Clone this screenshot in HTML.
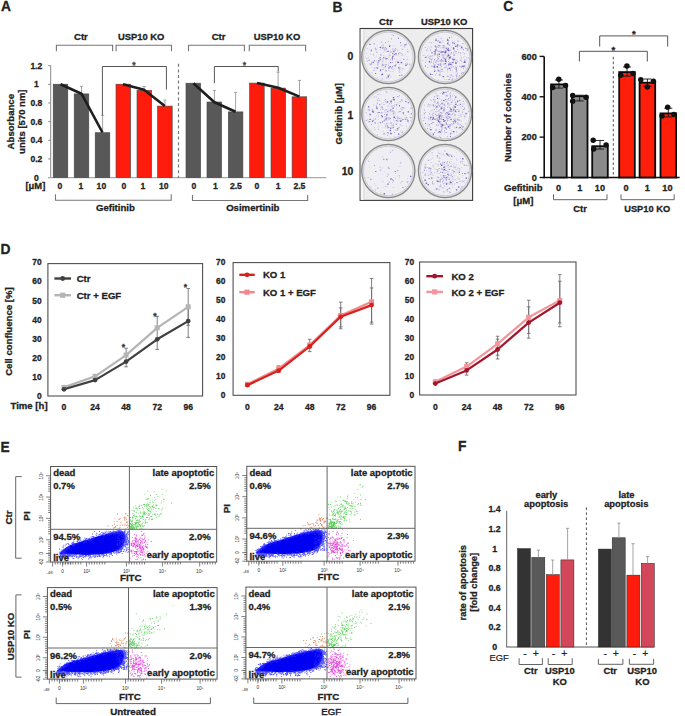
<!DOCTYPE html>
<html><head><meta charset="utf-8"><style>
html,body{margin:0;padding:0;background:#fff;overflow:hidden;width:685px;height:716px;}
svg{display:block;font-family:"Liberation Sans",sans-serif;}
</style></head><body>
<svg width="685" height="716" viewBox="0 0 685 716">
<rect width="685" height="716" fill="#ffffff"/>
<text x="1.0" y="11.4" font-size="13.8" text-anchor="start" font-weight="bold" fill="#222" stroke="#222" stroke-width="0.28">A</text>
<text x="80.9" y="40.0" font-size="9.6" text-anchor="middle" font-weight="bold" fill="#222" stroke="#222" stroke-width="0.28">Ctr</text>
<text x="141.2" y="40.0" font-size="9.4" text-anchor="middle" font-weight="bold" fill="#222" stroke="#222" stroke-width="0.28">USP10 KO</text>
<text x="218.6" y="40.0" font-size="9.6" text-anchor="middle" font-weight="bold" fill="#222" stroke="#222" stroke-width="0.28">Ctr</text>
<text x="277.0" y="40.0" font-size="9.4" text-anchor="middle" font-weight="bold" fill="#222" stroke="#222" stroke-width="0.28">USP10 KO</text>
<polyline points="56.4,51.2 56.4,45.3 112.6,45.3 112.6,51.2" fill="none" stroke="#777" stroke-width="1.1"/>
<polyline points="116.1,51.2 116.1,45.3 171.5,45.3 171.5,51.2" fill="none" stroke="#777" stroke-width="1.1"/>
<polyline points="188.5,51.2 188.5,45.3 244.4,45.3 244.4,51.2" fill="none" stroke="#777" stroke-width="1.1"/>
<polyline points="249.3,51.2 249.3,45.3 305.6,45.3 305.6,51.2" fill="none" stroke="#777" stroke-width="1.1"/>
<line x1="50.7" y1="65.6" x2="50.7" y2="177.6" stroke="#888" stroke-width="1"/>
<line x1="48.2" y1="177.6" x2="50.7" y2="177.6" stroke="#888" stroke-width="1"/>
<text x="36.4" y="180.7" font-size="8.6" text-anchor="middle" font-weight="bold" fill="#222" stroke="#222" stroke-width="0.28">0</text>
<line x1="48.2" y1="158.94" x2="50.7" y2="158.94" stroke="#888" stroke-width="1"/>
<text x="36.4" y="162.04" font-size="8.6" text-anchor="middle" font-weight="bold" fill="#222" stroke="#222" stroke-width="0.28">0.2</text>
<line x1="48.2" y1="140.28" x2="50.7" y2="140.28" stroke="#888" stroke-width="1"/>
<text x="36.4" y="143.38" font-size="8.6" text-anchor="middle" font-weight="bold" fill="#222" stroke="#222" stroke-width="0.28">0.4</text>
<line x1="48.2" y1="121.61999999999999" x2="50.7" y2="121.61999999999999" stroke="#888" stroke-width="1"/>
<text x="36.4" y="124.71999999999998" font-size="8.6" text-anchor="middle" font-weight="bold" fill="#222" stroke="#222" stroke-width="0.28">0.6</text>
<line x1="48.2" y1="102.96" x2="50.7" y2="102.96" stroke="#888" stroke-width="1"/>
<text x="36.4" y="106.05999999999999" font-size="8.6" text-anchor="middle" font-weight="bold" fill="#222" stroke="#222" stroke-width="0.28">0.8</text>
<line x1="48.2" y1="84.3" x2="50.7" y2="84.3" stroke="#888" stroke-width="1"/>
<text x="36.4" y="87.39999999999999" font-size="8.6" text-anchor="middle" font-weight="bold" fill="#222" stroke="#222" stroke-width="0.28">1</text>
<line x1="48.2" y1="65.63999999999999" x2="50.7" y2="65.63999999999999" stroke="#888" stroke-width="1"/>
<text x="36.4" y="68.73999999999998" font-size="8.6" text-anchor="middle" font-weight="bold" fill="#222" stroke="#222" stroke-width="0.28">1.2</text>
<line x1="48.2" y1="177.6" x2="326.3" y2="177.6" stroke="#aaa" stroke-width="1.2"/>
<text x="14.4" y="121.7" font-size="9.6" text-anchor="middle" font-weight="bold" fill="#222" stroke="#222" stroke-width="0.28" transform="rotate(-90 14.4 121.7)">Absorbance</text>
<text x="24.6" y="121.7" font-size="9.5" text-anchor="middle" font-weight="bold" fill="#222" stroke="#222" stroke-width="0.28" transform="rotate(-90 24.6 121.7)">units [570 nm]</text>
<rect x="53.2" y="84.2" width="14.6" height="93.39999999999999" fill="#585858" stroke="#444" stroke-width="0.6"/>
<rect x="74.2" y="93.9" width="14.6" height="83.69999999999999" fill="#585858" stroke="#444" stroke-width="0.6"/>
<rect x="95.2" y="132.7" width="14.6" height="44.900000000000006" fill="#585858" stroke="#444" stroke-width="0.6"/>
<rect x="116.0" y="84.2" width="14.6" height="93.39999999999999" fill="#ff1c0c" stroke="#444" stroke-width="0.6"/>
<rect x="137.0" y="90.3" width="14.6" height="87.3" fill="#ff1c0c" stroke="#444" stroke-width="0.6"/>
<rect x="157.6" y="106.1" width="14.6" height="71.5" fill="#ff1c0c" stroke="#444" stroke-width="0.6"/>
<rect x="186.0" y="83.2" width="14.6" height="94.39999999999999" fill="#585858" stroke="#444" stroke-width="0.6"/>
<rect x="207.0" y="102.0" width="14.6" height="75.6" fill="#585858" stroke="#444" stroke-width="0.6"/>
<rect x="228.3" y="111.9" width="14.6" height="65.69999999999999" fill="#585858" stroke="#444" stroke-width="0.6"/>
<rect x="249.6" y="83.1" width="14.6" height="94.5" fill="#ff1c0c" stroke="#444" stroke-width="0.6"/>
<rect x="271.0" y="88.1" width="14.6" height="89.5" fill="#ff1c0c" stroke="#444" stroke-width="0.6"/>
<rect x="292.1" y="96.8" width="14.6" height="80.8" fill="#ff1c0c" stroke="#444" stroke-width="0.6"/>
<line x1="81.5" y1="86.4" x2="81.5" y2="93.9" stroke="#9a9a9a" stroke-width="0.9"/>
<line x1="79.9" y1="86.4" x2="83.1" y2="86.4" stroke="#9a9a9a" stroke-width="0.9"/>
<line x1="102.6" y1="115.3" x2="102.6" y2="132.7" stroke="#9a9a9a" stroke-width="0.9"/>
<line x1="101.0" y1="115.3" x2="104.19999999999999" y2="115.3" stroke="#9a9a9a" stroke-width="0.9"/>
<line x1="144.1" y1="86.5" x2="144.1" y2="90.3" stroke="#9a9a9a" stroke-width="0.9"/>
<line x1="142.5" y1="86.5" x2="145.7" y2="86.5" stroke="#9a9a9a" stroke-width="0.9"/>
<line x1="164.9" y1="100.1" x2="164.9" y2="106.1" stroke="#9a9a9a" stroke-width="0.9"/>
<line x1="163.3" y1="100.1" x2="166.5" y2="100.1" stroke="#9a9a9a" stroke-width="0.9"/>
<line x1="214.4" y1="90.4" x2="214.4" y2="102.0" stroke="#9a9a9a" stroke-width="0.9"/>
<line x1="212.8" y1="90.4" x2="216.0" y2="90.4" stroke="#9a9a9a" stroke-width="0.9"/>
<line x1="235.6" y1="92.4" x2="235.6" y2="111.9" stroke="#9a9a9a" stroke-width="0.9"/>
<line x1="234.0" y1="92.4" x2="237.2" y2="92.4" stroke="#9a9a9a" stroke-width="0.9"/>
<line x1="278.1" y1="72.2" x2="278.1" y2="88.1" stroke="#9a9a9a" stroke-width="0.9"/>
<line x1="276.5" y1="72.2" x2="279.70000000000005" y2="72.2" stroke="#9a9a9a" stroke-width="0.9"/>
<line x1="299.5" y1="80.4" x2="299.5" y2="96.8" stroke="#9a9a9a" stroke-width="0.9"/>
<line x1="297.9" y1="80.4" x2="301.1" y2="80.4" stroke="#9a9a9a" stroke-width="0.9"/>
<polyline points="60.5,84.2 81.5,93.7 102.5,132.5" fill="none" stroke="#1e1e1e" stroke-width="2.6" stroke-linejoin="round"/>
<polyline points="123.0,84.3 144.0,89.8 164.8,106.0" fill="none" stroke="#1e1e1e" stroke-width="2.6" stroke-linejoin="round"/>
<polyline points="193.4,83.3 214.4,102.2 235.6,111.8" fill="none" stroke="#1e1e1e" stroke-width="2.6" stroke-linejoin="round"/>
<polyline points="257.0,83.0 278.2,87.8 299.5,96.6" fill="none" stroke="#1e1e1e" stroke-width="2.6" stroke-linejoin="round"/>
<polyline points="102.4,115.3 102.4,66.5 166.4,66.5 166.4,89.6" fill="none" stroke="#555" stroke-width="1.0"/>
<text x="133.8" y="68.3" font-size="8.5" text-anchor="middle" font-weight="bold" fill="#444" stroke="#444" stroke-width="0.28">*</text>
<polyline points="214.4,83.1 214.4,66.5 278.2,66.5 278.2,71.5" fill="none" stroke="#555" stroke-width="1.0"/>
<text x="244.4" y="68.3" font-size="8.5" text-anchor="middle" font-weight="bold" fill="#444" stroke="#444" stroke-width="0.28">*</text>
<line x1="178.5" y1="63.8" x2="178.5" y2="178" stroke="#777" stroke-width="1.2" stroke-dasharray="3 2.6"/>
<text x="59.9" y="189.4" font-size="8.6" text-anchor="middle" font-weight="bold" fill="#222" stroke="#222" stroke-width="0.28">0</text>
<text x="81.0" y="189.4" font-size="8.6" text-anchor="middle" font-weight="bold" fill="#222" stroke="#222" stroke-width="0.28">1</text>
<text x="101.4" y="189.4" font-size="8.6" text-anchor="middle" font-weight="bold" fill="#222" stroke="#222" stroke-width="0.28">10</text>
<text x="123.8" y="189.4" font-size="8.6" text-anchor="middle" font-weight="bold" fill="#222" stroke="#222" stroke-width="0.28">0</text>
<text x="142.9" y="189.4" font-size="8.6" text-anchor="middle" font-weight="bold" fill="#222" stroke="#222" stroke-width="0.28">1</text>
<text x="163.7" y="189.4" font-size="8.6" text-anchor="middle" font-weight="bold" fill="#222" stroke="#222" stroke-width="0.28">10</text>
<text x="193.9" y="189.4" font-size="8.6" text-anchor="middle" font-weight="bold" fill="#222" stroke="#222" stroke-width="0.28">0</text>
<text x="215.3" y="189.4" font-size="8.6" text-anchor="middle" font-weight="bold" fill="#222" stroke="#222" stroke-width="0.28">1</text>
<text x="235.9" y="189.4" font-size="8.6" text-anchor="middle" font-weight="bold" fill="#222" stroke="#222" stroke-width="0.28">2.5</text>
<text x="257.0" y="189.4" font-size="8.6" text-anchor="middle" font-weight="bold" fill="#222" stroke="#222" stroke-width="0.28">0</text>
<text x="278.1" y="189.4" font-size="8.6" text-anchor="middle" font-weight="bold" fill="#222" stroke="#222" stroke-width="0.28">1</text>
<text x="299.4" y="189.4" font-size="8.6" text-anchor="middle" font-weight="bold" fill="#222" stroke="#222" stroke-width="0.28">2.5</text>
<text x="45.3" y="189.4" font-size="9.4" text-anchor="end" font-weight="bold" fill="#222" stroke="#222" stroke-width="0.28">[μM]</text>
<polyline points="55.5,194.2 55.5,200.3 171.2,200.3 171.2,194.2" fill="none" stroke="#777" stroke-width="1.1"/>
<polyline points="192.5,195.0 192.5,200.5 307.7,200.5 307.7,195.0" fill="none" stroke="#777" stroke-width="1.1"/>
<text x="115.4" y="211.0" font-size="9.6" text-anchor="middle" font-weight="bold" fill="#222" stroke="#222" stroke-width="0.28">Gefitinib</text>
<text x="252.8" y="210.9" font-size="9.6" text-anchor="middle" font-weight="bold" fill="#222" stroke="#222" stroke-width="0.28">Osimertinib</text>
<text x="332.6" y="11.6" font-size="13.8" text-anchor="start" font-weight="bold" fill="#222" stroke="#222" stroke-width="0.28">B</text>
<text x="386.0" y="25.4" font-size="9.6" text-anchor="middle" font-weight="bold" fill="#222" stroke="#222" stroke-width="0.28">Ctr</text>
<text x="444.2" y="25.2" font-size="9.4" text-anchor="middle" font-weight="bold" fill="#222" stroke="#222" stroke-width="0.28">USP10 KO</text>
<text x="353.4" y="60.2" font-size="10.4" text-anchor="end" font-weight="bold" fill="#222" stroke="#222" stroke-width="0.28">0</text>
<text x="353.4" y="118.5" font-size="10.4" text-anchor="end" font-weight="bold" fill="#222" stroke="#222" stroke-width="0.28">1</text>
<text x="353.4" y="175.3" font-size="10.4" text-anchor="end" font-weight="bold" fill="#222" stroke="#222" stroke-width="0.28">10</text>
<text x="341.6" y="113.8" font-size="9.5" text-anchor="middle" font-weight="bold" fill="#222" stroke="#222" stroke-width="0.28" transform="rotate(-90 341.6 113.8)">Gefitinib [μM]</text>
<rect x="360.1" y="28.5" width="112.5" height="171.9" fill="#ededed" stroke="#3a3a3a" stroke-width="1.1"/>
<rect x="360.7" y="29.1" width="3.2" height="170.7" fill="#f8f8f8" stroke="none" stroke-width="0"/>
<line x1="363.8" y1="29.1" x2="363.8" y2="199.8" stroke="#c8c8c8" stroke-width="0.6"/>
<circle cx="388.3" cy="57.0" r="26.6" fill="#e4e4e8" stroke="#868686" stroke-width="1.3"/>
<circle cx="388.3" cy="57.0" r="24.8" fill="#efeef3" stroke="#c4c4c8" stroke-width="0.8"/>
<path d="M384.8 63.9h1.3v1.3h-1.3zM390.9 51.6h1.0v1.0h-1.0zM384.6 56.8h0.8v0.8h-0.8zM395.2 63.8h1.3v1.3h-1.3zM386.4 64.3h0.5v0.5h-0.5zM369.2 49.4h0.5v0.5h-0.5zM389.0 74.7h1.0v1.0h-1.0zM398.7 66.5h0.7v0.7h-0.7zM384.5 57.3h1.3v1.3h-1.3zM393.5 45.7h0.7v0.7h-0.7zM385.4 70.1h1.3v1.3h-1.3zM400.1 52.4h1.0v1.0h-1.0zM380.1 57.2h0.8v0.8h-0.8zM382.9 44.9h0.6v0.6h-0.6zM392.7 65.8h0.6v0.6h-0.6zM392.5 49.5h0.7v0.7h-0.7zM376.9 63.4h1.0v1.0h-1.0zM407.1 50.9h1.3v1.3h-1.3zM377.6 65.6h0.5v0.5h-0.5zM381.1 62.2h0.6v0.6h-0.6zM402.5 68.7h0.5v0.5h-0.5zM396.7 61.0h0.8v0.8h-0.8zM388.1 69.5h0.7v0.7h-0.7zM400.1 67.4h0.8v0.8h-0.8zM385.4 64.0h1.3v1.3h-1.3zM389.8 59.5h1.0v1.0h-1.0zM397.6 36.7h0.6v0.6h-0.6zM382.0 64.2h0.6v0.6h-0.6zM368.7 59.5h1.3v1.3h-1.3zM395.2 61.1h0.6v0.6h-0.6zM375.5 48.8h1.3v1.3h-1.3zM381.4 46.5h1.0v1.0h-1.0zM392.6 48.7h0.7v0.7h-0.7zM365.2 56.8h0.7v0.7h-0.7zM382.0 60.5h1.3v1.3h-1.3zM371.0 61.7h1.0v1.0h-1.0zM402.2 49.1h1.0v1.0h-1.0zM391.4 38.7h0.6v0.6h-0.6zM366.8 60.6h1.0v1.0h-1.0zM402.0 67.8h0.6v0.6h-0.6zM394.2 58.6h0.8v0.8h-0.8zM391.7 67.4h1.0v1.0h-1.0zM392.6 71.1h0.8v0.8h-0.8zM383.4 58.9h0.6v0.6h-0.6zM400.5 74.8h1.3v1.3h-1.3zM388.2 64.4h0.8v0.8h-0.8zM401.4 53.0h0.8v0.8h-0.8zM383.5 48.6h1.3v1.3h-1.3zM376.0 55.8h0.6v0.6h-0.6zM399.1 64.1h0.7v0.7h-0.7zM385.9 57.9h0.7v0.7h-0.7zM397.6 62.4h0.6v0.6h-0.6zM387.9 64.7h1.0v1.0h-1.0zM376.5 60.5h1.0v1.0h-1.0zM404.6 47.4h0.5v0.5h-0.5zM388.8 63.5h0.6v0.6h-0.6zM376.8 44.9h0.6v0.6h-0.6zM380.0 54.2h0.8v0.8h-0.8zM369.5 63.5h1.3v1.3h-1.3zM375.7 67.0h1.3v1.3h-1.3zM407.2 58.7h0.7v0.7h-0.7zM396.6 59.4h0.7v0.7h-0.7zM405.1 54.1h0.6v0.6h-0.6zM395.3 50.6h0.6v0.6h-0.6zM399.5 71.2h0.8v0.8h-0.8zM401.2 74.6h1.3v1.3h-1.3zM398.9 69.7h1.0v1.0h-1.0zM389.2 54.7h1.3v1.3h-1.3zM391.7 59.0h1.3v1.3h-1.3zM370.5 50.1h1.3v1.3h-1.3zM388.1 41.0h1.0v1.0h-1.0zM366.1 53.3h0.8v0.8h-0.8zM390.7 76.5h0.8v0.8h-0.8zM376.8 67.4h1.3v1.3h-1.3zM406.7 62.6h0.6v0.6h-0.6zM383.0 52.0h0.8v0.8h-0.8zM385.9 77.1h1.3v1.3h-1.3zM367.0 58.4h0.7v0.7h-0.7zM381.6 58.4h1.0v1.0h-1.0zM393.1 54.7h0.5v0.5h-0.5zM385.5 47.6h0.8v0.8h-0.8zM382.5 44.4h1.3v1.3h-1.3zM381.7 66.8h0.7v0.7h-0.7zM385.1 69.7h0.8v0.8h-0.8zM388.3 67.7h1.0v1.0h-1.0zM385.3 58.4h1.3v1.3h-1.3zM380.4 54.4h0.8v0.8h-0.8zM381.7 78.3h1.3v1.3h-1.3zM402.5 70.3h0.5v0.5h-0.5zM401.5 48.1h0.6v0.6h-0.6zM376.9 76.9h0.8v0.8h-0.8zM390.4 62.5h0.7v0.7h-0.7zM382.8 68.8h1.0v1.0h-1.0zM371.7 72.1h0.6v0.6h-0.6zM385.7 61.1h0.7v0.7h-0.7zM398.4 55.2h0.5v0.5h-0.5zM392.8 53.5h0.5v0.5h-0.5zM385.9 63.7h0.7v0.7h-0.7zM367.0 65.8h0.5v0.5h-0.5zM370.6 54.3h0.8v0.8h-0.8zM388.5 56.4h1.0v1.0h-1.0zM378.5 58.5h0.6v0.6h-0.6zM371.6 67.3h0.5v0.5h-0.5zM368.0 57.2h0.8v0.8h-0.8zM390.3 71.1h0.7v0.7h-0.7zM400.3 59.6h0.8v0.8h-0.8zM379.1 56.7h0.6v0.6h-0.6zM392.5 48.1h0.6v0.6h-0.6zM393.3 52.8h1.0v1.0h-1.0zM405.4 63.3h0.8v0.8h-0.8zM406.4 59.7h0.8v0.8h-0.8zM378.8 66.1h0.7v0.7h-0.7zM392.5 60.5h0.5v0.5h-0.5zM395.0 55.1h0.6v0.6h-0.6zM389.7 45.4h0.8v0.8h-0.8zM392.8 69.1h0.8v0.8h-0.8zM388.7 53.1h0.5v0.5h-0.5zM398.2 49.6h0.7v0.7h-0.7zM393.0 55.4h0.6v0.6h-0.6zM388.4 62.0h0.5v0.5h-0.5zM398.9 56.2h0.5v0.5h-0.5zM396.5 55.5h0.6v0.6h-0.6zM373.5 43.1h1.3v1.3h-1.3zM391.7 34.3h0.7v0.7h-0.7zM376.3 51.7h1.3v1.3h-1.3zM380.2 60.2h0.6v0.6h-0.6zM401.6 45.1h0.7v0.7h-0.7zM388.2 67.2h1.0v1.0h-1.0zM395.4 38.6h0.5v0.5h-0.5zM399.3 59.8h0.5v0.5h-0.5zM402.7 68.3h1.0v1.0h-1.0zM400.3 59.9h0.5v0.5h-0.5zM377.3 64.1h1.0v1.0h-1.0zM384.3 50.3h1.0v1.0h-1.0zM381.3 44.7h0.5v0.5h-0.5zM376.6 51.8h0.8v0.8h-0.8zM380.0 46.4h0.8v0.8h-0.8zM380.5 59.0h0.5v0.5h-0.5zM394.2 68.1h0.6v0.6h-0.6zM381.0 74.1h1.3v1.3h-1.3zM392.4 49.4h0.6v0.6h-0.6zM395.6 54.0h0.7v0.7h-0.7zM388.7 78.8h0.6v0.6h-0.6zM382.2 69.1h0.8v0.8h-0.8zM380.2 48.7h0.8v0.8h-0.8zM388.4 70.5h0.7v0.7h-0.7zM380.1 59.2h0.8v0.8h-0.8zM400.0 62.2h0.7v0.7h-0.7zM373.2 62.8h0.5v0.5h-0.5zM379.9 77.0h0.5v0.5h-0.5zM375.1 56.7h0.6v0.6h-0.6zM399.9 62.0h0.7v0.7h-0.7zM397.0 50.4h0.8v0.8h-0.8zM391.0 67.2h1.0v1.0h-1.0zM382.0 63.5h0.8v0.8h-0.8zM407.2 49.0h0.8v0.8h-0.8zM389.8 50.4h1.0v1.0h-1.0zM379.0 47.1h0.7v0.7h-0.7zM406.1 55.9h0.7v0.7h-0.7zM405.8 43.6h1.3v1.3h-1.3zM399.4 72.1h0.8v0.8h-0.8z" fill="#8270d0" fill-opacity="0.5"/>
<path d="M389.3 74.1h0.5v0.5h-0.5zM405.0 63.8h0.5v0.5h-0.5zM379.9 47.0h1.0v1.0h-1.0zM371.0 49.6h0.8v0.8h-0.8zM377.7 62.2h1.0v1.0h-1.0zM381.7 64.8h0.6v0.6h-0.6zM380.1 69.3h1.0v1.0h-1.0zM375.2 49.8h0.5v0.5h-0.5zM368.5 60.2h0.5v0.5h-0.5zM381.8 73.6h1.3v1.3h-1.3zM409.9 65.4h0.6v0.6h-0.6zM395.5 48.7h0.8v0.8h-0.8zM391.9 62.1h0.7v0.7h-0.7zM388.9 45.6h1.3v1.3h-1.3zM384.8 47.0h0.7v0.7h-0.7zM382.4 64.6h1.0v1.0h-1.0zM383.7 65.5h0.6v0.6h-0.6zM366.3 58.0h0.5v0.5h-0.5zM379.5 58.5h1.0v1.0h-1.0zM380.1 70.3h1.0v1.0h-1.0zM392.9 34.9h0.8v0.8h-0.8zM370.6 64.8h0.5v0.5h-0.5zM401.7 54.6h0.8v0.8h-0.8zM387.4 50.7h1.3v1.3h-1.3zM381.4 41.8h0.8v0.8h-0.8zM370.8 63.5h1.0v1.0h-1.0zM398.1 53.3h1.0v1.0h-1.0zM391.0 68.2h0.5v0.5h-0.5zM398.1 67.3h1.3v1.3h-1.3zM386.5 51.4h0.5v0.5h-0.5zM388.0 59.5h0.5v0.5h-0.5zM379.8 57.0h0.7v0.7h-0.7zM392.0 56.9h0.5v0.5h-0.5zM389.5 66.0h1.3v1.3h-1.3zM407.2 63.8h0.8v0.8h-0.8zM383.0 47.3h0.6v0.6h-0.6zM377.0 67.4h1.0v1.0h-1.0zM385.0 66.3h1.0v1.0h-1.0zM393.1 50.7h1.3v1.3h-1.3zM369.3 43.8h1.3v1.3h-1.3zM398.0 37.8h1.0v1.0h-1.0zM404.4 44.2h1.3v1.3h-1.3zM388.7 67.6h0.8v0.8h-0.8zM397.8 61.8h1.3v1.3h-1.3zM394.5 65.3h1.3v1.3h-1.3zM403.3 58.7h1.0v1.0h-1.0zM378.1 60.4h0.6v0.6h-0.6zM392.0 53.1h0.8v0.8h-0.8zM395.0 48.3h0.5v0.5h-0.5zM400.6 44.9h0.6v0.6h-0.6zM409.3 63.7h0.8v0.8h-0.8zM381.9 47.5h1.0v1.0h-1.0zM375.1 72.9h1.0v1.0h-1.0zM394.5 49.8h0.7v0.7h-0.7zM373.7 70.0h0.8v0.8h-0.8zM391.7 57.5h1.3v1.3h-1.3zM383.0 57.3h1.0v1.0h-1.0zM400.7 69.5h0.5v0.5h-0.5zM387.0 58.0h0.7v0.7h-0.7zM392.0 65.9h0.8v0.8h-0.8zM400.9 62.0h1.3v1.3h-1.3zM399.3 51.9h0.6v0.6h-0.6zM373.2 54.6h0.7v0.7h-0.7zM385.8 48.4h1.0v1.0h-1.0zM389.9 52.4h0.6v0.6h-0.6zM392.2 55.8h1.3v1.3h-1.3zM383.9 67.0h0.5v0.5h-0.5zM385.0 42.2h0.8v0.8h-0.8zM399.0 68.8h0.5v0.5h-0.5zM391.0 38.6h0.7v0.7h-0.7zM374.9 47.8h0.8v0.8h-0.8zM380.6 54.8h0.8v0.8h-0.8zM390.1 62.0h1.0v1.0h-1.0zM378.3 60.3h1.3v1.3h-1.3zM387.7 75.3h1.3v1.3h-1.3zM383.6 55.5h0.5v0.5h-0.5zM399.1 74.9h0.8v0.8h-0.8zM374.2 67.7h0.7v0.7h-0.7zM394.1 54.1h0.8v0.8h-0.8zM403.9 46.3h0.6v0.6h-0.6zM400.0 42.2h1.0v1.0h-1.0zM367.2 48.3h0.5v0.5h-0.5zM385.6 58.1h1.0v1.0h-1.0zM373.9 60.2h1.0v1.0h-1.0zM405.4 64.6h1.3v1.3h-1.3zM395.3 52.9h1.3v1.3h-1.3zM372.5 61.8h1.3v1.3h-1.3zM396.9 61.8h1.0v1.0h-1.0zM387.9 76.4h1.0v1.0h-1.0z" fill="#5236b4" fill-opacity="0.78"/>
<circle cx="445.0" cy="57.0" r="26.6" fill="#e4e4e8" stroke="#868686" stroke-width="1.3"/>
<circle cx="445.0" cy="57.0" r="24.8" fill="#efeef3" stroke="#c4c4c8" stroke-width="0.8"/>
<path d="M442.2 60.2h0.8v0.8h-0.8zM443.4 54.6h0.5v0.5h-0.5zM439.5 72.6h1.0v1.0h-1.0zM429.3 47.9h0.6v0.6h-0.6zM445.3 64.7h0.5v0.5h-0.5zM457.3 72.8h0.7v0.7h-0.7zM459.2 45.6h1.0v1.0h-1.0zM465.4 48.5h0.6v0.6h-0.6zM449.8 57.0h0.5v0.5h-0.5zM445.4 61.7h0.5v0.5h-0.5zM436.6 45.8h1.0v1.0h-1.0zM442.5 41.7h1.0v1.0h-1.0zM457.5 38.4h0.8v0.8h-0.8zM440.3 50.0h0.5v0.5h-0.5zM454.9 53.3h0.5v0.5h-0.5zM449.5 53.5h1.0v1.0h-1.0zM444.4 66.9h1.3v1.3h-1.3zM449.8 69.6h1.0v1.0h-1.0zM448.3 43.9h1.0v1.0h-1.0zM451.4 53.0h0.5v0.5h-0.5zM452.2 62.7h0.5v0.5h-0.5zM437.8 58.0h1.3v1.3h-1.3zM439.0 69.9h0.5v0.5h-0.5zM442.5 54.7h0.8v0.8h-0.8zM435.8 54.8h0.5v0.5h-0.5zM441.6 71.1h1.0v1.0h-1.0zM427.3 55.3h0.6v0.6h-0.6zM449.6 77.5h0.8v0.8h-0.8zM454.1 58.5h0.7v0.7h-0.7zM437.0 54.7h1.3v1.3h-1.3zM437.4 47.0h0.7v0.7h-0.7zM452.1 69.8h0.7v0.7h-0.7zM455.6 67.8h1.3v1.3h-1.3zM435.0 49.4h0.6v0.6h-0.6zM444.2 50.8h1.3v1.3h-1.3zM451.1 35.8h0.8v0.8h-0.8zM425.8 56.9h0.8v0.8h-0.8zM457.1 49.1h1.0v1.0h-1.0zM457.3 40.6h1.3v1.3h-1.3zM435.4 61.3h1.3v1.3h-1.3zM442.3 57.3h0.8v0.8h-0.8zM454.5 49.6h0.5v0.5h-0.5zM453.6 54.3h0.7v0.7h-0.7zM429.9 49.4h1.3v1.3h-1.3zM450.1 77.0h0.8v0.8h-0.8zM465.0 48.0h1.0v1.0h-1.0zM455.2 60.8h0.8v0.8h-0.8zM430.9 42.3h1.0v1.0h-1.0zM447.8 42.0h0.6v0.6h-0.6zM448.9 44.8h1.3v1.3h-1.3zM430.8 58.8h1.3v1.3h-1.3zM443.4 55.2h0.5v0.5h-0.5zM455.2 61.9h1.0v1.0h-1.0zM451.2 64.7h0.8v0.8h-0.8zM449.8 49.4h1.3v1.3h-1.3zM441.8 51.0h0.5v0.5h-0.5zM445.7 64.4h0.8v0.8h-0.8zM441.9 47.3h0.6v0.6h-0.6zM446.0 55.8h0.7v0.7h-0.7zM426.5 49.3h0.8v0.8h-0.8zM429.4 56.0h0.6v0.6h-0.6zM441.2 38.4h0.7v0.7h-0.7zM438.3 46.6h1.0v1.0h-1.0zM454.5 51.2h0.7v0.7h-0.7zM439.2 67.4h0.7v0.7h-0.7zM450.7 56.0h0.5v0.5h-0.5zM431.9 52.4h1.0v1.0h-1.0zM460.8 47.0h1.0v1.0h-1.0zM435.4 38.6h1.3v1.3h-1.3zM451.9 62.1h0.5v0.5h-0.5zM452.5 65.9h1.3v1.3h-1.3zM440.4 70.5h0.7v0.7h-0.7zM428.7 49.8h0.5v0.5h-0.5zM442.8 57.8h0.8v0.8h-0.8zM464.9 56.1h0.6v0.6h-0.6zM439.6 60.3h1.3v1.3h-1.3zM460.1 45.4h0.8v0.8h-0.8zM442.2 50.7h0.5v0.5h-0.5zM444.3 51.4h1.3v1.3h-1.3zM448.3 58.1h0.5v0.5h-0.5zM437.0 58.5h0.5v0.5h-0.5zM433.3 41.9h0.8v0.8h-0.8zM439.8 70.4h0.6v0.6h-0.6zM444.8 57.8h0.7v0.7h-0.7zM443.2 64.3h1.0v1.0h-1.0zM428.2 57.0h1.0v1.0h-1.0zM446.9 75.5h1.3v1.3h-1.3zM443.4 56.0h0.8v0.8h-0.8zM446.4 47.2h1.0v1.0h-1.0zM438.0 71.5h0.6v0.6h-0.6zM448.0 65.0h1.3v1.3h-1.3zM434.5 67.9h0.5v0.5h-0.5zM452.6 62.1h1.0v1.0h-1.0zM435.4 52.7h0.7v0.7h-0.7zM442.7 59.2h0.5v0.5h-0.5zM443.4 51.3h0.7v0.7h-0.7zM438.2 64.2h1.3v1.3h-1.3zM455.1 59.5h0.7v0.7h-0.7zM442.0 55.9h0.5v0.5h-0.5zM422.8 55.1h0.8v0.8h-0.8zM439.5 74.3h1.3v1.3h-1.3zM440.3 66.4h0.5v0.5h-0.5zM442.9 58.9h0.5v0.5h-0.5zM426.1 59.7h0.6v0.6h-0.6zM444.3 48.5h0.8v0.8h-0.8zM443.6 70.9h0.6v0.6h-0.6zM434.7 52.1h0.6v0.6h-0.6zM456.6 66.5h0.8v0.8h-0.8zM461.7 72.5h0.7v0.7h-0.7zM444.3 67.0h0.6v0.6h-0.6zM465.4 64.7h0.7v0.7h-0.7zM435.6 45.7h1.0v1.0h-1.0zM445.5 57.6h1.0v1.0h-1.0zM442.5 60.0h0.8v0.8h-0.8zM438.3 53.8h0.6v0.6h-0.6zM446.0 65.4h1.0v1.0h-1.0zM451.8 40.4h0.6v0.6h-0.6zM455.4 45.1h0.5v0.5h-0.5zM445.6 49.8h1.3v1.3h-1.3zM439.6 63.0h0.7v0.7h-0.7zM443.3 63.3h1.3v1.3h-1.3zM428.4 55.6h1.0v1.0h-1.0zM445.2 62.8h1.0v1.0h-1.0zM453.2 63.2h0.5v0.5h-0.5zM464.9 47.1h0.7v0.7h-0.7zM430.6 46.6h1.0v1.0h-1.0zM451.7 58.9h0.8v0.8h-0.8zM445.5 50.5h0.5v0.5h-0.5zM456.8 70.8h0.6v0.6h-0.6zM464.1 59.2h1.3v1.3h-1.3zM457.2 61.1h0.8v0.8h-0.8zM447.6 53.3h1.0v1.0h-1.0zM451.5 57.5h0.6v0.6h-0.6zM430.3 63.6h0.5v0.5h-0.5zM461.5 47.6h1.3v1.3h-1.3zM461.8 48.3h0.7v0.7h-0.7zM454.9 57.9h0.5v0.5h-0.5zM438.3 75.4h0.5v0.5h-0.5zM449.6 53.7h1.0v1.0h-1.0zM460.4 48.0h0.7v0.7h-0.7zM427.2 48.6h0.6v0.6h-0.6zM439.9 71.6h0.7v0.7h-0.7zM440.6 64.6h1.0v1.0h-1.0zM443.2 55.9h0.7v0.7h-0.7zM456.5 53.4h0.7v0.7h-0.7zM438.4 79.4h0.6v0.6h-0.6zM435.1 49.2h1.3v1.3h-1.3zM468.1 57.6h1.0v1.0h-1.0zM441.5 75.6h0.5v0.5h-0.5zM430.7 61.4h1.3v1.3h-1.3zM435.0 70.2h1.0v1.0h-1.0zM454.4 44.1h0.8v0.8h-0.8zM432.9 62.2h0.6v0.6h-0.6zM448.0 56.2h0.7v0.7h-0.7zM447.5 40.3h0.8v0.8h-0.8zM424.5 54.8h0.8v0.8h-0.8zM437.6 42.2h0.5v0.5h-0.5zM425.4 56.9h1.0v1.0h-1.0zM450.4 70.1h0.8v0.8h-0.8zM435.8 70.9h0.5v0.5h-0.5zM442.4 54.0h0.8v0.8h-0.8zM466.4 57.4h1.0v1.0h-1.0zM427.7 46.6h0.6v0.6h-0.6zM437.5 56.3h0.6v0.6h-0.6zM450.7 62.5h1.0v1.0h-1.0zM451.7 61.9h1.0v1.0h-1.0zM453.2 60.4h1.0v1.0h-1.0zM427.5 64.0h0.6v0.6h-0.6zM454.7 72.2h0.6v0.6h-0.6zM447.1 68.5h1.3v1.3h-1.3zM447.7 47.2h0.6v0.6h-0.6zM443.8 58.2h0.7v0.7h-0.7zM437.0 66.3h0.8v0.8h-0.8zM432.3 52.5h0.8v0.8h-0.8zM445.3 60.6h1.3v1.3h-1.3zM448.4 47.5h0.6v0.6h-0.6zM455.2 67.6h0.6v0.6h-0.6zM435.0 51.5h0.8v0.8h-0.8zM463.3 56.8h0.8v0.8h-0.8zM438.1 64.5h1.0v1.0h-1.0zM460.9 73.0h1.3v1.3h-1.3zM434.6 54.2h0.8v0.8h-0.8zM443.5 49.6h0.5v0.5h-0.5zM452.3 61.4h0.6v0.6h-0.6zM452.8 35.5h0.6v0.6h-0.6zM452.4 65.1h0.5v0.5h-0.5zM451.4 37.2h0.8v0.8h-0.8zM440.7 42.5h0.8v0.8h-0.8zM439.1 50.8h0.5v0.5h-0.5zM437.6 51.0h1.3v1.3h-1.3zM457.4 75.5h1.0v1.0h-1.0zM439.5 50.5h0.6v0.6h-0.6zM462.6 71.9h1.3v1.3h-1.3zM437.8 50.6h1.0v1.0h-1.0zM450.5 76.5h0.6v0.6h-0.6zM452.9 41.5h0.6v0.6h-0.6zM464.0 53.3h1.0v1.0h-1.0zM453.0 55.1h0.7v0.7h-0.7zM429.5 58.3h1.3v1.3h-1.3zM430.3 55.6h1.3v1.3h-1.3zM452.4 45.3h0.6v0.6h-0.6zM441.9 69.4h0.6v0.6h-0.6zM438.7 59.1h0.7v0.7h-0.7zM434.8 52.3h1.0v1.0h-1.0zM445.0 51.3h1.3v1.3h-1.3zM444.3 46.4h1.3v1.3h-1.3zM436.9 60.5h1.0v1.0h-1.0zM438.9 64.7h0.6v0.6h-0.6zM441.4 59.5h0.6v0.6h-0.6zM439.7 51.6h0.6v0.6h-0.6zM448.3 59.1h0.8v0.8h-0.8zM435.1 62.0h1.3v1.3h-1.3zM437.0 41.3h0.8v0.8h-0.8zM435.2 74.3h1.0v1.0h-1.0zM459.9 52.5h1.3v1.3h-1.3zM456.1 44.5h1.3v1.3h-1.3zM455.8 71.2h1.0v1.0h-1.0zM430.6 65.4h1.0v1.0h-1.0zM444.3 66.7h0.6v0.6h-0.6zM442.5 47.6h0.8v0.8h-0.8zM445.3 50.3h1.3v1.3h-1.3zM425.0 62.1h1.0v1.0h-1.0zM461.9 52.7h0.5v0.5h-0.5zM445.8 52.4h0.6v0.6h-0.6zM465.4 62.5h0.6v0.6h-0.6zM444.8 54.9h0.7v0.7h-0.7zM462.8 62.0h0.5v0.5h-0.5zM439.7 57.4h0.7v0.7h-0.7zM454.3 41.5h0.7v0.7h-0.7zM435.7 60.1h1.0v1.0h-1.0zM443.3 44.9h0.8v0.8h-0.8zM444.1 58.2h1.0v1.0h-1.0zM446.5 67.2h1.0v1.0h-1.0zM457.3 73.1h0.7v0.7h-0.7zM442.4 45.0h1.3v1.3h-1.3zM452.8 56.8h0.6v0.6h-0.6zM455.3 46.2h0.8v0.8h-0.8zM438.5 53.1h1.3v1.3h-1.3zM442.5 40.0h0.7v0.7h-0.7zM459.2 63.5h0.6v0.6h-0.6zM445.2 59.7h0.5v0.5h-0.5zM453.8 48.3h0.6v0.6h-0.6zM447.2 54.8h0.7v0.7h-0.7zM449.0 50.2h0.5v0.5h-0.5zM459.5 75.1h0.5v0.5h-0.5zM437.0 66.5h1.3v1.3h-1.3zM426.3 50.3h1.0v1.0h-1.0zM447.4 75.7h1.3v1.3h-1.3zM459.8 54.9h0.7v0.7h-0.7zM434.3 55.0h0.7v0.7h-0.7zM425.4 60.0h0.7v0.7h-0.7zM440.1 52.1h1.0v1.0h-1.0zM436.9 54.1h1.0v1.0h-1.0zM437.8 63.0h0.5v0.5h-0.5zM439.2 45.8h0.6v0.6h-0.6zM462.9 50.5h0.6v0.6h-0.6zM466.2 59.8h0.6v0.6h-0.6zM451.6 78.9h1.3v1.3h-1.3zM452.5 65.7h0.5v0.5h-0.5zM444.6 52.8h0.8v0.8h-0.8zM444.1 59.9h0.5v0.5h-0.5zM451.2 53.2h0.7v0.7h-0.7zM444.5 50.9h0.6v0.6h-0.6z" fill="#8270d0" fill-opacity="0.5"/>
<path d="M448.8 50.0h0.5v0.5h-0.5zM444.8 59.1h1.3v1.3h-1.3zM450.7 64.1h1.0v1.0h-1.0zM440.8 67.7h0.5v0.5h-0.5zM440.7 51.5h1.3v1.3h-1.3zM431.3 52.2h1.0v1.0h-1.0zM461.0 46.5h1.3v1.3h-1.3zM454.2 42.9h0.8v0.8h-0.8zM424.9 65.4h1.0v1.0h-1.0zM439.2 51.4h0.6v0.6h-0.6zM452.3 58.4h1.3v1.3h-1.3zM437.8 36.0h0.5v0.5h-0.5zM445.7 48.0h1.0v1.0h-1.0zM445.1 51.2h1.3v1.3h-1.3zM448.9 55.2h0.7v0.7h-0.7zM447.2 38.7h0.8v0.8h-0.8zM438.9 56.3h0.8v0.8h-0.8zM460.8 57.4h0.8v0.8h-0.8zM466.5 48.3h0.8v0.8h-0.8zM436.2 47.8h0.8v0.8h-0.8zM462.5 42.9h0.8v0.8h-0.8zM428.8 61.1h1.3v1.3h-1.3zM455.0 46.0h1.0v1.0h-1.0zM449.1 67.7h1.3v1.3h-1.3zM428.9 42.4h0.6v0.6h-0.6zM442.9 57.5h0.8v0.8h-0.8zM444.0 79.2h0.5v0.5h-0.5zM435.3 39.8h1.3v1.3h-1.3zM440.6 38.4h0.7v0.7h-0.7zM461.5 61.0h0.6v0.6h-0.6zM436.5 66.1h1.3v1.3h-1.3zM448.6 79.0h1.0v1.0h-1.0zM437.1 58.9h0.5v0.5h-0.5zM434.8 45.6h1.0v1.0h-1.0zM448.0 50.0h1.3v1.3h-1.3zM433.9 59.3h1.0v1.0h-1.0zM437.6 64.3h0.8v0.8h-0.8zM451.2 52.3h0.7v0.7h-0.7zM447.1 49.1h1.3v1.3h-1.3zM448.9 37.2h1.0v1.0h-1.0zM462.2 65.8h1.3v1.3h-1.3zM449.1 57.5h1.3v1.3h-1.3zM431.8 66.1h0.7v0.7h-0.7zM439.9 64.6h0.8v0.8h-0.8zM444.5 58.4h0.6v0.6h-0.6zM422.2 60.6h0.5v0.5h-0.5zM463.6 61.7h1.3v1.3h-1.3zM447.1 43.0h1.3v1.3h-1.3zM456.1 67.6h0.7v0.7h-0.7zM446.1 79.0h0.6v0.6h-0.6zM430.0 73.8h1.3v1.3h-1.3zM424.8 57.2h0.7v0.7h-0.7zM455.3 62.6h1.3v1.3h-1.3zM435.8 49.5h1.0v1.0h-1.0zM447.6 42.3h0.7v0.7h-0.7zM434.7 52.4h0.5v0.5h-0.5zM444.6 54.6h0.6v0.6h-0.6zM437.7 40.1h0.6v0.6h-0.6zM447.7 48.3h1.3v1.3h-1.3zM433.7 51.0h1.0v1.0h-1.0zM434.8 49.8h1.0v1.0h-1.0zM466.9 49.4h1.0v1.0h-1.0zM444.9 60.8h0.6v0.6h-0.6zM455.3 46.1h0.5v0.5h-0.5zM438.4 45.1h0.8v0.8h-0.8zM459.0 75.0h0.6v0.6h-0.6zM434.3 67.0h0.6v0.6h-0.6zM456.9 47.4h0.6v0.6h-0.6zM461.6 65.8h0.7v0.7h-0.7zM454.4 68.4h0.5v0.5h-0.5zM449.6 56.4h1.3v1.3h-1.3zM460.9 66.7h0.8v0.8h-0.8zM448.3 63.6h1.3v1.3h-1.3zM439.2 41.6h1.3v1.3h-1.3zM432.5 55.5h0.7v0.7h-0.7zM453.0 47.1h0.8v0.8h-0.8zM456.5 62.5h0.6v0.6h-0.6zM452.9 48.1h1.3v1.3h-1.3zM433.2 61.3h0.5v0.5h-0.5zM424.8 47.1h0.6v0.6h-0.6zM453.9 43.0h0.8v0.8h-0.8zM437.6 69.5h1.0v1.0h-1.0zM439.6 45.5h0.8v0.8h-0.8zM433.0 63.5h0.8v0.8h-0.8zM447.7 54.6h1.3v1.3h-1.3zM449.2 62.6h0.6v0.6h-0.6zM459.5 65.9h0.8v0.8h-0.8zM433.9 66.5h1.3v1.3h-1.3zM427.5 67.1h0.6v0.6h-0.6zM452.1 42.2h1.3v1.3h-1.3zM442.8 76.0h1.3v1.3h-1.3zM455.5 51.2h1.0v1.0h-1.0zM453.9 54.6h0.8v0.8h-0.8zM464.7 62.2h0.8v0.8h-0.8zM452.5 42.6h0.5v0.5h-0.5zM441.5 69.0h1.0v1.0h-1.0zM438.0 60.8h0.7v0.7h-0.7zM440.9 59.5h1.0v1.0h-1.0zM447.1 39.6h1.3v1.3h-1.3zM430.9 59.9h0.5v0.5h-0.5zM437.9 40.6h0.6v0.6h-0.6zM440.0 63.6h0.7v0.7h-0.7zM438.9 74.4h0.8v0.8h-0.8zM463.6 65.4h1.3v1.3h-1.3zM431.9 74.3h0.8v0.8h-0.8zM447.1 71.7h0.6v0.6h-0.6zM441.6 51.4h1.0v1.0h-1.0zM441.3 66.0h0.6v0.6h-0.6zM434.7 64.5h0.8v0.8h-0.8zM452.8 59.0h0.6v0.6h-0.6zM442.8 46.8h0.8v0.8h-0.8zM441.7 54.4h0.6v0.6h-0.6zM456.6 59.7h0.7v0.7h-0.7zM462.9 67.8h0.8v0.8h-0.8zM458.5 52.3h0.7v0.7h-0.7zM434.7 46.3h0.5v0.5h-0.5zM448.5 68.2h0.6v0.6h-0.6zM456.0 70.6h0.7v0.7h-0.7zM455.5 66.6h0.6v0.6h-0.6zM454.2 50.0h0.5v0.5h-0.5zM441.2 61.6h0.7v0.7h-0.7zM463.1 49.2h0.7v0.7h-0.7zM464.9 67.6h0.5v0.5h-0.5zM451.1 47.4h0.6v0.6h-0.6zM442.4 51.3h1.3v1.3h-1.3zM444.4 44.9h0.6v0.6h-0.6zM445.3 60.9h1.0v1.0h-1.0zM437.1 57.0h0.7v0.7h-0.7zM447.6 69.8h0.5v0.5h-0.5zM446.7 57.7h0.6v0.6h-0.6zM450.8 66.8h0.8v0.8h-0.8zM438.3 70.5h1.0v1.0h-1.0zM463.3 52.5h0.5v0.5h-0.5zM452.7 76.0h0.8v0.8h-0.8zM444.9 63.1h1.0v1.0h-1.0zM439.0 54.1h1.0v1.0h-1.0zM455.7 69.0h1.0v1.0h-1.0zM450.3 62.0h0.5v0.5h-0.5zM457.1 44.4h1.3v1.3h-1.3zM456.1 76.5h0.7v0.7h-0.7zM429.5 72.9h0.7v0.7h-0.7zM436.4 73.3h0.5v0.5h-0.5zM440.3 47.7h0.6v0.6h-0.6zM434.4 53.2h1.3v1.3h-1.3zM447.1 56.3h0.7v0.7h-0.7zM429.4 58.3h0.5v0.5h-0.5zM453.4 58.9h1.3v1.3h-1.3zM433.0 66.6h0.6v0.6h-0.6zM434.3 69.8h0.7v0.7h-0.7zM441.6 54.8h0.6v0.6h-0.6zM434.0 70.9h1.0v1.0h-1.0zM448.6 56.8h1.0v1.0h-1.0zM452.5 62.1h0.8v0.8h-0.8zM436.5 47.4h0.7v0.7h-0.7zM448.3 61.1h0.7v0.7h-0.7zM425.8 55.9h0.7v0.7h-0.7zM432.1 58.5h0.6v0.6h-0.6zM435.0 51.1h0.7v0.7h-0.7zM444.9 59.9h0.6v0.6h-0.6zM450.7 74.6h1.0v1.0h-1.0zM452.3 77.9h0.6v0.6h-0.6zM442.5 76.3h0.5v0.5h-0.5zM453.3 52.6h0.7v0.7h-0.7zM460.4 59.7h1.0v1.0h-1.0zM442.6 61.0h0.8v0.8h-0.8zM461.0 66.7h0.8v0.8h-0.8zM449.6 56.6h1.0v1.0h-1.0zM464.2 60.9h1.3v1.3h-1.3zM435.5 47.1h0.5v0.5h-0.5zM450.0 63.8h1.3v1.3h-1.3zM448.0 40.6h0.7v0.7h-0.7zM425.7 57.1h0.7v0.7h-0.7zM444.5 52.0h1.3v1.3h-1.3zM456.6 46.0h1.0v1.0h-1.0zM455.8 74.5h1.0v1.0h-1.0zM446.0 61.3h0.6v0.6h-0.6zM433.8 65.5h1.3v1.3h-1.3z" fill="#5236b4" fill-opacity="0.78"/>
<circle cx="388.3" cy="114.0" r="26.6" fill="#e4e4e8" stroke="#868686" stroke-width="1.3"/>
<circle cx="388.3" cy="114.0" r="24.8" fill="#efeef3" stroke="#c4c4c8" stroke-width="0.8"/>
<path d="M391.8 113.6h0.6v0.6h-0.6zM386.6 112.3h0.6v0.6h-0.6zM397.8 112.3h0.5v0.5h-0.5zM371.8 109.3h1.3v1.3h-1.3zM410.7 113.1h0.7v0.7h-0.7zM382.4 126.9h0.6v0.6h-0.6zM410.8 114.1h0.8v0.8h-0.8zM385.3 117.9h1.0v1.0h-1.0zM377.9 128.8h1.0v1.0h-1.0zM372.0 111.0h1.0v1.0h-1.0zM401.1 117.6h0.8v0.8h-0.8zM394.2 122.5h0.5v0.5h-0.5zM379.7 99.9h0.7v0.7h-0.7zM400.4 130.6h0.7v0.7h-0.7zM378.2 98.0h1.0v1.0h-1.0zM386.4 115.7h0.6v0.6h-0.6zM386.5 125.9h0.6v0.6h-0.6zM385.5 116.9h0.8v0.8h-0.8zM410.2 119.9h0.8v0.8h-0.8zM380.1 107.5h0.6v0.6h-0.6zM385.2 101.3h1.3v1.3h-1.3zM391.8 109.7h0.8v0.8h-0.8zM383.9 100.2h0.8v0.8h-0.8zM400.8 119.4h0.6v0.6h-0.6zM397.4 96.0h1.3v1.3h-1.3zM395.4 120.5h0.5v0.5h-0.5zM404.1 115.5h0.6v0.6h-0.6zM407.6 121.0h1.3v1.3h-1.3zM399.5 101.0h1.3v1.3h-1.3zM394.9 129.5h1.0v1.0h-1.0zM384.3 123.6h0.7v0.7h-0.7zM374.2 113.0h0.5v0.5h-0.5zM387.9 123.1h0.5v0.5h-0.5zM376.4 96.2h0.6v0.6h-0.6zM391.2 105.4h1.3v1.3h-1.3zM399.5 117.7h1.0v1.0h-1.0zM397.6 116.1h0.8v0.8h-0.8zM375.8 105.8h1.3v1.3h-1.3zM386.0 114.0h1.3v1.3h-1.3zM380.5 112.3h1.3v1.3h-1.3zM393.7 120.0h0.8v0.8h-0.8zM386.1 102.5h0.7v0.7h-0.7zM385.6 116.2h0.8v0.8h-0.8zM383.2 133.1h1.3v1.3h-1.3zM366.9 118.9h0.8v0.8h-0.8zM385.2 116.2h0.7v0.7h-0.7zM403.7 107.8h0.7v0.7h-0.7zM391.7 124.5h0.7v0.7h-0.7zM382.6 112.5h0.6v0.6h-0.6zM390.9 91.0h0.6v0.6h-0.6zM385.9 110.4h0.7v0.7h-0.7zM376.2 115.4h0.7v0.7h-0.7zM375.8 105.5h0.5v0.5h-0.5zM376.0 107.3h1.3v1.3h-1.3zM399.2 102.9h0.6v0.6h-0.6zM396.2 120.2h0.6v0.6h-0.6zM381.7 112.5h0.8v0.8h-0.8zM384.7 112.3h0.7v0.7h-0.7zM406.6 102.1h1.0v1.0h-1.0zM390.1 112.5h0.5v0.5h-0.5zM371.4 122.7h0.5v0.5h-0.5zM392.7 110.4h1.0v1.0h-1.0zM406.5 118.8h1.3v1.3h-1.3zM386.4 119.4h0.8v0.8h-0.8zM398.0 127.0h0.6v0.6h-0.6zM392.3 99.0h0.8v0.8h-0.8zM406.3 125.8h0.7v0.7h-0.7zM393.5 99.1h1.3v1.3h-1.3zM394.1 96.8h0.8v0.8h-0.8zM365.8 112.2h1.0v1.0h-1.0zM394.1 105.8h1.0v1.0h-1.0zM394.7 101.7h0.5v0.5h-0.5zM377.9 119.2h0.7v0.7h-0.7zM394.8 114.7h0.8v0.8h-0.8zM376.4 104.8h0.7v0.7h-0.7zM386.8 119.6h0.7v0.7h-0.7zM403.2 128.1h0.5v0.5h-0.5zM386.1 91.4h1.3v1.3h-1.3zM385.6 109.3h1.0v1.0h-1.0zM406.7 121.2h0.8v0.8h-0.8zM392.9 113.3h1.3v1.3h-1.3zM386.7 114.2h0.7v0.7h-0.7zM389.5 137.3h0.5v0.5h-0.5zM384.0 114.1h1.0v1.0h-1.0zM398.7 126.6h0.5v0.5h-0.5zM390.5 101.4h1.3v1.3h-1.3zM392.2 125.3h0.8v0.8h-0.8zM382.9 102.3h0.7v0.7h-0.7zM390.4 102.4h0.6v0.6h-0.6zM368.8 109.6h1.3v1.3h-1.3zM377.3 111.9h1.3v1.3h-1.3zM376.7 108.9h0.7v0.7h-0.7zM388.5 119.2h1.0v1.0h-1.0zM399.1 95.5h0.7v0.7h-0.7zM375.4 123.4h0.7v0.7h-0.7zM386.0 123.1h1.3v1.3h-1.3zM392.8 94.0h0.6v0.6h-0.6zM377.5 94.0h1.0v1.0h-1.0zM387.6 117.5h1.3v1.3h-1.3zM383.7 133.1h1.3v1.3h-1.3zM369.8 112.9h0.6v0.6h-0.6zM377.1 127.6h0.5v0.5h-0.5zM386.7 109.0h0.7v0.7h-0.7zM366.0 120.1h0.8v0.8h-0.8zM402.0 119.3h1.0v1.0h-1.0zM404.8 117.4h0.8v0.8h-0.8zM394.4 98.3h0.5v0.5h-0.5zM386.8 127.1h1.3v1.3h-1.3zM393.9 117.5h0.8v0.8h-0.8zM400.1 111.1h0.7v0.7h-0.7zM402.1 101.1h0.6v0.6h-0.6zM393.9 92.3h0.7v0.7h-0.7zM374.1 96.5h1.0v1.0h-1.0zM383.3 120.4h1.3v1.3h-1.3zM384.4 119.1h1.3v1.3h-1.3zM393.3 99.9h0.5v0.5h-0.5zM396.4 104.0h0.8v0.8h-0.8zM399.0 120.1h0.7v0.7h-0.7zM391.4 107.6h0.5v0.5h-0.5zM388.2 127.5h0.7v0.7h-0.7zM381.5 116.9h0.5v0.5h-0.5zM394.0 113.0h0.5v0.5h-0.5zM369.0 115.9h0.6v0.6h-0.6zM391.9 126.2h0.5v0.5h-0.5zM400.0 124.8h0.8v0.8h-0.8zM373.4 97.4h0.5v0.5h-0.5zM395.9 109.0h0.5v0.5h-0.5zM387.7 121.8h0.5v0.5h-0.5zM410.4 107.8h1.3v1.3h-1.3zM398.7 127.0h1.0v1.0h-1.0zM367.7 109.0h1.3v1.3h-1.3zM384.8 127.2h0.5v0.5h-0.5zM383.9 110.2h1.0v1.0h-1.0zM406.5 126.2h0.5v0.5h-0.5zM386.5 125.5h0.7v0.7h-0.7zM388.5 112.4h0.5v0.5h-0.5zM378.8 92.9h0.6v0.6h-0.6zM375.0 117.8h1.0v1.0h-1.0zM390.2 111.3h0.8v0.8h-0.8zM405.1 115.4h0.7v0.7h-0.7zM392.9 97.9h0.5v0.5h-0.5zM396.8 102.5h0.7v0.7h-0.7zM403.2 107.1h1.3v1.3h-1.3zM382.1 108.6h1.3v1.3h-1.3zM378.7 121.9h0.5v0.5h-0.5zM377.0 99.8h1.3v1.3h-1.3zM400.6 119.6h0.5v0.5h-0.5zM390.4 114.9h0.7v0.7h-0.7zM384.2 104.0h0.8v0.8h-0.8zM376.7 116.9h0.6v0.6h-0.6zM384.3 123.8h0.5v0.5h-0.5zM373.7 127.2h1.0v1.0h-1.0zM374.1 130.4h0.6v0.6h-0.6zM387.2 101.0h0.6v0.6h-0.6zM396.1 120.6h0.6v0.6h-0.6zM405.7 99.0h0.7v0.7h-0.7zM396.6 107.4h0.5v0.5h-0.5zM388.6 117.3h0.8v0.8h-0.8zM401.6 125.0h0.8v0.8h-0.8zM384.0 116.2h0.6v0.6h-0.6zM378.5 125.7h0.7v0.7h-0.7zM397.0 118.2h1.3v1.3h-1.3zM378.4 112.4h0.6v0.6h-0.6zM385.8 119.7h0.8v0.8h-0.8zM401.7 107.1h1.3v1.3h-1.3zM395.0 96.0h0.5v0.5h-0.5zM378.0 115.6h1.0v1.0h-1.0zM387.0 110.8h1.3v1.3h-1.3zM369.8 114.1h1.3v1.3h-1.3zM376.0 96.9h0.5v0.5h-0.5zM394.5 104.2h0.7v0.7h-0.7zM401.1 108.9h1.3v1.3h-1.3zM378.4 126.0h0.5v0.5h-0.5zM381.4 107.5h0.8v0.8h-0.8zM388.4 110.6h0.6v0.6h-0.6z" fill="#8270d0" fill-opacity="0.5"/>
<path d="M390.0 128.3h0.5v0.5h-0.5zM394.3 116.6h0.8v0.8h-0.8zM387.3 113.8h0.6v0.6h-0.6zM401.6 131.8h1.0v1.0h-1.0zM393.5 112.6h0.6v0.6h-0.6zM393.0 123.5h0.5v0.5h-0.5zM389.7 118.0h1.0v1.0h-1.0zM387.0 126.0h0.5v0.5h-0.5zM377.8 123.2h0.6v0.6h-0.6zM381.7 106.5h1.0v1.0h-1.0zM387.8 132.6h0.8v0.8h-0.8zM397.5 96.2h0.5v0.5h-0.5zM408.2 120.4h0.7v0.7h-0.7zM369.4 121.1h0.8v0.8h-0.8zM390.2 133.0h1.3v1.3h-1.3zM389.3 103.5h0.8v0.8h-0.8zM374.8 129.2h0.6v0.6h-0.6zM369.5 118.8h1.3v1.3h-1.3zM399.9 121.2h0.8v0.8h-0.8zM373.6 118.8h0.6v0.6h-0.6zM387.2 132.1h0.7v0.7h-0.7zM373.0 120.3h0.8v0.8h-0.8zM392.6 127.6h0.7v0.7h-0.7zM372.6 111.4h1.3v1.3h-1.3zM406.3 116.9h0.8v0.8h-0.8zM385.0 125.7h0.8v0.8h-0.8zM395.8 123.7h1.0v1.0h-1.0zM388.4 127.3h0.8v0.8h-0.8zM391.7 110.8h0.8v0.8h-0.8zM393.5 119.2h0.5v0.5h-0.5zM393.3 98.9h1.3v1.3h-1.3zM393.2 117.6h0.5v0.5h-0.5zM371.2 124.2h0.7v0.7h-0.7zM375.0 119.1h0.5v0.5h-0.5zM390.2 131.8h0.7v0.7h-0.7zM392.5 107.5h1.3v1.3h-1.3zM382.8 131.0h0.5v0.5h-0.5zM391.0 102.9h0.5v0.5h-0.5zM366.7 120.3h0.5v0.5h-0.5zM377.1 108.0h0.7v0.7h-0.7zM387.0 101.3h1.3v1.3h-1.3zM392.8 127.1h0.6v0.6h-0.6zM392.8 96.9h1.3v1.3h-1.3zM395.4 118.3h0.7v0.7h-0.7zM390.6 109.2h0.7v0.7h-0.7zM393.2 124.8h0.8v0.8h-0.8zM384.1 120.2h0.6v0.6h-0.6zM380.0 94.4h0.5v0.5h-0.5zM385.8 118.5h1.0v1.0h-1.0zM394.3 132.0h0.7v0.7h-0.7zM387.1 134.8h0.7v0.7h-0.7zM394.6 111.8h0.7v0.7h-0.7zM389.6 129.8h1.3v1.3h-1.3zM407.3 120.2h0.8v0.8h-0.8zM400.1 120.8h0.8v0.8h-0.8zM399.0 105.1h1.0v1.0h-1.0zM399.0 105.8h0.7v0.7h-0.7zM382.0 121.4h1.0v1.0h-1.0zM399.6 111.1h0.7v0.7h-0.7zM397.0 128.1h0.5v0.5h-0.5zM396.4 120.2h1.0v1.0h-1.0zM388.2 126.6h0.5v0.5h-0.5zM387.1 125.3h0.7v0.7h-0.7zM379.4 104.3h1.0v1.0h-1.0zM379.9 122.2h1.0v1.0h-1.0zM385.3 91.6h0.5v0.5h-0.5zM373.1 104.7h0.5v0.5h-0.5zM396.7 130.1h0.7v0.7h-0.7zM407.7 111.3h1.3v1.3h-1.3zM387.7 105.7h0.7v0.7h-0.7zM398.7 111.6h0.6v0.6h-0.6zM376.8 102.8h0.8v0.8h-0.8zM400.3 120.3h1.3v1.3h-1.3zM386.3 114.6h1.0v1.0h-1.0zM398.0 133.5h1.3v1.3h-1.3zM390.4 100.6h1.3v1.3h-1.3zM372.2 110.7h1.3v1.3h-1.3zM374.6 122.3h1.0v1.0h-1.0zM376.1 107.5h1.0v1.0h-1.0zM405.3 101.0h1.0v1.0h-1.0zM391.4 132.9h0.7v0.7h-0.7zM378.7 112.1h1.0v1.0h-1.0zM380.1 108.9h0.5v0.5h-0.5zM381.1 115.0h0.8v0.8h-0.8zM393.4 126.8h0.7v0.7h-0.7zM410.3 117.2h1.0v1.0h-1.0zM396.8 117.5h0.5v0.5h-0.5zM402.7 112.2h1.3v1.3h-1.3zM376.9 107.2h0.5v0.5h-0.5zM396.1 104.4h1.0v1.0h-1.0zM371.9 120.5h1.3v1.3h-1.3zM408.0 102.2h1.0v1.0h-1.0zM402.7 119.1h0.8v0.8h-0.8zM385.1 99.0h0.8v0.8h-0.8zM390.1 127.4h1.3v1.3h-1.3zM397.9 117.0h0.6v0.6h-0.6zM404.9 118.7h1.0v1.0h-1.0zM369.4 113.7h1.0v1.0h-1.0zM390.6 122.4h1.0v1.0h-1.0zM381.6 115.8h1.3v1.3h-1.3zM393.9 136.2h0.5v0.5h-0.5zM399.5 95.6h0.5v0.5h-0.5zM389.7 109.7h1.0v1.0h-1.0zM368.5 121.6h0.7v0.7h-0.7zM411.0 113.2h0.7v0.7h-0.7zM377.2 134.5h0.6v0.6h-0.6zM397.1 128.2h1.3v1.3h-1.3zM390.9 124.9h0.5v0.5h-0.5zM382.1 116.8h0.6v0.6h-0.6zM401.3 99.5h1.0v1.0h-1.0zM368.0 106.3h1.3v1.3h-1.3zM397.6 120.8h0.8v0.8h-0.8zM392.9 105.4h0.6v0.6h-0.6zM383.1 104.4h0.5v0.5h-0.5zM393.6 116.6h1.3v1.3h-1.3zM398.8 118.3h0.7v0.7h-0.7zM371.4 129.7h0.6v0.6h-0.6zM399.8 124.5h0.6v0.6h-0.6zM400.2 108.3h0.5v0.5h-0.5zM381.6 103.0h0.5v0.5h-0.5zM379.0 100.6h0.5v0.5h-0.5zM386.6 117.6h0.7v0.7h-0.7zM392.9 110.7h0.6v0.6h-0.6zM403.3 114.0h0.6v0.6h-0.6zM386.9 111.4h0.7v0.7h-0.7z" fill="#5236b4" fill-opacity="0.78"/>
<circle cx="445.0" cy="114.0" r="26.6" fill="#e4e4e8" stroke="#868686" stroke-width="1.3"/>
<circle cx="445.0" cy="114.0" r="24.8" fill="#efeef3" stroke="#c4c4c8" stroke-width="0.8"/>
<path d="M451.5 121.7h0.5v0.5h-0.5zM454.3 117.5h0.6v0.6h-0.6zM455.4 111.1h1.3v1.3h-1.3zM447.0 115.6h0.7v0.7h-0.7zM445.2 105.6h0.6v0.6h-0.6zM451.9 95.5h1.0v1.0h-1.0zM429.9 119.3h1.0v1.0h-1.0zM453.6 111.9h0.5v0.5h-0.5zM436.3 103.0h1.0v1.0h-1.0zM425.1 117.6h0.5v0.5h-0.5zM447.4 136.0h0.7v0.7h-0.7zM449.8 109.4h1.0v1.0h-1.0zM433.2 121.9h0.5v0.5h-0.5zM433.3 117.5h1.0v1.0h-1.0zM437.9 94.9h0.6v0.6h-0.6zM432.9 99.0h1.3v1.3h-1.3zM433.5 106.1h1.0v1.0h-1.0zM446.2 114.6h0.6v0.6h-0.6zM445.1 122.4h0.6v0.6h-0.6zM452.3 123.9h1.0v1.0h-1.0zM439.2 135.7h0.7v0.7h-0.7zM454.5 109.3h0.7v0.7h-0.7zM430.1 99.3h0.7v0.7h-0.7zM453.2 105.1h1.0v1.0h-1.0zM435.0 119.3h0.5v0.5h-0.5zM452.0 100.3h0.8v0.8h-0.8zM423.2 120.0h1.0v1.0h-1.0zM423.7 109.5h0.5v0.5h-0.5zM438.2 96.5h0.6v0.6h-0.6zM437.5 132.5h0.7v0.7h-0.7zM448.2 102.8h0.7v0.7h-0.7zM440.5 124.4h0.7v0.7h-0.7zM455.8 103.5h0.6v0.6h-0.6zM433.4 115.7h0.5v0.5h-0.5zM457.1 119.7h0.8v0.8h-0.8zM450.4 98.6h0.8v0.8h-0.8zM423.8 117.1h1.3v1.3h-1.3zM461.2 108.0h0.5v0.5h-0.5zM438.4 103.5h1.0v1.0h-1.0zM440.3 117.7h1.3v1.3h-1.3zM439.5 136.5h0.6v0.6h-0.6zM428.4 118.5h0.5v0.5h-0.5zM441.3 128.7h1.3v1.3h-1.3zM450.3 92.1h0.8v0.8h-0.8zM449.8 102.6h0.6v0.6h-0.6zM440.2 121.3h0.8v0.8h-0.8zM454.9 114.0h0.7v0.7h-0.7zM449.5 104.3h0.7v0.7h-0.7zM435.0 104.8h0.7v0.7h-0.7zM441.9 91.5h0.7v0.7h-0.7zM437.6 103.0h0.7v0.7h-0.7zM433.1 111.0h0.5v0.5h-0.5zM447.8 126.1h0.6v0.6h-0.6zM447.5 112.2h0.7v0.7h-0.7zM437.9 131.9h1.0v1.0h-1.0zM449.1 110.9h0.8v0.8h-0.8zM459.7 100.3h0.6v0.6h-0.6zM435.1 99.5h0.8v0.8h-0.8zM457.1 118.6h1.3v1.3h-1.3zM429.4 128.6h0.8v0.8h-0.8zM462.4 114.0h0.6v0.6h-0.6zM440.2 93.1h0.6v0.6h-0.6zM460.9 106.9h0.6v0.6h-0.6zM444.4 124.9h0.8v0.8h-0.8zM451.7 109.3h0.6v0.6h-0.6zM431.9 108.9h0.7v0.7h-0.7zM436.0 125.4h0.7v0.7h-0.7zM446.1 119.6h0.6v0.6h-0.6zM453.1 122.0h0.8v0.8h-0.8zM436.1 115.6h1.0v1.0h-1.0zM441.2 112.8h1.3v1.3h-1.3zM423.6 112.8h1.3v1.3h-1.3zM445.0 112.8h1.3v1.3h-1.3zM449.6 96.5h1.3v1.3h-1.3zM447.5 106.5h1.0v1.0h-1.0zM450.1 100.3h0.7v0.7h-0.7zM443.5 112.5h0.7v0.7h-0.7zM441.1 117.8h0.6v0.6h-0.6zM447.6 106.8h0.6v0.6h-0.6zM436.9 117.6h1.3v1.3h-1.3zM445.4 95.7h0.7v0.7h-0.7zM451.6 116.4h0.5v0.5h-0.5zM442.2 106.3h0.8v0.8h-0.8zM447.2 120.5h0.8v0.8h-0.8zM466.2 113.3h0.6v0.6h-0.6zM431.1 99.9h0.8v0.8h-0.8zM443.5 110.8h0.8v0.8h-0.8zM435.1 106.7h0.8v0.8h-0.8zM447.6 117.4h1.0v1.0h-1.0zM431.3 130.2h0.6v0.6h-0.6zM435.8 129.1h1.0v1.0h-1.0zM445.3 106.3h0.5v0.5h-0.5zM463.1 114.5h0.6v0.6h-0.6zM443.9 120.6h0.8v0.8h-0.8zM443.5 103.7h1.3v1.3h-1.3zM442.5 116.7h1.3v1.3h-1.3zM454.6 118.2h0.7v0.7h-0.7zM429.0 113.2h1.0v1.0h-1.0zM445.8 99.0h0.7v0.7h-0.7zM459.6 109.3h0.5v0.5h-0.5zM444.0 130.1h0.8v0.8h-0.8zM449.0 110.1h0.7v0.7h-0.7zM446.0 94.5h1.0v1.0h-1.0zM446.7 124.4h0.5v0.5h-0.5zM456.0 131.4h1.0v1.0h-1.0zM457.3 104.9h0.7v0.7h-0.7zM457.9 123.3h1.0v1.0h-1.0zM452.4 113.1h1.0v1.0h-1.0zM436.4 129.6h0.6v0.6h-0.6zM446.8 114.8h1.0v1.0h-1.0zM432.5 112.8h1.3v1.3h-1.3zM433.1 112.8h0.8v0.8h-0.8zM462.3 128.4h0.7v0.7h-0.7zM430.9 100.2h0.6v0.6h-0.6zM440.2 119.4h0.7v0.7h-0.7zM450.0 120.2h0.6v0.6h-0.6zM447.0 107.3h0.7v0.7h-0.7zM429.5 106.2h0.8v0.8h-0.8zM445.0 92.1h0.6v0.6h-0.6zM430.4 132.3h0.8v0.8h-0.8zM431.1 120.6h0.5v0.5h-0.5zM445.3 101.7h0.5v0.5h-0.5zM439.2 129.2h0.8v0.8h-0.8zM457.8 124.1h0.6v0.6h-0.6zM444.2 117.8h0.5v0.5h-0.5zM444.0 92.5h1.0v1.0h-1.0zM454.6 114.2h0.8v0.8h-0.8zM439.6 123.2h1.3v1.3h-1.3zM458.7 117.3h0.8v0.8h-0.8zM444.9 120.2h0.8v0.8h-0.8zM437.6 115.2h0.8v0.8h-0.8zM443.4 111.4h0.6v0.6h-0.6zM445.6 123.6h1.3v1.3h-1.3zM452.7 126.4h0.6v0.6h-0.6zM443.6 107.4h0.8v0.8h-0.8zM446.4 121.7h0.7v0.7h-0.7zM453.9 99.8h0.7v0.7h-0.7zM432.8 115.3h0.7v0.7h-0.7zM430.4 100.4h0.6v0.6h-0.6zM427.5 123.8h0.6v0.6h-0.6zM456.7 101.7h1.0v1.0h-1.0zM427.6 126.3h0.7v0.7h-0.7zM441.2 103.8h0.5v0.5h-0.5zM432.7 121.8h1.0v1.0h-1.0zM448.3 104.8h0.7v0.7h-0.7zM440.8 92.2h0.6v0.6h-0.6zM437.7 121.9h0.8v0.8h-0.8zM431.8 119.3h0.7v0.7h-0.7zM431.5 97.4h0.7v0.7h-0.7zM456.1 104.9h0.6v0.6h-0.6zM458.5 112.9h0.6v0.6h-0.6zM458.1 114.9h0.7v0.7h-0.7zM436.9 96.8h0.6v0.6h-0.6zM429.5 105.5h0.6v0.6h-0.6zM450.1 109.3h1.0v1.0h-1.0zM433.7 99.5h1.0v1.0h-1.0zM428.0 111.9h0.7v0.7h-0.7zM447.5 98.7h0.5v0.5h-0.5zM437.9 120.7h1.0v1.0h-1.0zM432.6 105.1h0.8v0.8h-0.8zM446.2 91.5h0.5v0.5h-0.5zM459.4 98.9h0.5v0.5h-0.5zM456.0 121.0h0.8v0.8h-0.8zM437.5 124.6h1.3v1.3h-1.3zM429.2 112.9h0.7v0.7h-0.7zM435.7 111.6h0.8v0.8h-0.8zM435.4 130.1h1.0v1.0h-1.0zM446.4 95.2h1.3v1.3h-1.3zM458.2 129.5h0.5v0.5h-0.5zM450.4 129.8h0.7v0.7h-0.7zM429.4 129.6h0.5v0.5h-0.5zM429.7 114.3h0.6v0.6h-0.6zM452.7 117.5h0.6v0.6h-0.6zM440.8 130.2h1.3v1.3h-1.3zM439.6 109.1h0.7v0.7h-0.7zM424.3 104.8h0.7v0.7h-0.7zM459.6 125.6h0.5v0.5h-0.5zM438.9 98.9h0.6v0.6h-0.6zM449.8 107.0h1.0v1.0h-1.0zM438.7 98.5h0.6v0.6h-0.6zM454.9 106.7h0.5v0.5h-0.5zM466.4 117.0h0.5v0.5h-0.5zM453.2 93.6h0.6v0.6h-0.6zM449.9 108.2h1.3v1.3h-1.3zM447.0 124.6h1.0v1.0h-1.0zM440.4 101.2h0.6v0.6h-0.6zM432.8 117.0h0.8v0.8h-0.8zM445.5 91.6h1.3v1.3h-1.3zM452.2 110.8h0.6v0.6h-0.6zM454.0 120.1h1.3v1.3h-1.3zM441.4 131.8h0.6v0.6h-0.6zM449.6 94.1h0.8v0.8h-0.8zM447.3 119.8h0.8v0.8h-0.8zM449.3 107.2h1.0v1.0h-1.0zM430.1 119.9h0.5v0.5h-0.5zM441.2 109.0h0.8v0.8h-0.8zM447.3 102.6h1.3v1.3h-1.3zM452.7 110.9h0.7v0.7h-0.7zM440.1 114.6h1.3v1.3h-1.3zM461.5 120.5h0.5v0.5h-0.5zM447.9 124.0h0.5v0.5h-0.5zM445.1 114.2h0.8v0.8h-0.8zM425.5 125.8h0.5v0.5h-0.5zM454.3 113.8h0.5v0.5h-0.5zM430.0 126.7h1.0v1.0h-1.0zM449.0 105.6h0.5v0.5h-0.5zM438.2 113.6h1.3v1.3h-1.3zM464.0 115.6h1.3v1.3h-1.3zM450.5 132.7h1.3v1.3h-1.3zM441.2 126.8h1.3v1.3h-1.3zM434.9 106.9h0.6v0.6h-0.6zM448.5 115.9h0.7v0.7h-0.7zM463.4 103.4h1.0v1.0h-1.0zM430.9 113.9h0.5v0.5h-0.5zM429.7 117.5h0.8v0.8h-0.8zM436.0 117.9h0.6v0.6h-0.6zM449.3 128.0h1.0v1.0h-1.0zM454.4 127.4h0.8v0.8h-0.8zM446.8 115.7h0.5v0.5h-0.5zM447.7 115.7h1.0v1.0h-1.0zM455.1 118.8h0.8v0.8h-0.8zM434.9 108.0h0.5v0.5h-0.5zM461.8 111.5h1.3v1.3h-1.3zM449.0 116.9h1.3v1.3h-1.3zM440.1 103.9h1.0v1.0h-1.0zM441.4 131.7h0.7v0.7h-0.7zM435.2 114.3h0.5v0.5h-0.5zM450.6 104.2h0.7v0.7h-0.7zM439.8 112.0h1.3v1.3h-1.3zM443.9 132.8h0.6v0.6h-0.6zM457.2 123.4h1.3v1.3h-1.3zM458.1 110.5h1.3v1.3h-1.3zM440.6 133.4h0.8v0.8h-0.8zM460.2 113.3h0.5v0.5h-0.5zM452.8 106.6h0.8v0.8h-0.8zM429.8 111.1h0.5v0.5h-0.5zM443.7 119.5h0.6v0.6h-0.6zM459.5 115.1h0.8v0.8h-0.8zM427.1 121.0h0.5v0.5h-0.5zM458.0 109.4h0.6v0.6h-0.6zM450.3 109.4h1.0v1.0h-1.0zM439.2 97.8h0.8v0.8h-0.8zM434.7 111.4h0.8v0.8h-0.8zM449.5 94.5h0.7v0.7h-0.7zM434.0 109.1h1.0v1.0h-1.0zM447.6 99.5h0.8v0.8h-0.8zM441.8 106.2h0.5v0.5h-0.5zM449.6 125.3h1.3v1.3h-1.3zM458.8 119.2h0.5v0.5h-0.5zM460.4 115.7h0.8v0.8h-0.8zM441.0 116.4h1.0v1.0h-1.0zM436.3 118.0h0.5v0.5h-0.5zM454.4 98.6h1.0v1.0h-1.0zM460.6 120.8h0.8v0.8h-0.8zM422.3 118.4h0.7v0.7h-0.7zM460.4 114.3h0.6v0.6h-0.6zM435.9 105.9h1.0v1.0h-1.0zM438.3 110.3h1.3v1.3h-1.3zM433.9 101.5h1.3v1.3h-1.3zM464.2 117.8h0.7v0.7h-0.7zM468.1 111.0h1.0v1.0h-1.0zM452.5 111.7h0.8v0.8h-0.8zM451.6 116.2h0.5v0.5h-0.5zM456.2 118.8h0.6v0.6h-0.6zM460.4 106.8h0.5v0.5h-0.5zM437.5 113.7h0.5v0.5h-0.5zM445.1 114.6h0.7v0.7h-0.7zM447.4 90.7h1.3v1.3h-1.3zM452.1 113.0h0.6v0.6h-0.6zM436.6 95.2h1.3v1.3h-1.3zM443.3 124.2h1.0v1.0h-1.0zM435.2 105.4h0.6v0.6h-0.6zM438.4 94.8h0.5v0.5h-0.5zM444.5 115.4h0.7v0.7h-0.7zM430.8 110.3h0.5v0.5h-0.5zM454.8 104.1h0.8v0.8h-0.8zM447.7 125.7h0.7v0.7h-0.7zM428.3 119.5h0.8v0.8h-0.8zM431.8 115.6h0.7v0.7h-0.7zM458.8 127.5h1.3v1.3h-1.3zM438.8 118.9h0.8v0.8h-0.8zM441.5 128.3h0.8v0.8h-0.8zM429.2 104.0h1.0v1.0h-1.0zM462.1 104.8h0.5v0.5h-0.5zM447.4 127.0h0.8v0.8h-0.8zM440.7 118.8h0.5v0.5h-0.5zM430.7 104.8h0.8v0.8h-0.8zM444.6 110.3h0.8v0.8h-0.8zM446.2 118.3h0.6v0.6h-0.6zM443.4 119.2h0.6v0.6h-0.6zM447.8 99.6h1.0v1.0h-1.0z" fill="#8270d0" fill-opacity="0.5"/>
<path d="M432.9 104.4h1.0v1.0h-1.0zM452.3 113.9h0.7v0.7h-0.7zM444.6 131.6h0.6v0.6h-0.6zM444.7 127.3h1.3v1.3h-1.3zM454.2 95.0h0.5v0.5h-0.5zM432.7 133.4h1.3v1.3h-1.3zM433.3 116.6h0.6v0.6h-0.6zM431.7 110.4h0.6v0.6h-0.6zM432.1 114.5h0.6v0.6h-0.6zM440.9 100.0h0.6v0.6h-0.6zM459.2 126.8h0.7v0.7h-0.7zM446.5 101.1h0.7v0.7h-0.7zM447.6 118.2h0.8v0.8h-0.8zM457.8 101.2h0.6v0.6h-0.6zM451.6 114.8h0.5v0.5h-0.5zM440.9 112.4h0.6v0.6h-0.6zM460.0 124.1h0.6v0.6h-0.6zM430.4 118.5h0.6v0.6h-0.6zM451.3 130.8h0.5v0.5h-0.5zM461.1 116.4h0.6v0.6h-0.6zM459.0 119.7h0.7v0.7h-0.7zM449.7 92.9h0.7v0.7h-0.7zM462.2 106.4h0.5v0.5h-0.5zM436.6 106.2h0.5v0.5h-0.5zM441.4 102.7h1.0v1.0h-1.0zM436.6 119.6h0.8v0.8h-0.8zM434.0 119.5h0.5v0.5h-0.5zM457.7 105.3h0.6v0.6h-0.6zM436.2 106.2h1.3v1.3h-1.3zM446.6 95.5h0.5v0.5h-0.5zM428.7 124.3h1.0v1.0h-1.0zM450.4 108.9h1.3v1.3h-1.3zM430.2 116.8h1.3v1.3h-1.3zM465.3 123.2h0.6v0.6h-0.6zM437.5 105.0h0.8v0.8h-0.8zM462.8 101.0h0.7v0.7h-0.7zM425.3 122.9h0.8v0.8h-0.8zM449.5 124.3h1.0v1.0h-1.0zM439.0 121.5h1.3v1.3h-1.3zM441.1 125.5h1.3v1.3h-1.3zM422.4 115.2h0.5v0.5h-0.5zM459.5 104.8h0.5v0.5h-0.5zM445.8 116.8h1.0v1.0h-1.0zM441.9 115.3h0.6v0.6h-0.6zM441.9 110.7h0.5v0.5h-0.5zM445.9 122.4h0.6v0.6h-0.6zM443.8 107.6h0.8v0.8h-0.8zM442.3 103.5h0.8v0.8h-0.8zM439.6 116.0h0.5v0.5h-0.5zM433.1 133.8h0.6v0.6h-0.6zM435.1 114.0h0.7v0.7h-0.7zM458.5 111.2h0.7v0.7h-0.7zM434.1 132.2h0.8v0.8h-0.8zM434.6 118.7h1.0v1.0h-1.0zM447.8 120.1h0.5v0.5h-0.5zM455.0 106.3h1.0v1.0h-1.0zM452.7 120.9h1.0v1.0h-1.0zM447.4 103.7h0.7v0.7h-0.7zM438.6 116.7h1.3v1.3h-1.3zM450.9 118.7h1.0v1.0h-1.0zM443.2 99.9h1.3v1.3h-1.3zM452.8 130.9h1.3v1.3h-1.3zM432.6 122.0h0.8v0.8h-0.8zM446.7 112.5h0.8v0.8h-0.8zM424.3 114.4h0.6v0.6h-0.6zM448.7 98.1h0.5v0.5h-0.5zM443.1 100.2h0.8v0.8h-0.8zM461.9 105.9h0.7v0.7h-0.7zM449.9 133.4h1.0v1.0h-1.0zM465.7 112.8h0.7v0.7h-0.7zM460.1 104.1h0.8v0.8h-0.8zM439.8 131.7h1.0v1.0h-1.0zM456.7 109.2h0.8v0.8h-0.8zM447.8 111.8h0.8v0.8h-0.8zM452.9 110.4h0.6v0.6h-0.6zM460.6 103.6h0.5v0.5h-0.5zM439.2 116.1h0.8v0.8h-0.8zM435.7 93.6h0.6v0.6h-0.6zM428.4 116.0h0.6v0.6h-0.6zM441.7 119.1h0.8v0.8h-0.8zM454.0 115.6h0.5v0.5h-0.5zM432.5 117.6h1.3v1.3h-1.3zM440.7 106.8h0.6v0.6h-0.6zM425.1 112.1h0.6v0.6h-0.6zM465.4 113.0h1.3v1.3h-1.3zM454.4 119.8h1.0v1.0h-1.0zM446.0 112.0h0.6v0.6h-0.6zM453.0 108.6h0.6v0.6h-0.6zM443.4 109.2h1.3v1.3h-1.3zM448.2 114.4h0.5v0.5h-0.5zM446.9 136.7h0.6v0.6h-0.6zM429.7 118.7h0.5v0.5h-0.5zM447.2 118.7h0.5v0.5h-0.5zM451.5 123.6h0.7v0.7h-0.7zM442.9 91.8h1.3v1.3h-1.3zM446.2 123.2h0.7v0.7h-0.7zM430.9 123.2h0.7v0.7h-0.7zM449.0 116.4h0.6v0.6h-0.6zM450.5 111.0h1.0v1.0h-1.0zM440.3 115.6h1.0v1.0h-1.0zM449.1 113.4h1.3v1.3h-1.3zM463.3 125.9h0.6v0.6h-0.6zM438.7 131.0h1.3v1.3h-1.3zM457.0 100.4h1.3v1.3h-1.3zM443.2 120.6h1.3v1.3h-1.3zM448.2 97.9h0.6v0.6h-0.6zM443.9 104.7h0.8v0.8h-0.8zM441.2 99.5h0.5v0.5h-0.5zM444.0 104.8h0.6v0.6h-0.6zM424.9 123.1h0.7v0.7h-0.7zM453.4 123.1h0.8v0.8h-0.8zM448.5 98.2h0.5v0.5h-0.5zM432.3 119.1h1.0v1.0h-1.0zM453.3 108.7h1.0v1.0h-1.0zM446.2 128.6h0.8v0.8h-0.8zM454.7 114.9h0.7v0.7h-0.7zM445.7 132.0h0.8v0.8h-0.8zM459.9 127.1h1.0v1.0h-1.0zM436.2 124.6h0.6v0.6h-0.6zM454.1 106.2h0.8v0.8h-0.8zM440.5 108.2h1.0v1.0h-1.0zM455.1 96.5h1.3v1.3h-1.3zM437.3 111.5h0.5v0.5h-0.5zM437.8 107.4h0.5v0.5h-0.5zM442.1 124.6h1.3v1.3h-1.3zM464.0 107.7h0.8v0.8h-0.8zM448.1 126.1h1.3v1.3h-1.3zM439.2 105.6h1.0v1.0h-1.0zM456.1 127.1h1.0v1.0h-1.0zM454.5 106.8h1.3v1.3h-1.3zM439.1 119.0h0.6v0.6h-0.6zM453.2 110.1h0.5v0.5h-0.5zM441.4 123.7h1.3v1.3h-1.3zM445.0 99.1h0.8v0.8h-0.8zM443.0 118.9h1.0v1.0h-1.0zM437.0 97.9h1.0v1.0h-1.0zM436.6 115.3h0.8v0.8h-0.8zM427.8 118.3h0.6v0.6h-0.6zM455.2 103.7h1.3v1.3h-1.3zM461.4 128.6h0.5v0.5h-0.5zM427.2 128.2h0.7v0.7h-0.7zM428.1 103.8h0.7v0.7h-0.7zM439.1 131.0h1.3v1.3h-1.3zM431.7 123.1h0.5v0.5h-0.5zM450.2 116.9h0.6v0.6h-0.6zM434.6 101.6h0.5v0.5h-0.5zM454.8 110.3h1.0v1.0h-1.0zM456.3 126.8h0.6v0.6h-0.6zM454.0 131.5h0.7v0.7h-0.7zM430.2 128.9h1.3v1.3h-1.3zM444.0 92.5h0.6v0.6h-0.6zM440.0 126.0h0.6v0.6h-0.6zM441.0 106.7h0.6v0.6h-0.6zM455.7 127.5h0.7v0.7h-0.7zM462.3 126.5h1.0v1.0h-1.0zM457.5 122.0h0.6v0.6h-0.6zM454.8 121.3h1.3v1.3h-1.3zM454.9 110.3h0.7v0.7h-0.7zM450.1 119.3h0.8v0.8h-0.8zM450.1 95.5h0.6v0.6h-0.6zM453.5 119.1h0.6v0.6h-0.6zM436.4 108.8h0.7v0.7h-0.7zM454.9 101.8h0.8v0.8h-0.8zM463.4 109.1h0.8v0.8h-0.8zM461.2 125.5h0.8v0.8h-0.8zM450.7 96.6h0.5v0.5h-0.5zM459.5 100.1h0.7v0.7h-0.7zM438.8 115.2h1.3v1.3h-1.3zM451.3 101.8h1.0v1.0h-1.0zM437.3 101.8h1.0v1.0h-1.0zM441.1 107.4h1.3v1.3h-1.3zM437.9 120.6h1.3v1.3h-1.3zM454.8 110.9h1.0v1.0h-1.0zM447.4 113.0h0.7v0.7h-0.7zM440.4 136.9h0.8v0.8h-0.8zM450.9 108.5h0.5v0.5h-0.5zM439.3 118.1h0.8v0.8h-0.8zM437.7 119.5h1.0v1.0h-1.0zM424.4 109.8h0.6v0.6h-0.6zM457.9 119.8h0.7v0.7h-0.7zM438.7 131.9h0.5v0.5h-0.5zM444.7 120.3h1.0v1.0h-1.0zM434.7 101.4h0.6v0.6h-0.6zM448.0 113.8h1.0v1.0h-1.0zM450.1 136.1h0.8v0.8h-0.8zM442.2 93.2h1.3v1.3h-1.3zM434.2 96.4h0.8v0.8h-0.8zM461.9 128.9h0.8v0.8h-0.8zM427.6 105.8h0.6v0.6h-0.6z" fill="#5236b4" fill-opacity="0.78"/>
<circle cx="388.3" cy="171.0" r="26.6" fill="#e4e4e8" stroke="#868686" stroke-width="1.3"/>
<circle cx="388.3" cy="171.0" r="24.8" fill="#efeef3" stroke="#c4c4c8" stroke-width="0.8"/>
<path d="M386.7 175.8h1.0v1.0h-1.0zM382.0 174.1h0.5v0.5h-0.5zM369.3 167.1h0.5v0.5h-0.5zM374.2 183.6h0.7v0.7h-0.7zM392.7 149.8h0.7v0.7h-0.7zM374.8 189.6h1.0v1.0h-1.0zM368.1 160.7h1.0v1.0h-1.0zM370.5 186.0h0.7v0.7h-0.7zM384.6 171.2h0.6v0.6h-0.6zM392.1 182.1h0.7v0.7h-0.7zM380.7 192.7h0.8v0.8h-0.8zM377.3 187.5h1.3v1.3h-1.3zM387.5 173.1h0.7v0.7h-0.7zM375.5 185.5h0.7v0.7h-0.7zM388.7 181.5h1.3v1.3h-1.3zM408.9 175.4h0.6v0.6h-0.6zM381.6 156.6h0.8v0.8h-0.8zM407.1 178.1h0.6v0.6h-0.6zM397.0 170.0h1.3v1.3h-1.3zM399.1 177.4h0.8v0.8h-0.8zM380.0 169.5h1.3v1.3h-1.3zM395.0 177.8h0.7v0.7h-0.7zM399.5 165.9h0.8v0.8h-0.8zM386.3 159.3h1.3v1.3h-1.3zM382.9 187.2h0.5v0.5h-0.5zM406.7 181.5h1.3v1.3h-1.3zM399.9 182.8h0.8v0.8h-0.8zM387.8 174.3h1.0v1.0h-1.0zM382.1 167.4h0.8v0.8h-0.8zM399.9 162.3h1.3v1.3h-1.3zM387.8 167.0h1.3v1.3h-1.3z" fill="#8270d0" fill-opacity="0.5"/>
<path d="M407.8 181.2h0.6v0.6h-0.6zM383.3 158.7h1.0v1.0h-1.0zM410.0 175.7h1.3v1.3h-1.3zM386.7 186.2h0.6v0.6h-0.6zM367.7 177.2h0.7v0.7h-0.7zM402.6 187.1h0.8v0.8h-0.8zM398.9 175.6h0.7v0.7h-0.7zM379.7 166.8h0.6v0.6h-0.6zM370.3 178.8h1.0v1.0h-1.0zM391.9 150.4h0.7v0.7h-0.7zM390.0 151.8h0.8v0.8h-0.8zM384.8 186.4h0.6v0.6h-0.6zM391.0 178.2h0.8v0.8h-0.8zM405.1 186.2h0.6v0.6h-0.6zM383.6 193.1h1.3v1.3h-1.3zM382.5 181.5h0.6v0.6h-0.6zM387.3 183.4h1.3v1.3h-1.3zM392.7 180.3h1.0v1.0h-1.0zM375.3 171.1h1.0v1.0h-1.0zM386.3 158.7h1.0v1.0h-1.0zM374.0 165.2h0.7v0.7h-0.7zM388.7 168.3h0.8v0.8h-0.8zM393.5 187.2h0.5v0.5h-0.5zM392.0 193.8h0.7v0.7h-0.7zM401.7 181.3h0.7v0.7h-0.7zM392.3 179.2h0.7v0.7h-0.7zM395.4 172.9h0.6v0.6h-0.6zM390.2 178.4h1.3v1.3h-1.3zM394.7 170.9h1.0v1.0h-1.0z" fill="#5236b4" fill-opacity="0.78"/>
<circle cx="445.0" cy="171.0" r="26.6" fill="#e4e4e8" stroke="#868686" stroke-width="1.3"/>
<circle cx="445.0" cy="171.0" r="24.8" fill="#efeef3" stroke="#c4c4c8" stroke-width="0.8"/>
<path d="M446.1 162.7h1.0v1.0h-1.0zM456.4 159.7h0.8v0.8h-0.8zM450.8 174.4h1.3v1.3h-1.3zM436.6 169.1h1.0v1.0h-1.0zM457.0 172.3h0.7v0.7h-0.7zM437.9 150.2h0.8v0.8h-0.8zM430.1 174.5h0.5v0.5h-0.5zM451.7 170.1h0.6v0.6h-0.6zM448.0 154.9h1.0v1.0h-1.0zM443.3 167.1h0.7v0.7h-0.7zM422.2 171.9h1.0v1.0h-1.0zM435.8 187.8h0.5v0.5h-0.5zM433.1 166.2h0.8v0.8h-0.8zM444.2 182.4h1.0v1.0h-1.0zM466.6 173.3h0.8v0.8h-0.8zM448.1 177.1h0.5v0.5h-0.5zM446.9 191.1h0.8v0.8h-0.8zM431.8 173.5h0.6v0.6h-0.6zM437.6 172.9h0.5v0.5h-0.5zM444.1 164.1h0.6v0.6h-0.6zM444.3 166.1h1.0v1.0h-1.0zM452.2 185.3h0.5v0.5h-0.5zM441.0 179.3h0.7v0.7h-0.7zM439.0 157.5h1.3v1.3h-1.3zM443.9 185.5h1.0v1.0h-1.0zM451.8 156.2h1.0v1.0h-1.0zM443.1 191.2h1.3v1.3h-1.3zM454.6 175.4h0.6v0.6h-0.6zM440.4 186.3h1.0v1.0h-1.0zM441.2 165.5h0.5v0.5h-0.5zM461.9 180.0h0.8v0.8h-0.8zM428.0 172.2h0.7v0.7h-0.7zM451.7 161.6h0.5v0.5h-0.5zM424.8 164.0h1.3v1.3h-1.3zM432.2 154.9h0.7v0.7h-0.7zM437.4 164.7h0.5v0.5h-0.5zM431.9 183.0h1.3v1.3h-1.3zM460.9 167.0h0.7v0.7h-0.7zM449.6 166.3h0.6v0.6h-0.6zM434.0 183.0h0.6v0.6h-0.6zM441.1 171.8h0.5v0.5h-0.5zM441.9 177.9h1.0v1.0h-1.0zM434.0 168.0h0.6v0.6h-0.6zM452.0 182.8h0.6v0.6h-0.6zM452.9 180.0h0.6v0.6h-0.6zM452.0 180.9h0.8v0.8h-0.8zM444.0 177.9h0.7v0.7h-0.7zM438.6 181.1h1.0v1.0h-1.0zM446.1 153.8h0.7v0.7h-0.7zM438.1 152.4h0.8v0.8h-0.8zM438.0 169.3h0.6v0.6h-0.6zM445.3 170.4h0.6v0.6h-0.6zM455.0 171.7h0.6v0.6h-0.6zM439.1 157.4h1.0v1.0h-1.0zM438.5 160.7h1.3v1.3h-1.3zM462.2 158.1h0.8v0.8h-0.8zM451.7 173.0h0.5v0.5h-0.5zM437.0 176.8h1.3v1.3h-1.3zM454.1 156.2h0.8v0.8h-0.8zM466.0 165.1h0.8v0.8h-0.8zM453.9 179.8h0.6v0.6h-0.6zM446.7 180.5h0.5v0.5h-0.5zM444.5 173.3h0.8v0.8h-0.8zM430.1 173.7h0.7v0.7h-0.7zM436.6 171.6h0.7v0.7h-0.7zM430.9 159.1h0.7v0.7h-0.7zM434.6 189.9h0.7v0.7h-0.7zM445.7 168.2h0.5v0.5h-0.5zM455.4 179.0h0.8v0.8h-0.8zM455.0 168.2h0.5v0.5h-0.5zM424.5 166.6h1.3v1.3h-1.3zM459.0 172.6h0.7v0.7h-0.7zM433.0 184.3h0.6v0.6h-0.6zM463.9 180.1h0.7v0.7h-0.7zM466.6 165.2h0.8v0.8h-0.8zM445.7 179.5h1.3v1.3h-1.3zM442.4 187.2h1.3v1.3h-1.3zM447.0 160.9h1.0v1.0h-1.0zM450.3 163.6h0.5v0.5h-0.5zM447.9 167.3h0.8v0.8h-0.8zM442.5 179.5h1.3v1.3h-1.3zM443.3 164.0h0.7v0.7h-0.7zM427.9 159.8h1.3v1.3h-1.3zM443.0 175.3h0.7v0.7h-0.7zM446.4 176.2h1.3v1.3h-1.3zM449.3 156.3h0.6v0.6h-0.6zM459.3 180.9h0.8v0.8h-0.8zM462.6 181.3h0.8v0.8h-0.8zM433.6 166.8h0.6v0.6h-0.6zM458.5 170.9h0.8v0.8h-0.8zM448.6 183.0h0.7v0.7h-0.7zM439.7 185.5h1.3v1.3h-1.3zM431.5 173.7h1.0v1.0h-1.0zM461.0 187.2h0.7v0.7h-0.7zM457.4 167.8h1.0v1.0h-1.0zM466.6 164.9h1.0v1.0h-1.0zM427.8 174.9h1.0v1.0h-1.0zM426.3 167.3h0.6v0.6h-0.6zM448.7 191.3h1.0v1.0h-1.0zM459.0 169.5h1.0v1.0h-1.0zM464.7 182.2h0.6v0.6h-0.6zM458.5 170.8h0.5v0.5h-0.5zM436.9 157.2h0.8v0.8h-0.8zM444.5 172.5h0.6v0.6h-0.6zM432.5 164.8h1.0v1.0h-1.0zM450.4 174.5h1.0v1.0h-1.0zM437.9 164.4h1.0v1.0h-1.0zM450.0 180.4h1.0v1.0h-1.0zM450.9 163.5h0.6v0.6h-0.6zM460.0 161.4h1.3v1.3h-1.3zM449.3 154.3h1.3v1.3h-1.3zM449.3 177.8h1.0v1.0h-1.0zM452.0 179.0h0.7v0.7h-0.7zM458.4 178.4h1.3v1.3h-1.3zM431.9 157.4h0.8v0.8h-0.8zM449.5 168.0h0.5v0.5h-0.5zM439.8 178.5h0.8v0.8h-0.8zM446.4 184.2h0.5v0.5h-0.5zM437.1 169.5h0.7v0.7h-0.7zM449.2 187.3h0.6v0.6h-0.6zM450.4 183.4h0.8v0.8h-0.8zM465.2 173.3h1.0v1.0h-1.0zM440.5 167.7h0.7v0.7h-0.7zM430.9 162.1h0.7v0.7h-0.7zM442.9 153.6h1.0v1.0h-1.0zM430.7 172.0h1.3v1.3h-1.3zM440.3 186.0h0.5v0.5h-0.5zM451.9 184.0h0.7v0.7h-0.7zM442.9 183.2h1.0v1.0h-1.0zM462.3 173.0h0.7v0.7h-0.7zM437.9 180.6h1.3v1.3h-1.3zM453.0 165.6h0.7v0.7h-0.7zM459.3 167.9h1.0v1.0h-1.0zM462.6 175.6h0.6v0.6h-0.6zM440.0 184.2h0.8v0.8h-0.8zM456.3 164.6h0.7v0.7h-0.7zM446.7 186.5h0.6v0.6h-0.6zM451.7 170.2h0.6v0.6h-0.6zM454.1 183.6h0.8v0.8h-0.8zM441.4 168.6h1.3v1.3h-1.3zM452.0 168.9h0.5v0.5h-0.5zM441.6 154.5h0.7v0.7h-0.7zM457.2 176.7h0.8v0.8h-0.8zM438.9 172.9h0.8v0.8h-0.8zM438.8 176.9h0.6v0.6h-0.6zM447.1 170.8h1.0v1.0h-1.0zM450.2 173.3h0.6v0.6h-0.6zM452.0 164.2h0.5v0.5h-0.5zM431.6 151.9h1.0v1.0h-1.0zM444.3 167.5h1.0v1.0h-1.0zM429.6 170.2h1.3v1.3h-1.3zM442.5 164.6h0.5v0.5h-0.5zM446.2 155.7h0.6v0.6h-0.6zM452.0 177.4h0.6v0.6h-0.6zM460.4 188.3h1.3v1.3h-1.3zM444.2 181.6h0.5v0.5h-0.5zM438.4 170.3h0.6v0.6h-0.6zM466.2 177.8h0.7v0.7h-0.7zM449.9 154.7h0.7v0.7h-0.7zM458.5 177.3h0.5v0.5h-0.5zM452.5 187.3h0.7v0.7h-0.7zM452.7 171.6h1.0v1.0h-1.0zM450.6 174.7h0.6v0.6h-0.6zM435.6 169.0h0.8v0.8h-0.8zM454.5 167.1h0.5v0.5h-0.5zM442.8 168.8h1.3v1.3h-1.3zM437.1 163.9h0.7v0.7h-0.7zM437.4 154.7h0.5v0.5h-0.5zM428.9 174.2h0.7v0.7h-0.7zM435.6 178.4h0.6v0.6h-0.6zM445.5 165.2h0.5v0.5h-0.5zM440.4 175.3h1.0v1.0h-1.0zM451.7 172.9h0.5v0.5h-0.5zM455.6 169.2h0.8v0.8h-0.8zM446.6 178.4h0.5v0.5h-0.5zM456.5 158.5h0.7v0.7h-0.7zM456.1 152.0h0.6v0.6h-0.6zM435.8 188.7h1.3v1.3h-1.3zM439.1 186.8h0.6v0.6h-0.6zM440.3 171.6h1.3v1.3h-1.3zM458.4 179.0h0.7v0.7h-0.7zM453.1 179.5h0.5v0.5h-0.5zM423.7 169.5h0.8v0.8h-0.8zM463.8 164.6h1.3v1.3h-1.3zM461.5 160.2h0.6v0.6h-0.6z" fill="#8270d0" fill-opacity="0.5"/>
<path d="M453.2 173.5h0.5v0.5h-0.5zM443.8 161.9h1.0v1.0h-1.0zM461.7 186.1h0.7v0.7h-0.7zM455.3 166.8h0.8v0.8h-0.8zM436.7 180.4h1.3v1.3h-1.3zM449.7 192.3h0.8v0.8h-0.8zM462.1 163.3h0.5v0.5h-0.5zM458.9 171.7h1.0v1.0h-1.0zM460.7 181.0h0.6v0.6h-0.6zM447.6 177.7h0.6v0.6h-0.6zM452.8 170.1h0.7v0.7h-0.7zM424.7 167.7h0.8v0.8h-0.8zM448.3 164.7h0.7v0.7h-0.7zM450.4 182.0h1.3v1.3h-1.3zM442.2 181.6h0.7v0.7h-0.7zM443.5 166.7h1.3v1.3h-1.3zM454.3 166.7h0.6v0.6h-0.6zM449.7 181.6h1.3v1.3h-1.3zM437.0 170.7h0.8v0.8h-0.8zM446.8 165.5h0.7v0.7h-0.7zM423.3 177.0h0.5v0.5h-0.5zM438.9 168.0h0.7v0.7h-0.7zM452.0 175.9h0.8v0.8h-0.8zM453.7 162.9h0.6v0.6h-0.6zM443.2 175.2h1.3v1.3h-1.3zM448.4 175.0h0.7v0.7h-0.7zM451.1 155.5h1.0v1.0h-1.0zM458.0 186.5h1.3v1.3h-1.3zM450.6 165.7h1.0v1.0h-1.0zM446.0 153.2h0.8v0.8h-0.8zM446.3 182.8h1.0v1.0h-1.0zM443.3 170.4h0.8v0.8h-0.8zM450.8 159.3h0.5v0.5h-0.5zM428.4 167.8h0.8v0.8h-0.8zM462.6 161.3h0.6v0.6h-0.6zM437.0 155.5h1.0v1.0h-1.0zM446.2 153.3h1.3v1.3h-1.3zM436.5 188.3h1.0v1.0h-1.0zM437.4 181.0h1.0v1.0h-1.0zM456.7 169.7h0.6v0.6h-0.6zM430.2 168.3h1.0v1.0h-1.0zM467.7 171.7h1.0v1.0h-1.0zM445.8 177.1h1.0v1.0h-1.0zM439.7 181.6h0.8v0.8h-0.8zM447.5 162.7h0.5v0.5h-0.5zM444.5 150.8h0.7v0.7h-0.7zM424.7 174.5h1.0v1.0h-1.0zM443.6 176.9h1.0v1.0h-1.0zM449.0 161.8h0.8v0.8h-0.8zM442.1 172.3h1.0v1.0h-1.0zM453.3 167.2h0.5v0.5h-0.5zM443.9 169.0h1.3v1.3h-1.3zM432.2 181.5h0.8v0.8h-0.8zM464.2 173.0h1.0v1.0h-1.0zM447.3 173.8h1.3v1.3h-1.3zM468.1 173.6h0.5v0.5h-0.5zM445.5 169.9h0.8v0.8h-0.8zM448.8 156.0h0.5v0.5h-0.5zM446.6 172.5h0.5v0.5h-0.5zM425.8 182.6h1.3v1.3h-1.3zM445.4 174.9h0.7v0.7h-0.7zM465.6 177.5h1.3v1.3h-1.3zM448.6 171.7h0.6v0.6h-0.6zM445.9 183.5h1.3v1.3h-1.3zM449.6 175.7h0.6v0.6h-0.6zM438.2 177.2h0.5v0.5h-0.5zM443.8 155.2h0.5v0.5h-0.5zM456.5 182.1h1.0v1.0h-1.0zM453.7 171.3h1.0v1.0h-1.0zM440.1 163.5h1.0v1.0h-1.0zM449.5 184.1h0.5v0.5h-0.5zM441.1 164.6h1.3v1.3h-1.3zM460.0 158.0h0.5v0.5h-0.5zM447.1 154.2h1.3v1.3h-1.3zM448.7 169.2h0.7v0.7h-0.7zM448.7 188.2h0.8v0.8h-0.8zM431.1 177.4h1.3v1.3h-1.3zM424.5 179.6h1.3v1.3h-1.3zM432.9 175.2h0.5v0.5h-0.5zM427.5 167.2h0.5v0.5h-0.5zM424.2 170.3h0.7v0.7h-0.7zM434.6 172.4h0.6v0.6h-0.6zM442.1 162.4h0.8v0.8h-0.8zM427.6 184.0h1.3v1.3h-1.3zM426.4 170.0h0.5v0.5h-0.5zM445.5 178.4h1.0v1.0h-1.0zM449.0 169.1h0.7v0.7h-0.7zM452.7 177.7h0.6v0.6h-0.6zM446.7 189.2h1.0v1.0h-1.0zM439.8 179.6h1.0v1.0h-1.0zM448.7 179.1h0.8v0.8h-0.8zM428.7 178.1h1.0v1.0h-1.0zM429.4 167.6h0.8v0.8h-0.8zM441.5 177.5h0.7v0.7h-0.7zM438.7 189.5h0.8v0.8h-0.8zM462.0 173.1h0.7v0.7h-0.7zM459.5 174.3h0.5v0.5h-0.5zM455.9 189.3h1.3v1.3h-1.3zM444.5 169.4h0.5v0.5h-0.5zM435.6 163.4h0.7v0.7h-0.7zM462.2 158.3h1.3v1.3h-1.3zM463.5 181.4h0.6v0.6h-0.6zM425.2 173.0h0.5v0.5h-0.5zM439.5 152.9h0.8v0.8h-0.8zM449.7 188.4h0.5v0.5h-0.5z" fill="#5236b4" fill-opacity="0.78"/>
<text x="503.3" y="11.3" font-size="13.8" text-anchor="start" font-weight="bold" fill="#222" stroke="#222" stroke-width="0.28">C</text>
<line x1="544.2" y1="56.4" x2="544.2" y2="178.3" stroke="#111" stroke-width="1.6"/>
<line x1="543.4" y1="177.5" x2="679.6" y2="177.5" stroke="#111" stroke-width="1.6"/>
<line x1="539.6" y1="177.5" x2="544.2" y2="177.5" stroke="#111" stroke-width="1.4"/>
<text x="536.8" y="180.8" font-size="9.2" text-anchor="end" font-weight="bold" fill="#222" stroke="#222" stroke-width="0.28">0</text>
<line x1="539.6" y1="137.13333333333333" x2="544.2" y2="137.13333333333333" stroke="#111" stroke-width="1.4"/>
<text x="536.8" y="140.43333333333334" font-size="9.2" text-anchor="end" font-weight="bold" fill="#222" stroke="#222" stroke-width="0.28">200</text>
<line x1="539.6" y1="96.76666666666667" x2="544.2" y2="96.76666666666667" stroke="#111" stroke-width="1.4"/>
<text x="536.8" y="100.06666666666666" font-size="9.2" text-anchor="end" font-weight="bold" fill="#222" stroke="#222" stroke-width="0.28">400</text>
<line x1="539.6" y1="56.400000000000006" x2="544.2" y2="56.400000000000006" stroke="#111" stroke-width="1.4"/>
<text x="536.8" y="59.7" font-size="9.2" text-anchor="end" font-weight="bold" fill="#222" stroke="#222" stroke-width="0.28">600</text>
<text x="511.4" y="117.6" font-size="9.5" text-anchor="middle" font-weight="bold" fill="#222" stroke="#222" stroke-width="0.28" transform="rotate(-90 511.4 117.6)">Number of colonies</text>
<rect x="551.1" y="84.4" width="15.6" height="93.1" fill="#8a8a8a" stroke="#0a0a0a" stroke-width="1.8"/>
<rect x="571.9" y="96.2" width="15.6" height="81.3" fill="#8a8a8a" stroke="#0a0a0a" stroke-width="1.8"/>
<rect x="592.2" y="146.2" width="15.6" height="31.30000000000001" fill="#8a8a8a" stroke="#0a0a0a" stroke-width="1.8"/>
<rect x="619.2" y="72.1" width="15.6" height="105.4" fill="#ff1e0a" stroke="#0a0a0a" stroke-width="1.8"/>
<rect x="639.6" y="82.7" width="15.6" height="94.8" fill="#ff1e0a" stroke="#0a0a0a" stroke-width="1.8"/>
<rect x="660.5" y="113.4" width="15.6" height="64.1" fill="#ff1e0a" stroke="#0a0a0a" stroke-width="1.8"/>
<line x1="558.9" y1="79.98333333333335" x2="558.9" y2="88.08333333333334" stroke="#111" stroke-width="0.9"/>
<line x1="554.9" y1="79.98333333333335" x2="562.9" y2="79.98333333333335" stroke="#111" stroke-width="0.9"/>
<line x1="554.9" y1="88.08333333333334" x2="562.9" y2="88.08333333333334" stroke="#111" stroke-width="0.9"/>
<circle cx="558.8" cy="79.3" r="2.75" fill="#111"/>
<circle cx="565.5" cy="85.4" r="2.75" fill="#111"/>
<circle cx="552.7" cy="87.4" r="2.75" fill="#111"/>
<line x1="579.6999999999999" y1="95.21666666666667" x2="579.6999999999999" y2="100.91666666666666" stroke="#111" stroke-width="0.9"/>
<line x1="575.6999999999999" y1="95.21666666666667" x2="583.6999999999999" y2="95.21666666666667" stroke="#111" stroke-width="0.9"/>
<line x1="575.6999999999999" y1="100.91666666666666" x2="583.6999999999999" y2="100.91666666666666" stroke="#111" stroke-width="0.9"/>
<circle cx="572.7" cy="95.6" r="2.75" fill="#111"/>
<circle cx="586.0" cy="97.3" r="2.75" fill="#111"/>
<circle cx="572.7" cy="101.3" r="2.75" fill="#111"/>
<line x1="600.0" y1="140.4666666666667" x2="600.0" y2="149.06666666666666" stroke="#111" stroke-width="0.9"/>
<line x1="596.0" y1="140.4666666666667" x2="604.0" y2="140.4666666666667" stroke="#111" stroke-width="0.9"/>
<line x1="596.0" y1="149.06666666666666" x2="604.0" y2="149.06666666666666" stroke="#111" stroke-width="0.9"/>
<circle cx="593.2" cy="140.3" r="2.75" fill="#111"/>
<circle cx="606.1" cy="145.1" r="2.75" fill="#111"/>
<circle cx="593.7" cy="148.9" r="2.75" fill="#111"/>
<line x1="627.0" y1="66.96666666666667" x2="627.0" y2="76.16666666666666" stroke="#111" stroke-width="0.9"/>
<line x1="623.0" y1="66.96666666666667" x2="631.0" y2="66.96666666666667" stroke="#111" stroke-width="0.9"/>
<line x1="623.0" y1="76.16666666666666" x2="631.0" y2="76.16666666666666" stroke="#111" stroke-width="0.9"/>
<circle cx="626.9" cy="66.0" r="2.75" fill="#111"/>
<circle cx="633.0" cy="73.5" r="2.75" fill="#111"/>
<circle cx="620.7" cy="75.2" r="2.75" fill="#111"/>
<line x1="647.4" y1="79.01666666666668" x2="647.4" y2="86.31666666666666" stroke="#111" stroke-width="0.9"/>
<line x1="643.4" y1="79.01666666666668" x2="651.4" y2="79.01666666666668" stroke="#111" stroke-width="0.9"/>
<line x1="643.4" y1="86.31666666666666" x2="651.4" y2="86.31666666666666" stroke="#111" stroke-width="0.9"/>
<circle cx="640.8" cy="79.7" r="2.75" fill="#111"/>
<circle cx="653.4" cy="81.3" r="2.75" fill="#111"/>
<circle cx="647.3" cy="87.0" r="2.75" fill="#111"/>
<line x1="668.3" y1="108.21666666666667" x2="668.3" y2="116.91666666666666" stroke="#111" stroke-width="0.9"/>
<line x1="664.3" y1="108.21666666666667" x2="672.3" y2="108.21666666666667" stroke="#111" stroke-width="0.9"/>
<line x1="664.3" y1="116.91666666666666" x2="672.3" y2="116.91666666666666" stroke="#111" stroke-width="0.9"/>
<circle cx="667.7" cy="107.3" r="2.75" fill="#111"/>
<circle cx="673.9" cy="114.4" r="2.75" fill="#111"/>
<circle cx="662.0" cy="116.0" r="2.75" fill="#111"/>
<line x1="613.3" y1="56.8" x2="613.3" y2="177" stroke="#555" stroke-width="1.0" stroke-dasharray="2.6 2.2"/>
<polyline points="579.4,61.5 579.4,51.3 647.3,51.3 647.3,61.5" fill="none" stroke="#444" stroke-width="0.9"/>
<text x="613.3" y="52.6" font-size="9.5" text-anchor="middle" font-weight="bold" fill="#222" stroke="#222" stroke-width="0.28">*</text>
<polyline points="599.7,46.6 599.7,35.9 667.7,35.9 667.7,46.6" fill="none" stroke="#444" stroke-width="0.9"/>
<text x="633.9" y="37.4" font-size="9.5" text-anchor="middle" font-weight="bold" fill="#222" stroke="#222" stroke-width="0.28">*</text>
<text x="523.3" y="191.4" font-size="9.5" text-anchor="middle" font-weight="bold" fill="#222" stroke="#222" stroke-width="0.28">Gefitinib</text>
<text x="523.3" y="203.9" font-size="9.5" text-anchor="middle" font-weight="bold" fill="#222" stroke="#222" stroke-width="0.28">[μM]</text>
<text x="558.5" y="190.8" font-size="9.2" text-anchor="middle" font-weight="bold" fill="#222" stroke="#222" stroke-width="0.28">0</text>
<text x="579.7" y="190.8" font-size="9.2" text-anchor="middle" font-weight="bold" fill="#222" stroke="#222" stroke-width="0.28">1</text>
<text x="599.9" y="190.8" font-size="9.2" text-anchor="middle" font-weight="bold" fill="#222" stroke="#222" stroke-width="0.28">10</text>
<text x="626.0" y="190.8" font-size="9.2" text-anchor="middle" font-weight="bold" fill="#222" stroke="#222" stroke-width="0.28">0</text>
<text x="647.3" y="190.8" font-size="9.2" text-anchor="middle" font-weight="bold" fill="#222" stroke="#222" stroke-width="0.28">1</text>
<text x="667.4" y="190.8" font-size="9.2" text-anchor="middle" font-weight="bold" fill="#222" stroke="#222" stroke-width="0.28">10</text>
<polyline points="553.5,194.3 553.5,199.7 607.0,199.7 607.0,194.3" fill="none" stroke="#666" stroke-width="1.0"/>
<polyline points="621.0,194.3 621.0,199.7 674.2,199.7 674.2,194.3" fill="none" stroke="#666" stroke-width="1.0"/>
<text x="580.1" y="211.6" font-size="9.4" text-anchor="middle" font-weight="bold" fill="#222" stroke="#222" stroke-width="0.28">Ctr</text>
<text x="647.2" y="211.6" font-size="9.3" text-anchor="middle" font-weight="bold" fill="#222" stroke="#222" stroke-width="0.28">USP10 KO</text>
<text x="0.6" y="254.3" font-size="13.8" text-anchor="start" font-weight="bold" fill="#222" stroke="#222" stroke-width="0.28">D</text>
<rect x="47.9" y="263.6" width="154.7" height="132.39999999999998" fill="none" stroke="#505050" stroke-width="1.1"/>
<text x="41.6" y="399.0" font-size="8.4" text-anchor="end" font-weight="bold" fill="#222" stroke="#222" stroke-width="0.28">0</text>
<text x="41.6" y="379.9" font-size="8.4" text-anchor="end" font-weight="bold" fill="#222" stroke="#222" stroke-width="0.28">10</text>
<text x="41.6" y="360.8" font-size="8.4" text-anchor="end" font-weight="bold" fill="#222" stroke="#222" stroke-width="0.28">20</text>
<text x="41.6" y="341.7" font-size="8.4" text-anchor="end" font-weight="bold" fill="#222" stroke="#222" stroke-width="0.28">30</text>
<text x="41.6" y="322.6" font-size="8.4" text-anchor="end" font-weight="bold" fill="#222" stroke="#222" stroke-width="0.28">40</text>
<text x="41.6" y="303.5" font-size="8.4" text-anchor="end" font-weight="bold" fill="#222" stroke="#222" stroke-width="0.28">50</text>
<text x="41.6" y="284.4" font-size="8.4" text-anchor="end" font-weight="bold" fill="#222" stroke="#222" stroke-width="0.28">60</text>
<text x="41.6" y="265.3" font-size="8.4" text-anchor="end" font-weight="bold" fill="#222" stroke="#222" stroke-width="0.28">70</text>
<text x="64.0" y="409.6" font-size="8.6" text-anchor="middle" font-weight="bold" fill="#222" stroke="#222" stroke-width="0.28">0</text>
<text x="95.1" y="409.6" font-size="8.6" text-anchor="middle" font-weight="bold" fill="#222" stroke="#222" stroke-width="0.28">24</text>
<text x="126.1" y="409.6" font-size="8.6" text-anchor="middle" font-weight="bold" fill="#222" stroke="#222" stroke-width="0.28">48</text>
<text x="157.2" y="409.6" font-size="8.6" text-anchor="middle" font-weight="bold" fill="#222" stroke="#222" stroke-width="0.28">72</text>
<text x="188.2" y="409.6" font-size="8.6" text-anchor="middle" font-weight="bold" fill="#222" stroke="#222" stroke-width="0.28">96</text>
<line x1="126.1" y1="348.25" x2="126.1" y2="366.777" stroke="#6a6a6a" stroke-width="0.85"/>
<line x1="124.3" y1="348.25" x2="127.89999999999999" y2="348.25" stroke="#6a6a6a" stroke-width="0.85"/>
<line x1="124.3" y1="366.777" x2="127.89999999999999" y2="366.777" stroke="#6a6a6a" stroke-width="0.85"/>
<line x1="157.2" y1="316.353" x2="157.2" y2="349.396" stroke="#6a6a6a" stroke-width="0.85"/>
<line x1="155.39999999999998" y1="316.353" x2="159.0" y2="316.353" stroke="#6a6a6a" stroke-width="0.85"/>
<line x1="155.39999999999998" y1="349.396" x2="159.0" y2="349.396" stroke="#6a6a6a" stroke-width="0.85"/>
<line x1="188.2" y1="288.467" x2="188.2" y2="325.33" stroke="#6a6a6a" stroke-width="0.85"/>
<line x1="186.39999999999998" y1="288.467" x2="190.0" y2="288.467" stroke="#6a6a6a" stroke-width="0.85"/>
<line x1="186.39999999999998" y1="325.33" x2="190.0" y2="325.33" stroke="#6a6a6a" stroke-width="0.85"/>
<line x1="188.2" y1="307.185" x2="188.2" y2="337.363" stroke="#6a6a6a" stroke-width="0.85"/>
<line x1="186.39999999999998" y1="307.185" x2="190.0" y2="307.185" stroke="#6a6a6a" stroke-width="0.85"/>
<line x1="186.39999999999998" y1="337.363" x2="190.0" y2="337.363" stroke="#6a6a6a" stroke-width="0.85"/>
<polyline points="64.0,387.4 95.1,376.3 126.1,355.1 157.2,327.8 188.2,306.8" fill="none" stroke="#b4b4b4" stroke-width="2.2" stroke-linejoin="round"/>
<rect x="61.5" y="384.9" width="5" height="5" fill="#b4b4b4" stroke="none" stroke-width="0"/>
<rect x="92.6" y="373.8" width="5" height="5" fill="#b4b4b4" stroke="none" stroke-width="0"/>
<rect x="123.6" y="352.6" width="5" height="5" fill="#b4b4b4" stroke="none" stroke-width="0"/>
<rect x="154.7" y="325.3" width="5" height="5" fill="#b4b4b4" stroke="none" stroke-width="0"/>
<rect x="185.7" y="304.3" width="5" height="5" fill="#b4b4b4" stroke="none" stroke-width="0"/>
<polyline points="64.0,389.3 95.1,380.1 126.1,361.6 157.2,339.3 188.2,321.1" fill="none" stroke="#404040" stroke-width="2.2" stroke-linejoin="round"/>
<circle cx="64.0" cy="389.3" r="2.4" fill="#404040"/>
<circle cx="95.1" cy="380.1" r="2.4" fill="#404040"/>
<circle cx="126.1" cy="361.6" r="2.4" fill="#404040"/>
<circle cx="157.2" cy="339.3" r="2.4" fill="#404040"/>
<circle cx="188.2" cy="321.1" r="2.4" fill="#404040"/>
<line x1="54.4" y1="278.5" x2="71.0" y2="278.5" stroke="#404040" stroke-width="2.4"/>
<circle cx="62.7" cy="278.5" r="2.4" fill="#404040"/>
<text x="76.7" y="282.1" font-size="9.6" text-anchor="start" font-weight="bold" fill="#222" stroke="#222" stroke-width="0.28">Ctr</text>
<line x1="54.4" y1="295.2" x2="71.0" y2="295.2" stroke="#b4b4b4" stroke-width="2.4"/>
<rect x="60.1" y="292.59999999999997" width="5.2" height="5.2" fill="#b4b4b4" stroke="none" stroke-width="0"/>
<text x="76.7" y="298.8" font-size="9.6" text-anchor="start" font-weight="bold" fill="#222" stroke="#222" stroke-width="0.28">Ctr + EGF</text>
<text x="123.5" y="349.8" font-size="8.5" text-anchor="middle" font-weight="bold" fill="#333" stroke="#333" stroke-width="0.28">*</text>
<text x="154.9" y="319.1" font-size="8.5" text-anchor="middle" font-weight="bold" fill="#333" stroke="#333" stroke-width="0.28">*</text>
<text x="185.4" y="290.3" font-size="8.5" text-anchor="middle" font-weight="bold" fill="#333" stroke="#333" stroke-width="0.28">*</text>
<text x="12.4" y="331.6" font-size="9.6" text-anchor="middle" font-weight="bold" fill="#222" stroke="#222" stroke-width="0.28" transform="rotate(-90 12.4 331.6)">Cell confluence [%]</text>
<text x="47.6" y="408.6" font-size="9.6" text-anchor="end" font-weight="bold" fill="#222" stroke="#222" stroke-width="0.28">Time [h]</text>
<rect x="233.1" y="262.6" width="156.79999999999998" height="132.7" fill="none" stroke="#505050" stroke-width="1.1"/>
<text x="225.3" y="398.3" font-size="8.4" text-anchor="end" font-weight="bold" fill="#222" stroke="#222" stroke-width="0.28">0</text>
<text x="225.3" y="379.3" font-size="8.4" text-anchor="end" font-weight="bold" fill="#222" stroke="#222" stroke-width="0.28">10</text>
<text x="225.3" y="360.3" font-size="8.4" text-anchor="end" font-weight="bold" fill="#222" stroke="#222" stroke-width="0.28">20</text>
<text x="225.3" y="341.3" font-size="8.4" text-anchor="end" font-weight="bold" fill="#222" stroke="#222" stroke-width="0.28">30</text>
<text x="225.3" y="322.3" font-size="8.4" text-anchor="end" font-weight="bold" fill="#222" stroke="#222" stroke-width="0.28">40</text>
<text x="225.3" y="303.3" font-size="8.4" text-anchor="end" font-weight="bold" fill="#222" stroke="#222" stroke-width="0.28">50</text>
<text x="225.3" y="284.3" font-size="8.4" text-anchor="end" font-weight="bold" fill="#222" stroke="#222" stroke-width="0.28">60</text>
<text x="225.3" y="265.3" font-size="8.4" text-anchor="end" font-weight="bold" fill="#222" stroke="#222" stroke-width="0.28">70</text>
<text x="247.4" y="409.6" font-size="8.6" text-anchor="middle" font-weight="bold" fill="#222" stroke="#222" stroke-width="0.28">0</text>
<text x="278.7" y="409.6" font-size="8.6" text-anchor="middle" font-weight="bold" fill="#222" stroke="#222" stroke-width="0.28">24</text>
<text x="309.7" y="409.6" font-size="8.6" text-anchor="middle" font-weight="bold" fill="#222" stroke="#222" stroke-width="0.28">48</text>
<text x="340.7" y="409.6" font-size="8.6" text-anchor="middle" font-weight="bold" fill="#222" stroke="#222" stroke-width="0.28">72</text>
<text x="371.6" y="409.6" font-size="8.6" text-anchor="middle" font-weight="bold" fill="#222" stroke="#222" stroke-width="0.28">96</text>
<line x1="278.7" y1="365.85" x2="278.7" y2="372.5" stroke="#6a6a6a" stroke-width="0.85"/>
<line x1="276.9" y1="365.85" x2="280.5" y2="365.85" stroke="#6a6a6a" stroke-width="0.85"/>
<line x1="276.9" y1="372.5" x2="280.5" y2="372.5" stroke="#6a6a6a" stroke-width="0.85"/>
<line x1="309.7" y1="339.25" x2="309.7" y2="351.6" stroke="#6a6a6a" stroke-width="0.85"/>
<line x1="307.9" y1="339.25" x2="311.5" y2="339.25" stroke="#6a6a6a" stroke-width="0.85"/>
<line x1="307.9" y1="351.6" x2="311.5" y2="351.6" stroke="#6a6a6a" stroke-width="0.85"/>
<line x1="340.7" y1="302.20000000000005" x2="340.7" y2="328.8" stroke="#6a6a6a" stroke-width="0.85"/>
<line x1="338.9" y1="302.20000000000005" x2="342.5" y2="302.20000000000005" stroke="#6a6a6a" stroke-width="0.85"/>
<line x1="338.9" y1="328.8" x2="342.5" y2="328.8" stroke="#6a6a6a" stroke-width="0.85"/>
<line x1="340.7" y1="307.90000000000003" x2="340.7" y2="326.90000000000003" stroke="#6a6a6a" stroke-width="0.85"/>
<line x1="338.9" y1="307.90000000000003" x2="342.5" y2="307.90000000000003" stroke="#6a6a6a" stroke-width="0.85"/>
<line x1="338.9" y1="326.90000000000003" x2="342.5" y2="326.90000000000003" stroke="#6a6a6a" stroke-width="0.85"/>
<line x1="371.6" y1="278.45000000000005" x2="371.6" y2="324.05" stroke="#6a6a6a" stroke-width="0.85"/>
<line x1="369.8" y1="278.45000000000005" x2="373.40000000000003" y2="278.45000000000005" stroke="#6a6a6a" stroke-width="0.85"/>
<line x1="369.8" y1="324.05" x2="373.40000000000003" y2="324.05" stroke="#6a6a6a" stroke-width="0.85"/>
<line x1="371.6" y1="287.95000000000005" x2="371.6" y2="322.15000000000003" stroke="#6a6a6a" stroke-width="0.85"/>
<line x1="369.8" y1="287.95000000000005" x2="373.40000000000003" y2="287.95000000000005" stroke="#6a6a6a" stroke-width="0.85"/>
<line x1="369.8" y1="322.15000000000003" x2="373.40000000000003" y2="322.15000000000003" stroke="#6a6a6a" stroke-width="0.85"/>
<polyline points="247.4,384.3 278.7,368.7 309.7,345.0 340.7,315.5 371.6,301.8" fill="none" stroke="#f08a8a" stroke-width="2.2" stroke-linejoin="round"/>
<rect x="244.9" y="381.8" width="5" height="5" fill="#f08a8a" stroke="none" stroke-width="0"/>
<rect x="276.2" y="366.2" width="5" height="5" fill="#f08a8a" stroke="none" stroke-width="0"/>
<rect x="307.2" y="342.5" width="5" height="5" fill="#f08a8a" stroke="none" stroke-width="0"/>
<rect x="338.2" y="313.0" width="5" height="5" fill="#f08a8a" stroke="none" stroke-width="0"/>
<rect x="369.1" y="299.3" width="5" height="5" fill="#f08a8a" stroke="none" stroke-width="0"/>
<polyline points="247.4,385.2 278.7,370.6 309.7,346.5 340.7,316.8 371.6,305.1" fill="none" stroke="#d8201c" stroke-width="2.2" stroke-linejoin="round"/>
<circle cx="247.4" cy="385.2" r="2.4" fill="#d8201c"/>
<circle cx="278.7" cy="370.6" r="2.4" fill="#d8201c"/>
<circle cx="309.7" cy="346.5" r="2.4" fill="#d8201c"/>
<circle cx="340.7" cy="316.8" r="2.4" fill="#d8201c"/>
<circle cx="371.6" cy="305.1" r="2.4" fill="#d8201c"/>
<line x1="239.3" y1="274.8" x2="254.7" y2="274.8" stroke="#d8201c" stroke-width="2.4"/>
<circle cx="247.0" cy="274.8" r="2.4" fill="#d8201c"/>
<text x="262.9" y="278.40000000000003" font-size="9.6" text-anchor="start" font-weight="bold" fill="#222" stroke="#222" stroke-width="0.28">KO 1</text>
<line x1="239.3" y1="292.2" x2="254.7" y2="292.2" stroke="#f08a8a" stroke-width="2.4"/>
<rect x="244.4" y="289.59999999999997" width="5.2" height="5.2" fill="#f08a8a" stroke="none" stroke-width="0"/>
<text x="262.9" y="295.8" font-size="9.6" text-anchor="start" font-weight="bold" fill="#222" stroke="#222" stroke-width="0.28">KO 1 + EGF</text>
<rect x="419.6" y="262.0" width="156.39999999999998" height="133.0" fill="none" stroke="#505050" stroke-width="1.1"/>
<text x="414.2" y="398.0" font-size="8.4" text-anchor="end" font-weight="bold" fill="#222" stroke="#222" stroke-width="0.28">0</text>
<text x="414.2" y="379.04285714285714" font-size="8.4" text-anchor="end" font-weight="bold" fill="#222" stroke="#222" stroke-width="0.28">10</text>
<text x="414.2" y="360.0857142857143" font-size="8.4" text-anchor="end" font-weight="bold" fill="#222" stroke="#222" stroke-width="0.28">20</text>
<text x="414.2" y="341.12857142857143" font-size="8.4" text-anchor="end" font-weight="bold" fill="#222" stroke="#222" stroke-width="0.28">30</text>
<text x="414.2" y="322.1714285714286" font-size="8.4" text-anchor="end" font-weight="bold" fill="#222" stroke="#222" stroke-width="0.28">40</text>
<text x="414.2" y="303.2142857142857" font-size="8.4" text-anchor="end" font-weight="bold" fill="#222" stroke="#222" stroke-width="0.28">50</text>
<text x="414.2" y="284.25714285714287" font-size="8.4" text-anchor="end" font-weight="bold" fill="#222" stroke="#222" stroke-width="0.28">60</text>
<text x="414.2" y="265.3" font-size="8.4" text-anchor="end" font-weight="bold" fill="#222" stroke="#222" stroke-width="0.28">70</text>
<text x="435.3" y="409.6" font-size="8.6" text-anchor="middle" font-weight="bold" fill="#222" stroke="#222" stroke-width="0.28">0</text>
<text x="466.6" y="409.6" font-size="8.6" text-anchor="middle" font-weight="bold" fill="#222" stroke="#222" stroke-width="0.28">24</text>
<text x="497.6" y="409.6" font-size="8.6" text-anchor="middle" font-weight="bold" fill="#222" stroke="#222" stroke-width="0.28">48</text>
<text x="528.7" y="409.6" font-size="8.6" text-anchor="middle" font-weight="bold" fill="#222" stroke="#222" stroke-width="0.28">72</text>
<text x="559.8" y="409.6" font-size="8.6" text-anchor="middle" font-weight="bold" fill="#222" stroke="#222" stroke-width="0.28">96</text>
<line x1="466.6" y1="362.77285714285716" x2="466.6" y2="375.095" stroke="#6a6a6a" stroke-width="0.85"/>
<line x1="464.8" y1="362.77285714285716" x2="468.40000000000003" y2="362.77285714285716" stroke="#6a6a6a" stroke-width="0.85"/>
<line x1="464.8" y1="375.095" x2="468.40000000000003" y2="375.095" stroke="#6a6a6a" stroke-width="0.85"/>
<line x1="497.6" y1="336.23285714285714" x2="497.6" y2="358.9814285714286" stroke="#6a6a6a" stroke-width="0.85"/>
<line x1="495.8" y1="336.23285714285714" x2="499.40000000000003" y2="336.23285714285714" stroke="#6a6a6a" stroke-width="0.85"/>
<line x1="495.8" y1="358.9814285714286" x2="499.40000000000003" y2="358.9814285714286" stroke="#6a6a6a" stroke-width="0.85"/>
<line x1="497.6" y1="339.07642857142855" x2="497.6" y2="355.19" stroke="#6a6a6a" stroke-width="0.85"/>
<line x1="495.8" y1="339.07642857142855" x2="499.40000000000003" y2="339.07642857142855" stroke="#6a6a6a" stroke-width="0.85"/>
<line x1="495.8" y1="355.19" x2="499.40000000000003" y2="355.19" stroke="#6a6a6a" stroke-width="0.85"/>
<line x1="528.7" y1="300.2142857142857" x2="528.7" y2="338.12857142857143" stroke="#6a6a6a" stroke-width="0.85"/>
<line x1="526.9000000000001" y1="300.2142857142857" x2="530.5" y2="300.2142857142857" stroke="#6a6a6a" stroke-width="0.85"/>
<line x1="526.9000000000001" y1="338.12857142857143" x2="530.5" y2="338.12857142857143" stroke="#6a6a6a" stroke-width="0.85"/>
<line x1="528.7" y1="306.8492857142857" x2="528.7" y2="333.38928571428573" stroke="#6a6a6a" stroke-width="0.85"/>
<line x1="526.9000000000001" y1="306.8492857142857" x2="530.5" y2="306.8492857142857" stroke="#6a6a6a" stroke-width="0.85"/>
<line x1="526.9000000000001" y1="333.38928571428573" x2="530.5" y2="333.38928571428573" stroke="#6a6a6a" stroke-width="0.85"/>
<line x1="559.8" y1="274.6221428571429" x2="559.8" y2="326.75428571428574" stroke="#6a6a6a" stroke-width="0.85"/>
<line x1="558.0" y1="274.6221428571429" x2="561.5999999999999" y2="274.6221428571429" stroke="#6a6a6a" stroke-width="0.85"/>
<line x1="558.0" y1="326.75428571428574" x2="561.5999999999999" y2="326.75428571428574" stroke="#6a6a6a" stroke-width="0.85"/>
<line x1="559.8" y1="281.25714285714287" x2="559.8" y2="322.96285714285716" stroke="#6a6a6a" stroke-width="0.85"/>
<line x1="558.0" y1="281.25714285714287" x2="561.5999999999999" y2="281.25714285714287" stroke="#6a6a6a" stroke-width="0.85"/>
<line x1="558.0" y1="322.96285714285716" x2="561.5999999999999" y2="322.96285714285716" stroke="#6a6a6a" stroke-width="0.85"/>
<polyline points="435.3,381.7 466.6,366.6 497.6,343.8 528.7,317.3 559.8,300.4" fill="none" stroke="#f2959c" stroke-width="2.2" stroke-linejoin="round"/>
<rect x="432.8" y="379.2" width="5" height="5" fill="#f2959c" stroke="none" stroke-width="0"/>
<rect x="464.1" y="364.1" width="5" height="5" fill="#f2959c" stroke="none" stroke-width="0"/>
<rect x="495.1" y="341.3" width="5" height="5" fill="#f2959c" stroke="none" stroke-width="0"/>
<rect x="526.2" y="314.8" width="5" height="5" fill="#f2959c" stroke="none" stroke-width="0"/>
<rect x="557.3" y="297.9" width="5" height="5" fill="#f2959c" stroke="none" stroke-width="0"/>
<polyline points="435.3,383.6 466.6,370.4 497.6,349.5 528.7,322.6 559.8,302.7" fill="none" stroke="#a3162a" stroke-width="2.2" stroke-linejoin="round"/>
<circle cx="435.3" cy="383.6" r="2.4" fill="#a3162a"/>
<circle cx="466.6" cy="370.4" r="2.4" fill="#a3162a"/>
<circle cx="497.6" cy="349.5" r="2.4" fill="#a3162a"/>
<circle cx="528.7" cy="322.6" r="2.4" fill="#a3162a"/>
<circle cx="559.8" cy="302.7" r="2.4" fill="#a3162a"/>
<line x1="426.3" y1="276.2" x2="443.0" y2="276.2" stroke="#a3162a" stroke-width="2.4"/>
<circle cx="434.65" cy="276.2" r="2.4" fill="#a3162a"/>
<text x="451.4" y="279.8" font-size="9.6" text-anchor="start" font-weight="bold" fill="#222" stroke="#222" stroke-width="0.28">KO 2</text>
<line x1="426.3" y1="291.9" x2="443.0" y2="291.9" stroke="#f2959c" stroke-width="2.4"/>
<rect x="432.04999999999995" y="289.29999999999995" width="5.2" height="5.2" fill="#f2959c" stroke="none" stroke-width="0"/>
<text x="451.4" y="295.5" font-size="9.6" text-anchor="start" font-weight="bold" fill="#222" stroke="#222" stroke-width="0.28">KO 2 + EGF</text>
<text x="0.4" y="451.6" font-size="13.8" text-anchor="start" font-weight="bold" fill="#222" stroke="#222" stroke-width="0.28">E</text>
<path d="M155.9 516.8h0.9v0.9h-0.9zM143.1 508.4h0.9v0.9h-0.9zM130.9 521.3h0.9v0.9h-0.9zM131.7 510.2h0.9v0.9h-0.9zM144.5 514.0h0.9v0.9h-0.9zM148.1 504.3h0.9v0.9h-0.9zM142.5 513.8h0.9v0.9h-0.9zM144.5 512.0h0.9v0.9h-0.9zM155.3 508.1h0.9v0.9h-0.9zM151.9 506.0h0.9v0.9h-0.9zM144.7 520.3h0.9v0.9h-0.9zM149.7 510.9h0.9v0.9h-0.9zM131.0 524.2h0.9v0.9h-0.9zM143.2 519.0h0.9v0.9h-0.9zM144.7 520.8h0.9v0.9h-0.9zM141.9 516.1h0.9v0.9h-0.9zM149.4 502.3h0.9v0.9h-0.9zM138.2 513.2h0.9v0.9h-0.9zM163.2 501.4h0.9v0.9h-0.9zM149.2 514.7h0.9v0.9h-0.9zM139.5 504.8h0.9v0.9h-0.9zM152.5 505.4h0.9v0.9h-0.9zM149.9 500.4h0.9v0.9h-0.9zM137.8 526.1h0.9v0.9h-0.9zM157.4 496.1h0.9v0.9h-0.9zM150.0 511.0h0.9v0.9h-0.9zM145.6 505.3h0.9v0.9h-0.9zM148.6 518.7h0.9v0.9h-0.9zM137.8 506.6h0.9v0.9h-0.9zM134.4 524.5h0.9v0.9h-0.9zM132.0 519.5h0.9v0.9h-0.9zM139.8 515.9h0.9v0.9h-0.9zM158.2 508.1h0.9v0.9h-0.9zM156.4 505.0h0.9v0.9h-0.9zM137.4 520.0h0.9v0.9h-0.9zM144.1 504.4h0.9v0.9h-0.9zM147.3 507.4h0.9v0.9h-0.9zM132.1 516.6h0.9v0.9h-0.9zM140.8 524.3h0.9v0.9h-0.9zM143.5 513.5h0.9v0.9h-0.9zM146.5 498.8h0.9v0.9h-0.9zM155.4 498.9h0.9v0.9h-0.9zM147.0 503.5h0.9v0.9h-0.9zM132.1 517.5h0.9v0.9h-0.9zM162.3 507.6h0.9v0.9h-0.9zM136.1 516.0h0.9v0.9h-0.9zM130.3 521.2h0.9v0.9h-0.9zM136.4 523.1h0.9v0.9h-0.9zM133.6 514.3h0.9v0.9h-0.9zM149.9 510.8h0.9v0.9h-0.9zM148.5 519.3h0.9v0.9h-0.9zM154.5 497.3h0.9v0.9h-0.9zM148.0 498.3h0.9v0.9h-0.9zM141.7 528.5h0.9v0.9h-0.9zM140.4 512.8h0.9v0.9h-0.9zM144.2 513.4h0.9v0.9h-0.9zM142.7 508.7h0.9v0.9h-0.9zM153.8 514.0h0.9v0.9h-0.9zM140.2 517.9h0.9v0.9h-0.9zM149.3 517.7h0.9v0.9h-0.9zM146.5 516.9h0.9v0.9h-0.9zM139.6 508.2h0.9v0.9h-0.9zM137.2 524.7h0.9v0.9h-0.9zM152.7 509.3h0.9v0.9h-0.9zM136.4 520.0h0.9v0.9h-0.9zM159.9 513.8h0.9v0.9h-0.9zM135.2 518.2h0.9v0.9h-0.9zM144.4 513.3h0.9v0.9h-0.9zM152.5 517.5h0.9v0.9h-0.9zM151.2 518.7h0.9v0.9h-0.9zM136.7 509.5h0.9v0.9h-0.9zM146.1 503.8h0.9v0.9h-0.9zM144.9 523.1h0.9v0.9h-0.9zM131.5 526.5h0.9v0.9h-0.9zM136.0 527.3h0.9v0.9h-0.9zM150.6 511.6h0.9v0.9h-0.9zM163.4 499.0h0.9v0.9h-0.9zM142.0 507.1h0.9v0.9h-0.9zM142.4 515.3h0.9v0.9h-0.9zM144.5 511.7h0.9v0.9h-0.9zM153.8 490.9h0.9v0.9h-0.9zM136.6 515.8h0.9v0.9h-0.9zM161.5 488.7h0.9v0.9h-0.9zM138.8 508.1h0.9v0.9h-0.9zM135.4 523.0h0.9v0.9h-0.9zM146.7 522.2h0.9v0.9h-0.9zM136.1 519.9h0.9v0.9h-0.9zM154.7 513.6h0.9v0.9h-0.9zM138.9 524.5h0.9v0.9h-0.9zM144.0 512.5h0.9v0.9h-0.9zM145.2 518.8h0.9v0.9h-0.9zM160.7 502.5h0.9v0.9h-0.9zM138.5 520.8h0.9v0.9h-0.9zM133.2 507.4h0.9v0.9h-0.9zM151.2 506.4h0.9v0.9h-0.9zM154.2 499.9h0.9v0.9h-0.9zM144.0 524.9h0.9v0.9h-0.9zM147.9 513.3h0.9v0.9h-0.9zM148.6 508.0h0.9v0.9h-0.9zM143.2 504.1h0.9v0.9h-0.9zM147.9 505.3h0.9v0.9h-0.9zM137.7 522.1h0.9v0.9h-0.9zM152.0 501.4h0.9v0.9h-0.9zM163.4 497.7h0.9v0.9h-0.9zM151.2 516.0h0.9v0.9h-0.9zM144.8 514.2h0.9v0.9h-0.9zM161.3 509.6h0.9v0.9h-0.9zM147.1 498.4h0.9v0.9h-0.9zM134.6 527.3h0.9v0.9h-0.9zM144.4 506.2h0.9v0.9h-0.9zM135.7 516.1h0.9v0.9h-0.9zM149.6 512.9h0.9v0.9h-0.9zM152.9 502.2h0.9v0.9h-0.9zM152.8 504.6h0.9v0.9h-0.9zM139.3 528.7h0.9v0.9h-0.9zM143.2 512.8h0.9v0.9h-0.9zM140.2 512.8h0.9v0.9h-0.9zM158.8 514.6h0.9v0.9h-0.9zM149.9 511.2h0.9v0.9h-0.9zM153.3 507.3h0.9v0.9h-0.9zM147.2 514.4h0.9v0.9h-0.9zM143.3 525.7h0.9v0.9h-0.9zM160.8 513.0h0.9v0.9h-0.9zM149.8 506.7h0.9v0.9h-0.9zM142.1 522.7h0.9v0.9h-0.9zM154.7 513.2h0.9v0.9h-0.9zM143.9 513.7h0.9v0.9h-0.9zM151.1 508.5h0.9v0.9h-0.9zM133.0 515.3h0.9v0.9h-0.9zM140.9 517.6h0.9v0.9h-0.9zM166.2 490.4h0.9v0.9h-0.9zM147.4 510.7h0.9v0.9h-0.9zM145.6 522.2h0.9v0.9h-0.9zM155.4 505.5h0.9v0.9h-0.9zM136.5 507.9h0.9v0.9h-0.9zM141.7 523.7h0.9v0.9h-0.9zM139.6 521.0h0.9v0.9h-0.9zM149.8 512.8h0.9v0.9h-0.9zM153.8 506.8h0.9v0.9h-0.9zM133.7 511.0h0.9v0.9h-0.9zM152.1 506.0h0.9v0.9h-0.9zM139.1 522.2h0.9v0.9h-0.9zM149.4 506.4h0.9v0.9h-0.9zM135.7 526.0h0.9v0.9h-0.9zM130.0 517.0h0.9v0.9h-0.9zM142.5 515.7h0.9v0.9h-0.9zM142.6 517.0h0.9v0.9h-0.9zM138.6 515.7h0.9v0.9h-0.9zM155.7 511.2h0.9v0.9h-0.9zM149.4 517.2h0.9v0.9h-0.9zM143.6 510.8h0.9v0.9h-0.9zM148.6 509.3h0.9v0.9h-0.9zM147.4 490.7h0.9v0.9h-0.9zM146.4 506.2h0.9v0.9h-0.9zM152.3 513.9h0.9v0.9h-0.9zM150.1 506.9h0.9v0.9h-0.9zM147.0 509.1h0.9v0.9h-0.9zM144.7 512.0h0.9v0.9h-0.9zM150.0 495.0h0.9v0.9h-0.9zM151.8 498.7h0.9v0.9h-0.9zM140.0 511.5h0.9v0.9h-0.9zM136.8 519.3h0.9v0.9h-0.9zM139.0 505.9h0.9v0.9h-0.9zM142.3 517.0h0.9v0.9h-0.9zM161.0 500.4h0.9v0.9h-0.9zM129.9 518.9h0.9v0.9h-0.9zM149.3 503.9h0.9v0.9h-0.9zM134.8 522.8h0.9v0.9h-0.9zM142.3 516.0h0.9v0.9h-0.9zM135.8 512.2h0.9v0.9h-0.9zM139.0 515.2h0.9v0.9h-0.9zM138.9 519.5h0.9v0.9h-0.9zM148.1 514.9h0.9v0.9h-0.9zM147.4 504.9h0.9v0.9h-0.9zM130.6 527.0h0.9v0.9h-0.9zM142.5 515.1h0.9v0.9h-0.9zM130.2 519.9h0.9v0.9h-0.9zM135.7 512.0h0.9v0.9h-0.9zM135.8 507.4h0.9v0.9h-0.9zM143.3 522.2h0.9v0.9h-0.9zM135.0 519.4h0.9v0.9h-0.9zM130.9 525.9h0.9v0.9h-0.9zM162.0 493.9h0.9v0.9h-0.9zM140.0 526.0h0.9v0.9h-0.9zM146.3 512.9h0.9v0.9h-0.9zM152.0 519.0h0.9v0.9h-0.9zM149.1 506.2h0.9v0.9h-0.9zM135.2 505.4h0.9v0.9h-0.9zM131.1 529.0h0.9v0.9h-0.9zM141.2 505.3h0.9v0.9h-0.9zM156.3 494.1h0.9v0.9h-0.9zM155.6 504.2h0.9v0.9h-0.9zM146.0 517.1h0.9v0.9h-0.9zM145.2 521.9h0.9v0.9h-0.9zM142.6 511.8h0.9v0.9h-0.9zM135.5 508.0h0.9v0.9h-0.9zM135.1 525.7h0.9v0.9h-0.9zM151.1 519.2h0.9v0.9h-0.9zM171.0 502.6h0.9v0.9h-0.9zM147.7 501.7h0.9v0.9h-0.9zM148.0 510.0h0.9v0.9h-0.9zM145.6 498.7h0.9v0.9h-0.9zM133.6 510.0h0.9v0.9h-0.9zM152.5 507.1h0.9v0.9h-0.9zM146.0 504.9h0.9v0.9h-0.9zM147.2 517.0h0.9v0.9h-0.9zM158.5 516.1h0.9v0.9h-0.9zM147.5 510.4h0.9v0.9h-0.9zM133.7 515.0h0.9v0.9h-0.9zM148.9 514.6h0.9v0.9h-0.9zM142.6 526.2h0.9v0.9h-0.9zM149.2 510.4h0.9v0.9h-0.9zM140.4 516.0h0.9v0.9h-0.9zM132.4 513.1h0.9v0.9h-0.9zM146.0 507.9h0.9v0.9h-0.9zM139.6 524.8h0.9v0.9h-0.9zM140.4 525.0h0.9v0.9h-0.9zM142.3 525.3h0.9v0.9h-0.9zM147.3 498.7h0.9v0.9h-0.9zM155.4 505.2h0.9v0.9h-0.9zM144.0 504.0h0.9v0.9h-0.9zM136.0 522.0h0.9v0.9h-0.9zM157.2 513.8h0.9v0.9h-0.9zM155.2 514.8h0.9v0.9h-0.9zM144.4 493.7h0.9v0.9h-0.9zM150.5 516.0h0.9v0.9h-0.9zM134.3 516.3h0.9v0.9h-0.9z" fill="#48cc48" fill-opacity="0.85"/>
<path d="M130.1 526.2h0.9v0.9h-0.9zM133.3 526.3h0.9v0.9h-0.9zM129.8 527.5h0.9v0.9h-0.9zM132.2 529.2h0.9v0.9h-0.9zM134.5 521.8h0.9v0.9h-0.9zM131.7 527.7h0.9v0.9h-0.9zM136.2 526.4h0.9v0.9h-0.9zM135.4 523.1h0.9v0.9h-0.9zM137.3 526.0h0.9v0.9h-0.9zM135.2 523.6h0.9v0.9h-0.9zM133.1 517.4h0.9v0.9h-0.9zM132.7 528.0h0.9v0.9h-0.9zM130.3 523.8h0.9v0.9h-0.9zM133.2 526.5h0.9v0.9h-0.9zM130.6 528.3h0.9v0.9h-0.9zM138.1 523.3h0.9v0.9h-0.9zM130.2 523.0h0.9v0.9h-0.9zM130.9 524.1h0.9v0.9h-0.9zM130.0 523.2h0.9v0.9h-0.9zM139.0 524.3h0.9v0.9h-0.9zM136.8 522.1h0.9v0.9h-0.9zM135.3 522.5h0.9v0.9h-0.9zM131.8 528.2h0.9v0.9h-0.9zM131.5 520.4h0.9v0.9h-0.9zM131.5 525.8h0.9v0.9h-0.9zM135.4 523.3h0.9v0.9h-0.9zM132.4 526.5h0.9v0.9h-0.9zM130.5 527.6h0.9v0.9h-0.9zM133.0 525.8h0.9v0.9h-0.9zM132.1 523.5h0.9v0.9h-0.9zM131.6 522.5h0.9v0.9h-0.9zM134.0 528.3h0.9v0.9h-0.9zM135.5 524.7h0.9v0.9h-0.9zM139.3 528.9h0.9v0.9h-0.9zM130.1 525.9h0.9v0.9h-0.9zM131.9 520.9h0.9v0.9h-0.9zM135.5 524.3h0.9v0.9h-0.9zM131.6 520.7h0.9v0.9h-0.9zM140.8 527.5h0.9v0.9h-0.9zM131.2 524.5h0.9v0.9h-0.9zM133.9 524.4h0.9v0.9h-0.9zM131.9 525.0h0.9v0.9h-0.9zM137.1 525.8h0.9v0.9h-0.9zM138.2 523.8h0.9v0.9h-0.9zM131.3 524.9h0.9v0.9h-0.9zM131.5 526.0h0.9v0.9h-0.9zM132.8 523.8h0.9v0.9h-0.9zM136.2 528.2h0.9v0.9h-0.9zM131.8 526.4h0.9v0.9h-0.9zM133.9 527.2h0.9v0.9h-0.9zM133.6 527.1h0.9v0.9h-0.9zM131.6 521.0h0.9v0.9h-0.9z" fill="#40c840" fill-opacity="0.9"/>
<path d="M145.3 545.6h0.9v0.9h-0.9zM132.1 555.5h0.9v0.9h-0.9zM144.1 554.1h0.9v0.9h-0.9zM142.5 550.8h0.9v0.9h-0.9zM132.5 545.5h0.9v0.9h-0.9zM139.9 550.7h0.9v0.9h-0.9zM140.5 540.3h0.9v0.9h-0.9zM134.6 543.6h0.9v0.9h-0.9zM136.8 540.5h0.9v0.9h-0.9zM139.6 546.5h0.9v0.9h-0.9zM141.1 534.7h0.9v0.9h-0.9zM135.6 551.6h0.9v0.9h-0.9zM138.1 542.6h0.9v0.9h-0.9zM138.7 545.9h0.9v0.9h-0.9zM142.9 554.7h0.9v0.9h-0.9zM142.9 549.4h0.9v0.9h-0.9zM142.1 552.3h0.9v0.9h-0.9zM144.3 535.6h0.9v0.9h-0.9zM139.8 547.1h0.9v0.9h-0.9zM138.8 544.9h0.9v0.9h-0.9zM137.5 549.4h0.9v0.9h-0.9zM139.0 547.3h0.9v0.9h-0.9zM132.0 537.2h0.9v0.9h-0.9zM133.8 534.1h0.9v0.9h-0.9zM135.1 540.3h0.9v0.9h-0.9zM135.3 542.1h0.9v0.9h-0.9zM149.9 554.0h0.9v0.9h-0.9zM133.6 542.3h0.9v0.9h-0.9zM132.3 540.3h0.9v0.9h-0.9zM136.0 545.6h0.9v0.9h-0.9zM134.5 551.0h0.9v0.9h-0.9zM141.4 559.5h0.9v0.9h-0.9zM130.7 549.4h0.9v0.9h-0.9zM135.8 535.6h0.9v0.9h-0.9zM136.2 535.4h0.9v0.9h-0.9zM145.1 559.3h0.9v0.9h-0.9zM144.5 537.5h0.9v0.9h-0.9zM140.2 547.6h0.9v0.9h-0.9zM140.3 540.1h0.9v0.9h-0.9zM144.5 549.4h0.9v0.9h-0.9zM135.2 547.0h0.9v0.9h-0.9zM131.1 551.3h0.9v0.9h-0.9zM138.8 545.5h0.9v0.9h-0.9zM135.5 545.5h0.9v0.9h-0.9zM138.6 543.8h0.9v0.9h-0.9zM143.2 548.6h0.9v0.9h-0.9zM137.4 540.7h0.9v0.9h-0.9zM144.6 555.8h0.9v0.9h-0.9zM141.7 535.1h0.9v0.9h-0.9zM136.0 552.3h0.9v0.9h-0.9zM138.1 554.5h0.9v0.9h-0.9zM135.5 551.0h0.9v0.9h-0.9zM140.8 531.1h0.9v0.9h-0.9zM135.7 544.4h0.9v0.9h-0.9zM134.5 539.9h0.9v0.9h-0.9zM146.6 547.1h0.9v0.9h-0.9zM142.2 538.5h0.9v0.9h-0.9zM140.1 542.0h0.9v0.9h-0.9zM140.8 552.0h0.9v0.9h-0.9zM135.4 545.5h0.9v0.9h-0.9zM133.8 552.5h0.9v0.9h-0.9zM147.6 551.2h0.9v0.9h-0.9zM135.1 541.3h0.9v0.9h-0.9zM136.4 551.7h0.9v0.9h-0.9zM133.7 555.1h0.9v0.9h-0.9zM131.2 545.1h0.9v0.9h-0.9zM145.1 559.0h0.9v0.9h-0.9zM135.7 551.0h0.9v0.9h-0.9zM151.8 556.3h0.9v0.9h-0.9zM151.0 541.1h0.9v0.9h-0.9zM142.9 533.8h0.9v0.9h-0.9zM146.6 542.4h0.9v0.9h-0.9zM142.3 552.9h0.9v0.9h-0.9zM139.7 536.8h0.9v0.9h-0.9zM137.8 540.2h0.9v0.9h-0.9zM145.3 544.3h0.9v0.9h-0.9zM132.9 549.5h0.9v0.9h-0.9zM144.6 546.5h0.9v0.9h-0.9zM139.4 549.7h0.9v0.9h-0.9zM135.2 538.2h0.9v0.9h-0.9zM140.8 544.6h0.9v0.9h-0.9zM130.4 550.5h0.9v0.9h-0.9zM140.3 547.6h0.9v0.9h-0.9zM133.8 544.1h0.9v0.9h-0.9zM141.3 550.0h0.9v0.9h-0.9zM133.4 539.7h0.9v0.9h-0.9zM139.8 547.8h0.9v0.9h-0.9zM142.6 539.7h0.9v0.9h-0.9zM143.0 558.5h0.9v0.9h-0.9zM143.1 548.1h0.9v0.9h-0.9zM142.9 538.9h0.9v0.9h-0.9zM135.5 559.1h0.9v0.9h-0.9zM142.4 542.9h0.9v0.9h-0.9zM134.8 538.6h0.9v0.9h-0.9zM147.2 544.0h0.9v0.9h-0.9zM136.4 534.4h0.9v0.9h-0.9zM142.1 547.0h0.9v0.9h-0.9zM140.6 556.9h0.9v0.9h-0.9zM138.7 538.8h0.9v0.9h-0.9zM132.3 545.8h0.9v0.9h-0.9zM145.2 539.9h0.9v0.9h-0.9zM136.5 545.1h0.9v0.9h-0.9zM141.5 541.2h0.9v0.9h-0.9zM139.6 551.6h0.9v0.9h-0.9zM137.7 545.6h0.9v0.9h-0.9zM141.3 550.6h0.9v0.9h-0.9zM144.8 540.6h0.9v0.9h-0.9zM144.7 546.0h0.9v0.9h-0.9zM131.6 541.6h0.9v0.9h-0.9zM131.1 543.8h0.9v0.9h-0.9zM143.6 532.8h0.9v0.9h-0.9zM131.4 550.1h0.9v0.9h-0.9zM136.2 551.1h0.9v0.9h-0.9zM130.6 544.7h0.9v0.9h-0.9zM142.0 554.8h0.9v0.9h-0.9zM146.9 547.5h0.9v0.9h-0.9zM133.1 543.0h0.9v0.9h-0.9zM144.4 541.6h0.9v0.9h-0.9zM148.0 539.4h0.9v0.9h-0.9zM141.0 541.6h0.9v0.9h-0.9zM131.5 552.8h0.9v0.9h-0.9zM133.0 546.1h0.9v0.9h-0.9zM135.3 546.7h0.9v0.9h-0.9zM134.4 551.0h0.9v0.9h-0.9zM141.3 547.3h0.9v0.9h-0.9zM137.2 558.8h0.9v0.9h-0.9zM134.1 542.8h0.9v0.9h-0.9zM142.1 547.0h0.9v0.9h-0.9zM135.8 539.5h0.9v0.9h-0.9zM139.0 539.2h0.9v0.9h-0.9zM136.5 538.8h0.9v0.9h-0.9zM146.5 546.0h0.9v0.9h-0.9zM140.3 548.6h0.9v0.9h-0.9zM141.8 546.0h0.9v0.9h-0.9zM142.0 547.8h0.9v0.9h-0.9zM130.8 551.1h0.9v0.9h-0.9zM139.1 544.1h0.9v0.9h-0.9zM131.4 542.7h0.9v0.9h-0.9zM130.3 557.7h0.9v0.9h-0.9zM140.4 546.2h0.9v0.9h-0.9zM132.5 543.2h0.9v0.9h-0.9zM136.6 543.2h0.9v0.9h-0.9zM137.5 551.4h0.9v0.9h-0.9zM144.0 538.6h0.9v0.9h-0.9zM136.9 543.7h0.9v0.9h-0.9zM131.6 551.3h0.9v0.9h-0.9zM136.1 553.3h0.9v0.9h-0.9zM140.2 544.9h0.9v0.9h-0.9zM139.5 544.2h0.9v0.9h-0.9zM139.9 554.1h0.9v0.9h-0.9zM142.4 546.8h0.9v0.9h-0.9zM134.2 544.4h0.9v0.9h-0.9zM138.2 540.5h0.9v0.9h-0.9zM137.2 546.2h0.9v0.9h-0.9zM145.9 547.1h0.9v0.9h-0.9zM150.8 541.0h0.9v0.9h-0.9zM137.1 554.1h0.9v0.9h-0.9zM140.1 542.8h0.9v0.9h-0.9zM136.6 556.0h0.9v0.9h-0.9zM135.4 547.7h0.9v0.9h-0.9zM140.3 554.5h0.9v0.9h-0.9zM130.5 543.2h0.9v0.9h-0.9zM141.3 552.2h0.9v0.9h-0.9zM136.3 555.8h0.9v0.9h-0.9zM137.5 550.7h0.9v0.9h-0.9zM133.7 550.9h0.9v0.9h-0.9zM133.9 553.0h0.9v0.9h-0.9zM142.6 559.2h0.9v0.9h-0.9zM135.6 538.4h0.9v0.9h-0.9zM142.5 549.1h0.9v0.9h-0.9zM135.0 537.2h0.9v0.9h-0.9zM142.3 534.5h0.9v0.9h-0.9zM135.3 552.7h0.9v0.9h-0.9zM136.5 549.0h0.9v0.9h-0.9zM140.6 550.6h0.9v0.9h-0.9zM143.7 551.5h0.9v0.9h-0.9zM135.8 538.0h0.9v0.9h-0.9zM136.3 541.8h0.9v0.9h-0.9zM140.1 554.6h0.9v0.9h-0.9zM142.2 542.6h0.9v0.9h-0.9zM139.0 546.5h0.9v0.9h-0.9zM135.3 554.2h0.9v0.9h-0.9zM141.3 549.2h0.9v0.9h-0.9zM133.9 552.9h0.9v0.9h-0.9zM136.7 545.9h0.9v0.9h-0.9zM136.5 549.1h0.9v0.9h-0.9zM137.9 557.3h0.9v0.9h-0.9zM137.2 544.5h0.9v0.9h-0.9zM145.7 552.5h0.9v0.9h-0.9zM141.7 550.4h0.9v0.9h-0.9zM137.7 548.3h0.9v0.9h-0.9zM140.9 547.5h0.9v0.9h-0.9zM135.3 542.2h0.9v0.9h-0.9zM136.0 541.3h0.9v0.9h-0.9zM133.1 544.9h0.9v0.9h-0.9zM142.8 545.3h0.9v0.9h-0.9zM140.5 538.1h0.9v0.9h-0.9zM142.1 539.7h0.9v0.9h-0.9zM141.7 542.2h0.9v0.9h-0.9zM134.6 537.6h0.9v0.9h-0.9zM130.9 543.6h0.9v0.9h-0.9zM132.5 543.9h0.9v0.9h-0.9zM144.1 542.0h0.9v0.9h-0.9zM136.2 545.3h0.9v0.9h-0.9zM134.5 545.5h0.9v0.9h-0.9zM139.2 553.2h0.9v0.9h-0.9z" fill="#e03ad8" fill-opacity="0.9"/>
<path d="M116.6 524.8h0.9v0.9h-0.9zM114.4 527.1h0.9v0.9h-0.9zM128.5 525.5h0.9v0.9h-0.9zM116.7 521.0h0.9v0.9h-0.9zM107.6 525.6h0.9v0.9h-0.9zM120.4 517.9h0.9v0.9h-0.9zM129.1 523.4h0.9v0.9h-0.9zM120.5 522.3h0.9v0.9h-0.9zM126.2 522.0h0.9v0.9h-0.9zM126.5 521.1h0.9v0.9h-0.9zM116.1 529.2h0.9v0.9h-0.9zM125.7 517.5h0.9v0.9h-0.9zM129.0 519.2h0.9v0.9h-0.9zM124.4 517.7h0.9v0.9h-0.9zM124.7 523.7h0.9v0.9h-0.9zM125.8 525.1h0.9v0.9h-0.9zM114.9 526.0h0.9v0.9h-0.9zM127.2 515.1h0.9v0.9h-0.9zM119.5 527.1h0.9v0.9h-0.9zM125.4 513.5h0.9v0.9h-0.9zM117.6 528.2h0.9v0.9h-0.9zM125.9 518.9h0.9v0.9h-0.9zM118.8 519.0h0.9v0.9h-0.9zM119.7 524.8h0.9v0.9h-0.9zM114.6 517.7h0.9v0.9h-0.9zM127.8 528.8h0.9v0.9h-0.9zM115.1 526.5h0.9v0.9h-0.9zM117.0 513.6h0.9v0.9h-0.9zM128.3 525.3h0.9v0.9h-0.9zM124.3 518.8h0.9v0.9h-0.9zM113.2 527.6h0.9v0.9h-0.9zM124.3 516.6h0.9v0.9h-0.9zM125.4 528.2h0.9v0.9h-0.9zM112.3 525.3h0.9v0.9h-0.9zM127.0 526.8h0.9v0.9h-0.9zM123.8 524.6h0.9v0.9h-0.9zM126.9 524.5h0.9v0.9h-0.9zM123.6 517.2h0.9v0.9h-0.9zM124.4 520.2h0.9v0.9h-0.9zM113.7 520.9h0.9v0.9h-0.9zM121.8 524.8h0.9v0.9h-0.9zM119.2 527.9h0.9v0.9h-0.9zM125.3 513.0h0.9v0.9h-0.9zM127.2 522.4h0.9v0.9h-0.9zM114.1 523.6h0.9v0.9h-0.9zM118.6 518.6h0.9v0.9h-0.9z" fill="#d26a3a" fill-opacity="0.85"/>
<path d="M60.1 553.1C61.3 551.6 65.8 547.5 70.1 545.3C74.5 543.1 80.8 541.8 86.2 540.1C91.6 538.4 97.7 536.4 102.3 535.1C106.9 533.8 110.3 533.1 113.6 532.5C116.9 531.9 120.2 531.0 122.1 531.7C124.0 532.4 125.0 534.4 125.1 536.8C125.2 539.1 124.0 543.5 122.6 545.8C121.2 548.1 119.9 549.4 116.6 550.8C113.3 552.2 107.6 553.4 102.6 554.1C97.6 554.8 91.9 554.8 86.6 554.9C81.3 555.0 74.5 554.6 70.6 554.5C66.7 554.4 64.9 554.3 63.1 554.1C61.4 553.9 58.9 554.6 60.1 553.1Z" fill="#0000f2"/>
<path d="M70.9 554.6h0.9v0.9h-0.9zM63.3 550.0h0.9v0.9h-0.9zM123.8 549.1h0.9v0.9h-0.9zM120.0 547.4h0.9v0.9h-0.9zM107.4 552.6h0.9v0.9h-0.9zM123.3 540.9h0.9v0.9h-0.9zM62.0 554.3h0.9v0.9h-0.9zM97.7 534.4h0.9v0.9h-0.9zM124.7 536.2h0.9v0.9h-0.9zM61.4 551.6h0.9v0.9h-0.9zM102.4 532.5h0.9v0.9h-0.9zM108.3 533.4h0.9v0.9h-0.9zM103.0 534.6h0.9v0.9h-0.9zM123.4 539.4h0.9v0.9h-0.9zM95.6 533.7h0.9v0.9h-0.9zM110.3 533.3h0.9v0.9h-0.9zM89.4 539.1h0.9v0.9h-0.9zM114.9 533.1h0.9v0.9h-0.9zM61.4 553.3h0.9v0.9h-0.9zM67.9 547.6h0.9v0.9h-0.9zM73.8 554.5h0.9v0.9h-0.9zM110.6 554.2h0.9v0.9h-0.9zM68.6 555.2h0.9v0.9h-0.9zM98.8 553.9h0.9v0.9h-0.9zM112.7 530.4h0.9v0.9h-0.9zM66.1 547.3h0.9v0.9h-0.9zM113.7 551.7h0.9v0.9h-0.9zM122.7 546.6h0.9v0.9h-0.9zM115.5 549.4h0.9v0.9h-0.9zM126.5 536.3h0.9v0.9h-0.9zM68.3 547.0h0.9v0.9h-0.9zM111.2 553.6h0.9v0.9h-0.9zM72.4 558.2h0.9v0.9h-0.9zM121.9 545.8h0.9v0.9h-0.9zM117.5 532.8h0.9v0.9h-0.9zM86.1 538.1h0.9v0.9h-0.9zM82.3 554.4h0.9v0.9h-0.9zM121.7 546.3h0.9v0.9h-0.9zM61.3 556.0h0.9v0.9h-0.9zM59.4 556.6h0.9v0.9h-0.9zM105.4 553.3h0.9v0.9h-0.9zM122.0 534.3h0.9v0.9h-0.9zM81.2 558.2h0.9v0.9h-0.9zM124.0 534.0h0.9v0.9h-0.9zM101.1 535.0h0.9v0.9h-0.9zM123.6 539.7h0.9v0.9h-0.9zM124.2 537.0h0.9v0.9h-0.9zM63.0 553.9h0.9v0.9h-0.9zM90.6 557.7h0.9v0.9h-0.9zM126.5 539.0h0.9v0.9h-0.9zM116.0 531.3h0.9v0.9h-0.9zM61.6 552.9h0.9v0.9h-0.9zM79.4 542.2h0.9v0.9h-0.9zM125.6 536.6h0.9v0.9h-0.9zM122.7 542.7h0.9v0.9h-0.9zM111.2 552.8h0.9v0.9h-0.9zM79.0 540.8h0.9v0.9h-0.9zM63.1 555.1h0.9v0.9h-0.9zM92.4 556.4h0.9v0.9h-0.9zM62.2 552.1h0.9v0.9h-0.9zM111.0 531.7h0.9v0.9h-0.9zM107.4 534.9h0.9v0.9h-0.9zM122.9 534.1h0.9v0.9h-0.9zM122.3 531.1h0.9v0.9h-0.9zM123.7 544.3h0.9v0.9h-0.9zM78.8 556.0h0.9v0.9h-0.9zM93.1 554.5h0.9v0.9h-0.9zM91.3 556.5h0.9v0.9h-0.9zM118.6 532.0h0.9v0.9h-0.9zM61.6 555.3h0.9v0.9h-0.9zM62.2 552.9h0.9v0.9h-0.9zM122.0 547.9h0.9v0.9h-0.9zM125.2 537.9h0.9v0.9h-0.9zM62.7 550.9h0.9v0.9h-0.9zM118.9 530.5h0.9v0.9h-0.9zM111.1 532.8h0.9v0.9h-0.9zM61.9 553.0h0.9v0.9h-0.9zM101.7 534.1h0.9v0.9h-0.9zM65.8 557.0h0.9v0.9h-0.9zM125.1 546.7h0.9v0.9h-0.9zM124.7 545.4h0.9v0.9h-0.9zM82.4 553.7h0.9v0.9h-0.9zM119.8 530.6h0.9v0.9h-0.9zM65.6 555.6h0.9v0.9h-0.9zM128.0 542.3h0.9v0.9h-0.9zM126.6 536.2h0.9v0.9h-0.9zM126.7 537.6h0.9v0.9h-0.9zM122.5 545.1h0.9v0.9h-0.9zM94.3 556.2h0.9v0.9h-0.9zM72.8 542.0h0.9v0.9h-0.9zM64.3 553.1h0.9v0.9h-0.9zM65.8 548.4h0.9v0.9h-0.9zM115.9 531.7h0.9v0.9h-0.9zM61.6 550.6h0.9v0.9h-0.9zM124.5 532.6h0.9v0.9h-0.9zM90.5 540.9h0.9v0.9h-0.9zM71.8 545.2h0.9v0.9h-0.9zM102.7 535.5h0.9v0.9h-0.9zM101.6 553.9h0.9v0.9h-0.9zM68.8 548.4h0.9v0.9h-0.9zM59.9 554.0h0.9v0.9h-0.9zM70.4 554.7h0.9v0.9h-0.9zM121.5 534.1h0.9v0.9h-0.9zM80.0 555.5h0.9v0.9h-0.9zM117.8 551.4h0.9v0.9h-0.9zM61.8 553.9h0.9v0.9h-0.9zM125.4 534.9h0.9v0.9h-0.9zM119.7 549.3h0.9v0.9h-0.9zM117.6 531.2h0.9v0.9h-0.9zM84.7 556.7h0.9v0.9h-0.9zM115.3 532.7h0.9v0.9h-0.9zM124.8 538.8h0.9v0.9h-0.9zM83.7 541.7h0.9v0.9h-0.9zM66.7 546.9h0.9v0.9h-0.9zM124.3 533.6h0.9v0.9h-0.9zM80.3 556.2h0.9v0.9h-0.9zM125.4 537.4h0.9v0.9h-0.9zM111.6 534.2h0.9v0.9h-0.9zM106.0 530.7h0.9v0.9h-0.9zM86.1 541.5h0.9v0.9h-0.9zM115.4 531.7h0.9v0.9h-0.9zM108.8 551.5h0.9v0.9h-0.9zM120.2 549.4h0.9v0.9h-0.9zM74.4 543.4h0.9v0.9h-0.9zM62.9 554.6h0.9v0.9h-0.9zM98.7 553.6h0.9v0.9h-0.9zM119.1 547.8h0.9v0.9h-0.9zM75.6 555.3h0.9v0.9h-0.9zM120.0 549.7h0.9v0.9h-0.9zM121.3 546.4h0.9v0.9h-0.9zM92.4 554.5h0.9v0.9h-0.9zM123.5 533.9h0.9v0.9h-0.9zM77.9 556.7h0.9v0.9h-0.9zM120.7 532.4h0.9v0.9h-0.9zM120.3 548.1h0.9v0.9h-0.9zM123.0 545.7h0.9v0.9h-0.9zM75.1 555.3h0.9v0.9h-0.9zM91.2 538.4h0.9v0.9h-0.9zM93.1 556.2h0.9v0.9h-0.9zM68.7 554.9h0.9v0.9h-0.9zM69.9 555.3h0.9v0.9h-0.9zM104.7 552.5h0.9v0.9h-0.9zM63.0 549.5h0.9v0.9h-0.9zM122.1 530.9h0.9v0.9h-0.9zM121.0 547.9h0.9v0.9h-0.9zM124.3 533.3h0.9v0.9h-0.9zM66.7 543.0h0.9v0.9h-0.9zM65.8 547.1h0.9v0.9h-0.9zM121.7 553.1h0.9v0.9h-0.9zM115.0 533.4h0.9v0.9h-0.9zM59.9 553.0h0.9v0.9h-0.9zM119.2 548.9h0.9v0.9h-0.9zM103.1 555.8h0.9v0.9h-0.9zM67.7 547.1h0.9v0.9h-0.9zM64.9 552.7h0.9v0.9h-0.9zM120.8 548.2h0.9v0.9h-0.9zM71.9 544.3h0.9v0.9h-0.9zM102.6 556.8h0.9v0.9h-0.9zM120.0 548.0h0.9v0.9h-0.9zM60.5 554.4h0.9v0.9h-0.9zM124.7 536.5h0.9v0.9h-0.9zM121.6 548.2h0.9v0.9h-0.9zM122.3 544.1h0.9v0.9h-0.9zM116.3 553.2h0.9v0.9h-0.9zM60.8 552.6h0.9v0.9h-0.9zM88.1 540.2h0.9v0.9h-0.9zM125.0 536.5h0.9v0.9h-0.9zM66.8 553.2h0.9v0.9h-0.9zM62.5 554.0h0.9v0.9h-0.9zM93.0 535.9h0.9v0.9h-0.9zM77.0 556.4h0.9v0.9h-0.9zM123.0 534.3h0.9v0.9h-0.9zM102.5 532.0h0.9v0.9h-0.9zM103.6 535.2h0.9v0.9h-0.9zM63.1 551.1h0.9v0.9h-0.9zM73.9 556.1h0.9v0.9h-0.9zM122.5 533.2h0.9v0.9h-0.9zM84.4 537.4h0.9v0.9h-0.9zM89.3 556.9h0.9v0.9h-0.9zM98.7 554.7h0.9v0.9h-0.9zM121.5 532.7h0.9v0.9h-0.9zM105.1 552.8h0.9v0.9h-0.9zM123.8 533.4h0.9v0.9h-0.9zM122.0 532.6h0.9v0.9h-0.9zM88.0 539.9h0.9v0.9h-0.9zM98.8 534.0h0.9v0.9h-0.9zM63.0 549.5h0.9v0.9h-0.9zM120.4 550.7h0.9v0.9h-0.9zM89.2 537.8h0.9v0.9h-0.9zM68.2 554.3h0.9v0.9h-0.9zM68.4 553.3h0.9v0.9h-0.9zM65.5 557.2h0.9v0.9h-0.9zM60.5 555.9h0.9v0.9h-0.9zM76.5 541.4h0.9v0.9h-0.9zM114.3 531.5h0.9v0.9h-0.9zM61.4 557.6h0.9v0.9h-0.9zM91.0 539.2h0.9v0.9h-0.9zM118.0 550.2h0.9v0.9h-0.9zM116.1 553.5h0.9v0.9h-0.9zM125.3 537.4h0.9v0.9h-0.9zM125.0 534.6h0.9v0.9h-0.9zM63.9 554.7h0.9v0.9h-0.9zM76.0 556.5h0.9v0.9h-0.9zM64.2 550.2h0.9v0.9h-0.9zM61.1 554.0h0.9v0.9h-0.9zM119.5 549.2h0.9v0.9h-0.9zM124.5 542.9h0.9v0.9h-0.9zM110.8 552.4h0.9v0.9h-0.9zM88.6 555.1h0.9v0.9h-0.9zM85.1 540.5h0.9v0.9h-0.9zM122.2 545.3h0.9v0.9h-0.9zM101.9 554.2h0.9v0.9h-0.9zM61.6 549.5h0.9v0.9h-0.9zM120.4 531.0h0.9v0.9h-0.9zM63.3 552.0h0.9v0.9h-0.9zM120.9 548.3h0.9v0.9h-0.9zM76.3 554.1h0.9v0.9h-0.9zM123.8 541.5h0.9v0.9h-0.9zM83.5 542.5h0.9v0.9h-0.9zM59.9 552.7h0.9v0.9h-0.9zM116.1 549.8h0.9v0.9h-0.9zM127.4 532.0h0.9v0.9h-0.9zM89.7 554.2h0.9v0.9h-0.9zM82.1 556.6h0.9v0.9h-0.9zM80.8 553.7h0.9v0.9h-0.9zM88.1 555.7h0.9v0.9h-0.9zM86.3 555.3h0.9v0.9h-0.9zM62.6 554.8h0.9v0.9h-0.9zM89.9 539.4h0.9v0.9h-0.9zM64.5 555.5h0.9v0.9h-0.9zM83.0 539.8h0.9v0.9h-0.9zM62.5 546.5h0.9v0.9h-0.9zM72.8 543.3h0.9v0.9h-0.9zM69.4 552.7h0.9v0.9h-0.9zM105.3 555.2h0.9v0.9h-0.9zM111.6 532.1h0.9v0.9h-0.9zM104.5 532.5h0.9v0.9h-0.9zM111.9 555.0h0.9v0.9h-0.9zM121.1 546.7h0.9v0.9h-0.9zM110.8 534.1h0.9v0.9h-0.9zM119.8 548.5h0.9v0.9h-0.9zM119.0 549.5h0.9v0.9h-0.9zM73.8 543.9h0.9v0.9h-0.9zM120.3 548.7h0.9v0.9h-0.9zM103.2 554.3h0.9v0.9h-0.9zM122.8 545.0h0.9v0.9h-0.9zM84.5 556.2h0.9v0.9h-0.9zM123.8 539.2h0.9v0.9h-0.9zM66.5 555.5h0.9v0.9h-0.9zM85.1 556.4h0.9v0.9h-0.9zM62.6 555.4h0.9v0.9h-0.9zM63.4 556.5h0.9v0.9h-0.9zM125.6 541.3h0.9v0.9h-0.9zM63.2 548.9h0.9v0.9h-0.9zM121.5 545.7h0.9v0.9h-0.9zM59.8 552.1h0.9v0.9h-0.9zM119.5 547.8h0.9v0.9h-0.9zM100.9 534.9h0.9v0.9h-0.9zM109.2 532.5h0.9v0.9h-0.9zM121.1 532.6h0.9v0.9h-0.9zM74.3 554.2h0.9v0.9h-0.9zM87.7 540.3h0.9v0.9h-0.9zM59.0 556.4h0.9v0.9h-0.9zM69.1 555.1h0.9v0.9h-0.9zM61.5 553.2h0.9v0.9h-0.9zM118.3 549.4h0.9v0.9h-0.9zM93.4 537.4h0.9v0.9h-0.9zM97.4 556.1h0.9v0.9h-0.9zM116.1 533.1h0.9v0.9h-0.9zM59.1 548.9h0.9v0.9h-0.9zM73.8 544.4h0.9v0.9h-0.9zM94.4 556.6h0.9v0.9h-0.9zM117.2 550.0h0.9v0.9h-0.9zM63.6 552.0h0.9v0.9h-0.9zM126.3 535.8h0.9v0.9h-0.9zM117.2 532.7h0.9v0.9h-0.9zM124.4 542.1h0.9v0.9h-0.9zM125.3 537.8h0.9v0.9h-0.9zM116.2 549.7h0.9v0.9h-0.9zM63.6 555.8h0.9v0.9h-0.9zM62.7 553.1h0.9v0.9h-0.9zM118.7 532.3h0.9v0.9h-0.9zM122.2 544.9h0.9v0.9h-0.9zM106.5 552.7h0.9v0.9h-0.9zM107.5 531.4h0.9v0.9h-0.9zM63.9 553.1h0.9v0.9h-0.9zM125.7 540.3h0.9v0.9h-0.9zM84.9 538.6h0.9v0.9h-0.9zM71.7 543.0h0.9v0.9h-0.9zM99.1 555.1h0.9v0.9h-0.9zM125.8 539.8h0.9v0.9h-0.9zM73.3 542.7h0.9v0.9h-0.9zM123.9 532.3h0.9v0.9h-0.9zM80.2 540.2h0.9v0.9h-0.9zM121.2 549.2h0.9v0.9h-0.9zM106.0 553.1h0.9v0.9h-0.9zM93.7 538.0h0.9v0.9h-0.9zM68.2 544.2h0.9v0.9h-0.9zM66.3 548.7h0.9v0.9h-0.9zM72.1 544.4h0.9v0.9h-0.9zM59.2 553.6h0.9v0.9h-0.9zM77.1 539.6h0.9v0.9h-0.9zM61.5 553.4h0.9v0.9h-0.9zM66.6 555.5h0.9v0.9h-0.9zM112.9 533.4h0.9v0.9h-0.9zM117.7 549.2h0.9v0.9h-0.9zM103.2 533.0h0.9v0.9h-0.9zM114.6 551.2h0.9v0.9h-0.9zM119.1 531.2h0.9v0.9h-0.9zM67.2 556.1h0.9v0.9h-0.9zM120.4 547.9h0.9v0.9h-0.9zM100.5 534.4h0.9v0.9h-0.9zM61.5 554.9h0.9v0.9h-0.9zM122.4 532.1h0.9v0.9h-0.9zM123.9 540.5h0.9v0.9h-0.9zM66.5 555.8h0.9v0.9h-0.9zM74.1 545.0h0.9v0.9h-0.9zM118.2 533.4h0.9v0.9h-0.9zM104.2 535.3h0.9v0.9h-0.9zM79.6 555.3h0.9v0.9h-0.9zM109.4 551.4h0.9v0.9h-0.9zM125.0 536.1h0.9v0.9h-0.9zM73.2 545.2h0.9v0.9h-0.9zM64.7 553.3h0.9v0.9h-0.9zM63.7 549.6h0.9v0.9h-0.9zM125.6 533.7h0.9v0.9h-0.9zM63.2 554.1h0.9v0.9h-0.9zM124.4 534.5h0.9v0.9h-0.9zM63.2 554.2h0.9v0.9h-0.9zM125.1 534.9h0.9v0.9h-0.9zM123.1 532.7h0.9v0.9h-0.9zM90.0 553.5h0.9v0.9h-0.9zM79.7 542.6h0.9v0.9h-0.9zM87.5 538.1h0.9v0.9h-0.9zM110.6 531.9h0.9v0.9h-0.9zM82.1 559.2h0.9v0.9h-0.9zM126.3 542.0h0.9v0.9h-0.9zM74.9 555.4h0.9v0.9h-0.9zM61.2 552.6h0.9v0.9h-0.9zM67.0 548.0h0.9v0.9h-0.9zM60.9 554.9h0.9v0.9h-0.9zM76.0 555.6h0.9v0.9h-0.9zM84.0 542.2h0.9v0.9h-0.9zM96.5 555.2h0.9v0.9h-0.9zM69.7 556.0h0.9v0.9h-0.9zM83.1 553.9h0.9v0.9h-0.9zM89.2 557.7h0.9v0.9h-0.9zM103.2 554.1h0.9v0.9h-0.9zM92.0 533.5h0.9v0.9h-0.9zM93.5 536.1h0.9v0.9h-0.9zM97.0 556.3h0.9v0.9h-0.9zM99.7 533.6h0.9v0.9h-0.9zM74.2 543.3h0.9v0.9h-0.9zM77.2 541.1h0.9v0.9h-0.9zM102.8 532.9h0.9v0.9h-0.9zM84.8 554.7h0.9v0.9h-0.9zM122.6 532.3h0.9v0.9h-0.9zM103.1 534.5h0.9v0.9h-0.9zM90.6 536.6h0.9v0.9h-0.9zM91.8 535.9h0.9v0.9h-0.9zM59.8 555.5h0.9v0.9h-0.9zM68.5 545.5h0.9v0.9h-0.9zM117.8 530.5h0.9v0.9h-0.9zM60.0 555.0h0.9v0.9h-0.9zM62.0 557.4h0.9v0.9h-0.9zM121.1 546.5h0.9v0.9h-0.9zM115.8 532.8h0.9v0.9h-0.9zM113.5 552.7h0.9v0.9h-0.9zM121.8 547.7h0.9v0.9h-0.9zM73.1 543.5h0.9v0.9h-0.9zM123.9 532.7h0.9v0.9h-0.9zM69.5 544.2h0.9v0.9h-0.9zM60.7 556.5h0.9v0.9h-0.9zM123.9 537.0h0.9v0.9h-0.9zM71.8 553.4h0.9v0.9h-0.9zM125.2 534.7h0.9v0.9h-0.9zM104.8 531.5h0.9v0.9h-0.9zM63.0 554.4h0.9v0.9h-0.9zM102.2 533.9h0.9v0.9h-0.9zM103.7 533.2h0.9v0.9h-0.9zM96.8 553.3h0.9v0.9h-0.9zM123.8 544.3h0.9v0.9h-0.9zM84.5 538.6h0.9v0.9h-0.9zM62.5 555.6h0.9v0.9h-0.9zM61.2 551.2h0.9v0.9h-0.9zM124.7 540.4h0.9v0.9h-0.9zM65.6 555.3h0.9v0.9h-0.9zM122.7 544.8h0.9v0.9h-0.9zM66.2 553.6h0.9v0.9h-0.9zM116.9 533.7h0.9v0.9h-0.9zM112.8 551.9h0.9v0.9h-0.9zM118.1 531.1h0.9v0.9h-0.9zM116.9 532.1h0.9v0.9h-0.9zM122.2 545.1h0.9v0.9h-0.9zM118.3 550.3h0.9v0.9h-0.9zM122.2 531.8h0.9v0.9h-0.9zM61.7 555.4h0.9v0.9h-0.9zM108.1 533.9h0.9v0.9h-0.9zM108.3 533.8h0.9v0.9h-0.9zM60.4 553.7h0.9v0.9h-0.9zM111.9 532.0h0.9v0.9h-0.9zM106.7 552.4h0.9v0.9h-0.9zM123.2 545.1h0.9v0.9h-0.9zM99.1 554.7h0.9v0.9h-0.9zM60.9 554.1h0.9v0.9h-0.9zM117.6 549.5h0.9v0.9h-0.9zM123.6 538.6h0.9v0.9h-0.9zM97.9 554.5h0.9v0.9h-0.9zM74.9 543.4h0.9v0.9h-0.9zM65.8 547.2h0.9v0.9h-0.9zM113.8 533.2h0.9v0.9h-0.9zM72.2 542.0h0.9v0.9h-0.9zM122.8 541.3h0.9v0.9h-0.9zM65.8 548.4h0.9v0.9h-0.9zM60.0 555.8h0.9v0.9h-0.9zM89.1 538.1h0.9v0.9h-0.9zM124.2 535.2h0.9v0.9h-0.9zM108.7 531.3h0.9v0.9h-0.9zM69.1 554.7h0.9v0.9h-0.9zM111.0 532.5h0.9v0.9h-0.9zM74.1 544.6h0.9v0.9h-0.9zM99.1 556.2h0.9v0.9h-0.9zM115.6 532.3h0.9v0.9h-0.9zM124.0 535.5h0.9v0.9h-0.9zM98.2 535.8h0.9v0.9h-0.9zM74.1 544.6h0.9v0.9h-0.9zM124.7 535.4h0.9v0.9h-0.9zM117.2 549.9h0.9v0.9h-0.9zM91.1 553.7h0.9v0.9h-0.9zM128.2 540.5h0.9v0.9h-0.9zM124.3 534.0h0.9v0.9h-0.9zM124.7 537.4h0.9v0.9h-0.9zM127.2 539.5h0.9v0.9h-0.9zM67.8 557.4h0.9v0.9h-0.9zM119.9 549.7h0.9v0.9h-0.9zM82.9 555.1h0.9v0.9h-0.9zM122.5 533.3h0.9v0.9h-0.9zM119.4 532.7h0.9v0.9h-0.9zM60.8 554.3h0.9v0.9h-0.9zM62.5 555.2h0.9v0.9h-0.9zM101.2 553.9h0.9v0.9h-0.9zM83.7 556.0h0.9v0.9h-0.9zM122.8 531.5h0.9v0.9h-0.9zM87.9 555.7h0.9v0.9h-0.9zM120.5 549.2h0.9v0.9h-0.9zM114.3 552.7h0.9v0.9h-0.9zM124.6 540.7h0.9v0.9h-0.9zM124.4 539.9h0.9v0.9h-0.9zM123.7 536.4h0.9v0.9h-0.9zM120.0 548.3h0.9v0.9h-0.9zM98.9 553.8h0.9v0.9h-0.9zM85.8 554.6h0.9v0.9h-0.9zM119.4 552.1h0.9v0.9h-0.9zM63.8 552.0h0.9v0.9h-0.9zM122.7 533.8h0.9v0.9h-0.9zM65.0 545.4h0.9v0.9h-0.9zM120.1 547.1h0.9v0.9h-0.9zM77.6 558.3h0.9v0.9h-0.9zM86.6 553.1h0.9v0.9h-0.9zM73.4 558.1h0.9v0.9h-0.9zM94.1 537.5h0.9v0.9h-0.9zM123.3 544.1h0.9v0.9h-0.9zM122.6 532.5h0.9v0.9h-0.9zM117.1 551.0h0.9v0.9h-0.9zM67.3 554.0h0.9v0.9h-0.9zM60.9 553.5h0.9v0.9h-0.9zM85.6 540.3h0.9v0.9h-0.9zM66.0 547.6h0.9v0.9h-0.9zM124.7 543.5h0.9v0.9h-0.9zM64.6 554.5h0.9v0.9h-0.9zM68.2 556.4h0.9v0.9h-0.9zM84.2 540.1h0.9v0.9h-0.9zM85.4 555.4h0.9v0.9h-0.9zM125.8 540.1h0.9v0.9h-0.9zM124.6 536.7h0.9v0.9h-0.9zM66.5 547.0h0.9v0.9h-0.9zM95.4 554.2h0.9v0.9h-0.9zM64.9 556.9h0.9v0.9h-0.9zM124.7 531.8h0.9v0.9h-0.9zM124.2 538.0h0.9v0.9h-0.9zM98.8 556.0h0.9v0.9h-0.9zM60.4 554.9h0.9v0.9h-0.9zM120.5 531.7h0.9v0.9h-0.9zM108.4 533.9h0.9v0.9h-0.9zM65.0 554.5h0.9v0.9h-0.9zM88.2 555.2h0.9v0.9h-0.9zM117.4 532.1h0.9v0.9h-0.9zM59.7 550.8h0.9v0.9h-0.9zM92.3 536.3h0.9v0.9h-0.9zM126.9 531.5h0.9v0.9h-0.9zM65.6 549.5h0.9v0.9h-0.9zM121.8 545.2h0.9v0.9h-0.9zM65.2 557.3h0.9v0.9h-0.9zM97.8 554.7h0.9v0.9h-0.9zM125.2 530.6h0.9v0.9h-0.9zM103.9 535.0h0.9v0.9h-0.9zM126.0 542.4h0.9v0.9h-0.9zM100.3 555.9h0.9v0.9h-0.9zM121.1 548.6h0.9v0.9h-0.9zM115.7 530.9h0.9v0.9h-0.9zM85.9 554.8h0.9v0.9h-0.9zM66.3 555.7h0.9v0.9h-0.9zM122.7 542.3h0.9v0.9h-0.9zM67.0 556.3h0.9v0.9h-0.9zM71.6 538.4h0.9v0.9h-0.9zM66.0 558.0h0.9v0.9h-0.9zM94.8 537.4h0.9v0.9h-0.9zM68.1 554.9h0.9v0.9h-0.9zM107.6 532.5h0.9v0.9h-0.9zM124.9 534.4h0.9v0.9h-0.9zM109.5 532.3h0.9v0.9h-0.9zM124.5 536.6h0.9v0.9h-0.9zM83.1 554.0h0.9v0.9h-0.9zM95.7 537.9h0.9v0.9h-0.9zM124.8 539.5h0.9v0.9h-0.9zM78.8 554.9h0.9v0.9h-0.9zM63.9 555.1h0.9v0.9h-0.9zM118.7 530.6h0.9v0.9h-0.9zM73.4 544.6h0.9v0.9h-0.9zM85.1 539.6h0.9v0.9h-0.9zM119.6 551.1h0.9v0.9h-0.9zM67.2 554.9h0.9v0.9h-0.9zM95.2 553.2h0.9v0.9h-0.9zM123.4 545.3h0.9v0.9h-0.9zM67.1 556.5h0.9v0.9h-0.9zM65.4 553.7h0.9v0.9h-0.9zM123.0 551.0h0.9v0.9h-0.9zM64.6 558.3h0.9v0.9h-0.9zM62.8 554.0h0.9v0.9h-0.9zM108.8 551.6h0.9v0.9h-0.9zM116.8 530.3h0.9v0.9h-0.9zM96.8 553.6h0.9v0.9h-0.9zM60.8 553.8h0.9v0.9h-0.9zM76.3 557.2h0.9v0.9h-0.9zM72.7 543.5h0.9v0.9h-0.9zM108.3 532.9h0.9v0.9h-0.9zM89.9 539.0h0.9v0.9h-0.9zM126.4 539.4h0.9v0.9h-0.9zM89.7 554.9h0.9v0.9h-0.9zM62.9 550.9h0.9v0.9h-0.9zM120.5 533.0h0.9v0.9h-0.9zM87.8 538.5h0.9v0.9h-0.9zM126.8 537.7h0.9v0.9h-0.9zM83.1 557.0h0.9v0.9h-0.9zM126.2 534.1h0.9v0.9h-0.9zM102.0 534.9h0.9v0.9h-0.9zM67.4 547.7h0.9v0.9h-0.9zM94.2 556.9h0.9v0.9h-0.9zM94.6 553.9h0.9v0.9h-0.9zM93.2 554.3h0.9v0.9h-0.9zM67.3 546.4h0.9v0.9h-0.9zM113.7 531.2h0.9v0.9h-0.9zM123.1 540.8h0.9v0.9h-0.9zM67.9 543.2h0.9v0.9h-0.9zM102.3 533.7h0.9v0.9h-0.9zM127.8 534.0h0.9v0.9h-0.9zM92.4 539.1h0.9v0.9h-0.9zM118.0 530.1h0.9v0.9h-0.9zM124.0 539.3h0.9v0.9h-0.9zM117.5 551.2h0.9v0.9h-0.9zM97.4 537.7h0.9v0.9h-0.9zM96.2 535.2h0.9v0.9h-0.9zM110.5 551.8h0.9v0.9h-0.9zM103.7 555.3h0.9v0.9h-0.9zM74.9 555.3h0.9v0.9h-0.9zM119.1 532.5h0.9v0.9h-0.9zM85.4 554.4h0.9v0.9h-0.9zM117.4 530.5h0.9v0.9h-0.9zM62.5 552.1h0.9v0.9h-0.9zM73.9 556.0h0.9v0.9h-0.9zM67.7 547.4h0.9v0.9h-0.9zM94.2 531.1h0.9v0.9h-0.9zM72.4 555.8h0.9v0.9h-0.9zM93.2 538.0h0.9v0.9h-0.9zM86.0 538.9h0.9v0.9h-0.9zM123.2 544.6h0.9v0.9h-0.9zM93.5 537.4h0.9v0.9h-0.9zM63.9 555.6h0.9v0.9h-0.9zM62.2 549.8h0.9v0.9h-0.9zM122.2 531.9h0.9v0.9h-0.9zM94.9 556.7h0.9v0.9h-0.9zM120.9 531.8h0.9v0.9h-0.9zM92.8 554.9h0.9v0.9h-0.9zM108.4 533.8h0.9v0.9h-0.9zM106.8 533.5h0.9v0.9h-0.9zM113.1 531.1h0.9v0.9h-0.9zM82.9 542.5h0.9v0.9h-0.9zM62.3 555.1h0.9v0.9h-0.9zM119.2 532.8h0.9v0.9h-0.9zM118.5 552.3h0.9v0.9h-0.9zM81.8 554.9h0.9v0.9h-0.9zM110.5 534.2h0.9v0.9h-0.9zM80.3 538.8h0.9v0.9h-0.9zM123.7 540.4h0.9v0.9h-0.9zM81.1 555.8h0.9v0.9h-0.9zM81.8 555.0h0.9v0.9h-0.9zM124.9 546.0h0.9v0.9h-0.9zM67.4 555.4h0.9v0.9h-0.9zM121.5 531.7h0.9v0.9h-0.9zM112.3 531.4h0.9v0.9h-0.9zM61.1 553.6h0.9v0.9h-0.9zM62.6 554.8h0.9v0.9h-0.9zM73.1 555.3h0.9v0.9h-0.9zM61.4 552.3h0.9v0.9h-0.9zM127.3 536.9h0.9v0.9h-0.9zM109.7 552.8h0.9v0.9h-0.9zM62.9 554.1h0.9v0.9h-0.9zM69.5 545.4h0.9v0.9h-0.9zM60.8 556.2h0.9v0.9h-0.9zM67.6 557.5h0.9v0.9h-0.9zM116.1 551.8h0.9v0.9h-0.9zM70.3 554.6h0.9v0.9h-0.9zM73.4 541.3h0.9v0.9h-0.9zM93.6 537.4h0.9v0.9h-0.9zM65.8 549.7h0.9v0.9h-0.9zM103.3 554.2h0.9v0.9h-0.9zM121.3 546.6h0.9v0.9h-0.9zM124.5 536.7h0.9v0.9h-0.9zM59.1 548.4h0.9v0.9h-0.9zM72.2 545.4h0.9v0.9h-0.9zM109.7 551.8h0.9v0.9h-0.9zM124.6 535.6h0.9v0.9h-0.9zM117.1 531.7h0.9v0.9h-0.9zM63.4 544.8h0.9v0.9h-0.9zM125.6 534.3h0.9v0.9h-0.9zM69.4 553.1h0.9v0.9h-0.9zM119.2 530.0h0.9v0.9h-0.9zM117.1 532.0h0.9v0.9h-0.9zM124.7 538.5h0.9v0.9h-0.9zM73.8 553.6h0.9v0.9h-0.9zM105.0 553.0h0.9v0.9h-0.9zM98.9 535.9h0.9v0.9h-0.9zM127.3 533.1h0.9v0.9h-0.9zM123.7 532.0h0.9v0.9h-0.9zM79.3 556.7h0.9v0.9h-0.9zM67.1 554.0h0.9v0.9h-0.9zM89.5 539.9h0.9v0.9h-0.9zM123.1 532.1h0.9v0.9h-0.9zM118.4 550.4h0.9v0.9h-0.9zM122.9 539.9h0.9v0.9h-0.9zM69.5 547.2h0.9v0.9h-0.9zM105.6 532.6h0.9v0.9h-0.9zM68.4 555.7h0.9v0.9h-0.9zM115.1 533.2h0.9v0.9h-0.9zM121.4 531.7h0.9v0.9h-0.9zM120.8 547.4h0.9v0.9h-0.9zM118.3 549.2h0.9v0.9h-0.9zM119.0 548.5h0.9v0.9h-0.9zM116.0 532.2h0.9v0.9h-0.9zM109.2 532.2h0.9v0.9h-0.9zM120.9 549.8h0.9v0.9h-0.9zM106.3 533.5h0.9v0.9h-0.9zM117.7 552.0h0.9v0.9h-0.9zM61.6 554.3h0.9v0.9h-0.9zM97.3 553.4h0.9v0.9h-0.9zM65.1 555.4h0.9v0.9h-0.9zM125.3 537.2h0.9v0.9h-0.9zM86.1 540.6h0.9v0.9h-0.9zM121.6 532.0h0.9v0.9h-0.9zM126.4 544.1h0.9v0.9h-0.9zM119.2 530.7h0.9v0.9h-0.9zM94.5 555.2h0.9v0.9h-0.9zM120.0 533.5h0.9v0.9h-0.9zM59.4 551.9h0.9v0.9h-0.9zM121.5 532.3h0.9v0.9h-0.9zM64.2 549.6h0.9v0.9h-0.9zM90.6 538.6h0.9v0.9h-0.9zM124.3 544.5h0.9v0.9h-0.9zM115.1 552.4h0.9v0.9h-0.9zM112.4 532.2h0.9v0.9h-0.9zM123.5 534.1h0.9v0.9h-0.9zM121.8 544.7h0.9v0.9h-0.9zM65.7 544.0h0.9v0.9h-0.9zM103.8 554.5h0.9v0.9h-0.9zM110.7 552.4h0.9v0.9h-0.9zM120.4 530.3h0.9v0.9h-0.9zM79.6 537.2h0.9v0.9h-0.9zM78.5 556.9h0.9v0.9h-0.9zM126.7 534.8h0.9v0.9h-0.9zM69.3 554.0h0.9v0.9h-0.9zM72.7 545.1h0.9v0.9h-0.9zM63.3 553.1h0.9v0.9h-0.9zM119.8 549.6h0.9v0.9h-0.9zM122.0 546.3h0.9v0.9h-0.9zM74.0 553.9h0.9v0.9h-0.9zM121.0 530.8h0.9v0.9h-0.9zM62.1 553.5h0.9v0.9h-0.9zM108.8 554.7h0.9v0.9h-0.9zM91.4 537.8h0.9v0.9h-0.9zM91.0 540.1h0.9v0.9h-0.9zM67.9 546.3h0.9v0.9h-0.9zM85.0 555.1h0.9v0.9h-0.9zM64.9 550.7h0.9v0.9h-0.9zM63.2 546.5h0.9v0.9h-0.9zM94.4 556.8h0.9v0.9h-0.9zM121.2 546.2h0.9v0.9h-0.9zM69.3 546.2h0.9v0.9h-0.9zM115.6 532.0h0.9v0.9h-0.9zM65.7 554.8h0.9v0.9h-0.9zM65.1 553.7h0.9v0.9h-0.9zM112.9 532.1h0.9v0.9h-0.9zM103.9 535.5h0.9v0.9h-0.9zM123.1 532.1h0.9v0.9h-0.9zM59.6 552.7h0.9v0.9h-0.9zM84.4 542.1h0.9v0.9h-0.9zM76.4 543.3h0.9v0.9h-0.9zM115.5 531.0h0.9v0.9h-0.9zM71.0 542.7h0.9v0.9h-0.9zM71.7 556.5h0.9v0.9h-0.9zM124.9 537.5h0.9v0.9h-0.9zM80.4 555.3h0.9v0.9h-0.9zM120.2 550.7h0.9v0.9h-0.9zM123.3 548.7h0.9v0.9h-0.9zM118.2 530.8h0.9v0.9h-0.9zM106.6 534.1h0.9v0.9h-0.9zM93.2 537.1h0.9v0.9h-0.9zM63.7 548.3h0.9v0.9h-0.9zM65.8 552.8h0.9v0.9h-0.9zM111.5 533.3h0.9v0.9h-0.9zM104.2 554.9h0.9v0.9h-0.9zM65.0 552.9h0.9v0.9h-0.9zM88.7 539.1h0.9v0.9h-0.9zM66.6 556.2h0.9v0.9h-0.9zM113.4 533.0h0.9v0.9h-0.9zM73.8 554.1h0.9v0.9h-0.9zM71.2 555.9h0.9v0.9h-0.9zM99.0 555.3h0.9v0.9h-0.9zM62.3 555.8h0.9v0.9h-0.9zM124.2 531.4h0.9v0.9h-0.9zM125.3 536.5h0.9v0.9h-0.9zM71.9 554.9h0.9v0.9h-0.9zM124.2 539.8h0.9v0.9h-0.9zM63.9 553.9h0.9v0.9h-0.9zM123.1 545.6h0.9v0.9h-0.9zM63.1 554.2h0.9v0.9h-0.9zM61.8 553.1h0.9v0.9h-0.9zM120.7 547.6h0.9v0.9h-0.9zM83.5 556.0h0.9v0.9h-0.9zM95.5 555.8h0.9v0.9h-0.9zM62.0 553.0h0.9v0.9h-0.9zM90.1 556.3h0.9v0.9h-0.9zM124.8 541.2h0.9v0.9h-0.9zM76.7 543.0h0.9v0.9h-0.9zM102.5 554.8h0.9v0.9h-0.9zM75.5 543.6h0.9v0.9h-0.9zM64.2 548.9h0.9v0.9h-0.9zM121.0 546.3h0.9v0.9h-0.9zM66.0 549.2h0.9v0.9h-0.9zM109.4 553.6h0.9v0.9h-0.9zM112.7 533.9h0.9v0.9h-0.9zM124.3 537.6h0.9v0.9h-0.9zM60.0 553.2h0.9v0.9h-0.9zM126.0 549.4h0.9v0.9h-0.9zM120.5 530.1h0.9v0.9h-0.9zM64.0 553.6h0.9v0.9h-0.9zM126.5 539.2h0.9v0.9h-0.9zM110.9 552.3h0.9v0.9h-0.9zM61.0 550.8h0.9v0.9h-0.9zM104.6 553.0h0.9v0.9h-0.9zM122.3 547.5h0.9v0.9h-0.9zM88.2 558.5h0.9v0.9h-0.9zM124.5 546.2h0.9v0.9h-0.9zM104.4 533.2h0.9v0.9h-0.9zM105.9 553.0h0.9v0.9h-0.9zM110.2 531.7h0.9v0.9h-0.9zM78.1 540.2h0.9v0.9h-0.9zM125.0 536.2h0.9v0.9h-0.9zM101.0 532.2h0.9v0.9h-0.9zM64.1 551.0h0.9v0.9h-0.9zM122.7 543.3h0.9v0.9h-0.9zM125.2 542.4h0.9v0.9h-0.9zM68.9 547.6h0.9v0.9h-0.9zM122.5 531.8h0.9v0.9h-0.9zM99.1 531.1h0.9v0.9h-0.9zM121.5 546.1h0.9v0.9h-0.9zM123.1 535.0h0.9v0.9h-0.9zM61.0 553.7h0.9v0.9h-0.9zM123.6 544.5h0.9v0.9h-0.9zM61.0 553.0h0.9v0.9h-0.9zM120.0 549.1h0.9v0.9h-0.9zM126.8 538.6h0.9v0.9h-0.9zM123.5 541.6h0.9v0.9h-0.9zM106.0 554.6h0.9v0.9h-0.9zM106.1 553.9h0.9v0.9h-0.9zM76.5 541.1h0.9v0.9h-0.9zM106.7 555.5h0.9v0.9h-0.9zM61.5 554.0h0.9v0.9h-0.9zM102.3 533.9h0.9v0.9h-0.9zM69.2 547.5h0.9v0.9h-0.9zM124.5 538.8h0.9v0.9h-0.9zM71.7 554.9h0.9v0.9h-0.9zM86.8 555.5h0.9v0.9h-0.9zM114.6 530.8h0.9v0.9h-0.9zM66.9 549.3h0.9v0.9h-0.9zM106.6 534.1h0.9v0.9h-0.9zM117.7 548.8h0.9v0.9h-0.9zM72.9 544.5h0.9v0.9h-0.9zM108.3 552.8h0.9v0.9h-0.9zM122.5 545.6h0.9v0.9h-0.9zM89.9 555.3h0.9v0.9h-0.9zM120.1 549.4h0.9v0.9h-0.9zM125.8 536.0h0.9v0.9h-0.9zM69.5 555.6h0.9v0.9h-0.9zM119.6 530.9h0.9v0.9h-0.9zM61.7 551.3h0.9v0.9h-0.9zM69.6 554.4h0.9v0.9h-0.9zM89.0 540.6h0.9v0.9h-0.9zM61.6 553.2h0.9v0.9h-0.9zM69.7 554.9h0.9v0.9h-0.9zM122.8 535.9h0.9v0.9h-0.9zM125.5 536.9h0.9v0.9h-0.9zM121.6 548.1h0.9v0.9h-0.9zM61.0 556.1h0.9v0.9h-0.9zM86.1 542.1h0.9v0.9h-0.9zM71.6 556.0h0.9v0.9h-0.9zM117.7 551.2h0.9v0.9h-0.9zM69.4 555.8h0.9v0.9h-0.9zM69.8 545.1h0.9v0.9h-0.9zM65.3 551.6h0.9v0.9h-0.9zM61.1 552.3h0.9v0.9h-0.9zM117.9 549.1h0.9v0.9h-0.9zM59.9 552.0h0.9v0.9h-0.9zM117.4 549.1h0.9v0.9h-0.9zM124.8 535.1h0.9v0.9h-0.9zM122.8 531.7h0.9v0.9h-0.9zM109.9 531.0h0.9v0.9h-0.9zM77.5 543.6h0.9v0.9h-0.9zM125.3 535.2h0.9v0.9h-0.9zM62.7 554.0h0.9v0.9h-0.9zM95.4 556.1h0.9v0.9h-0.9zM62.2 557.5h0.9v0.9h-0.9zM120.7 551.2h0.9v0.9h-0.9zM66.2 555.7h0.9v0.9h-0.9zM61.7 555.4h0.9v0.9h-0.9zM88.8 555.7h0.9v0.9h-0.9zM101.4 554.4h0.9v0.9h-0.9zM82.2 554.1h0.9v0.9h-0.9zM120.6 531.9h0.9v0.9h-0.9zM116.0 551.1h0.9v0.9h-0.9zM103.0 555.5h0.9v0.9h-0.9zM95.0 554.4h0.9v0.9h-0.9zM95.8 535.2h0.9v0.9h-0.9zM123.1 535.2h0.9v0.9h-0.9zM99.9 533.6h0.9v0.9h-0.9zM76.7 543.1h0.9v0.9h-0.9zM125.4 537.3h0.9v0.9h-0.9zM123.1 533.7h0.9v0.9h-0.9zM81.7 540.4h0.9v0.9h-0.9zM113.1 531.0h0.9v0.9h-0.9zM124.0 534.9h0.9v0.9h-0.9zM123.9 539.0h0.9v0.9h-0.9zM69.7 556.2h0.9v0.9h-0.9zM122.8 539.2h0.9v0.9h-0.9zM81.9 541.4h0.9v0.9h-0.9zM68.5 545.6h0.9v0.9h-0.9zM90.5 539.0h0.9v0.9h-0.9zM93.5 537.9h0.9v0.9h-0.9zM65.5 547.5h0.9v0.9h-0.9zM67.5 546.8h0.9v0.9h-0.9zM79.1 542.2h0.9v0.9h-0.9zM68.1 553.0h0.9v0.9h-0.9zM87.9 554.9h0.9v0.9h-0.9zM115.6 533.1h0.9v0.9h-0.9zM123.4 542.9h0.9v0.9h-0.9zM98.4 554.4h0.9v0.9h-0.9zM96.3 532.8h0.9v0.9h-0.9zM124.1 541.5h0.9v0.9h-0.9zM62.0 555.4h0.9v0.9h-0.9zM109.2 556.3h0.9v0.9h-0.9zM65.6 555.2h0.9v0.9h-0.9zM94.5 537.5h0.9v0.9h-0.9zM69.5 555.3h0.9v0.9h-0.9zM117.2 552.3h0.9v0.9h-0.9zM106.8 552.3h0.9v0.9h-0.9zM87.5 554.2h0.9v0.9h-0.9zM88.4 539.1h0.9v0.9h-0.9zM109.2 534.7h0.9v0.9h-0.9zM71.7 555.4h0.9v0.9h-0.9zM95.2 556.0h0.9v0.9h-0.9zM100.5 554.9h0.9v0.9h-0.9zM66.5 555.5h0.9v0.9h-0.9zM110.7 553.4h0.9v0.9h-0.9zM83.5 541.9h0.9v0.9h-0.9zM119.4 548.9h0.9v0.9h-0.9zM68.5 553.5h0.9v0.9h-0.9zM125.0 542.2h0.9v0.9h-0.9zM114.5 533.6h0.9v0.9h-0.9zM72.8 544.6h0.9v0.9h-0.9zM124.4 544.5h0.9v0.9h-0.9zM93.5 553.2h0.9v0.9h-0.9zM126.1 533.2h0.9v0.9h-0.9zM127.2 552.2h0.9v0.9h-0.9zM116.8 544.4h0.9v0.9h-0.9zM117.3 540.0h0.9v0.9h-0.9zM120.9 548.3h0.9v0.9h-0.9zM120.7 548.0h0.9v0.9h-0.9zM125.3 551.4h0.9v0.9h-0.9zM125.7 544.0h0.9v0.9h-0.9zM119.3 534.7h0.9v0.9h-0.9zM121.5 547.3h0.9v0.9h-0.9zM125.5 536.4h0.9v0.9h-0.9zM118.6 545.0h0.9v0.9h-0.9zM126.2 543.7h0.9v0.9h-0.9zM117.5 543.9h0.9v0.9h-0.9zM123.7 542.3h0.9v0.9h-0.9zM119.6 541.3h0.9v0.9h-0.9zM122.2 542.3h0.9v0.9h-0.9zM118.0 551.7h0.9v0.9h-0.9zM120.7 546.0h0.9v0.9h-0.9zM121.3 535.2h0.9v0.9h-0.9zM117.8 540.2h0.9v0.9h-0.9zM118.0 547.1h0.9v0.9h-0.9zM129.0 535.8h0.9v0.9h-0.9zM123.0 537.0h0.9v0.9h-0.9zM116.8 543.6h0.9v0.9h-0.9zM125.1 538.8h0.9v0.9h-0.9zM122.0 541.3h0.9v0.9h-0.9zM122.2 540.8h0.9v0.9h-0.9zM119.8 546.5h0.9v0.9h-0.9zM126.4 543.0h0.9v0.9h-0.9zM117.4 533.0h0.9v0.9h-0.9zM121.4 532.9h0.9v0.9h-0.9zM119.9 549.0h0.9v0.9h-0.9zM117.8 537.9h0.9v0.9h-0.9zM121.5 545.1h0.9v0.9h-0.9zM128.3 546.7h0.9v0.9h-0.9zM124.7 544.4h0.9v0.9h-0.9zM121.6 536.1h0.9v0.9h-0.9zM125.0 538.8h0.9v0.9h-0.9zM116.8 545.2h0.9v0.9h-0.9zM123.3 531.9h0.9v0.9h-0.9zM121.7 532.7h0.9v0.9h-0.9zM126.2 550.3h0.9v0.9h-0.9zM128.5 540.5h0.9v0.9h-0.9zM121.7 539.2h0.9v0.9h-0.9zM116.9 536.5h0.9v0.9h-0.9zM126.3 541.0h0.9v0.9h-0.9zM121.8 547.4h0.9v0.9h-0.9zM118.8 534.5h0.9v0.9h-0.9zM121.3 536.5h0.9v0.9h-0.9zM128.2 551.3h0.9v0.9h-0.9zM123.4 539.4h0.9v0.9h-0.9zM118.4 551.9h0.9v0.9h-0.9zM120.3 544.6h0.9v0.9h-0.9zM123.9 531.0h0.9v0.9h-0.9zM123.1 536.8h0.9v0.9h-0.9zM122.7 550.9h0.9v0.9h-0.9zM125.9 547.4h0.9v0.9h-0.9zM126.0 538.7h0.9v0.9h-0.9zM125.4 541.1h0.9v0.9h-0.9zM126.8 547.5h0.9v0.9h-0.9zM121.8 536.8h0.9v0.9h-0.9zM127.6 537.9h0.9v0.9h-0.9zM120.9 535.7h0.9v0.9h-0.9zM128.4 548.7h0.9v0.9h-0.9zM117.8 533.7h0.9v0.9h-0.9zM120.5 543.3h0.9v0.9h-0.9zM129.1 540.7h0.9v0.9h-0.9zM121.4 542.3h0.9v0.9h-0.9zM119.5 541.9h0.9v0.9h-0.9zM123.5 550.5h0.9v0.9h-0.9zM121.8 538.8h0.9v0.9h-0.9zM128.6 530.5h0.9v0.9h-0.9zM127.3 542.9h0.9v0.9h-0.9zM123.6 537.3h0.9v0.9h-0.9zM126.5 549.7h0.9v0.9h-0.9zM127.5 544.1h0.9v0.9h-0.9zM119.3 539.9h0.9v0.9h-0.9zM118.8 542.8h0.9v0.9h-0.9zM125.6 536.9h0.9v0.9h-0.9zM127.8 540.7h0.9v0.9h-0.9zM126.2 541.9h0.9v0.9h-0.9zM127.6 549.2h0.9v0.9h-0.9zM124.6 535.6h0.9v0.9h-0.9zM117.5 549.1h0.9v0.9h-0.9zM120.7 544.7h0.9v0.9h-0.9zM124.2 535.1h0.9v0.9h-0.9zM126.3 533.9h0.9v0.9h-0.9zM126.9 531.5h0.9v0.9h-0.9zM121.1 549.4h0.9v0.9h-0.9zM124.3 537.0h0.9v0.9h-0.9zM117.1 540.1h0.9v0.9h-0.9zM128.9 546.7h0.9v0.9h-0.9zM118.8 542.6h0.9v0.9h-0.9zM126.7 545.3h0.9v0.9h-0.9zM122.8 546.2h0.9v0.9h-0.9zM120.4 533.8h0.9v0.9h-0.9zM124.9 542.0h0.9v0.9h-0.9zM125.7 548.4h0.9v0.9h-0.9zM126.1 539.7h0.9v0.9h-0.9zM119.6 551.8h0.9v0.9h-0.9zM121.1 550.9h0.9v0.9h-0.9zM121.0 546.0h0.9v0.9h-0.9zM121.2 545.2h0.9v0.9h-0.9zM124.9 545.4h0.9v0.9h-0.9zM117.1 542.8h0.9v0.9h-0.9zM128.1 541.7h0.9v0.9h-0.9zM121.4 532.4h0.9v0.9h-0.9zM116.6 530.4h0.9v0.9h-0.9zM118.8 532.7h0.9v0.9h-0.9zM121.3 541.6h0.9v0.9h-0.9zM121.6 539.9h0.9v0.9h-0.9zM124.2 541.6h0.9v0.9h-0.9zM120.0 540.8h0.9v0.9h-0.9zM118.9 544.8h0.9v0.9h-0.9zM129.0 544.6h0.9v0.9h-0.9zM117.6 550.9h0.9v0.9h-0.9zM118.6 535.2h0.9v0.9h-0.9zM120.2 549.1h0.9v0.9h-0.9zM127.9 531.4h0.9v0.9h-0.9zM124.1 530.4h0.9v0.9h-0.9zM125.3 530.6h0.9v0.9h-0.9zM128.0 540.0h0.9v0.9h-0.9zM119.0 538.6h0.9v0.9h-0.9zM118.5 537.8h0.9v0.9h-0.9zM124.3 532.7h0.9v0.9h-0.9zM126.7 543.9h0.9v0.9h-0.9zM120.8 539.6h0.9v0.9h-0.9zM125.6 533.9h0.9v0.9h-0.9zM122.9 540.6h0.9v0.9h-0.9zM127.6 532.1h0.9v0.9h-0.9zM119.3 543.5h0.9v0.9h-0.9zM118.4 535.8h0.9v0.9h-0.9zM119.6 549.2h0.9v0.9h-0.9zM121.1 541.8h0.9v0.9h-0.9zM123.7 534.7h0.9v0.9h-0.9zM117.0 532.5h0.9v0.9h-0.9zM121.7 549.2h0.9v0.9h-0.9zM126.8 541.4h0.9v0.9h-0.9zM119.5 531.5h0.9v0.9h-0.9z" fill="#2a2aff" fill-opacity="0.8"/>
<rect x="50.6" y="466.5" width="166.1" height="95.5" fill="none" stroke="#555" stroke-width="1.0"/>
<line x1="129.4" y1="466.5" x2="129.4" y2="562.0" stroke="#666" stroke-width="1.0"/>
<line x1="50.6" y1="529.3" x2="216.7" y2="529.3" stroke="#666" stroke-width="1.0"/>
<path d="M46.1 475.7635h4.5M48.1 478.0h2.5M48.1 480.2h2.5M48.1 482.4h2.5M48.1 484.6h2.5M48.1 486.8h2.5M48.1 489.0h2.5M48.1 491.2h2.5M46.1 497.06h4.5M48.1 499.3h2.5M48.1 501.5h2.5M48.1 503.7h2.5M48.1 505.9h2.5M48.1 508.1h2.5M48.1 510.3h2.5M48.1 512.5h2.5M46.1 518.3565h4.5M48.1 520.6h2.5M48.1 522.8h2.5M48.1 525.0h2.5M48.1 527.2h2.5M48.1 529.4h2.5M48.1 531.6h2.5M48.1 533.8h2.5M46.1 539.7485h4.5M48.1 541.9h2.5M48.1 544.1h2.5M48.1 546.3h2.5M48.1 548.5h2.5M48.1 550.7h2.5M48.1 552.9h2.5M48.1 555.1h2.5M46.1 553.5h4.5M48.1 555.7h2.5M48.1 557.9h2.5M48.1 560.1h2.5M46.1 562.0h4.5" stroke="#555" stroke-width="0.75" fill="none"/>
<path d="M52.6 562.0v4.5M55.2 562.0v2.5M57.8 562.0v2.5M60.4 562.0v2.5M63.0 562.0v2.5M65.6 562.0v2.5M68.2 562.0v2.5M70.8 562.0v2.5M62.6 562.0v4.5M65.2 562.0v2.5M67.8 562.0v2.5M70.4 562.0v2.5M73.0 562.0v2.5M75.6 562.0v2.5M78.2 562.0v2.5M80.8 562.0v2.5M86.6 562.0v4.5M89.2 562.0v2.5M91.8 562.0v2.5M94.4 562.0v2.5M97.0 562.0v2.5M99.6 562.0v2.5M102.2 562.0v2.5M104.8 562.0v2.5M126.4 562.0v4.5M129.0 562.0v2.5M131.6 562.0v2.5M134.2 562.0v2.5M136.8 562.0v2.5M139.4 562.0v2.5M142.0 562.0v2.5M144.6 562.0v2.5M162.4 562.0v4.5M165.0 562.0v2.5M167.6 562.0v2.5M170.2 562.0v2.5M172.8 562.0v2.5M175.4 562.0v2.5M178.0 562.0v2.5M180.6 562.0v2.5M199.7 562.0v4.5M202.3 562.0v2.5M204.9 562.0v2.5M207.5 562.0v2.5M210.1 562.0v2.5M212.7 562.0v2.5M215.3 562.0v2.5" stroke="#555" stroke-width="0.75" fill="none"/>
<text x="62.6" y="572.5" font-size="4.8" text-anchor="middle" font-weight="normal" fill="#333" stroke="#333" stroke-width="0">0</text>
<text x="86.6" y="572.5" font-size="4.8" text-anchor="middle" font-weight="normal" fill="#333" stroke="#333" stroke-width="0">10²</text>
<text x="126.4" y="572.5" font-size="4.8" text-anchor="middle" font-weight="normal" fill="#333" stroke="#333" stroke-width="0">10³</text>
<text x="162.4" y="572.5" font-size="4.8" text-anchor="middle" font-weight="normal" fill="#333" stroke="#333" stroke-width="0">10⁴</text>
<text x="199.7" y="572.5" font-size="4.8" text-anchor="middle" font-weight="normal" fill="#333" stroke="#333" stroke-width="0">10⁵</text>
<text x="49.6" y="574.0" font-size="4.4" text-anchor="middle" font-weight="normal" fill="#333" stroke="#333" stroke-width="0">-48</text>
<text x="43.1" y="475.7635" font-size="4.8" text-anchor="middle" font-weight="normal" fill="#333" stroke="#333" stroke-width="0" transform="rotate(-90 43.1 475.7635)">10⁵</text>
<text x="43.1" y="497.06" font-size="4.8" text-anchor="middle" font-weight="normal" fill="#333" stroke="#333" stroke-width="0" transform="rotate(-90 43.1 497.06)">10⁴</text>
<text x="43.1" y="518.3565" font-size="4.8" text-anchor="middle" font-weight="normal" fill="#333" stroke="#333" stroke-width="0" transform="rotate(-90 43.1 518.3565)">10³</text>
<text x="43.1" y="539.7485" font-size="4.8" text-anchor="middle" font-weight="normal" fill="#333" stroke="#333" stroke-width="0" transform="rotate(-90 43.1 539.7485)">10²</text>
<text x="43.1" y="553.5" font-size="4.8" text-anchor="middle" font-weight="normal" fill="#333" stroke="#333" stroke-width="0" transform="rotate(-90 43.1 553.5)">0</text>
<text x="43.1" y="562.0" font-size="4.8" text-anchor="middle" font-weight="normal" fill="#333" stroke="#333" stroke-width="0" transform="rotate(-90 43.1 562.0)">-62</text>
<text x="53.2" y="476.1" font-size="9.5" text-anchor="start" font-weight="bold" fill="#222" stroke="#222" stroke-width="0.28">dead</text>
<text x="53.2" y="488.9" font-size="9.5" text-anchor="start" font-weight="bold" fill="#222" stroke="#222" stroke-width="0.28">0.7%</text>
<text x="214.29999999999998" y="476.1" font-size="9.5" text-anchor="end" font-weight="bold" fill="#222" stroke="#222" stroke-width="0.28">late apoptotic</text>
<text x="210.7" y="488.9" font-size="9.5" text-anchor="end" font-weight="bold" fill="#222" stroke="#222" stroke-width="0.28">2.5%</text>
<text x="53.2" y="540.0999999999999" font-size="9.5" text-anchor="start" font-weight="bold" fill="#222" stroke="#222" stroke-width="0.28">94.5%</text>
<text x="210.7" y="540.0999999999999" font-size="9.5" text-anchor="end" font-weight="bold" fill="#222" stroke="#222" stroke-width="0.28">2.0%</text>
<text x="53.2" y="560.8" font-size="9.5" text-anchor="start" font-weight="bold" fill="#222" stroke="#222" stroke-width="0.28">live</text>
<text x="214.29999999999998" y="558.4" font-size="9.5" text-anchor="end" font-weight="bold" fill="#222" stroke="#222" stroke-width="0.28">early apoptotic</text>
<text x="130.8" y="581.2" font-size="9.8" text-anchor="middle" font-weight="bold" fill="#222" stroke="#222" stroke-width="0.28">FITC</text>
<path d="M166.1 613.8h0.9v0.9h-0.9zM145.6 631.6h0.9v0.9h-0.9zM150.3 617.7h0.9v0.9h-0.9zM137.1 630.1h0.9v0.9h-0.9zM130.2 633.5h0.9v0.9h-0.9zM136.1 634.1h0.9v0.9h-0.9zM132.0 641.6h0.9v0.9h-0.9zM135.8 613.3h0.9v0.9h-0.9zM154.0 622.8h0.9v0.9h-0.9zM133.7 639.5h0.9v0.9h-0.9zM143.9 632.0h0.9v0.9h-0.9zM132.5 639.7h0.9v0.9h-0.9zM141.7 634.5h0.9v0.9h-0.9zM138.9 638.0h0.9v0.9h-0.9zM138.5 630.7h0.9v0.9h-0.9zM156.2 616.4h0.9v0.9h-0.9zM139.3 618.7h0.9v0.9h-0.9zM143.0 619.4h0.9v0.9h-0.9zM147.5 628.4h0.9v0.9h-0.9zM141.9 621.3h0.9v0.9h-0.9zM129.0 642.5h0.9v0.9h-0.9zM150.9 622.7h0.9v0.9h-0.9zM139.5 625.9h0.9v0.9h-0.9zM143.1 638.3h0.9v0.9h-0.9zM139.5 630.0h0.9v0.9h-0.9zM148.4 625.8h0.9v0.9h-0.9zM149.2 625.2h0.9v0.9h-0.9zM157.3 620.7h0.9v0.9h-0.9zM128.8 640.2h0.9v0.9h-0.9zM133.4 629.9h0.9v0.9h-0.9zM138.8 639.2h0.9v0.9h-0.9zM138.5 632.7h0.9v0.9h-0.9zM148.7 618.2h0.9v0.9h-0.9zM147.2 627.1h0.9v0.9h-0.9zM141.4 630.6h0.9v0.9h-0.9zM136.7 631.1h0.9v0.9h-0.9zM144.6 645.7h0.9v0.9h-0.9zM151.5 632.5h0.9v0.9h-0.9zM146.3 625.9h0.9v0.9h-0.9zM146.8 644.3h0.9v0.9h-0.9zM151.3 628.6h0.9v0.9h-0.9zM148.9 638.2h0.9v0.9h-0.9zM164.1 628.6h0.9v0.9h-0.9zM158.3 625.0h0.9v0.9h-0.9zM149.5 629.0h0.9v0.9h-0.9zM143.9 627.7h0.9v0.9h-0.9zM148.0 639.3h0.9v0.9h-0.9zM139.2 635.8h0.9v0.9h-0.9zM147.5 629.2h0.9v0.9h-0.9zM150.9 629.0h0.9v0.9h-0.9zM128.5 632.7h0.9v0.9h-0.9zM148.7 633.0h0.9v0.9h-0.9zM152.7 627.9h0.9v0.9h-0.9zM143.2 620.2h0.9v0.9h-0.9zM155.9 617.5h0.9v0.9h-0.9zM152.2 618.1h0.9v0.9h-0.9zM134.1 638.2h0.9v0.9h-0.9zM136.6 630.5h0.9v0.9h-0.9zM150.7 632.3h0.9v0.9h-0.9zM145.4 628.1h0.9v0.9h-0.9zM132.5 634.6h0.9v0.9h-0.9zM135.7 636.1h0.9v0.9h-0.9zM149.4 627.0h0.9v0.9h-0.9zM132.9 633.4h0.9v0.9h-0.9zM154.8 626.2h0.9v0.9h-0.9zM143.8 633.6h0.9v0.9h-0.9zM147.6 630.3h0.9v0.9h-0.9zM153.8 631.6h0.9v0.9h-0.9zM172.5 605.4h0.9v0.9h-0.9zM142.8 640.0h0.9v0.9h-0.9zM141.4 642.7h0.9v0.9h-0.9zM139.5 628.8h0.9v0.9h-0.9zM130.1 643.8h0.9v0.9h-0.9zM144.3 631.4h0.9v0.9h-0.9zM137.2 637.4h0.9v0.9h-0.9zM140.2 628.5h0.9v0.9h-0.9zM146.9 632.5h0.9v0.9h-0.9zM142.4 637.5h0.9v0.9h-0.9zM129.9 638.8h0.9v0.9h-0.9zM136.0 645.9h0.9v0.9h-0.9zM146.8 645.1h0.9v0.9h-0.9zM158.0 620.6h0.9v0.9h-0.9zM130.0 643.3h0.9v0.9h-0.9zM138.5 633.6h0.9v0.9h-0.9zM130.3 643.9h0.9v0.9h-0.9zM143.5 634.8h0.9v0.9h-0.9zM144.8 624.6h0.9v0.9h-0.9zM134.8 633.1h0.9v0.9h-0.9zM151.6 626.4h0.9v0.9h-0.9zM157.4 625.0h0.9v0.9h-0.9zM148.7 632.4h0.9v0.9h-0.9zM150.0 618.9h0.9v0.9h-0.9zM153.0 627.0h0.9v0.9h-0.9zM131.2 643.5h0.9v0.9h-0.9zM145.1 640.2h0.9v0.9h-0.9zM149.2 631.1h0.9v0.9h-0.9zM157.1 629.4h0.9v0.9h-0.9zM146.3 638.9h0.9v0.9h-0.9zM132.4 643.4h0.9v0.9h-0.9zM141.7 625.6h0.9v0.9h-0.9zM145.4 633.3h0.9v0.9h-0.9zM159.4 629.3h0.9v0.9h-0.9zM140.7 632.0h0.9v0.9h-0.9zM131.7 628.3h0.9v0.9h-0.9zM139.5 625.8h0.9v0.9h-0.9zM134.2 643.5h0.9v0.9h-0.9zM144.0 626.1h0.9v0.9h-0.9zM129.7 638.6h0.9v0.9h-0.9zM159.7 618.6h0.9v0.9h-0.9zM159.7 616.6h0.9v0.9h-0.9zM139.3 639.3h0.9v0.9h-0.9zM133.4 638.2h0.9v0.9h-0.9zM153.7 621.2h0.9v0.9h-0.9zM143.5 628.9h0.9v0.9h-0.9z" fill="#48cc48" fill-opacity="0.85"/>
<path d="M134.7 647.5h0.9v0.9h-0.9zM133.9 645.5h0.9v0.9h-0.9zM140.8 639.5h0.9v0.9h-0.9zM131.4 643.7h0.9v0.9h-0.9zM131.8 647.1h0.9v0.9h-0.9zM130.0 641.0h0.9v0.9h-0.9zM128.5 646.4h0.9v0.9h-0.9zM135.8 647.4h0.9v0.9h-0.9zM138.1 643.4h0.9v0.9h-0.9zM136.0 647.1h0.9v0.9h-0.9zM131.9 642.7h0.9v0.9h-0.9zM135.6 643.0h0.9v0.9h-0.9zM131.5 642.1h0.9v0.9h-0.9zM138.6 644.8h0.9v0.9h-0.9zM130.7 644.3h0.9v0.9h-0.9zM131.7 645.3h0.9v0.9h-0.9zM129.0 645.3h0.9v0.9h-0.9zM130.5 638.2h0.9v0.9h-0.9zM131.4 641.7h0.9v0.9h-0.9zM135.5 644.4h0.9v0.9h-0.9zM132.4 640.6h0.9v0.9h-0.9zM133.0 639.2h0.9v0.9h-0.9zM137.4 644.4h0.9v0.9h-0.9zM136.4 645.2h0.9v0.9h-0.9zM130.8 639.0h0.9v0.9h-0.9zM128.7 640.5h0.9v0.9h-0.9zM140.8 645.8h0.9v0.9h-0.9zM131.9 640.9h0.9v0.9h-0.9zM138.5 641.5h0.9v0.9h-0.9zM132.7 643.0h0.9v0.9h-0.9zM132.3 641.0h0.9v0.9h-0.9zM130.0 645.9h0.9v0.9h-0.9zM128.9 643.6h0.9v0.9h-0.9zM132.7 645.1h0.9v0.9h-0.9zM129.3 640.8h0.9v0.9h-0.9zM131.1 647.0h0.9v0.9h-0.9zM131.7 645.0h0.9v0.9h-0.9zM137.6 647.4h0.9v0.9h-0.9zM133.3 642.0h0.9v0.9h-0.9zM129.7 640.3h0.9v0.9h-0.9zM133.7 643.8h0.9v0.9h-0.9zM134.3 647.5h0.9v0.9h-0.9zM129.6 645.6h0.9v0.9h-0.9zM137.0 645.3h0.9v0.9h-0.9zM135.8 644.4h0.9v0.9h-0.9zM129.2 644.3h0.9v0.9h-0.9zM133.7 644.4h0.9v0.9h-0.9zM133.8 642.7h0.9v0.9h-0.9zM128.7 640.7h0.9v0.9h-0.9zM130.5 642.5h0.9v0.9h-0.9zM133.3 643.9h0.9v0.9h-0.9zM130.2 642.8h0.9v0.9h-0.9zM134.0 641.0h0.9v0.9h-0.9zM131.6 647.0h0.9v0.9h-0.9z" fill="#40c840" fill-opacity="0.9"/>
<path d="M133.1 665.5h0.9v0.9h-0.9zM144.7 674.1h0.9v0.9h-0.9zM133.2 668.5h0.9v0.9h-0.9zM136.1 667.2h0.9v0.9h-0.9zM133.8 665.5h0.9v0.9h-0.9zM132.7 666.1h0.9v0.9h-0.9zM146.8 657.8h0.9v0.9h-0.9zM129.7 667.0h0.9v0.9h-0.9zM141.4 663.3h0.9v0.9h-0.9zM140.3 668.4h0.9v0.9h-0.9zM140.1 674.5h0.9v0.9h-0.9zM133.4 668.7h0.9v0.9h-0.9zM138.1 660.7h0.9v0.9h-0.9zM139.8 657.0h0.9v0.9h-0.9zM128.7 670.5h0.9v0.9h-0.9zM130.8 674.9h0.9v0.9h-0.9zM142.8 662.6h0.9v0.9h-0.9zM132.1 649.6h0.9v0.9h-0.9zM136.6 654.2h0.9v0.9h-0.9zM145.8 655.5h0.9v0.9h-0.9zM135.0 673.3h0.9v0.9h-0.9zM134.5 659.2h0.9v0.9h-0.9zM134.3 667.0h0.9v0.9h-0.9zM142.0 664.3h0.9v0.9h-0.9zM137.9 666.3h0.9v0.9h-0.9zM133.9 669.3h0.9v0.9h-0.9zM146.9 660.2h0.9v0.9h-0.9zM137.4 658.2h0.9v0.9h-0.9zM133.1 663.1h0.9v0.9h-0.9zM139.7 660.0h0.9v0.9h-0.9zM135.3 673.6h0.9v0.9h-0.9zM139.8 670.0h0.9v0.9h-0.9zM139.2 664.1h0.9v0.9h-0.9zM139.3 668.8h0.9v0.9h-0.9zM137.0 671.7h0.9v0.9h-0.9zM137.0 670.9h0.9v0.9h-0.9zM137.1 669.8h0.9v0.9h-0.9zM133.2 660.6h0.9v0.9h-0.9zM130.4 671.7h0.9v0.9h-0.9zM139.8 666.9h0.9v0.9h-0.9zM140.5 660.1h0.9v0.9h-0.9zM137.5 661.7h0.9v0.9h-0.9zM132.1 673.5h0.9v0.9h-0.9zM132.8 660.1h0.9v0.9h-0.9zM142.5 665.9h0.9v0.9h-0.9zM129.5 665.1h0.9v0.9h-0.9zM132.7 675.4h0.9v0.9h-0.9zM131.0 659.0h0.9v0.9h-0.9zM147.5 666.0h0.9v0.9h-0.9zM131.6 665.9h0.9v0.9h-0.9zM135.3 664.4h0.9v0.9h-0.9zM146.0 677.5h0.9v0.9h-0.9zM131.8 651.2h0.9v0.9h-0.9zM141.2 668.3h0.9v0.9h-0.9zM137.2 664.2h0.9v0.9h-0.9zM141.0 669.4h0.9v0.9h-0.9zM138.4 668.5h0.9v0.9h-0.9zM135.8 662.3h0.9v0.9h-0.9zM144.8 664.7h0.9v0.9h-0.9zM148.2 671.2h0.9v0.9h-0.9zM137.3 672.4h0.9v0.9h-0.9zM134.2 663.2h0.9v0.9h-0.9zM135.1 664.6h0.9v0.9h-0.9zM139.9 658.5h0.9v0.9h-0.9zM132.3 652.2h0.9v0.9h-0.9zM141.1 671.5h0.9v0.9h-0.9zM138.9 667.7h0.9v0.9h-0.9zM140.0 668.3h0.9v0.9h-0.9zM140.6 667.1h0.9v0.9h-0.9zM131.4 670.2h0.9v0.9h-0.9zM144.5 655.5h0.9v0.9h-0.9zM135.7 657.3h0.9v0.9h-0.9zM139.8 663.6h0.9v0.9h-0.9zM145.0 673.7h0.9v0.9h-0.9zM134.4 661.4h0.9v0.9h-0.9zM133.7 668.2h0.9v0.9h-0.9zM131.7 666.9h0.9v0.9h-0.9zM129.1 670.5h0.9v0.9h-0.9zM139.7 657.8h0.9v0.9h-0.9zM132.6 665.1h0.9v0.9h-0.9zM138.1 675.1h0.9v0.9h-0.9zM134.5 655.6h0.9v0.9h-0.9zM143.8 667.8h0.9v0.9h-0.9zM138.1 669.2h0.9v0.9h-0.9zM130.1 659.3h0.9v0.9h-0.9zM130.6 656.4h0.9v0.9h-0.9zM135.2 657.7h0.9v0.9h-0.9zM146.0 669.9h0.9v0.9h-0.9zM141.6 654.9h0.9v0.9h-0.9zM135.7 663.7h0.9v0.9h-0.9zM137.9 668.1h0.9v0.9h-0.9zM132.5 658.1h0.9v0.9h-0.9zM148.7 665.2h0.9v0.9h-0.9zM132.5 665.4h0.9v0.9h-0.9zM139.6 677.0h0.9v0.9h-0.9zM135.7 659.8h0.9v0.9h-0.9zM142.8 661.2h0.9v0.9h-0.9zM132.1 667.6h0.9v0.9h-0.9zM135.9 657.8h0.9v0.9h-0.9zM135.5 662.0h0.9v0.9h-0.9zM135.7 659.9h0.9v0.9h-0.9zM140.2 663.2h0.9v0.9h-0.9zM133.6 671.3h0.9v0.9h-0.9zM131.8 669.0h0.9v0.9h-0.9zM140.3 663.6h0.9v0.9h-0.9zM138.2 655.4h0.9v0.9h-0.9zM138.4 658.4h0.9v0.9h-0.9zM132.1 665.8h0.9v0.9h-0.9zM132.8 665.1h0.9v0.9h-0.9zM139.3 672.2h0.9v0.9h-0.9zM139.2 672.2h0.9v0.9h-0.9zM132.8 661.8h0.9v0.9h-0.9zM140.6 673.3h0.9v0.9h-0.9zM139.5 661.9h0.9v0.9h-0.9zM131.0 657.7h0.9v0.9h-0.9zM143.2 659.7h0.9v0.9h-0.9zM135.7 668.9h0.9v0.9h-0.9zM139.4 660.8h0.9v0.9h-0.9zM148.1 668.0h0.9v0.9h-0.9zM138.5 670.5h0.9v0.9h-0.9zM135.2 669.2h0.9v0.9h-0.9zM136.2 659.0h0.9v0.9h-0.9zM131.7 666.5h0.9v0.9h-0.9zM137.5 664.0h0.9v0.9h-0.9zM134.4 662.9h0.9v0.9h-0.9zM141.4 672.9h0.9v0.9h-0.9zM135.6 666.4h0.9v0.9h-0.9zM133.1 658.4h0.9v0.9h-0.9zM140.8 652.1h0.9v0.9h-0.9zM139.7 669.9h0.9v0.9h-0.9zM149.2 664.0h0.9v0.9h-0.9zM139.5 675.0h0.9v0.9h-0.9zM142.2 659.8h0.9v0.9h-0.9zM135.0 657.2h0.9v0.9h-0.9zM137.4 669.5h0.9v0.9h-0.9zM144.5 669.9h0.9v0.9h-0.9zM141.9 672.7h0.9v0.9h-0.9zM132.4 668.5h0.9v0.9h-0.9zM142.4 664.8h0.9v0.9h-0.9zM131.7 665.1h0.9v0.9h-0.9zM137.9 669.6h0.9v0.9h-0.9zM148.2 675.3h0.9v0.9h-0.9zM136.2 663.0h0.9v0.9h-0.9zM135.5 658.5h0.9v0.9h-0.9zM134.5 664.3h0.9v0.9h-0.9zM130.4 663.3h0.9v0.9h-0.9zM138.5 657.0h0.9v0.9h-0.9zM134.5 654.5h0.9v0.9h-0.9zM137.2 666.5h0.9v0.9h-0.9zM134.1 664.9h0.9v0.9h-0.9zM140.0 669.9h0.9v0.9h-0.9zM129.6 661.6h0.9v0.9h-0.9zM129.0 651.4h0.9v0.9h-0.9zM142.6 670.9h0.9v0.9h-0.9zM144.0 671.2h0.9v0.9h-0.9zM134.2 665.9h0.9v0.9h-0.9zM134.0 673.2h0.9v0.9h-0.9zM133.9 669.1h0.9v0.9h-0.9zM143.6 662.1h0.9v0.9h-0.9zM144.5 673.3h0.9v0.9h-0.9zM130.5 655.1h0.9v0.9h-0.9zM142.2 661.3h0.9v0.9h-0.9zM138.2 664.9h0.9v0.9h-0.9zM131.4 674.3h0.9v0.9h-0.9zM145.2 667.0h0.9v0.9h-0.9zM145.7 666.5h0.9v0.9h-0.9zM138.4 663.3h0.9v0.9h-0.9zM129.7 661.5h0.9v0.9h-0.9zM131.7 666.7h0.9v0.9h-0.9zM137.8 661.4h0.9v0.9h-0.9zM144.1 668.7h0.9v0.9h-0.9zM147.1 664.3h0.9v0.9h-0.9zM134.9 659.9h0.9v0.9h-0.9zM138.3 664.2h0.9v0.9h-0.9zM137.2 676.4h0.9v0.9h-0.9zM141.4 661.8h0.9v0.9h-0.9zM139.2 663.7h0.9v0.9h-0.9zM135.3 663.3h0.9v0.9h-0.9zM137.4 669.2h0.9v0.9h-0.9zM142.6 666.3h0.9v0.9h-0.9zM132.5 664.2h0.9v0.9h-0.9zM136.0 663.1h0.9v0.9h-0.9zM130.3 663.0h0.9v0.9h-0.9zM141.1 670.6h0.9v0.9h-0.9zM131.9 665.6h0.9v0.9h-0.9zM144.1 664.9h0.9v0.9h-0.9zM131.1 663.2h0.9v0.9h-0.9zM139.4 656.6h0.9v0.9h-0.9zM140.9 673.0h0.9v0.9h-0.9zM140.6 669.9h0.9v0.9h-0.9zM145.5 668.0h0.9v0.9h-0.9zM144.8 665.1h0.9v0.9h-0.9zM133.2 662.3h0.9v0.9h-0.9zM131.3 666.5h0.9v0.9h-0.9zM133.1 666.7h0.9v0.9h-0.9zM138.8 675.8h0.9v0.9h-0.9zM146.8 663.2h0.9v0.9h-0.9zM136.1 663.8h0.9v0.9h-0.9zM133.6 676.0h0.9v0.9h-0.9zM143.8 664.8h0.9v0.9h-0.9zM129.4 659.5h0.9v0.9h-0.9zM137.2 675.2h0.9v0.9h-0.9zM129.9 673.1h0.9v0.9h-0.9zM129.1 665.9h0.9v0.9h-0.9zM130.6 661.1h0.9v0.9h-0.9zM137.2 658.3h0.9v0.9h-0.9zM136.9 655.6h0.9v0.9h-0.9zM139.7 664.7h0.9v0.9h-0.9zM130.7 658.7h0.9v0.9h-0.9zM142.4 664.7h0.9v0.9h-0.9zM130.0 656.5h0.9v0.9h-0.9z" fill="#e03ad8" fill-opacity="0.9"/>
<path d="M119.0 639.5h0.9v0.9h-0.9zM123.7 638.4h0.9v0.9h-0.9zM116.6 640.4h0.9v0.9h-0.9zM124.4 637.9h0.9v0.9h-0.9zM125.1 632.6h0.9v0.9h-0.9zM115.8 638.5h0.9v0.9h-0.9zM119.6 644.2h0.9v0.9h-0.9zM117.7 644.6h0.9v0.9h-0.9zM111.2 641.0h0.9v0.9h-0.9zM120.0 645.0h0.9v0.9h-0.9zM114.9 641.9h0.9v0.9h-0.9zM122.8 643.2h0.9v0.9h-0.9zM120.9 641.7h0.9v0.9h-0.9zM116.4 642.8h0.9v0.9h-0.9zM117.8 642.1h0.9v0.9h-0.9zM109.8 642.9h0.9v0.9h-0.9zM115.2 645.4h0.9v0.9h-0.9zM111.1 645.5h0.9v0.9h-0.9zM126.5 641.4h0.9v0.9h-0.9zM120.5 640.0h0.9v0.9h-0.9zM116.4 642.5h0.9v0.9h-0.9zM128.4 636.6h0.9v0.9h-0.9zM116.8 644.0h0.9v0.9h-0.9zM114.0 647.8h0.9v0.9h-0.9zM118.2 646.0h0.9v0.9h-0.9zM110.9 640.3h0.9v0.9h-0.9zM125.2 644.4h0.9v0.9h-0.9zM121.4 642.8h0.9v0.9h-0.9zM123.2 645.4h0.9v0.9h-0.9zM117.5 644.4h0.9v0.9h-0.9zM126.3 641.1h0.9v0.9h-0.9zM127.1 632.7h0.9v0.9h-0.9zM125.7 643.0h0.9v0.9h-0.9zM118.4 644.0h0.9v0.9h-0.9zM125.0 636.9h0.9v0.9h-0.9zM123.5 638.9h0.9v0.9h-0.9zM123.6 647.1h0.9v0.9h-0.9zM116.3 645.0h0.9v0.9h-0.9zM122.5 640.2h0.9v0.9h-0.9zM111.9 639.2h0.9v0.9h-0.9zM112.0 638.3h0.9v0.9h-0.9zM125.5 642.4h0.9v0.9h-0.9zM103.5 647.2h0.9v0.9h-0.9zM115.9 641.6h0.9v0.9h-0.9zM124.9 647.6h0.9v0.9h-0.9zM123.0 642.7h0.9v0.9h-0.9zM113.3 639.5h0.9v0.9h-0.9zM114.9 645.1h0.9v0.9h-0.9z" fill="#d26a3a" fill-opacity="0.85"/>
<path d="M57.2 670.6C58.4 669.2 63.0 665.3 67.5 663.2C71.9 661.2 78.5 659.9 84.0 658.3C89.6 656.7 95.9 654.7 100.6 653.5C105.3 652.3 108.8 651.6 112.2 651.0C115.6 650.5 119.0 649.6 121.0 650.3C123.0 651.0 124.0 652.9 124.1 655.1C124.2 657.4 123.0 661.5 121.5 663.7C120.0 665.9 118.8 667.1 115.3 668.4C111.9 669.8 106.1 670.9 100.9 671.6C95.8 672.2 89.9 672.3 84.5 672.3C79.0 672.4 72.0 672.1 68.0 672.0C64.0 671.8 62.1 671.8 60.3 671.6C58.5 671.4 56.0 672.0 57.2 670.6Z" fill="#0000f2"/>
<path d="M82.7 658.1h0.9v0.9h-0.9zM90.3 657.0h0.9v0.9h-0.9zM117.7 650.7h0.9v0.9h-0.9zM124.4 654.7h0.9v0.9h-0.9zM64.0 664.1h0.9v0.9h-0.9zM74.9 674.3h0.9v0.9h-0.9zM94.4 653.8h0.9v0.9h-0.9zM57.1 671.7h0.9v0.9h-0.9zM103.3 670.8h0.9v0.9h-0.9zM68.1 671.8h0.9v0.9h-0.9zM102.9 653.6h0.9v0.9h-0.9zM72.7 661.9h0.9v0.9h-0.9zM59.2 670.5h0.9v0.9h-0.9zM101.5 653.5h0.9v0.9h-0.9zM127.6 657.8h0.9v0.9h-0.9zM122.2 659.0h0.9v0.9h-0.9zM123.7 654.4h0.9v0.9h-0.9zM125.4 654.2h0.9v0.9h-0.9zM101.7 673.6h0.9v0.9h-0.9zM118.3 667.1h0.9v0.9h-0.9zM59.3 669.9h0.9v0.9h-0.9zM122.3 661.3h0.9v0.9h-0.9zM94.3 672.0h0.9v0.9h-0.9zM107.6 671.4h0.9v0.9h-0.9zM80.4 659.9h0.9v0.9h-0.9zM103.1 674.5h0.9v0.9h-0.9zM119.5 664.1h0.9v0.9h-0.9zM80.9 673.3h0.9v0.9h-0.9zM121.4 661.6h0.9v0.9h-0.9zM66.1 672.2h0.9v0.9h-0.9zM65.8 665.8h0.9v0.9h-0.9zM118.6 650.5h0.9v0.9h-0.9zM105.3 651.5h0.9v0.9h-0.9zM77.2 672.2h0.9v0.9h-0.9zM90.4 656.7h0.9v0.9h-0.9zM60.8 675.4h0.9v0.9h-0.9zM83.4 658.5h0.9v0.9h-0.9zM121.2 650.6h0.9v0.9h-0.9zM68.9 671.2h0.9v0.9h-0.9zM81.6 658.0h0.9v0.9h-0.9zM115.4 668.7h0.9v0.9h-0.9zM63.3 665.0h0.9v0.9h-0.9zM74.0 673.2h0.9v0.9h-0.9zM110.0 649.5h0.9v0.9h-0.9zM113.0 651.5h0.9v0.9h-0.9zM79.8 672.8h0.9v0.9h-0.9zM76.8 659.7h0.9v0.9h-0.9zM66.6 671.4h0.9v0.9h-0.9zM72.9 659.9h0.9v0.9h-0.9zM126.0 657.4h0.9v0.9h-0.9zM117.4 650.2h0.9v0.9h-0.9zM84.0 671.0h0.9v0.9h-0.9zM91.3 672.9h0.9v0.9h-0.9zM123.5 664.7h0.9v0.9h-0.9zM75.2 672.3h0.9v0.9h-0.9zM74.4 660.3h0.9v0.9h-0.9zM123.7 653.8h0.9v0.9h-0.9zM73.5 661.4h0.9v0.9h-0.9zM124.0 653.5h0.9v0.9h-0.9zM59.3 670.6h0.9v0.9h-0.9zM103.5 652.5h0.9v0.9h-0.9zM125.0 655.5h0.9v0.9h-0.9zM57.1 673.2h0.9v0.9h-0.9zM110.3 648.9h0.9v0.9h-0.9zM113.7 651.4h0.9v0.9h-0.9zM95.7 671.0h0.9v0.9h-0.9zM65.2 665.4h0.9v0.9h-0.9zM118.4 667.4h0.9v0.9h-0.9zM66.4 675.8h0.9v0.9h-0.9zM119.0 650.6h0.9v0.9h-0.9zM120.2 651.0h0.9v0.9h-0.9zM98.9 671.9h0.9v0.9h-0.9zM117.4 665.3h0.9v0.9h-0.9zM123.0 652.5h0.9v0.9h-0.9zM62.7 672.8h0.9v0.9h-0.9zM105.8 669.7h0.9v0.9h-0.9zM124.0 657.9h0.9v0.9h-0.9zM119.6 663.5h0.9v0.9h-0.9zM66.2 672.2h0.9v0.9h-0.9zM105.8 671.3h0.9v0.9h-0.9zM96.5 653.3h0.9v0.9h-0.9zM65.2 664.2h0.9v0.9h-0.9zM115.2 667.9h0.9v0.9h-0.9zM107.1 670.6h0.9v0.9h-0.9zM59.5 671.8h0.9v0.9h-0.9zM107.6 649.4h0.9v0.9h-0.9zM56.9 670.6h0.9v0.9h-0.9zM69.5 670.9h0.9v0.9h-0.9zM82.0 672.9h0.9v0.9h-0.9zM95.2 655.3h0.9v0.9h-0.9zM63.0 665.8h0.9v0.9h-0.9zM124.0 658.8h0.9v0.9h-0.9zM94.4 654.3h0.9v0.9h-0.9zM64.5 663.4h0.9v0.9h-0.9zM64.5 665.2h0.9v0.9h-0.9zM67.4 671.9h0.9v0.9h-0.9zM71.7 660.3h0.9v0.9h-0.9zM61.9 671.5h0.9v0.9h-0.9zM87.0 672.8h0.9v0.9h-0.9zM74.2 660.1h0.9v0.9h-0.9zM57.5 671.0h0.9v0.9h-0.9zM94.5 655.9h0.9v0.9h-0.9zM111.3 672.0h0.9v0.9h-0.9zM73.0 661.9h0.9v0.9h-0.9zM115.5 650.3h0.9v0.9h-0.9zM115.7 650.7h0.9v0.9h-0.9zM57.4 672.7h0.9v0.9h-0.9zM113.8 669.6h0.9v0.9h-0.9zM63.6 673.2h0.9v0.9h-0.9zM123.5 652.9h0.9v0.9h-0.9zM67.2 664.3h0.9v0.9h-0.9zM64.2 665.3h0.9v0.9h-0.9zM110.2 649.8h0.9v0.9h-0.9zM59.7 668.3h0.9v0.9h-0.9zM59.7 669.6h0.9v0.9h-0.9zM125.2 653.5h0.9v0.9h-0.9zM71.0 662.0h0.9v0.9h-0.9zM121.5 662.9h0.9v0.9h-0.9zM124.9 657.8h0.9v0.9h-0.9zM119.8 665.9h0.9v0.9h-0.9zM106.9 652.4h0.9v0.9h-0.9zM77.6 670.8h0.9v0.9h-0.9zM60.9 669.6h0.9v0.9h-0.9zM78.5 676.1h0.9v0.9h-0.9zM89.4 657.4h0.9v0.9h-0.9zM68.2 660.0h0.9v0.9h-0.9zM104.1 670.6h0.9v0.9h-0.9zM119.2 666.2h0.9v0.9h-0.9zM120.5 650.0h0.9v0.9h-0.9zM99.2 654.1h0.9v0.9h-0.9zM123.9 657.1h0.9v0.9h-0.9zM73.8 674.0h0.9v0.9h-0.9zM70.3 673.4h0.9v0.9h-0.9zM124.3 651.2h0.9v0.9h-0.9zM56.2 674.4h0.9v0.9h-0.9zM75.5 670.6h0.9v0.9h-0.9zM124.0 668.5h0.9v0.9h-0.9zM89.7 655.5h0.9v0.9h-0.9zM124.3 658.0h0.9v0.9h-0.9zM117.2 668.9h0.9v0.9h-0.9zM67.5 671.7h0.9v0.9h-0.9zM73.1 662.4h0.9v0.9h-0.9zM66.9 671.1h0.9v0.9h-0.9zM117.5 666.8h0.9v0.9h-0.9zM113.9 668.4h0.9v0.9h-0.9zM59.6 673.1h0.9v0.9h-0.9zM111.2 668.9h0.9v0.9h-0.9zM111.9 668.2h0.9v0.9h-0.9zM123.0 660.8h0.9v0.9h-0.9zM75.6 673.0h0.9v0.9h-0.9zM124.4 652.1h0.9v0.9h-0.9zM123.4 660.4h0.9v0.9h-0.9zM118.1 672.1h0.9v0.9h-0.9zM117.7 666.5h0.9v0.9h-0.9zM109.5 649.1h0.9v0.9h-0.9zM89.9 672.2h0.9v0.9h-0.9zM88.5 674.8h0.9v0.9h-0.9zM87.0 656.1h0.9v0.9h-0.9zM68.3 662.3h0.9v0.9h-0.9zM124.6 656.3h0.9v0.9h-0.9zM97.9 671.3h0.9v0.9h-0.9zM103.3 653.6h0.9v0.9h-0.9zM59.1 673.5h0.9v0.9h-0.9zM124.8 654.1h0.9v0.9h-0.9zM92.9 654.8h0.9v0.9h-0.9zM108.0 671.8h0.9v0.9h-0.9zM59.0 670.4h0.9v0.9h-0.9zM65.5 665.5h0.9v0.9h-0.9zM89.9 673.7h0.9v0.9h-0.9zM108.1 671.0h0.9v0.9h-0.9zM56.7 671.5h0.9v0.9h-0.9zM97.1 671.5h0.9v0.9h-0.9zM120.4 648.8h0.9v0.9h-0.9zM122.4 649.4h0.9v0.9h-0.9zM89.4 656.0h0.9v0.9h-0.9zM117.8 650.2h0.9v0.9h-0.9zM56.3 673.5h0.9v0.9h-0.9zM61.2 667.1h0.9v0.9h-0.9zM78.0 672.5h0.9v0.9h-0.9zM105.1 652.8h0.9v0.9h-0.9zM122.4 651.7h0.9v0.9h-0.9zM120.3 648.9h0.9v0.9h-0.9zM123.9 651.4h0.9v0.9h-0.9zM59.5 671.8h0.9v0.9h-0.9zM123.3 653.7h0.9v0.9h-0.9zM59.7 671.6h0.9v0.9h-0.9zM66.8 673.3h0.9v0.9h-0.9zM115.4 649.2h0.9v0.9h-0.9zM67.9 663.5h0.9v0.9h-0.9zM97.8 653.8h0.9v0.9h-0.9zM120.0 650.7h0.9v0.9h-0.9zM60.4 671.1h0.9v0.9h-0.9zM116.7 667.0h0.9v0.9h-0.9zM60.5 672.9h0.9v0.9h-0.9zM69.0 671.4h0.9v0.9h-0.9zM87.4 655.2h0.9v0.9h-0.9zM116.2 651.8h0.9v0.9h-0.9zM101.1 671.4h0.9v0.9h-0.9zM115.4 648.9h0.9v0.9h-0.9zM68.7 672.6h0.9v0.9h-0.9zM122.6 650.8h0.9v0.9h-0.9zM122.4 663.2h0.9v0.9h-0.9zM121.2 666.7h0.9v0.9h-0.9zM123.6 649.2h0.9v0.9h-0.9zM125.5 656.8h0.9v0.9h-0.9zM121.3 661.8h0.9v0.9h-0.9zM80.8 658.6h0.9v0.9h-0.9zM80.3 658.9h0.9v0.9h-0.9zM119.2 665.9h0.9v0.9h-0.9zM62.8 672.9h0.9v0.9h-0.9zM64.4 663.4h0.9v0.9h-0.9zM103.5 649.8h0.9v0.9h-0.9zM126.3 653.5h0.9v0.9h-0.9zM106.7 672.1h0.9v0.9h-0.9zM110.1 671.3h0.9v0.9h-0.9zM63.5 671.8h0.9v0.9h-0.9zM124.2 655.6h0.9v0.9h-0.9zM125.0 653.6h0.9v0.9h-0.9zM103.2 671.6h0.9v0.9h-0.9zM68.1 672.8h0.9v0.9h-0.9zM59.4 671.7h0.9v0.9h-0.9zM95.7 652.5h0.9v0.9h-0.9zM58.4 671.2h0.9v0.9h-0.9zM107.2 670.6h0.9v0.9h-0.9zM122.0 652.3h0.9v0.9h-0.9zM126.1 657.2h0.9v0.9h-0.9zM74.7 662.5h0.9v0.9h-0.9zM82.8 673.6h0.9v0.9h-0.9zM95.5 672.2h0.9v0.9h-0.9zM62.1 666.8h0.9v0.9h-0.9zM78.1 673.4h0.9v0.9h-0.9zM59.4 670.9h0.9v0.9h-0.9zM110.8 670.4h0.9v0.9h-0.9zM103.0 670.9h0.9v0.9h-0.9zM67.4 663.1h0.9v0.9h-0.9zM75.0 673.6h0.9v0.9h-0.9zM119.9 650.0h0.9v0.9h-0.9zM112.7 672.9h0.9v0.9h-0.9zM65.1 673.4h0.9v0.9h-0.9zM60.3 672.7h0.9v0.9h-0.9zM121.4 652.7h0.9v0.9h-0.9zM116.1 668.7h0.9v0.9h-0.9zM74.4 672.7h0.9v0.9h-0.9zM77.8 673.1h0.9v0.9h-0.9zM69.6 672.6h0.9v0.9h-0.9zM65.9 673.3h0.9v0.9h-0.9zM67.2 662.2h0.9v0.9h-0.9zM61.2 667.9h0.9v0.9h-0.9zM123.8 663.4h0.9v0.9h-0.9zM123.1 653.7h0.9v0.9h-0.9zM59.6 671.4h0.9v0.9h-0.9zM59.3 671.2h0.9v0.9h-0.9zM110.6 651.6h0.9v0.9h-0.9zM123.9 666.9h0.9v0.9h-0.9zM99.0 654.1h0.9v0.9h-0.9zM63.4 667.6h0.9v0.9h-0.9zM57.1 665.9h0.9v0.9h-0.9zM93.5 672.2h0.9v0.9h-0.9zM122.7 658.3h0.9v0.9h-0.9zM97.5 652.2h0.9v0.9h-0.9zM93.3 654.4h0.9v0.9h-0.9zM124.0 662.2h0.9v0.9h-0.9zM100.2 673.0h0.9v0.9h-0.9zM116.9 667.5h0.9v0.9h-0.9zM56.1 674.5h0.9v0.9h-0.9zM79.6 673.8h0.9v0.9h-0.9zM61.3 667.7h0.9v0.9h-0.9zM63.8 666.4h0.9v0.9h-0.9zM90.6 672.7h0.9v0.9h-0.9zM108.5 650.5h0.9v0.9h-0.9zM123.4 652.8h0.9v0.9h-0.9zM84.2 657.5h0.9v0.9h-0.9zM58.2 671.5h0.9v0.9h-0.9zM94.7 674.3h0.9v0.9h-0.9zM76.5 660.5h0.9v0.9h-0.9zM109.3 652.1h0.9v0.9h-0.9zM118.4 667.3h0.9v0.9h-0.9zM125.0 653.3h0.9v0.9h-0.9zM117.0 651.8h0.9v0.9h-0.9zM96.2 670.9h0.9v0.9h-0.9zM68.4 672.6h0.9v0.9h-0.9zM75.8 660.1h0.9v0.9h-0.9zM121.3 651.3h0.9v0.9h-0.9zM124.7 654.7h0.9v0.9h-0.9zM93.5 657.0h0.9v0.9h-0.9zM107.9 651.0h0.9v0.9h-0.9zM96.6 672.6h0.9v0.9h-0.9zM58.1 670.8h0.9v0.9h-0.9zM77.4 672.8h0.9v0.9h-0.9zM57.9 670.6h0.9v0.9h-0.9zM88.2 671.4h0.9v0.9h-0.9zM111.3 651.6h0.9v0.9h-0.9zM61.2 671.1h0.9v0.9h-0.9zM75.6 672.5h0.9v0.9h-0.9zM69.1 674.2h0.9v0.9h-0.9zM74.6 674.9h0.9v0.9h-0.9zM58.8 671.2h0.9v0.9h-0.9zM94.8 655.2h0.9v0.9h-0.9zM105.0 651.0h0.9v0.9h-0.9zM69.0 660.7h0.9v0.9h-0.9zM97.2 653.3h0.9v0.9h-0.9zM123.5 656.0h0.9v0.9h-0.9zM68.0 673.0h0.9v0.9h-0.9zM94.3 670.6h0.9v0.9h-0.9zM122.4 653.8h0.9v0.9h-0.9zM95.9 650.3h0.9v0.9h-0.9zM75.5 661.5h0.9v0.9h-0.9zM114.5 651.5h0.9v0.9h-0.9zM109.1 651.1h0.9v0.9h-0.9zM122.0 659.2h0.9v0.9h-0.9zM108.5 651.9h0.9v0.9h-0.9zM119.7 664.1h0.9v0.9h-0.9zM87.6 672.4h0.9v0.9h-0.9zM90.1 655.7h0.9v0.9h-0.9zM119.6 666.1h0.9v0.9h-0.9zM84.0 658.6h0.9v0.9h-0.9zM121.9 651.2h0.9v0.9h-0.9zM123.3 654.2h0.9v0.9h-0.9zM122.2 661.2h0.9v0.9h-0.9zM107.1 648.9h0.9v0.9h-0.9zM66.9 674.1h0.9v0.9h-0.9zM67.5 671.9h0.9v0.9h-0.9zM96.0 653.1h0.9v0.9h-0.9zM118.7 663.9h0.9v0.9h-0.9zM106.0 671.7h0.9v0.9h-0.9zM95.1 653.0h0.9v0.9h-0.9zM124.3 656.2h0.9v0.9h-0.9zM123.2 668.9h0.9v0.9h-0.9zM111.1 669.8h0.9v0.9h-0.9zM112.0 670.6h0.9v0.9h-0.9zM122.9 653.8h0.9v0.9h-0.9zM115.6 651.8h0.9v0.9h-0.9zM59.2 668.2h0.9v0.9h-0.9zM123.0 665.0h0.9v0.9h-0.9zM79.0 671.6h0.9v0.9h-0.9zM95.3 673.8h0.9v0.9h-0.9zM66.8 672.1h0.9v0.9h-0.9zM83.4 672.4h0.9v0.9h-0.9zM112.9 652.7h0.9v0.9h-0.9zM123.1 650.2h0.9v0.9h-0.9zM115.3 667.6h0.9v0.9h-0.9zM123.8 660.4h0.9v0.9h-0.9zM120.9 650.4h0.9v0.9h-0.9zM119.8 663.9h0.9v0.9h-0.9zM59.9 668.2h0.9v0.9h-0.9zM115.3 667.6h0.9v0.9h-0.9zM105.4 652.1h0.9v0.9h-0.9zM63.8 673.6h0.9v0.9h-0.9zM68.4 662.2h0.9v0.9h-0.9zM119.9 650.6h0.9v0.9h-0.9zM60.8 672.3h0.9v0.9h-0.9zM100.3 671.5h0.9v0.9h-0.9zM116.0 667.6h0.9v0.9h-0.9zM65.0 673.6h0.9v0.9h-0.9zM118.9 667.8h0.9v0.9h-0.9zM87.3 673.6h0.9v0.9h-0.9zM113.0 669.0h0.9v0.9h-0.9zM122.7 661.4h0.9v0.9h-0.9zM84.0 657.2h0.9v0.9h-0.9zM123.8 654.0h0.9v0.9h-0.9zM125.4 651.8h0.9v0.9h-0.9zM58.5 672.9h0.9v0.9h-0.9zM121.8 664.3h0.9v0.9h-0.9zM115.9 667.1h0.9v0.9h-0.9zM122.2 653.1h0.9v0.9h-0.9zM85.3 656.7h0.9v0.9h-0.9zM64.2 666.5h0.9v0.9h-0.9zM104.1 672.9h0.9v0.9h-0.9zM118.9 650.7h0.9v0.9h-0.9zM116.7 668.5h0.9v0.9h-0.9zM113.7 670.7h0.9v0.9h-0.9zM80.5 658.7h0.9v0.9h-0.9zM116.4 667.7h0.9v0.9h-0.9zM107.9 670.3h0.9v0.9h-0.9zM73.4 658.2h0.9v0.9h-0.9zM73.1 658.2h0.9v0.9h-0.9zM68.7 664.3h0.9v0.9h-0.9zM80.5 671.7h0.9v0.9h-0.9zM70.5 662.1h0.9v0.9h-0.9zM69.2 673.5h0.9v0.9h-0.9zM113.1 669.4h0.9v0.9h-0.9zM120.2 651.4h0.9v0.9h-0.9zM88.5 657.8h0.9v0.9h-0.9zM124.7 656.1h0.9v0.9h-0.9zM101.3 652.3h0.9v0.9h-0.9zM75.5 672.9h0.9v0.9h-0.9zM65.5 672.1h0.9v0.9h-0.9zM127.1 659.3h0.9v0.9h-0.9zM123.1 661.6h0.9v0.9h-0.9zM105.6 669.6h0.9v0.9h-0.9zM123.6 651.7h0.9v0.9h-0.9zM79.1 672.8h0.9v0.9h-0.9zM120.8 650.4h0.9v0.9h-0.9zM113.8 649.0h0.9v0.9h-0.9zM80.2 675.9h0.9v0.9h-0.9zM103.0 651.8h0.9v0.9h-0.9zM86.2 656.0h0.9v0.9h-0.9zM61.3 671.9h0.9v0.9h-0.9zM79.7 672.8h0.9v0.9h-0.9zM122.4 667.0h0.9v0.9h-0.9zM89.6 654.5h0.9v0.9h-0.9zM113.6 650.9h0.9v0.9h-0.9zM124.1 653.1h0.9v0.9h-0.9zM80.3 658.0h0.9v0.9h-0.9zM123.8 656.1h0.9v0.9h-0.9zM63.6 665.4h0.9v0.9h-0.9zM113.4 651.6h0.9v0.9h-0.9zM62.2 665.8h0.9v0.9h-0.9zM75.0 674.0h0.9v0.9h-0.9zM119.9 651.6h0.9v0.9h-0.9zM123.3 662.9h0.9v0.9h-0.9zM59.1 669.9h0.9v0.9h-0.9zM112.2 670.6h0.9v0.9h-0.9zM59.3 673.5h0.9v0.9h-0.9zM121.8 662.8h0.9v0.9h-0.9zM122.2 658.6h0.9v0.9h-0.9zM106.1 652.6h0.9v0.9h-0.9zM122.6 661.9h0.9v0.9h-0.9zM107.6 669.6h0.9v0.9h-0.9zM84.6 673.3h0.9v0.9h-0.9zM75.0 673.0h0.9v0.9h-0.9zM119.6 666.2h0.9v0.9h-0.9zM68.5 663.2h0.9v0.9h-0.9zM121.3 651.3h0.9v0.9h-0.9zM70.8 660.2h0.9v0.9h-0.9zM110.7 668.3h0.9v0.9h-0.9zM115.5 651.6h0.9v0.9h-0.9zM61.7 676.4h0.9v0.9h-0.9zM73.9 673.6h0.9v0.9h-0.9zM126.3 657.0h0.9v0.9h-0.9zM92.0 654.6h0.9v0.9h-0.9zM59.0 670.2h0.9v0.9h-0.9zM124.3 653.3h0.9v0.9h-0.9zM96.8 672.7h0.9v0.9h-0.9zM57.6 668.3h0.9v0.9h-0.9zM93.6 671.7h0.9v0.9h-0.9zM93.9 656.1h0.9v0.9h-0.9zM67.2 673.0h0.9v0.9h-0.9zM106.6 653.3h0.9v0.9h-0.9zM115.7 668.8h0.9v0.9h-0.9zM121.3 663.8h0.9v0.9h-0.9zM107.0 669.8h0.9v0.9h-0.9zM88.2 672.9h0.9v0.9h-0.9zM71.1 671.5h0.9v0.9h-0.9zM116.6 651.3h0.9v0.9h-0.9zM117.1 667.9h0.9v0.9h-0.9zM118.0 668.9h0.9v0.9h-0.9zM96.3 672.6h0.9v0.9h-0.9zM85.9 672.9h0.9v0.9h-0.9zM107.2 650.3h0.9v0.9h-0.9zM60.3 672.2h0.9v0.9h-0.9zM85.5 672.1h0.9v0.9h-0.9zM63.5 665.7h0.9v0.9h-0.9zM97.8 655.4h0.9v0.9h-0.9zM104.8 671.5h0.9v0.9h-0.9zM109.4 650.5h0.9v0.9h-0.9zM84.3 675.1h0.9v0.9h-0.9zM119.6 650.7h0.9v0.9h-0.9zM93.9 672.1h0.9v0.9h-0.9zM105.5 673.2h0.9v0.9h-0.9zM116.8 668.6h0.9v0.9h-0.9zM58.9 674.6h0.9v0.9h-0.9zM61.0 666.3h0.9v0.9h-0.9zM62.3 672.6h0.9v0.9h-0.9zM112.5 651.4h0.9v0.9h-0.9zM59.4 669.2h0.9v0.9h-0.9zM58.9 671.6h0.9v0.9h-0.9zM94.9 671.8h0.9v0.9h-0.9zM79.2 674.7h0.9v0.9h-0.9zM96.4 653.6h0.9v0.9h-0.9zM80.9 657.0h0.9v0.9h-0.9zM123.8 657.2h0.9v0.9h-0.9zM114.2 670.1h0.9v0.9h-0.9zM106.9 648.8h0.9v0.9h-0.9zM63.3 672.8h0.9v0.9h-0.9zM118.6 670.2h0.9v0.9h-0.9zM94.1 654.5h0.9v0.9h-0.9zM104.7 653.4h0.9v0.9h-0.9zM121.7 651.6h0.9v0.9h-0.9zM122.8 651.1h0.9v0.9h-0.9zM107.3 649.6h0.9v0.9h-0.9zM122.7 662.1h0.9v0.9h-0.9zM66.1 672.0h0.9v0.9h-0.9zM78.5 673.0h0.9v0.9h-0.9zM74.2 672.8h0.9v0.9h-0.9zM72.1 671.9h0.9v0.9h-0.9zM59.8 663.4h0.9v0.9h-0.9zM104.3 671.0h0.9v0.9h-0.9zM72.8 657.0h0.9v0.9h-0.9zM58.5 670.6h0.9v0.9h-0.9zM73.4 662.9h0.9v0.9h-0.9zM118.6 671.3h0.9v0.9h-0.9zM108.0 652.2h0.9v0.9h-0.9zM73.5 660.0h0.9v0.9h-0.9zM98.5 653.4h0.9v0.9h-0.9zM64.6 673.6h0.9v0.9h-0.9zM66.4 674.1h0.9v0.9h-0.9zM92.8 655.6h0.9v0.9h-0.9zM57.9 675.7h0.9v0.9h-0.9zM106.6 669.9h0.9v0.9h-0.9zM119.7 665.2h0.9v0.9h-0.9zM76.9 674.2h0.9v0.9h-0.9zM115.6 651.8h0.9v0.9h-0.9zM125.3 653.0h0.9v0.9h-0.9zM86.9 655.0h0.9v0.9h-0.9zM83.9 658.4h0.9v0.9h-0.9zM67.3 664.5h0.9v0.9h-0.9zM121.8 651.3h0.9v0.9h-0.9zM118.6 666.2h0.9v0.9h-0.9zM120.1 666.1h0.9v0.9h-0.9zM123.3 657.2h0.9v0.9h-0.9zM66.3 662.3h0.9v0.9h-0.9zM57.3 671.6h0.9v0.9h-0.9zM121.7 651.8h0.9v0.9h-0.9zM80.7 659.8h0.9v0.9h-0.9zM87.9 671.9h0.9v0.9h-0.9zM83.5 671.4h0.9v0.9h-0.9zM60.0 667.8h0.9v0.9h-0.9zM122.4 661.4h0.9v0.9h-0.9zM81.3 659.1h0.9v0.9h-0.9zM59.1 672.4h0.9v0.9h-0.9zM55.8 672.1h0.9v0.9h-0.9zM116.3 666.4h0.9v0.9h-0.9zM118.2 650.3h0.9v0.9h-0.9zM101.7 653.5h0.9v0.9h-0.9zM115.2 650.5h0.9v0.9h-0.9zM61.2 672.9h0.9v0.9h-0.9zM101.9 649.3h0.9v0.9h-0.9zM79.1 655.9h0.9v0.9h-0.9zM63.7 671.7h0.9v0.9h-0.9zM64.1 672.4h0.9v0.9h-0.9zM105.1 669.7h0.9v0.9h-0.9zM124.2 650.5h0.9v0.9h-0.9zM63.2 664.7h0.9v0.9h-0.9zM69.9 670.9h0.9v0.9h-0.9zM59.4 671.5h0.9v0.9h-0.9zM90.6 676.2h0.9v0.9h-0.9zM66.4 672.7h0.9v0.9h-0.9zM126.9 652.0h0.9v0.9h-0.9zM58.8 670.8h0.9v0.9h-0.9zM66.4 664.5h0.9v0.9h-0.9zM59.6 666.5h0.9v0.9h-0.9zM117.6 649.1h0.9v0.9h-0.9zM112.1 651.9h0.9v0.9h-0.9zM88.0 656.7h0.9v0.9h-0.9zM102.3 652.1h0.9v0.9h-0.9zM118.5 666.0h0.9v0.9h-0.9zM120.6 650.0h0.9v0.9h-0.9zM121.1 668.2h0.9v0.9h-0.9zM76.8 674.5h0.9v0.9h-0.9zM66.8 670.3h0.9v0.9h-0.9zM66.6 671.5h0.9v0.9h-0.9zM105.0 672.1h0.9v0.9h-0.9zM59.1 669.1h0.9v0.9h-0.9zM59.3 670.7h0.9v0.9h-0.9zM57.8 674.4h0.9v0.9h-0.9zM94.1 670.8h0.9v0.9h-0.9zM122.0 652.4h0.9v0.9h-0.9zM58.6 666.5h0.9v0.9h-0.9zM112.7 649.6h0.9v0.9h-0.9zM62.3 672.8h0.9v0.9h-0.9zM62.6 674.8h0.9v0.9h-0.9zM83.2 657.4h0.9v0.9h-0.9zM117.6 651.8h0.9v0.9h-0.9zM88.7 675.1h0.9v0.9h-0.9zM123.5 651.0h0.9v0.9h-0.9zM58.7 670.4h0.9v0.9h-0.9zM106.8 649.2h0.9v0.9h-0.9zM60.0 670.5h0.9v0.9h-0.9zM74.6 662.6h0.9v0.9h-0.9zM115.3 652.1h0.9v0.9h-0.9zM82.6 659.3h0.9v0.9h-0.9zM72.2 660.0h0.9v0.9h-0.9zM70.7 674.1h0.9v0.9h-0.9zM72.6 671.7h0.9v0.9h-0.9zM65.6 671.2h0.9v0.9h-0.9zM113.2 649.7h0.9v0.9h-0.9zM113.0 668.7h0.9v0.9h-0.9zM91.6 671.4h0.9v0.9h-0.9zM64.8 663.4h0.9v0.9h-0.9zM107.8 651.7h0.9v0.9h-0.9zM103.8 652.2h0.9v0.9h-0.9zM87.0 673.3h0.9v0.9h-0.9zM60.4 671.0h0.9v0.9h-0.9zM78.2 671.8h0.9v0.9h-0.9zM79.3 673.9h0.9v0.9h-0.9zM121.6 650.4h0.9v0.9h-0.9zM113.6 652.1h0.9v0.9h-0.9zM98.4 652.4h0.9v0.9h-0.9zM114.8 669.1h0.9v0.9h-0.9zM71.4 672.6h0.9v0.9h-0.9zM59.5 671.3h0.9v0.9h-0.9zM67.5 663.0h0.9v0.9h-0.9zM84.8 655.2h0.9v0.9h-0.9zM56.0 671.6h0.9v0.9h-0.9zM86.2 673.0h0.9v0.9h-0.9zM123.4 661.2h0.9v0.9h-0.9zM101.3 652.8h0.9v0.9h-0.9zM122.6 661.8h0.9v0.9h-0.9zM64.9 671.9h0.9v0.9h-0.9zM116.7 651.1h0.9v0.9h-0.9zM86.2 659.2h0.9v0.9h-0.9zM81.2 658.1h0.9v0.9h-0.9zM57.9 667.7h0.9v0.9h-0.9zM106.4 670.8h0.9v0.9h-0.9zM108.4 650.8h0.9v0.9h-0.9zM124.3 654.8h0.9v0.9h-0.9zM64.9 670.5h0.9v0.9h-0.9zM120.9 667.0h0.9v0.9h-0.9zM93.6 655.0h0.9v0.9h-0.9zM82.7 656.6h0.9v0.9h-0.9zM123.8 652.4h0.9v0.9h-0.9zM123.2 659.8h0.9v0.9h-0.9zM118.6 650.8h0.9v0.9h-0.9zM124.0 655.5h0.9v0.9h-0.9zM77.9 656.3h0.9v0.9h-0.9zM113.6 650.9h0.9v0.9h-0.9zM66.5 673.1h0.9v0.9h-0.9zM92.2 671.9h0.9v0.9h-0.9zM79.1 659.7h0.9v0.9h-0.9zM122.0 664.9h0.9v0.9h-0.9zM117.7 668.5h0.9v0.9h-0.9zM72.3 673.0h0.9v0.9h-0.9zM57.3 670.9h0.9v0.9h-0.9zM61.4 673.6h0.9v0.9h-0.9zM64.5 674.6h0.9v0.9h-0.9zM120.8 663.3h0.9v0.9h-0.9zM117.2 651.8h0.9v0.9h-0.9zM57.2 672.1h0.9v0.9h-0.9zM96.5 671.1h0.9v0.9h-0.9zM103.8 672.4h0.9v0.9h-0.9zM106.8 669.3h0.9v0.9h-0.9zM102.7 671.6h0.9v0.9h-0.9zM85.5 657.6h0.9v0.9h-0.9zM110.4 652.4h0.9v0.9h-0.9zM121.0 666.8h0.9v0.9h-0.9zM110.5 650.1h0.9v0.9h-0.9zM124.6 654.6h0.9v0.9h-0.9zM103.3 651.3h0.9v0.9h-0.9zM78.6 660.8h0.9v0.9h-0.9zM62.4 672.2h0.9v0.9h-0.9zM60.0 672.7h0.9v0.9h-0.9zM59.9 667.5h0.9v0.9h-0.9zM95.0 671.1h0.9v0.9h-0.9zM123.5 657.9h0.9v0.9h-0.9zM69.5 671.0h0.9v0.9h-0.9zM76.5 660.5h0.9v0.9h-0.9zM67.4 672.8h0.9v0.9h-0.9zM61.5 675.2h0.9v0.9h-0.9zM124.3 663.1h0.9v0.9h-0.9zM73.6 671.2h0.9v0.9h-0.9zM80.0 661.1h0.9v0.9h-0.9zM57.2 669.8h0.9v0.9h-0.9zM59.2 665.5h0.9v0.9h-0.9zM91.1 653.8h0.9v0.9h-0.9zM112.5 670.3h0.9v0.9h-0.9zM58.0 674.3h0.9v0.9h-0.9zM65.5 673.5h0.9v0.9h-0.9zM84.2 672.0h0.9v0.9h-0.9zM120.0 667.2h0.9v0.9h-0.9zM115.6 650.7h0.9v0.9h-0.9zM94.4 674.2h0.9v0.9h-0.9zM61.1 671.4h0.9v0.9h-0.9zM77.9 672.5h0.9v0.9h-0.9zM122.8 664.1h0.9v0.9h-0.9zM93.3 671.4h0.9v0.9h-0.9zM98.0 655.1h0.9v0.9h-0.9zM116.8 668.0h0.9v0.9h-0.9zM96.9 674.1h0.9v0.9h-0.9zM123.8 662.2h0.9v0.9h-0.9zM97.0 672.7h0.9v0.9h-0.9zM62.2 667.2h0.9v0.9h-0.9zM125.9 655.5h0.9v0.9h-0.9zM124.5 656.5h0.9v0.9h-0.9zM61.7 673.5h0.9v0.9h-0.9zM115.6 668.3h0.9v0.9h-0.9zM57.7 672.0h0.9v0.9h-0.9zM119.4 664.3h0.9v0.9h-0.9zM123.8 652.0h0.9v0.9h-0.9zM84.1 659.0h0.9v0.9h-0.9zM58.0 673.0h0.9v0.9h-0.9zM84.2 672.0h0.9v0.9h-0.9zM64.9 664.3h0.9v0.9h-0.9zM118.6 670.4h0.9v0.9h-0.9zM82.6 655.5h0.9v0.9h-0.9zM88.2 656.5h0.9v0.9h-0.9zM67.8 663.1h0.9v0.9h-0.9zM116.4 667.5h0.9v0.9h-0.9zM59.3 671.6h0.9v0.9h-0.9zM111.2 670.2h0.9v0.9h-0.9zM60.2 669.2h0.9v0.9h-0.9zM64.6 663.5h0.9v0.9h-0.9zM112.0 650.5h0.9v0.9h-0.9zM87.3 656.3h0.9v0.9h-0.9zM116.1 648.8h0.9v0.9h-0.9zM63.1 665.6h0.9v0.9h-0.9zM90.8 672.3h0.9v0.9h-0.9zM65.1 663.5h0.9v0.9h-0.9zM91.2 655.3h0.9v0.9h-0.9zM66.6 671.4h0.9v0.9h-0.9zM78.7 661.2h0.9v0.9h-0.9zM59.5 671.5h0.9v0.9h-0.9zM121.5 649.7h0.9v0.9h-0.9zM59.4 672.1h0.9v0.9h-0.9zM61.3 666.1h0.9v0.9h-0.9zM65.3 666.6h0.9v0.9h-0.9zM85.5 658.4h0.9v0.9h-0.9zM58.7 670.6h0.9v0.9h-0.9zM76.2 670.7h0.9v0.9h-0.9zM67.9 674.4h0.9v0.9h-0.9zM120.8 650.6h0.9v0.9h-0.9zM120.1 664.1h0.9v0.9h-0.9zM66.6 672.6h0.9v0.9h-0.9zM58.7 671.4h0.9v0.9h-0.9zM104.4 672.3h0.9v0.9h-0.9zM60.7 671.0h0.9v0.9h-0.9zM85.8 658.4h0.9v0.9h-0.9zM115.7 668.0h0.9v0.9h-0.9zM93.0 672.5h0.9v0.9h-0.9zM118.9 650.8h0.9v0.9h-0.9zM101.7 653.2h0.9v0.9h-0.9zM59.4 670.5h0.9v0.9h-0.9zM73.5 661.9h0.9v0.9h-0.9zM95.0 670.4h0.9v0.9h-0.9zM98.7 671.8h0.9v0.9h-0.9zM122.1 662.3h0.9v0.9h-0.9zM81.6 658.9h0.9v0.9h-0.9zM108.8 670.7h0.9v0.9h-0.9zM110.1 650.4h0.9v0.9h-0.9zM128.2 657.1h0.9v0.9h-0.9zM66.1 663.0h0.9v0.9h-0.9zM68.9 671.7h0.9v0.9h-0.9zM63.7 673.1h0.9v0.9h-0.9zM123.5 654.6h0.9v0.9h-0.9zM120.7 664.0h0.9v0.9h-0.9zM83.1 658.6h0.9v0.9h-0.9zM78.9 672.1h0.9v0.9h-0.9zM112.4 652.1h0.9v0.9h-0.9zM122.1 652.8h0.9v0.9h-0.9zM109.4 651.4h0.9v0.9h-0.9zM78.7 661.3h0.9v0.9h-0.9zM111.8 650.6h0.9v0.9h-0.9zM122.3 651.2h0.9v0.9h-0.9zM88.4 655.1h0.9v0.9h-0.9zM127.1 657.0h0.9v0.9h-0.9zM99.5 653.3h0.9v0.9h-0.9zM72.1 671.2h0.9v0.9h-0.9zM58.3 670.8h0.9v0.9h-0.9zM103.6 652.2h0.9v0.9h-0.9zM110.9 652.8h0.9v0.9h-0.9zM122.1 660.3h0.9v0.9h-0.9zM118.7 651.0h0.9v0.9h-0.9zM63.2 670.2h0.9v0.9h-0.9zM61.3 668.2h0.9v0.9h-0.9zM90.3 672.5h0.9v0.9h-0.9zM63.2 666.8h0.9v0.9h-0.9zM93.4 654.3h0.9v0.9h-0.9zM107.1 650.3h0.9v0.9h-0.9zM117.6 650.5h0.9v0.9h-0.9zM124.9 653.3h0.9v0.9h-0.9zM58.2 670.4h0.9v0.9h-0.9zM64.8 674.9h0.9v0.9h-0.9zM122.2 653.0h0.9v0.9h-0.9zM109.1 669.4h0.9v0.9h-0.9zM62.7 666.0h0.9v0.9h-0.9zM113.9 650.8h0.9v0.9h-0.9zM74.8 673.3h0.9v0.9h-0.9zM124.7 656.7h0.9v0.9h-0.9zM122.6 669.0h0.9v0.9h-0.9zM62.5 666.6h0.9v0.9h-0.9zM122.2 659.0h0.9v0.9h-0.9zM61.2 667.2h0.9v0.9h-0.9zM58.1 672.9h0.9v0.9h-0.9zM103.3 652.8h0.9v0.9h-0.9zM61.4 672.5h0.9v0.9h-0.9zM60.3 668.7h0.9v0.9h-0.9zM118.0 666.1h0.9v0.9h-0.9zM110.9 649.5h0.9v0.9h-0.9zM123.1 668.4h0.9v0.9h-0.9zM88.5 654.4h0.9v0.9h-0.9zM96.4 655.0h0.9v0.9h-0.9zM62.8 671.8h0.9v0.9h-0.9zM94.9 672.3h0.9v0.9h-0.9zM115.6 669.1h0.9v0.9h-0.9zM86.8 672.9h0.9v0.9h-0.9zM112.2 649.6h0.9v0.9h-0.9zM117.0 650.1h0.9v0.9h-0.9zM102.9 673.1h0.9v0.9h-0.9zM120.5 664.0h0.9v0.9h-0.9zM71.0 671.9h0.9v0.9h-0.9zM121.9 659.3h0.9v0.9h-0.9zM68.0 674.6h0.9v0.9h-0.9zM102.6 670.2h0.9v0.9h-0.9zM77.4 675.6h0.9v0.9h-0.9zM63.5 674.0h0.9v0.9h-0.9zM81.9 670.7h0.9v0.9h-0.9zM109.3 651.1h0.9v0.9h-0.9zM114.9 667.5h0.9v0.9h-0.9zM87.3 658.3h0.9v0.9h-0.9zM121.7 663.7h0.9v0.9h-0.9zM89.5 657.7h0.9v0.9h-0.9zM83.6 674.1h0.9v0.9h-0.9zM56.8 673.9h0.9v0.9h-0.9zM115.6 666.6h0.9v0.9h-0.9zM108.0 670.4h0.9v0.9h-0.9zM89.7 672.4h0.9v0.9h-0.9zM58.4 672.3h0.9v0.9h-0.9zM77.4 658.8h0.9v0.9h-0.9zM119.0 664.4h0.9v0.9h-0.9zM122.9 662.9h0.9v0.9h-0.9zM90.0 654.2h0.9v0.9h-0.9zM124.5 651.8h0.9v0.9h-0.9zM103.1 654.5h0.9v0.9h-0.9zM119.7 665.2h0.9v0.9h-0.9zM114.0 668.5h0.9v0.9h-0.9zM123.3 660.8h0.9v0.9h-0.9zM58.3 672.4h0.9v0.9h-0.9zM97.5 671.2h0.9v0.9h-0.9zM92.6 652.5h0.9v0.9h-0.9zM93.9 673.2h0.9v0.9h-0.9zM75.7 673.1h0.9v0.9h-0.9zM59.0 673.2h0.9v0.9h-0.9zM100.0 672.0h0.9v0.9h-0.9zM117.9 668.5h0.9v0.9h-0.9zM90.8 657.1h0.9v0.9h-0.9zM91.5 673.4h0.9v0.9h-0.9zM122.7 660.8h0.9v0.9h-0.9zM90.2 653.7h0.9v0.9h-0.9zM77.9 658.2h0.9v0.9h-0.9zM87.4 654.0h0.9v0.9h-0.9zM110.8 671.1h0.9v0.9h-0.9zM68.5 672.0h0.9v0.9h-0.9zM57.2 668.2h0.9v0.9h-0.9zM101.5 672.0h0.9v0.9h-0.9zM57.2 671.0h0.9v0.9h-0.9zM76.3 659.6h0.9v0.9h-0.9zM61.1 671.9h0.9v0.9h-0.9zM60.7 668.3h0.9v0.9h-0.9zM118.5 651.6h0.9v0.9h-0.9zM103.8 670.2h0.9v0.9h-0.9zM62.0 675.2h0.9v0.9h-0.9zM91.9 656.9h0.9v0.9h-0.9zM64.1 665.7h0.9v0.9h-0.9zM94.1 655.6h0.9v0.9h-0.9zM114.3 668.8h0.9v0.9h-0.9zM99.1 654.1h0.9v0.9h-0.9zM57.6 673.4h0.9v0.9h-0.9zM70.8 675.3h0.9v0.9h-0.9zM85.3 658.8h0.9v0.9h-0.9zM121.7 651.0h0.9v0.9h-0.9zM125.4 656.5h0.9v0.9h-0.9zM118.7 669.7h0.9v0.9h-0.9zM101.1 652.6h0.9v0.9h-0.9zM64.1 671.4h0.9v0.9h-0.9zM109.9 650.3h0.9v0.9h-0.9zM79.8 657.6h0.9v0.9h-0.9zM58.5 671.5h0.9v0.9h-0.9zM59.1 672.4h0.9v0.9h-0.9zM59.4 671.9h0.9v0.9h-0.9zM69.1 672.8h0.9v0.9h-0.9zM104.6 651.8h0.9v0.9h-0.9zM101.7 672.7h0.9v0.9h-0.9zM119.8 650.4h0.9v0.9h-0.9zM125.7 658.1h0.9v0.9h-0.9zM104.7 650.8h0.9v0.9h-0.9zM59.8 667.7h0.9v0.9h-0.9zM104.7 650.0h0.9v0.9h-0.9zM99.7 671.9h0.9v0.9h-0.9zM65.7 671.4h0.9v0.9h-0.9zM121.4 651.5h0.9v0.9h-0.9zM103.8 654.3h0.9v0.9h-0.9zM91.5 674.2h0.9v0.9h-0.9zM121.2 650.2h0.9v0.9h-0.9zM127.4 657.6h0.9v0.9h-0.9zM74.7 672.1h0.9v0.9h-0.9zM89.5 672.0h0.9v0.9h-0.9zM122.2 651.8h0.9v0.9h-0.9zM64.1 671.9h0.9v0.9h-0.9zM95.8 652.1h0.9v0.9h-0.9zM101.2 672.3h0.9v0.9h-0.9zM59.5 674.8h0.9v0.9h-0.9zM58.5 666.4h0.9v0.9h-0.9zM59.7 672.7h0.9v0.9h-0.9zM122.8 653.4h0.9v0.9h-0.9zM58.2 670.0h0.9v0.9h-0.9zM98.3 671.1h0.9v0.9h-0.9zM125.8 660.5h0.9v0.9h-0.9zM125.1 661.7h0.9v0.9h-0.9zM117.7 667.8h0.9v0.9h-0.9zM124.2 661.4h0.9v0.9h-0.9zM116.0 656.2h0.9v0.9h-0.9zM123.8 665.6h0.9v0.9h-0.9zM123.7 667.3h0.9v0.9h-0.9zM127.3 665.1h0.9v0.9h-0.9zM122.4 657.9h0.9v0.9h-0.9zM117.8 668.2h0.9v0.9h-0.9zM119.9 655.2h0.9v0.9h-0.9zM117.0 654.4h0.9v0.9h-0.9zM122.6 658.7h0.9v0.9h-0.9zM124.3 663.2h0.9v0.9h-0.9zM115.7 659.0h0.9v0.9h-0.9zM126.1 667.4h0.9v0.9h-0.9zM127.6 654.7h0.9v0.9h-0.9zM121.5 663.8h0.9v0.9h-0.9zM121.7 653.1h0.9v0.9h-0.9zM116.3 667.1h0.9v0.9h-0.9zM118.7 666.0h0.9v0.9h-0.9zM119.6 662.3h0.9v0.9h-0.9zM119.1 656.5h0.9v0.9h-0.9zM122.9 656.3h0.9v0.9h-0.9zM119.9 661.6h0.9v0.9h-0.9zM120.8 650.0h0.9v0.9h-0.9zM126.5 668.8h0.9v0.9h-0.9zM123.2 663.0h0.9v0.9h-0.9zM126.6 650.3h0.9v0.9h-0.9zM115.5 649.3h0.9v0.9h-0.9zM118.6 659.5h0.9v0.9h-0.9zM117.6 652.4h0.9v0.9h-0.9zM119.0 661.4h0.9v0.9h-0.9zM127.9 656.7h0.9v0.9h-0.9zM128.0 655.4h0.9v0.9h-0.9zM127.2 666.4h0.9v0.9h-0.9zM118.6 656.5h0.9v0.9h-0.9zM119.3 660.0h0.9v0.9h-0.9zM118.6 664.9h0.9v0.9h-0.9zM122.4 650.8h0.9v0.9h-0.9zM124.5 661.3h0.9v0.9h-0.9zM123.5 664.3h0.9v0.9h-0.9zM121.2 662.8h0.9v0.9h-0.9zM124.3 665.8h0.9v0.9h-0.9zM116.9 666.0h0.9v0.9h-0.9zM117.5 653.2h0.9v0.9h-0.9zM119.7 660.8h0.9v0.9h-0.9zM126.3 668.6h0.9v0.9h-0.9zM128.0 660.1h0.9v0.9h-0.9zM117.0 665.7h0.9v0.9h-0.9zM117.5 652.9h0.9v0.9h-0.9zM117.6 668.3h0.9v0.9h-0.9zM120.5 663.5h0.9v0.9h-0.9zM124.9 649.9h0.9v0.9h-0.9zM125.9 650.9h0.9v0.9h-0.9zM118.4 658.4h0.9v0.9h-0.9zM124.0 668.8h0.9v0.9h-0.9zM119.4 663.8h0.9v0.9h-0.9zM126.3 665.8h0.9v0.9h-0.9zM124.0 661.7h0.9v0.9h-0.9zM126.4 665.9h0.9v0.9h-0.9zM115.9 653.9h0.9v0.9h-0.9zM126.5 664.1h0.9v0.9h-0.9zM122.1 649.9h0.9v0.9h-0.9zM123.6 666.8h0.9v0.9h-0.9zM125.0 658.1h0.9v0.9h-0.9zM123.7 653.1h0.9v0.9h-0.9zM118.0 658.4h0.9v0.9h-0.9zM124.2 667.6h0.9v0.9h-0.9zM123.0 656.9h0.9v0.9h-0.9zM123.2 662.0h0.9v0.9h-0.9zM121.0 668.1h0.9v0.9h-0.9zM125.4 666.7h0.9v0.9h-0.9zM116.2 649.0h0.9v0.9h-0.9zM117.8 668.5h0.9v0.9h-0.9zM120.5 666.0h0.9v0.9h-0.9zM121.1 652.7h0.9v0.9h-0.9zM116.1 669.1h0.9v0.9h-0.9zM120.2 658.7h0.9v0.9h-0.9zM117.4 654.6h0.9v0.9h-0.9zM121.1 652.8h0.9v0.9h-0.9zM122.9 654.3h0.9v0.9h-0.9zM125.4 657.4h0.9v0.9h-0.9zM126.6 657.7h0.9v0.9h-0.9zM126.6 666.7h0.9v0.9h-0.9zM122.8 667.0h0.9v0.9h-0.9zM120.2 654.1h0.9v0.9h-0.9zM116.0 654.2h0.9v0.9h-0.9zM122.2 663.5h0.9v0.9h-0.9zM126.1 666.5h0.9v0.9h-0.9zM117.3 660.7h0.9v0.9h-0.9zM121.2 650.3h0.9v0.9h-0.9zM118.9 664.0h0.9v0.9h-0.9zM119.3 665.5h0.9v0.9h-0.9zM120.2 656.8h0.9v0.9h-0.9zM117.3 657.8h0.9v0.9h-0.9zM122.5 650.4h0.9v0.9h-0.9zM120.8 656.3h0.9v0.9h-0.9zM121.7 658.7h0.9v0.9h-0.9zM115.8 649.9h0.9v0.9h-0.9zM121.8 662.2h0.9v0.9h-0.9zM123.2 659.5h0.9v0.9h-0.9zM122.9 654.2h0.9v0.9h-0.9zM118.7 668.2h0.9v0.9h-0.9zM124.7 669.2h0.9v0.9h-0.9zM118.8 661.4h0.9v0.9h-0.9zM119.0 658.6h0.9v0.9h-0.9zM118.8 652.5h0.9v0.9h-0.9zM123.5 662.4h0.9v0.9h-0.9zM127.3 654.4h0.9v0.9h-0.9zM124.7 652.2h0.9v0.9h-0.9zM118.3 669.0h0.9v0.9h-0.9zM117.3 658.4h0.9v0.9h-0.9zM124.5 656.3h0.9v0.9h-0.9zM123.7 665.3h0.9v0.9h-0.9zM125.5 652.4h0.9v0.9h-0.9zM123.5 653.7h0.9v0.9h-0.9zM126.3 660.9h0.9v0.9h-0.9zM120.8 663.8h0.9v0.9h-0.9zM123.5 650.1h0.9v0.9h-0.9zM117.7 661.9h0.9v0.9h-0.9zM128.1 664.6h0.9v0.9h-0.9zM123.4 660.0h0.9v0.9h-0.9zM121.6 660.1h0.9v0.9h-0.9zM127.9 665.7h0.9v0.9h-0.9zM123.3 655.0h0.9v0.9h-0.9zM115.8 652.4h0.9v0.9h-0.9zM126.6 653.6h0.9v0.9h-0.9zM127.4 662.6h0.9v0.9h-0.9zM125.1 659.4h0.9v0.9h-0.9zM120.5 650.3h0.9v0.9h-0.9zM115.6 649.7h0.9v0.9h-0.9zM117.3 665.3h0.9v0.9h-0.9zM121.6 657.3h0.9v0.9h-0.9zM121.8 663.3h0.9v0.9h-0.9zM119.8 659.7h0.9v0.9h-0.9zM127.3 662.9h0.9v0.9h-0.9zM120.7 656.1h0.9v0.9h-0.9zM119.5 651.1h0.9v0.9h-0.9zM117.1 654.9h0.9v0.9h-0.9z" fill="#2a2aff" fill-opacity="0.8"/>
<rect x="47.4" y="587.6" width="169.7" height="91.5" fill="none" stroke="#555" stroke-width="1.0"/>
<line x1="128.5" y1="587.6" x2="128.5" y2="679.1" stroke="#666" stroke-width="1.0"/>
<line x1="47.4" y1="648.0" x2="217.1" y2="648.0" stroke="#666" stroke-width="1.0"/>
<path d="M42.9 596.4755h4.5M44.9 598.7h2.5M44.9 600.9h2.5M44.9 603.1h2.5M44.9 605.3h2.5M44.9 607.5h2.5M44.9 609.7h2.5M44.9 611.9h2.5M42.9 616.88h4.5M44.9 619.1h2.5M44.9 621.3h2.5M44.9 623.5h2.5M44.9 625.7h2.5M44.9 627.9h2.5M44.9 630.1h2.5M44.9 632.3h2.5M42.9 637.2845h4.5M44.9 639.5h2.5M44.9 641.7h2.5M44.9 643.9h2.5M44.9 646.1h2.5M44.9 648.3h2.5M44.9 650.5h2.5M44.9 652.7h2.5M42.9 657.7805000000001h4.5M44.9 660.0h2.5M44.9 662.2h2.5M44.9 664.4h2.5M44.9 666.6h2.5M44.9 668.8h2.5M44.9 671.0h2.5M44.9 673.2h2.5M42.9 670.6h4.5M44.9 672.8h2.5M44.9 675.0h2.5M44.9 677.2h2.5M42.9 679.1h4.5" stroke="#555" stroke-width="0.75" fill="none"/>
<path d="M49.4 679.1v4.5M52.0 679.1v2.5M54.6 679.1v2.5M57.2 679.1v2.5M59.8 679.1v2.5M62.4 679.1v2.5M65.0 679.1v2.5M67.6 679.1v2.5M59.4 679.1v4.5M62.0 679.1v2.5M64.6 679.1v2.5M67.2 679.1v2.5M69.8 679.1v2.5M72.4 679.1v2.5M75.0 679.1v2.5M77.6 679.1v2.5M83.4 679.1v4.5M86.0 679.1v2.5M88.6 679.1v2.5M91.2 679.1v2.5M93.8 679.1v2.5M96.4 679.1v2.5M99.0 679.1v2.5M101.6 679.1v2.5M125.5 679.1v4.5M128.1 679.1v2.5M130.7 679.1v2.5M133.3 679.1v2.5M135.9 679.1v2.5M138.5 679.1v2.5M141.1 679.1v2.5M143.7 679.1v2.5M161.5 679.1v4.5M164.1 679.1v2.5M166.7 679.1v2.5M169.3 679.1v2.5M171.9 679.1v2.5M174.5 679.1v2.5M177.1 679.1v2.5M179.7 679.1v2.5M200.1 679.1v4.5M202.7 679.1v2.5M205.3 679.1v2.5M207.9 679.1v2.5M210.5 679.1v2.5M213.1 679.1v2.5M215.7 679.1v2.5" stroke="#555" stroke-width="0.75" fill="none"/>
<text x="59.4" y="689.6" font-size="4.8" text-anchor="middle" font-weight="normal" fill="#333" stroke="#333" stroke-width="0">0</text>
<text x="83.4" y="689.6" font-size="4.8" text-anchor="middle" font-weight="normal" fill="#333" stroke="#333" stroke-width="0">10²</text>
<text x="125.5" y="689.6" font-size="4.8" text-anchor="middle" font-weight="normal" fill="#333" stroke="#333" stroke-width="0">10³</text>
<text x="161.5" y="689.6" font-size="4.8" text-anchor="middle" font-weight="normal" fill="#333" stroke="#333" stroke-width="0">10⁴</text>
<text x="200.1" y="689.6" font-size="4.8" text-anchor="middle" font-weight="normal" fill="#333" stroke="#333" stroke-width="0">10⁵</text>
<text x="46.4" y="691.1" font-size="4.4" text-anchor="middle" font-weight="normal" fill="#333" stroke="#333" stroke-width="0">-48</text>
<text x="39.9" y="596.4755" font-size="4.8" text-anchor="middle" font-weight="normal" fill="#333" stroke="#333" stroke-width="0" transform="rotate(-90 39.9 596.4755)">10⁵</text>
<text x="39.9" y="616.88" font-size="4.8" text-anchor="middle" font-weight="normal" fill="#333" stroke="#333" stroke-width="0" transform="rotate(-90 39.9 616.88)">10⁴</text>
<text x="39.9" y="637.2845" font-size="4.8" text-anchor="middle" font-weight="normal" fill="#333" stroke="#333" stroke-width="0" transform="rotate(-90 39.9 637.2845)">10³</text>
<text x="39.9" y="657.7805000000001" font-size="4.8" text-anchor="middle" font-weight="normal" fill="#333" stroke="#333" stroke-width="0" transform="rotate(-90 39.9 657.7805000000001)">10²</text>
<text x="39.9" y="670.6" font-size="4.8" text-anchor="middle" font-weight="normal" fill="#333" stroke="#333" stroke-width="0" transform="rotate(-90 39.9 670.6)">0</text>
<text x="39.9" y="679.1" font-size="4.8" text-anchor="middle" font-weight="normal" fill="#333" stroke="#333" stroke-width="0" transform="rotate(-90 39.9 679.1)">-62</text>
<text x="50.0" y="597.2" font-size="9.5" text-anchor="start" font-weight="bold" fill="#222" stroke="#222" stroke-width="0.28">dead</text>
<text x="50.0" y="610.0" font-size="9.5" text-anchor="start" font-weight="bold" fill="#222" stroke="#222" stroke-width="0.28">0.5%</text>
<text x="214.7" y="597.2" font-size="9.5" text-anchor="end" font-weight="bold" fill="#222" stroke="#222" stroke-width="0.28">late apoptotic</text>
<text x="211.1" y="610.0" font-size="9.5" text-anchor="end" font-weight="bold" fill="#222" stroke="#222" stroke-width="0.28">1.3%</text>
<text x="50.0" y="658.8" font-size="9.5" text-anchor="start" font-weight="bold" fill="#222" stroke="#222" stroke-width="0.28">96.2%</text>
<text x="211.1" y="658.8" font-size="9.5" text-anchor="end" font-weight="bold" fill="#222" stroke="#222" stroke-width="0.28">2.0%</text>
<text x="50.0" y="677.9" font-size="9.5" text-anchor="start" font-weight="bold" fill="#222" stroke="#222" stroke-width="0.28">live</text>
<text x="214.7" y="675.5" font-size="9.5" text-anchor="end" font-weight="bold" fill="#222" stroke="#222" stroke-width="0.28">early apoptotic</text>
<text x="129.9" y="699.7" font-size="9.8" text-anchor="middle" font-weight="bold" fill="#222" stroke="#222" stroke-width="0.28">FITC</text>
<path d="M341.1 521.7h0.9v0.9h-0.9zM330.3 526.2h0.9v0.9h-0.9zM337.4 513.0h0.9v0.9h-0.9zM360.0 502.7h0.9v0.9h-0.9zM339.6 518.8h0.9v0.9h-0.9zM351.9 506.1h0.9v0.9h-0.9zM346.3 502.6h0.9v0.9h-0.9zM336.2 512.4h0.9v0.9h-0.9zM338.3 512.1h0.9v0.9h-0.9zM340.8 503.2h0.9v0.9h-0.9zM339.3 515.5h0.9v0.9h-0.9zM348.0 502.6h0.9v0.9h-0.9zM335.9 501.2h0.9v0.9h-0.9zM334.8 500.6h0.9v0.9h-0.9zM343.5 509.0h0.9v0.9h-0.9zM344.9 514.3h0.9v0.9h-0.9zM351.1 505.2h0.9v0.9h-0.9zM333.9 512.6h0.9v0.9h-0.9zM329.7 519.1h0.9v0.9h-0.9zM331.8 525.9h0.9v0.9h-0.9zM330.1 504.1h0.9v0.9h-0.9zM360.1 484.2h0.9v0.9h-0.9zM337.1 511.3h0.9v0.9h-0.9zM357.5 488.7h0.9v0.9h-0.9zM351.4 501.4h0.9v0.9h-0.9zM338.5 509.4h0.9v0.9h-0.9zM346.8 501.1h0.9v0.9h-0.9zM339.3 516.3h0.9v0.9h-0.9zM359.4 484.6h0.9v0.9h-0.9zM356.1 510.7h0.9v0.9h-0.9zM335.0 518.5h0.9v0.9h-0.9zM335.2 528.1h0.9v0.9h-0.9zM342.3 510.4h0.9v0.9h-0.9zM337.7 513.3h0.9v0.9h-0.9zM338.2 508.0h0.9v0.9h-0.9zM361.7 486.8h0.9v0.9h-0.9zM338.6 516.9h0.9v0.9h-0.9zM338.0 513.5h0.9v0.9h-0.9zM343.6 518.2h0.9v0.9h-0.9zM335.4 513.4h0.9v0.9h-0.9zM360.5 505.1h0.9v0.9h-0.9zM348.2 504.3h0.9v0.9h-0.9zM327.8 522.7h0.9v0.9h-0.9zM331.4 510.8h0.9v0.9h-0.9zM351.7 503.3h0.9v0.9h-0.9zM340.8 519.0h0.9v0.9h-0.9zM352.7 504.7h0.9v0.9h-0.9zM338.6 513.9h0.9v0.9h-0.9zM328.2 525.1h0.9v0.9h-0.9zM354.5 506.1h0.9v0.9h-0.9zM337.6 512.9h0.9v0.9h-0.9zM331.9 512.3h0.9v0.9h-0.9zM335.9 509.7h0.9v0.9h-0.9zM335.5 504.6h0.9v0.9h-0.9zM343.8 511.5h0.9v0.9h-0.9zM328.0 503.8h0.9v0.9h-0.9zM340.0 521.3h0.9v0.9h-0.9zM332.4 514.3h0.9v0.9h-0.9zM334.1 521.5h0.9v0.9h-0.9zM330.5 526.1h0.9v0.9h-0.9zM336.9 521.8h0.9v0.9h-0.9zM340.4 511.4h0.9v0.9h-0.9zM337.4 519.7h0.9v0.9h-0.9zM342.7 506.8h0.9v0.9h-0.9zM344.4 517.9h0.9v0.9h-0.9zM338.5 511.0h0.9v0.9h-0.9zM336.0 521.6h0.9v0.9h-0.9zM345.8 503.3h0.9v0.9h-0.9zM344.0 507.5h0.9v0.9h-0.9zM332.2 526.9h0.9v0.9h-0.9zM348.7 503.0h0.9v0.9h-0.9zM340.9 516.4h0.9v0.9h-0.9zM333.4 516.4h0.9v0.9h-0.9zM347.1 496.3h0.9v0.9h-0.9zM343.5 516.6h0.9v0.9h-0.9zM345.4 500.5h0.9v0.9h-0.9zM343.4 505.1h0.9v0.9h-0.9zM346.1 514.1h0.9v0.9h-0.9zM342.4 506.4h0.9v0.9h-0.9zM333.9 523.1h0.9v0.9h-0.9zM330.7 522.4h0.9v0.9h-0.9zM345.5 508.1h0.9v0.9h-0.9zM365.2 499.0h0.9v0.9h-0.9zM362.6 485.5h0.9v0.9h-0.9zM346.8 507.1h0.9v0.9h-0.9zM339.5 499.9h0.9v0.9h-0.9zM333.5 509.7h0.9v0.9h-0.9zM337.8 521.1h0.9v0.9h-0.9zM340.7 515.7h0.9v0.9h-0.9zM332.8 514.5h0.9v0.9h-0.9zM341.3 510.6h0.9v0.9h-0.9zM353.4 499.2h0.9v0.9h-0.9zM360.0 494.5h0.9v0.9h-0.9zM351.2 501.2h0.9v0.9h-0.9zM357.4 504.1h0.9v0.9h-0.9zM344.3 516.2h0.9v0.9h-0.9zM333.4 509.7h0.9v0.9h-0.9zM332.8 513.3h0.9v0.9h-0.9zM339.8 527.8h0.9v0.9h-0.9zM335.9 519.6h0.9v0.9h-0.9zM348.9 519.4h0.9v0.9h-0.9zM356.9 497.3h0.9v0.9h-0.9zM340.7 512.2h0.9v0.9h-0.9zM348.0 510.4h0.9v0.9h-0.9zM338.6 523.0h0.9v0.9h-0.9zM329.6 523.3h0.9v0.9h-0.9zM340.2 512.8h0.9v0.9h-0.9zM345.2 511.5h0.9v0.9h-0.9zM342.9 513.6h0.9v0.9h-0.9zM360.5 499.1h0.9v0.9h-0.9zM350.7 511.4h0.9v0.9h-0.9zM336.4 521.2h0.9v0.9h-0.9zM331.1 527.0h0.9v0.9h-0.9zM331.6 514.8h0.9v0.9h-0.9zM343.5 517.3h0.9v0.9h-0.9zM349.6 514.1h0.9v0.9h-0.9zM337.9 507.7h0.9v0.9h-0.9zM345.9 512.1h0.9v0.9h-0.9zM330.1 526.2h0.9v0.9h-0.9zM342.2 505.2h0.9v0.9h-0.9zM344.7 501.0h0.9v0.9h-0.9zM330.9 521.6h0.9v0.9h-0.9zM332.5 519.1h0.9v0.9h-0.9zM350.0 510.8h0.9v0.9h-0.9zM349.5 505.1h0.9v0.9h-0.9zM355.0 496.9h0.9v0.9h-0.9zM339.2 521.9h0.9v0.9h-0.9zM353.9 514.5h0.9v0.9h-0.9zM328.6 507.2h0.9v0.9h-0.9zM344.2 500.5h0.9v0.9h-0.9zM338.7 504.9h0.9v0.9h-0.9zM351.2 512.5h0.9v0.9h-0.9zM345.9 510.0h0.9v0.9h-0.9zM340.6 510.9h0.9v0.9h-0.9zM344.1 512.7h0.9v0.9h-0.9zM344.9 507.4h0.9v0.9h-0.9zM360.0 503.6h0.9v0.9h-0.9zM354.7 514.3h0.9v0.9h-0.9zM330.9 506.6h0.9v0.9h-0.9zM353.3 502.7h0.9v0.9h-0.9zM341.0 510.9h0.9v0.9h-0.9zM341.5 503.9h0.9v0.9h-0.9zM339.0 510.6h0.9v0.9h-0.9zM339.9 496.5h0.9v0.9h-0.9zM348.7 510.6h0.9v0.9h-0.9zM340.4 517.6h0.9v0.9h-0.9zM340.1 523.3h0.9v0.9h-0.9zM340.3 505.9h0.9v0.9h-0.9zM333.0 522.8h0.9v0.9h-0.9zM333.7 523.2h0.9v0.9h-0.9zM350.8 511.2h0.9v0.9h-0.9zM350.8 505.8h0.9v0.9h-0.9zM340.0 509.1h0.9v0.9h-0.9zM333.7 505.8h0.9v0.9h-0.9zM334.3 509.0h0.9v0.9h-0.9zM344.9 508.0h0.9v0.9h-0.9zM354.5 511.6h0.9v0.9h-0.9zM351.1 502.5h0.9v0.9h-0.9zM343.3 516.6h0.9v0.9h-0.9zM344.5 519.8h0.9v0.9h-0.9zM337.1 519.9h0.9v0.9h-0.9zM330.7 502.2h0.9v0.9h-0.9zM335.4 526.9h0.9v0.9h-0.9zM333.0 514.6h0.9v0.9h-0.9zM340.6 514.6h0.9v0.9h-0.9zM329.9 520.2h0.9v0.9h-0.9zM344.8 516.6h0.9v0.9h-0.9zM360.1 519.0h0.9v0.9h-0.9zM345.9 501.6h0.9v0.9h-0.9zM346.7 503.7h0.9v0.9h-0.9zM337.4 496.7h0.9v0.9h-0.9zM332.7 518.7h0.9v0.9h-0.9zM341.7 523.8h0.9v0.9h-0.9zM328.1 504.1h0.9v0.9h-0.9zM344.8 506.2h0.9v0.9h-0.9zM343.1 516.7h0.9v0.9h-0.9zM346.4 520.0h0.9v0.9h-0.9zM354.3 492.9h0.9v0.9h-0.9zM339.4 528.1h0.9v0.9h-0.9zM335.8 522.8h0.9v0.9h-0.9zM339.5 510.6h0.9v0.9h-0.9zM356.7 511.0h0.9v0.9h-0.9zM337.5 521.4h0.9v0.9h-0.9zM349.6 508.0h0.9v0.9h-0.9zM328.9 523.1h0.9v0.9h-0.9zM343.6 520.5h0.9v0.9h-0.9zM350.1 505.4h0.9v0.9h-0.9zM335.0 515.3h0.9v0.9h-0.9zM337.7 525.3h0.9v0.9h-0.9zM356.8 513.3h0.9v0.9h-0.9zM344.1 509.2h0.9v0.9h-0.9zM349.6 505.2h0.9v0.9h-0.9zM342.6 499.8h0.9v0.9h-0.9zM335.7 526.3h0.9v0.9h-0.9zM329.3 508.9h0.9v0.9h-0.9zM338.4 526.3h0.9v0.9h-0.9zM355.3 501.7h0.9v0.9h-0.9zM335.1 515.5h0.9v0.9h-0.9zM330.3 519.3h0.9v0.9h-0.9zM336.9 504.5h0.9v0.9h-0.9zM334.0 515.0h0.9v0.9h-0.9zM331.1 510.5h0.9v0.9h-0.9zM349.6 521.4h0.9v0.9h-0.9zM337.1 512.0h0.9v0.9h-0.9zM345.4 508.5h0.9v0.9h-0.9zM331.9 528.2h0.9v0.9h-0.9zM329.2 514.5h0.9v0.9h-0.9zM333.1 511.0h0.9v0.9h-0.9zM337.6 518.9h0.9v0.9h-0.9zM355.2 509.2h0.9v0.9h-0.9zM340.5 504.0h0.9v0.9h-0.9zM339.5 506.9h0.9v0.9h-0.9zM339.1 521.0h0.9v0.9h-0.9zM342.2 510.5h0.9v0.9h-0.9zM332.2 517.8h0.9v0.9h-0.9zM341.3 505.9h0.9v0.9h-0.9zM334.8 522.8h0.9v0.9h-0.9zM346.5 513.3h0.9v0.9h-0.9zM344.3 512.9h0.9v0.9h-0.9zM343.2 500.1h0.9v0.9h-0.9zM342.8 516.0h0.9v0.9h-0.9zM347.1 498.2h0.9v0.9h-0.9zM335.1 514.0h0.9v0.9h-0.9zM334.6 519.4h0.9v0.9h-0.9zM342.5 517.1h0.9v0.9h-0.9zM340.6 511.2h0.9v0.9h-0.9zM347.4 494.7h0.9v0.9h-0.9zM349.9 505.3h0.9v0.9h-0.9zM336.7 509.7h0.9v0.9h-0.9zM347.8 502.4h0.9v0.9h-0.9zM358.1 502.9h0.9v0.9h-0.9zM333.7 509.9h0.9v0.9h-0.9zM328.6 518.9h0.9v0.9h-0.9zM344.6 519.0h0.9v0.9h-0.9zM352.1 508.2h0.9v0.9h-0.9z" fill="#48cc48" fill-opacity="0.85"/>
<path d="M328.8 522.7h0.9v0.9h-0.9zM332.6 524.3h0.9v0.9h-0.9zM332.4 521.3h0.9v0.9h-0.9zM334.2 526.2h0.9v0.9h-0.9zM331.2 526.5h0.9v0.9h-0.9zM330.5 523.8h0.9v0.9h-0.9zM334.1 522.1h0.9v0.9h-0.9zM336.1 523.2h0.9v0.9h-0.9zM330.9 522.6h0.9v0.9h-0.9zM333.9 518.8h0.9v0.9h-0.9zM333.5 522.8h0.9v0.9h-0.9zM331.3 521.8h0.9v0.9h-0.9zM331.9 525.9h0.9v0.9h-0.9zM333.2 526.2h0.9v0.9h-0.9zM333.3 528.3h0.9v0.9h-0.9zM329.7 521.8h0.9v0.9h-0.9zM331.3 522.3h0.9v0.9h-0.9zM330.5 522.5h0.9v0.9h-0.9zM328.1 528.0h0.9v0.9h-0.9zM329.1 524.1h0.9v0.9h-0.9zM333.5 525.3h0.9v0.9h-0.9zM331.5 523.7h0.9v0.9h-0.9zM328.9 525.8h0.9v0.9h-0.9zM331.6 527.1h0.9v0.9h-0.9zM329.4 526.3h0.9v0.9h-0.9zM332.8 525.5h0.9v0.9h-0.9zM331.8 525.5h0.9v0.9h-0.9zM327.7 526.3h0.9v0.9h-0.9zM330.8 524.4h0.9v0.9h-0.9zM328.2 527.0h0.9v0.9h-0.9zM340.1 526.6h0.9v0.9h-0.9zM331.4 526.6h0.9v0.9h-0.9zM329.0 525.6h0.9v0.9h-0.9zM328.8 523.4h0.9v0.9h-0.9zM331.9 526.0h0.9v0.9h-0.9zM330.7 522.9h0.9v0.9h-0.9zM332.0 522.0h0.9v0.9h-0.9zM333.8 524.3h0.9v0.9h-0.9zM331.1 527.7h0.9v0.9h-0.9zM333.0 521.4h0.9v0.9h-0.9zM330.2 526.4h0.9v0.9h-0.9zM327.3 518.1h0.9v0.9h-0.9zM330.8 525.2h0.9v0.9h-0.9zM332.6 525.5h0.9v0.9h-0.9zM331.6 526.0h0.9v0.9h-0.9zM335.9 526.8h0.9v0.9h-0.9zM333.0 524.1h0.9v0.9h-0.9zM335.0 524.7h0.9v0.9h-0.9zM333.7 519.0h0.9v0.9h-0.9zM332.0 525.0h0.9v0.9h-0.9zM332.5 524.9h0.9v0.9h-0.9zM333.7 527.3h0.9v0.9h-0.9zM333.1 524.5h0.9v0.9h-0.9zM330.7 520.4h0.9v0.9h-0.9zM333.4 522.0h0.9v0.9h-0.9zM334.0 524.0h0.9v0.9h-0.9zM328.9 526.4h0.9v0.9h-0.9zM331.8 521.9h0.9v0.9h-0.9zM330.8 527.1h0.9v0.9h-0.9zM330.2 521.3h0.9v0.9h-0.9z" fill="#40c840" fill-opacity="0.9"/>
<path d="M334.3 538.9h0.9v0.9h-0.9zM332.4 545.0h0.9v0.9h-0.9zM335.3 543.9h0.9v0.9h-0.9zM334.5 542.5h0.9v0.9h-0.9zM336.5 557.8h0.9v0.9h-0.9zM328.5 533.8h0.9v0.9h-0.9zM339.8 541.0h0.9v0.9h-0.9zM342.7 540.3h0.9v0.9h-0.9zM332.9 550.2h0.9v0.9h-0.9zM340.6 549.0h0.9v0.9h-0.9zM338.1 544.9h0.9v0.9h-0.9zM333.2 543.6h0.9v0.9h-0.9zM342.6 551.1h0.9v0.9h-0.9zM335.7 547.3h0.9v0.9h-0.9zM340.1 553.7h0.9v0.9h-0.9zM334.9 544.7h0.9v0.9h-0.9zM336.9 553.7h0.9v0.9h-0.9zM327.2 549.2h0.9v0.9h-0.9zM327.9 537.0h0.9v0.9h-0.9zM332.1 543.8h0.9v0.9h-0.9zM336.6 547.8h0.9v0.9h-0.9zM336.8 542.7h0.9v0.9h-0.9zM349.8 550.3h0.9v0.9h-0.9zM339.2 558.9h0.9v0.9h-0.9zM340.9 549.9h0.9v0.9h-0.9zM337.4 557.5h0.9v0.9h-0.9zM329.7 538.1h0.9v0.9h-0.9zM336.4 532.5h0.9v0.9h-0.9zM331.4 551.7h0.9v0.9h-0.9zM333.1 545.9h0.9v0.9h-0.9zM339.4 538.5h0.9v0.9h-0.9zM337.1 541.6h0.9v0.9h-0.9zM329.6 542.5h0.9v0.9h-0.9zM335.3 542.7h0.9v0.9h-0.9zM332.0 550.8h0.9v0.9h-0.9zM341.9 550.0h0.9v0.9h-0.9zM335.1 538.5h0.9v0.9h-0.9zM331.1 537.5h0.9v0.9h-0.9zM336.7 551.3h0.9v0.9h-0.9zM340.6 546.0h0.9v0.9h-0.9zM333.5 546.1h0.9v0.9h-0.9zM336.3 549.2h0.9v0.9h-0.9zM343.6 542.4h0.9v0.9h-0.9zM347.0 534.0h0.9v0.9h-0.9zM330.0 542.8h0.9v0.9h-0.9zM346.9 542.8h0.9v0.9h-0.9zM341.6 544.1h0.9v0.9h-0.9zM336.4 538.9h0.9v0.9h-0.9zM348.0 547.2h0.9v0.9h-0.9zM332.2 559.2h0.9v0.9h-0.9zM336.6 548.1h0.9v0.9h-0.9zM334.8 539.9h0.9v0.9h-0.9zM327.8 542.8h0.9v0.9h-0.9zM344.4 549.5h0.9v0.9h-0.9zM334.6 551.9h0.9v0.9h-0.9zM330.5 553.2h0.9v0.9h-0.9zM335.5 540.0h0.9v0.9h-0.9zM339.3 549.2h0.9v0.9h-0.9zM333.7 546.3h0.9v0.9h-0.9zM340.9 555.2h0.9v0.9h-0.9zM346.7 545.6h0.9v0.9h-0.9zM333.3 547.6h0.9v0.9h-0.9zM333.3 551.5h0.9v0.9h-0.9zM328.8 542.8h0.9v0.9h-0.9zM328.8 553.8h0.9v0.9h-0.9zM334.3 552.1h0.9v0.9h-0.9zM343.2 539.0h0.9v0.9h-0.9zM334.4 549.7h0.9v0.9h-0.9zM335.9 544.5h0.9v0.9h-0.9zM340.2 551.9h0.9v0.9h-0.9zM332.4 543.9h0.9v0.9h-0.9zM339.1 547.3h0.9v0.9h-0.9zM336.4 538.3h0.9v0.9h-0.9zM345.2 545.5h0.9v0.9h-0.9zM337.1 545.3h0.9v0.9h-0.9zM336.0 546.3h0.9v0.9h-0.9zM331.0 546.9h0.9v0.9h-0.9zM342.2 549.0h0.9v0.9h-0.9zM339.6 549.1h0.9v0.9h-0.9zM335.8 556.9h0.9v0.9h-0.9zM331.9 547.1h0.9v0.9h-0.9zM341.2 548.2h0.9v0.9h-0.9zM329.9 537.4h0.9v0.9h-0.9zM344.1 540.7h0.9v0.9h-0.9zM335.6 548.8h0.9v0.9h-0.9zM336.1 534.1h0.9v0.9h-0.9zM331.4 542.9h0.9v0.9h-0.9zM336.1 546.4h0.9v0.9h-0.9zM328.3 533.3h0.9v0.9h-0.9zM340.7 542.2h0.9v0.9h-0.9zM329.2 531.4h0.9v0.9h-0.9zM338.5 537.8h0.9v0.9h-0.9zM329.9 548.3h0.9v0.9h-0.9zM337.3 549.2h0.9v0.9h-0.9zM330.2 542.4h0.9v0.9h-0.9zM332.0 550.3h0.9v0.9h-0.9zM337.6 539.0h0.9v0.9h-0.9zM338.7 544.9h0.9v0.9h-0.9zM332.9 552.0h0.9v0.9h-0.9zM341.6 533.2h0.9v0.9h-0.9zM334.6 544.1h0.9v0.9h-0.9zM329.4 540.5h0.9v0.9h-0.9zM331.2 544.9h0.9v0.9h-0.9zM332.5 531.1h0.9v0.9h-0.9zM342.1 552.2h0.9v0.9h-0.9zM331.0 550.1h0.9v0.9h-0.9zM346.7 537.3h0.9v0.9h-0.9zM333.4 541.6h0.9v0.9h-0.9zM338.7 543.9h0.9v0.9h-0.9zM327.9 552.0h0.9v0.9h-0.9zM333.8 549.7h0.9v0.9h-0.9zM348.1 542.8h0.9v0.9h-0.9zM333.3 550.7h0.9v0.9h-0.9zM335.0 548.5h0.9v0.9h-0.9zM339.1 548.1h0.9v0.9h-0.9zM336.3 547.9h0.9v0.9h-0.9zM339.7 538.3h0.9v0.9h-0.9zM335.8 544.7h0.9v0.9h-0.9zM339.5 548.1h0.9v0.9h-0.9zM331.3 545.1h0.9v0.9h-0.9zM334.0 544.4h0.9v0.9h-0.9zM343.0 557.6h0.9v0.9h-0.9zM332.0 536.4h0.9v0.9h-0.9zM336.8 547.2h0.9v0.9h-0.9zM335.8 541.3h0.9v0.9h-0.9zM339.4 557.1h0.9v0.9h-0.9zM336.8 544.1h0.9v0.9h-0.9zM342.2 544.5h0.9v0.9h-0.9zM333.7 547.0h0.9v0.9h-0.9zM335.0 548.5h0.9v0.9h-0.9zM337.4 548.3h0.9v0.9h-0.9zM328.3 555.4h0.9v0.9h-0.9zM338.8 547.8h0.9v0.9h-0.9zM353.0 540.2h0.9v0.9h-0.9zM339.7 545.4h0.9v0.9h-0.9zM327.4 556.3h0.9v0.9h-0.9zM335.2 546.5h0.9v0.9h-0.9zM330.4 553.2h0.9v0.9h-0.9zM337.0 537.4h0.9v0.9h-0.9zM328.9 545.9h0.9v0.9h-0.9zM329.2 547.0h0.9v0.9h-0.9zM337.4 541.9h0.9v0.9h-0.9zM337.6 542.4h0.9v0.9h-0.9zM345.9 544.3h0.9v0.9h-0.9zM337.7 550.1h0.9v0.9h-0.9zM336.1 547.4h0.9v0.9h-0.9zM341.2 545.4h0.9v0.9h-0.9zM337.5 543.4h0.9v0.9h-0.9zM346.7 548.4h0.9v0.9h-0.9zM333.0 537.6h0.9v0.9h-0.9zM335.8 542.5h0.9v0.9h-0.9zM329.9 542.5h0.9v0.9h-0.9zM340.1 553.0h0.9v0.9h-0.9zM332.7 551.6h0.9v0.9h-0.9zM332.2 548.7h0.9v0.9h-0.9zM330.9 551.2h0.9v0.9h-0.9zM348.4 545.7h0.9v0.9h-0.9zM342.4 537.2h0.9v0.9h-0.9zM335.3 548.5h0.9v0.9h-0.9zM331.3 552.3h0.9v0.9h-0.9zM329.6 546.4h0.9v0.9h-0.9zM342.3 545.8h0.9v0.9h-0.9zM328.5 547.2h0.9v0.9h-0.9zM340.9 549.1h0.9v0.9h-0.9zM341.1 537.2h0.9v0.9h-0.9zM345.7 551.7h0.9v0.9h-0.9zM333.0 548.2h0.9v0.9h-0.9zM334.3 539.2h0.9v0.9h-0.9zM333.6 552.2h0.9v0.9h-0.9zM331.3 548.2h0.9v0.9h-0.9zM329.1 533.5h0.9v0.9h-0.9zM332.9 543.0h0.9v0.9h-0.9zM336.6 551.6h0.9v0.9h-0.9zM333.3 542.6h0.9v0.9h-0.9zM339.8 548.8h0.9v0.9h-0.9zM335.3 546.8h0.9v0.9h-0.9zM340.6 535.4h0.9v0.9h-0.9zM340.7 542.6h0.9v0.9h-0.9zM334.5 542.1h0.9v0.9h-0.9zM339.5 541.7h0.9v0.9h-0.9zM334.8 549.2h0.9v0.9h-0.9zM338.9 538.1h0.9v0.9h-0.9zM336.7 546.3h0.9v0.9h-0.9zM335.2 545.9h0.9v0.9h-0.9zM337.3 542.1h0.9v0.9h-0.9zM334.8 551.5h0.9v0.9h-0.9zM329.8 543.8h0.9v0.9h-0.9zM330.0 537.5h0.9v0.9h-0.9zM333.3 546.0h0.9v0.9h-0.9zM344.0 545.5h0.9v0.9h-0.9zM340.7 549.7h0.9v0.9h-0.9zM336.3 545.8h0.9v0.9h-0.9zM329.9 545.1h0.9v0.9h-0.9zM343.7 539.3h0.9v0.9h-0.9zM332.8 550.6h0.9v0.9h-0.9zM337.2 551.7h0.9v0.9h-0.9zM342.3 551.3h0.9v0.9h-0.9zM348.3 550.0h0.9v0.9h-0.9zM328.5 542.8h0.9v0.9h-0.9zM339.0 548.3h0.9v0.9h-0.9zM331.2 543.2h0.9v0.9h-0.9zM343.6 545.7h0.9v0.9h-0.9zM332.0 543.9h0.9v0.9h-0.9zM332.1 557.8h0.9v0.9h-0.9zM340.1 552.0h0.9v0.9h-0.9zM331.8 540.5h0.9v0.9h-0.9zM337.0 531.5h0.9v0.9h-0.9zM341.2 538.1h0.9v0.9h-0.9zM336.2 547.6h0.9v0.9h-0.9zM331.3 546.8h0.9v0.9h-0.9zM339.4 558.2h0.9v0.9h-0.9zM337.8 557.4h0.9v0.9h-0.9zM338.2 544.5h0.9v0.9h-0.9zM340.3 542.8h0.9v0.9h-0.9zM336.4 549.5h0.9v0.9h-0.9zM341.9 548.2h0.9v0.9h-0.9zM327.6 552.2h0.9v0.9h-0.9zM336.5 543.6h0.9v0.9h-0.9zM331.2 548.2h0.9v0.9h-0.9zM337.4 550.0h0.9v0.9h-0.9zM334.9 555.0h0.9v0.9h-0.9zM334.2 547.7h0.9v0.9h-0.9zM336.7 552.3h0.9v0.9h-0.9zM331.8 542.7h0.9v0.9h-0.9zM334.4 540.8h0.9v0.9h-0.9zM332.0 536.9h0.9v0.9h-0.9zM339.7 555.6h0.9v0.9h-0.9zM330.2 549.3h0.9v0.9h-0.9zM329.3 539.0h0.9v0.9h-0.9zM333.9 545.8h0.9v0.9h-0.9zM338.1 533.3h0.9v0.9h-0.9zM328.4 544.5h0.9v0.9h-0.9zM334.2 558.7h0.9v0.9h-0.9zM334.1 540.8h0.9v0.9h-0.9zM342.2 529.3h0.9v0.9h-0.9z" fill="#e03ad8" fill-opacity="0.9"/>
<path d="M315.1 524.9h0.9v0.9h-0.9zM318.6 519.6h0.9v0.9h-0.9zM318.9 517.6h0.9v0.9h-0.9zM325.5 517.7h0.9v0.9h-0.9zM304.6 524.9h0.9v0.9h-0.9zM311.3 527.3h0.9v0.9h-0.9zM307.2 522.3h0.9v0.9h-0.9zM321.1 525.0h0.9v0.9h-0.9zM320.8 517.3h0.9v0.9h-0.9zM320.0 519.5h0.9v0.9h-0.9zM319.4 519.2h0.9v0.9h-0.9zM309.8 526.7h0.9v0.9h-0.9zM312.8 523.4h0.9v0.9h-0.9zM323.8 526.4h0.9v0.9h-0.9zM322.8 527.0h0.9v0.9h-0.9zM316.7 523.1h0.9v0.9h-0.9zM322.9 527.8h0.9v0.9h-0.9zM321.9 524.7h0.9v0.9h-0.9zM302.5 525.3h0.9v0.9h-0.9zM326.6 517.6h0.9v0.9h-0.9zM317.7 524.9h0.9v0.9h-0.9zM319.0 527.5h0.9v0.9h-0.9zM323.8 521.5h0.9v0.9h-0.9zM314.4 526.2h0.9v0.9h-0.9zM325.1 521.4h0.9v0.9h-0.9zM311.5 523.1h0.9v0.9h-0.9zM321.9 525.9h0.9v0.9h-0.9zM318.3 513.9h0.9v0.9h-0.9zM320.1 520.0h0.9v0.9h-0.9zM326.1 527.7h0.9v0.9h-0.9zM319.8 518.0h0.9v0.9h-0.9zM316.9 519.6h0.9v0.9h-0.9zM322.2 519.5h0.9v0.9h-0.9zM309.9 524.2h0.9v0.9h-0.9zM318.2 524.7h0.9v0.9h-0.9zM325.6 527.7h0.9v0.9h-0.9zM300.3 527.9h0.9v0.9h-0.9zM318.4 524.7h0.9v0.9h-0.9zM307.7 523.8h0.9v0.9h-0.9zM324.8 520.6h0.9v0.9h-0.9zM319.5 518.2h0.9v0.9h-0.9zM319.8 520.8h0.9v0.9h-0.9zM308.7 524.3h0.9v0.9h-0.9zM316.3 522.6h0.9v0.9h-0.9zM323.4 520.8h0.9v0.9h-0.9zM323.4 522.6h0.9v0.9h-0.9zM321.8 518.4h0.9v0.9h-0.9zM315.3 522.2h0.9v0.9h-0.9zM319.9 523.1h0.9v0.9h-0.9zM321.1 524.1h0.9v0.9h-0.9zM313.0 524.6h0.9v0.9h-0.9zM323.7 522.0h0.9v0.9h-0.9zM322.7 518.4h0.9v0.9h-0.9zM323.1 517.9h0.9v0.9h-0.9zM316.6 520.6h0.9v0.9h-0.9zM321.5 527.9h0.9v0.9h-0.9zM322.4 518.7h0.9v0.9h-0.9z" fill="#d26a3a" fill-opacity="0.85"/>
<path d="M256.5 552.2C257.7 550.8 262.2 546.6 266.7 544.4C271.1 542.2 277.6 540.9 283.1 539.2C288.5 537.5 294.8 535.4 299.5 534.1C304.1 532.9 307.6 532.1 311.0 531.5C314.4 530.9 317.7 530.0 319.7 530.7C321.6 531.4 322.6 533.5 322.7 535.8C322.8 538.2 321.6 542.6 320.2 544.9C318.7 547.2 317.5 548.5 314.1 549.9C310.7 551.3 304.9 552.6 299.8 553.3C294.7 553.9 288.9 554.0 283.5 554.1C278.1 554.1 271.2 553.8 267.2 553.7C263.2 553.5 261.3 553.5 259.5 553.3C257.8 553.0 255.3 553.7 256.5 552.2Z" fill="#0000f2"/>
<path d="M301.5 533.3h0.9v0.9h-0.9zM273.7 553.3h0.9v0.9h-0.9zM263.4 547.1h0.9v0.9h-0.9zM293.9 552.7h0.9v0.9h-0.9zM293.0 553.2h0.9v0.9h-0.9zM272.2 541.1h0.9v0.9h-0.9zM290.7 533.0h0.9v0.9h-0.9zM311.3 530.6h0.9v0.9h-0.9zM308.1 533.8h0.9v0.9h-0.9zM264.8 546.1h0.9v0.9h-0.9zM260.9 548.3h0.9v0.9h-0.9zM259.1 552.3h0.9v0.9h-0.9zM282.7 555.3h0.9v0.9h-0.9zM303.5 552.8h0.9v0.9h-0.9zM283.7 538.6h0.9v0.9h-0.9zM272.6 543.2h0.9v0.9h-0.9zM271.6 553.9h0.9v0.9h-0.9zM259.1 550.0h0.9v0.9h-0.9zM258.9 551.5h0.9v0.9h-0.9zM323.3 541.2h0.9v0.9h-0.9zM263.4 546.7h0.9v0.9h-0.9zM320.5 531.7h0.9v0.9h-0.9zM315.0 529.0h0.9v0.9h-0.9zM323.3 533.1h0.9v0.9h-0.9zM264.1 554.5h0.9v0.9h-0.9zM262.1 545.8h0.9v0.9h-0.9zM258.0 553.4h0.9v0.9h-0.9zM317.3 546.2h0.9v0.9h-0.9zM256.7 548.9h0.9v0.9h-0.9zM288.0 533.0h0.9v0.9h-0.9zM276.1 541.4h0.9v0.9h-0.9zM323.1 546.3h0.9v0.9h-0.9zM277.2 554.3h0.9v0.9h-0.9zM262.2 548.4h0.9v0.9h-0.9zM311.1 532.5h0.9v0.9h-0.9zM309.0 532.6h0.9v0.9h-0.9zM272.6 542.3h0.9v0.9h-0.9zM321.9 534.9h0.9v0.9h-0.9zM309.3 532.8h0.9v0.9h-0.9zM302.6 533.9h0.9v0.9h-0.9zM309.9 531.5h0.9v0.9h-0.9zM321.2 539.5h0.9v0.9h-0.9zM305.3 533.8h0.9v0.9h-0.9zM257.7 553.8h0.9v0.9h-0.9zM295.1 553.0h0.9v0.9h-0.9zM321.0 532.9h0.9v0.9h-0.9zM279.4 541.1h0.9v0.9h-0.9zM261.1 547.2h0.9v0.9h-0.9zM258.2 554.7h0.9v0.9h-0.9zM313.0 529.2h0.9v0.9h-0.9zM320.8 540.7h0.9v0.9h-0.9zM291.1 553.7h0.9v0.9h-0.9zM265.6 552.8h0.9v0.9h-0.9zM261.1 553.8h0.9v0.9h-0.9zM314.4 550.3h0.9v0.9h-0.9zM321.3 536.6h0.9v0.9h-0.9zM320.8 533.4h0.9v0.9h-0.9zM304.9 555.6h0.9v0.9h-0.9zM281.7 553.9h0.9v0.9h-0.9zM299.9 534.5h0.9v0.9h-0.9zM264.6 552.9h0.9v0.9h-0.9zM260.4 554.0h0.9v0.9h-0.9zM268.5 554.2h0.9v0.9h-0.9zM317.6 549.3h0.9v0.9h-0.9zM286.8 554.1h0.9v0.9h-0.9zM291.3 536.8h0.9v0.9h-0.9zM305.0 532.5h0.9v0.9h-0.9zM258.1 555.2h0.9v0.9h-0.9zM321.3 543.3h0.9v0.9h-0.9zM310.1 531.9h0.9v0.9h-0.9zM264.0 554.5h0.9v0.9h-0.9zM296.3 552.9h0.9v0.9h-0.9zM263.1 553.4h0.9v0.9h-0.9zM265.9 554.4h0.9v0.9h-0.9zM265.1 555.9h0.9v0.9h-0.9zM311.2 531.6h0.9v0.9h-0.9zM304.4 531.7h0.9v0.9h-0.9zM281.6 556.6h0.9v0.9h-0.9zM298.5 552.7h0.9v0.9h-0.9zM290.0 557.1h0.9v0.9h-0.9zM319.3 547.2h0.9v0.9h-0.9zM323.3 535.0h0.9v0.9h-0.9zM319.9 530.9h0.9v0.9h-0.9zM275.4 556.1h0.9v0.9h-0.9zM267.6 553.8h0.9v0.9h-0.9zM324.4 532.7h0.9v0.9h-0.9zM264.2 555.4h0.9v0.9h-0.9zM258.2 552.2h0.9v0.9h-0.9zM260.6 547.6h0.9v0.9h-0.9zM282.7 557.8h0.9v0.9h-0.9zM277.7 553.6h0.9v0.9h-0.9zM307.9 531.7h0.9v0.9h-0.9zM324.0 533.2h0.9v0.9h-0.9zM324.0 533.9h0.9v0.9h-0.9zM286.5 553.1h0.9v0.9h-0.9zM305.2 554.3h0.9v0.9h-0.9zM304.1 530.7h0.9v0.9h-0.9zM257.8 554.8h0.9v0.9h-0.9zM272.1 555.3h0.9v0.9h-0.9zM272.4 542.1h0.9v0.9h-0.9zM256.9 551.7h0.9v0.9h-0.9zM306.9 531.9h0.9v0.9h-0.9zM296.8 553.5h0.9v0.9h-0.9zM307.0 552.8h0.9v0.9h-0.9zM291.9 555.9h0.9v0.9h-0.9zM313.0 530.7h0.9v0.9h-0.9zM286.2 534.7h0.9v0.9h-0.9zM321.9 539.0h0.9v0.9h-0.9zM287.0 553.2h0.9v0.9h-0.9zM289.3 552.7h0.9v0.9h-0.9zM320.5 544.2h0.9v0.9h-0.9zM294.7 555.2h0.9v0.9h-0.9zM277.6 538.9h0.9v0.9h-0.9zM305.7 533.5h0.9v0.9h-0.9zM305.7 530.7h0.9v0.9h-0.9zM300.0 556.1h0.9v0.9h-0.9zM259.6 554.3h0.9v0.9h-0.9zM308.5 551.0h0.9v0.9h-0.9zM302.9 531.5h0.9v0.9h-0.9zM275.6 542.8h0.9v0.9h-0.9zM302.3 533.9h0.9v0.9h-0.9zM281.1 555.0h0.9v0.9h-0.9zM313.3 530.2h0.9v0.9h-0.9zM278.0 554.9h0.9v0.9h-0.9zM273.6 556.1h0.9v0.9h-0.9zM295.6 534.4h0.9v0.9h-0.9zM264.2 553.3h0.9v0.9h-0.9zM308.9 553.7h0.9v0.9h-0.9zM289.4 553.2h0.9v0.9h-0.9zM311.6 554.0h0.9v0.9h-0.9zM256.3 553.6h0.9v0.9h-0.9zM266.5 555.2h0.9v0.9h-0.9zM257.8 552.4h0.9v0.9h-0.9zM316.6 552.3h0.9v0.9h-0.9zM280.2 540.0h0.9v0.9h-0.9zM257.5 552.3h0.9v0.9h-0.9zM316.4 531.6h0.9v0.9h-0.9zM320.0 542.5h0.9v0.9h-0.9zM297.4 535.1h0.9v0.9h-0.9zM315.4 530.3h0.9v0.9h-0.9zM311.3 530.1h0.9v0.9h-0.9zM318.3 530.5h0.9v0.9h-0.9zM306.6 551.7h0.9v0.9h-0.9zM322.9 539.5h0.9v0.9h-0.9zM257.2 552.4h0.9v0.9h-0.9zM300.6 556.5h0.9v0.9h-0.9zM324.3 533.4h0.9v0.9h-0.9zM318.4 529.0h0.9v0.9h-0.9zM310.9 531.0h0.9v0.9h-0.9zM321.1 542.0h0.9v0.9h-0.9zM282.8 537.2h0.9v0.9h-0.9zM276.0 540.4h0.9v0.9h-0.9zM317.2 545.7h0.9v0.9h-0.9zM268.9 540.7h0.9v0.9h-0.9zM260.2 546.1h0.9v0.9h-0.9zM258.8 554.8h0.9v0.9h-0.9zM322.1 539.4h0.9v0.9h-0.9zM276.7 539.9h0.9v0.9h-0.9zM257.6 551.9h0.9v0.9h-0.9zM295.2 553.2h0.9v0.9h-0.9zM320.6 542.2h0.9v0.9h-0.9zM269.0 539.2h0.9v0.9h-0.9zM318.2 549.9h0.9v0.9h-0.9zM312.6 553.8h0.9v0.9h-0.9zM257.7 555.3h0.9v0.9h-0.9zM264.0 553.3h0.9v0.9h-0.9zM322.3 537.4h0.9v0.9h-0.9zM324.1 537.4h0.9v0.9h-0.9zM320.7 533.3h0.9v0.9h-0.9zM322.6 534.9h0.9v0.9h-0.9zM291.4 536.8h0.9v0.9h-0.9zM270.4 542.2h0.9v0.9h-0.9zM296.7 554.5h0.9v0.9h-0.9zM260.4 557.0h0.9v0.9h-0.9zM285.8 538.3h0.9v0.9h-0.9zM269.5 553.6h0.9v0.9h-0.9zM259.3 553.4h0.9v0.9h-0.9zM309.7 549.6h0.9v0.9h-0.9zM280.5 540.0h0.9v0.9h-0.9zM318.9 547.5h0.9v0.9h-0.9zM260.4 553.8h0.9v0.9h-0.9zM280.4 553.4h0.9v0.9h-0.9zM266.4 545.4h0.9v0.9h-0.9zM291.3 531.6h0.9v0.9h-0.9zM322.5 533.1h0.9v0.9h-0.9zM321.4 531.5h0.9v0.9h-0.9zM309.0 531.7h0.9v0.9h-0.9zM291.3 537.4h0.9v0.9h-0.9zM321.5 532.3h0.9v0.9h-0.9zM276.9 551.8h0.9v0.9h-0.9zM262.0 553.7h0.9v0.9h-0.9zM259.6 555.1h0.9v0.9h-0.9zM307.6 552.6h0.9v0.9h-0.9zM257.7 548.9h0.9v0.9h-0.9zM306.6 532.3h0.9v0.9h-0.9zM303.3 553.8h0.9v0.9h-0.9zM304.9 551.0h0.9v0.9h-0.9zM289.4 553.7h0.9v0.9h-0.9zM272.4 556.1h0.9v0.9h-0.9zM321.6 534.9h0.9v0.9h-0.9zM322.3 541.5h0.9v0.9h-0.9zM295.2 535.6h0.9v0.9h-0.9zM315.1 531.2h0.9v0.9h-0.9zM310.1 531.5h0.9v0.9h-0.9zM304.9 533.8h0.9v0.9h-0.9zM292.2 552.1h0.9v0.9h-0.9zM321.8 542.1h0.9v0.9h-0.9zM309.0 553.4h0.9v0.9h-0.9zM296.9 534.9h0.9v0.9h-0.9zM324.3 538.3h0.9v0.9h-0.9zM261.6 548.0h0.9v0.9h-0.9zM321.0 545.0h0.9v0.9h-0.9zM322.2 534.4h0.9v0.9h-0.9zM283.1 554.9h0.9v0.9h-0.9zM269.6 555.8h0.9v0.9h-0.9zM321.4 534.3h0.9v0.9h-0.9zM323.3 533.6h0.9v0.9h-0.9zM288.2 534.7h0.9v0.9h-0.9zM265.3 554.4h0.9v0.9h-0.9zM259.9 549.2h0.9v0.9h-0.9zM292.4 554.9h0.9v0.9h-0.9zM296.3 533.6h0.9v0.9h-0.9zM313.9 529.4h0.9v0.9h-0.9zM257.0 552.9h0.9v0.9h-0.9zM290.5 553.4h0.9v0.9h-0.9zM321.1 533.1h0.9v0.9h-0.9zM271.0 554.8h0.9v0.9h-0.9zM300.5 529.2h0.9v0.9h-0.9zM317.4 529.8h0.9v0.9h-0.9zM272.5 540.9h0.9v0.9h-0.9zM300.2 534.6h0.9v0.9h-0.9zM265.0 547.4h0.9v0.9h-0.9zM269.5 556.2h0.9v0.9h-0.9zM276.9 556.3h0.9v0.9h-0.9zM262.0 548.0h0.9v0.9h-0.9zM308.2 551.4h0.9v0.9h-0.9zM274.0 540.4h0.9v0.9h-0.9zM281.4 540.5h0.9v0.9h-0.9zM323.2 535.4h0.9v0.9h-0.9zM295.6 553.4h0.9v0.9h-0.9zM291.1 536.9h0.9v0.9h-0.9zM289.5 553.2h0.9v0.9h-0.9zM256.8 552.8h0.9v0.9h-0.9zM260.9 554.2h0.9v0.9h-0.9zM282.1 536.9h0.9v0.9h-0.9zM320.8 542.1h0.9v0.9h-0.9zM260.1 555.8h0.9v0.9h-0.9zM323.1 539.0h0.9v0.9h-0.9zM308.5 532.2h0.9v0.9h-0.9zM322.6 532.2h0.9v0.9h-0.9zM303.1 532.0h0.9v0.9h-0.9zM274.8 554.9h0.9v0.9h-0.9zM290.4 537.2h0.9v0.9h-0.9zM310.4 530.8h0.9v0.9h-0.9zM267.9 543.9h0.9v0.9h-0.9zM317.8 531.5h0.9v0.9h-0.9zM315.7 550.1h0.9v0.9h-0.9zM295.9 554.8h0.9v0.9h-0.9zM299.1 554.0h0.9v0.9h-0.9zM272.9 553.3h0.9v0.9h-0.9zM310.2 551.0h0.9v0.9h-0.9zM319.7 544.6h0.9v0.9h-0.9zM289.2 537.8h0.9v0.9h-0.9zM255.9 550.1h0.9v0.9h-0.9zM261.8 552.6h0.9v0.9h-0.9zM266.7 542.1h0.9v0.9h-0.9zM304.0 531.9h0.9v0.9h-0.9zM303.7 553.5h0.9v0.9h-0.9zM305.6 532.6h0.9v0.9h-0.9zM321.4 540.2h0.9v0.9h-0.9zM269.0 554.7h0.9v0.9h-0.9zM264.2 553.3h0.9v0.9h-0.9zM322.3 543.7h0.9v0.9h-0.9zM323.9 535.6h0.9v0.9h-0.9zM301.2 533.0h0.9v0.9h-0.9zM309.7 529.3h0.9v0.9h-0.9zM273.6 539.1h0.9v0.9h-0.9zM313.5 551.5h0.9v0.9h-0.9zM311.4 552.1h0.9v0.9h-0.9zM314.7 551.4h0.9v0.9h-0.9zM314.5 549.7h0.9v0.9h-0.9zM275.6 543.5h0.9v0.9h-0.9zM293.6 556.9h0.9v0.9h-0.9zM297.4 552.9h0.9v0.9h-0.9zM288.6 533.1h0.9v0.9h-0.9zM293.4 555.8h0.9v0.9h-0.9zM257.9 552.2h0.9v0.9h-0.9zM282.4 554.3h0.9v0.9h-0.9zM286.2 539.3h0.9v0.9h-0.9zM289.6 535.3h0.9v0.9h-0.9zM256.9 553.5h0.9v0.9h-0.9zM261.8 552.4h0.9v0.9h-0.9zM264.5 553.3h0.9v0.9h-0.9zM287.5 537.3h0.9v0.9h-0.9zM293.8 554.7h0.9v0.9h-0.9zM318.2 530.3h0.9v0.9h-0.9zM286.3 537.0h0.9v0.9h-0.9zM300.6 534.2h0.9v0.9h-0.9zM301.6 554.0h0.9v0.9h-0.9zM279.0 553.1h0.9v0.9h-0.9zM261.6 554.7h0.9v0.9h-0.9zM270.2 542.3h0.9v0.9h-0.9zM258.6 552.4h0.9v0.9h-0.9zM307.4 532.1h0.9v0.9h-0.9zM266.8 545.2h0.9v0.9h-0.9zM279.3 555.5h0.9v0.9h-0.9zM272.2 553.4h0.9v0.9h-0.9zM299.1 533.4h0.9v0.9h-0.9zM270.2 554.9h0.9v0.9h-0.9zM277.4 552.4h0.9v0.9h-0.9zM314.2 531.0h0.9v0.9h-0.9zM314.9 548.8h0.9v0.9h-0.9zM257.3 551.5h0.9v0.9h-0.9zM318.0 530.9h0.9v0.9h-0.9zM277.7 553.5h0.9v0.9h-0.9zM319.6 531.0h0.9v0.9h-0.9zM306.9 553.3h0.9v0.9h-0.9zM264.4 555.4h0.9v0.9h-0.9zM269.9 555.8h0.9v0.9h-0.9zM265.2 553.3h0.9v0.9h-0.9zM324.4 540.5h0.9v0.9h-0.9zM263.8 543.1h0.9v0.9h-0.9zM312.7 553.1h0.9v0.9h-0.9zM284.8 537.4h0.9v0.9h-0.9zM285.7 553.5h0.9v0.9h-0.9zM321.9 534.6h0.9v0.9h-0.9zM308.2 555.0h0.9v0.9h-0.9zM263.2 553.0h0.9v0.9h-0.9zM258.9 553.2h0.9v0.9h-0.9zM306.0 530.7h0.9v0.9h-0.9zM259.9 550.8h0.9v0.9h-0.9zM322.4 538.6h0.9v0.9h-0.9zM310.9 550.3h0.9v0.9h-0.9zM265.9 554.3h0.9v0.9h-0.9zM265.6 553.9h0.9v0.9h-0.9zM314.8 530.6h0.9v0.9h-0.9zM257.9 551.8h0.9v0.9h-0.9zM289.0 556.9h0.9v0.9h-0.9zM258.0 553.0h0.9v0.9h-0.9zM323.0 541.5h0.9v0.9h-0.9zM268.6 556.8h0.9v0.9h-0.9zM307.8 531.8h0.9v0.9h-0.9zM294.0 554.2h0.9v0.9h-0.9zM259.6 548.3h0.9v0.9h-0.9zM284.2 556.3h0.9v0.9h-0.9zM298.2 555.6h0.9v0.9h-0.9zM261.0 554.0h0.9v0.9h-0.9zM256.0 551.9h0.9v0.9h-0.9zM322.5 537.1h0.9v0.9h-0.9zM256.5 552.6h0.9v0.9h-0.9zM263.5 544.8h0.9v0.9h-0.9zM264.6 545.2h0.9v0.9h-0.9zM285.0 536.6h0.9v0.9h-0.9zM265.7 544.2h0.9v0.9h-0.9zM312.2 533.3h0.9v0.9h-0.9zM264.0 556.6h0.9v0.9h-0.9zM274.9 556.8h0.9v0.9h-0.9zM290.6 535.9h0.9v0.9h-0.9zM275.4 540.0h0.9v0.9h-0.9zM266.2 552.9h0.9v0.9h-0.9zM319.4 542.5h0.9v0.9h-0.9zM321.9 533.9h0.9v0.9h-0.9zM322.8 531.7h0.9v0.9h-0.9zM320.8 537.4h0.9v0.9h-0.9zM294.1 533.1h0.9v0.9h-0.9zM322.3 536.0h0.9v0.9h-0.9zM309.1 550.5h0.9v0.9h-0.9zM314.7 550.5h0.9v0.9h-0.9zM320.8 532.2h0.9v0.9h-0.9zM258.0 549.1h0.9v0.9h-0.9zM270.9 553.0h0.9v0.9h-0.9zM312.2 550.1h0.9v0.9h-0.9zM318.4 530.9h0.9v0.9h-0.9zM262.6 553.4h0.9v0.9h-0.9zM281.7 555.9h0.9v0.9h-0.9zM316.8 531.0h0.9v0.9h-0.9zM280.4 539.2h0.9v0.9h-0.9zM316.6 548.5h0.9v0.9h-0.9zM323.0 540.3h0.9v0.9h-0.9zM314.9 549.9h0.9v0.9h-0.9zM257.9 552.8h0.9v0.9h-0.9zM316.2 531.7h0.9v0.9h-0.9zM306.9 530.4h0.9v0.9h-0.9zM319.5 530.4h0.9v0.9h-0.9zM271.9 537.4h0.9v0.9h-0.9zM314.7 529.7h0.9v0.9h-0.9zM291.2 536.5h0.9v0.9h-0.9zM303.7 530.1h0.9v0.9h-0.9zM268.4 556.7h0.9v0.9h-0.9zM262.9 554.0h0.9v0.9h-0.9zM306.7 551.1h0.9v0.9h-0.9zM258.8 553.0h0.9v0.9h-0.9zM309.6 530.8h0.9v0.9h-0.9zM319.6 532.6h0.9v0.9h-0.9zM320.9 543.7h0.9v0.9h-0.9zM284.7 554.5h0.9v0.9h-0.9zM309.7 551.4h0.9v0.9h-0.9zM279.6 540.2h0.9v0.9h-0.9zM303.5 553.0h0.9v0.9h-0.9zM300.5 533.1h0.9v0.9h-0.9zM297.1 535.0h0.9v0.9h-0.9zM306.5 550.3h0.9v0.9h-0.9zM271.1 540.0h0.9v0.9h-0.9zM320.5 531.1h0.9v0.9h-0.9zM307.9 531.2h0.9v0.9h-0.9zM265.8 553.3h0.9v0.9h-0.9zM266.2 554.3h0.9v0.9h-0.9zM260.8 553.1h0.9v0.9h-0.9zM261.1 553.1h0.9v0.9h-0.9zM320.6 542.3h0.9v0.9h-0.9zM324.4 532.9h0.9v0.9h-0.9zM258.2 551.1h0.9v0.9h-0.9zM290.0 533.8h0.9v0.9h-0.9zM270.5 552.7h0.9v0.9h-0.9zM255.8 555.8h0.9v0.9h-0.9zM264.1 544.3h0.9v0.9h-0.9zM317.6 532.0h0.9v0.9h-0.9zM318.1 549.1h0.9v0.9h-0.9zM313.3 550.5h0.9v0.9h-0.9zM288.6 537.5h0.9v0.9h-0.9zM322.2 533.1h0.9v0.9h-0.9zM317.2 547.4h0.9v0.9h-0.9zM323.3 532.5h0.9v0.9h-0.9zM322.0 537.8h0.9v0.9h-0.9zM262.6 554.3h0.9v0.9h-0.9zM267.1 555.7h0.9v0.9h-0.9zM321.3 530.7h0.9v0.9h-0.9zM321.8 540.8h0.9v0.9h-0.9zM262.5 557.1h0.9v0.9h-0.9zM297.8 553.0h0.9v0.9h-0.9zM287.1 538.8h0.9v0.9h-0.9zM322.2 534.9h0.9v0.9h-0.9zM320.2 541.8h0.9v0.9h-0.9zM313.6 551.1h0.9v0.9h-0.9zM290.8 534.8h0.9v0.9h-0.9zM310.9 530.4h0.9v0.9h-0.9zM322.1 538.2h0.9v0.9h-0.9zM308.1 532.4h0.9v0.9h-0.9zM268.6 555.1h0.9v0.9h-0.9zM293.9 534.7h0.9v0.9h-0.9zM262.5 552.9h0.9v0.9h-0.9zM323.0 538.0h0.9v0.9h-0.9zM322.3 533.3h0.9v0.9h-0.9zM321.0 537.4h0.9v0.9h-0.9zM301.3 533.7h0.9v0.9h-0.9zM258.2 552.9h0.9v0.9h-0.9zM299.9 534.5h0.9v0.9h-0.9zM322.0 531.3h0.9v0.9h-0.9zM280.2 540.5h0.9v0.9h-0.9zM321.8 534.8h0.9v0.9h-0.9zM295.2 530.1h0.9v0.9h-0.9zM282.5 538.6h0.9v0.9h-0.9zM295.1 535.5h0.9v0.9h-0.9zM257.4 553.5h0.9v0.9h-0.9zM286.0 536.6h0.9v0.9h-0.9zM319.0 531.0h0.9v0.9h-0.9zM258.2 552.0h0.9v0.9h-0.9zM323.4 531.4h0.9v0.9h-0.9zM314.3 550.2h0.9v0.9h-0.9zM316.8 547.2h0.9v0.9h-0.9zM322.3 544.4h0.9v0.9h-0.9zM322.5 538.0h0.9v0.9h-0.9zM315.6 530.3h0.9v0.9h-0.9zM319.7 530.1h0.9v0.9h-0.9zM306.9 532.0h0.9v0.9h-0.9zM314.8 550.1h0.9v0.9h-0.9zM319.7 546.8h0.9v0.9h-0.9zM315.4 549.4h0.9v0.9h-0.9zM291.6 553.6h0.9v0.9h-0.9zM302.1 553.8h0.9v0.9h-0.9zM310.4 551.2h0.9v0.9h-0.9zM259.7 554.5h0.9v0.9h-0.9zM256.8 552.3h0.9v0.9h-0.9zM271.2 553.3h0.9v0.9h-0.9zM258.3 554.1h0.9v0.9h-0.9zM268.5 543.1h0.9v0.9h-0.9zM284.3 537.9h0.9v0.9h-0.9zM321.6 534.8h0.9v0.9h-0.9zM263.7 547.1h0.9v0.9h-0.9zM322.6 533.4h0.9v0.9h-0.9zM314.2 533.0h0.9v0.9h-0.9zM274.3 539.6h0.9v0.9h-0.9zM320.6 543.0h0.9v0.9h-0.9zM310.7 532.1h0.9v0.9h-0.9zM280.7 553.4h0.9v0.9h-0.9zM320.1 530.5h0.9v0.9h-0.9zM301.5 555.5h0.9v0.9h-0.9zM317.4 531.3h0.9v0.9h-0.9zM272.9 553.1h0.9v0.9h-0.9zM278.8 554.4h0.9v0.9h-0.9zM310.2 531.8h0.9v0.9h-0.9zM319.7 531.4h0.9v0.9h-0.9zM263.2 552.5h0.9v0.9h-0.9zM316.0 531.6h0.9v0.9h-0.9zM288.0 538.5h0.9v0.9h-0.9zM308.8 531.7h0.9v0.9h-0.9zM283.2 555.1h0.9v0.9h-0.9zM259.4 554.5h0.9v0.9h-0.9zM305.0 554.8h0.9v0.9h-0.9zM320.0 549.6h0.9v0.9h-0.9zM301.3 534.8h0.9v0.9h-0.9zM293.7 555.4h0.9v0.9h-0.9zM296.8 554.9h0.9v0.9h-0.9zM272.4 555.8h0.9v0.9h-0.9zM281.0 553.4h0.9v0.9h-0.9zM303.6 533.0h0.9v0.9h-0.9zM297.2 532.4h0.9v0.9h-0.9zM285.0 538.7h0.9v0.9h-0.9zM261.9 554.1h0.9v0.9h-0.9zM320.3 532.7h0.9v0.9h-0.9zM319.5 547.3h0.9v0.9h-0.9zM302.5 533.3h0.9v0.9h-0.9zM256.9 552.1h0.9v0.9h-0.9zM308.3 551.0h0.9v0.9h-0.9zM268.9 542.7h0.9v0.9h-0.9zM270.8 553.7h0.9v0.9h-0.9zM323.6 538.6h0.9v0.9h-0.9zM265.4 554.8h0.9v0.9h-0.9zM270.4 553.5h0.9v0.9h-0.9zM287.8 553.6h0.9v0.9h-0.9zM319.7 544.9h0.9v0.9h-0.9zM261.0 549.8h0.9v0.9h-0.9zM314.9 548.1h0.9v0.9h-0.9zM321.1 534.8h0.9v0.9h-0.9zM299.3 556.3h0.9v0.9h-0.9zM298.0 535.1h0.9v0.9h-0.9zM321.1 543.2h0.9v0.9h-0.9zM321.6 532.0h0.9v0.9h-0.9zM264.5 546.3h0.9v0.9h-0.9zM322.6 538.6h0.9v0.9h-0.9zM320.3 540.6h0.9v0.9h-0.9zM308.4 551.2h0.9v0.9h-0.9zM321.7 538.5h0.9v0.9h-0.9zM273.9 542.5h0.9v0.9h-0.9zM316.4 547.1h0.9v0.9h-0.9zM257.3 551.0h0.9v0.9h-0.9zM292.7 535.5h0.9v0.9h-0.9zM290.9 554.4h0.9v0.9h-0.9zM261.9 555.3h0.9v0.9h-0.9zM295.4 534.5h0.9v0.9h-0.9zM306.3 532.7h0.9v0.9h-0.9zM273.8 541.1h0.9v0.9h-0.9zM321.7 542.8h0.9v0.9h-0.9zM299.5 553.7h0.9v0.9h-0.9zM322.6 542.4h0.9v0.9h-0.9zM296.3 553.3h0.9v0.9h-0.9zM284.0 537.3h0.9v0.9h-0.9zM262.3 557.3h0.9v0.9h-0.9zM321.0 542.8h0.9v0.9h-0.9zM294.6 554.9h0.9v0.9h-0.9zM305.4 528.9h0.9v0.9h-0.9zM275.1 540.6h0.9v0.9h-0.9zM323.8 538.9h0.9v0.9h-0.9zM292.7 536.2h0.9v0.9h-0.9zM293.3 536.8h0.9v0.9h-0.9zM308.1 533.3h0.9v0.9h-0.9zM304.7 550.4h0.9v0.9h-0.9zM322.7 542.1h0.9v0.9h-0.9zM256.2 555.0h0.9v0.9h-0.9zM323.7 535.2h0.9v0.9h-0.9zM317.7 547.5h0.9v0.9h-0.9zM321.5 535.4h0.9v0.9h-0.9zM305.2 550.8h0.9v0.9h-0.9zM310.3 530.6h0.9v0.9h-0.9zM278.2 554.6h0.9v0.9h-0.9zM257.5 552.4h0.9v0.9h-0.9zM303.2 553.7h0.9v0.9h-0.9zM260.8 554.1h0.9v0.9h-0.9zM302.4 533.8h0.9v0.9h-0.9zM306.5 553.8h0.9v0.9h-0.9zM315.2 546.1h0.9v0.9h-0.9zM283.8 539.7h0.9v0.9h-0.9zM256.9 553.4h0.9v0.9h-0.9zM279.3 541.8h0.9v0.9h-0.9zM319.7 532.1h0.9v0.9h-0.9zM263.4 554.9h0.9v0.9h-0.9zM325.5 531.7h0.9v0.9h-0.9zM255.1 556.2h0.9v0.9h-0.9zM321.7 541.5h0.9v0.9h-0.9zM300.7 534.5h0.9v0.9h-0.9zM316.1 530.9h0.9v0.9h-0.9zM303.1 533.1h0.9v0.9h-0.9zM255.1 550.2h0.9v0.9h-0.9zM323.1 538.0h0.9v0.9h-0.9zM286.0 556.5h0.9v0.9h-0.9zM323.1 544.3h0.9v0.9h-0.9zM321.2 531.5h0.9v0.9h-0.9zM300.6 532.5h0.9v0.9h-0.9zM318.1 546.0h0.9v0.9h-0.9zM303.9 553.0h0.9v0.9h-0.9zM287.4 554.5h0.9v0.9h-0.9zM319.7 545.3h0.9v0.9h-0.9zM308.2 552.9h0.9v0.9h-0.9zM269.4 542.9h0.9v0.9h-0.9zM304.2 553.4h0.9v0.9h-0.9zM310.1 550.1h0.9v0.9h-0.9zM309.9 531.2h0.9v0.9h-0.9zM255.7 552.0h0.9v0.9h-0.9zM298.5 552.1h0.9v0.9h-0.9zM265.4 544.8h0.9v0.9h-0.9zM258.9 553.5h0.9v0.9h-0.9zM257.0 549.8h0.9v0.9h-0.9zM258.4 548.3h0.9v0.9h-0.9zM307.8 552.1h0.9v0.9h-0.9zM319.2 546.4h0.9v0.9h-0.9zM285.5 554.4h0.9v0.9h-0.9zM269.6 556.2h0.9v0.9h-0.9zM291.3 536.6h0.9v0.9h-0.9zM266.3 545.6h0.9v0.9h-0.9zM268.9 554.6h0.9v0.9h-0.9zM308.2 529.1h0.9v0.9h-0.9zM324.0 537.5h0.9v0.9h-0.9zM300.2 555.0h0.9v0.9h-0.9zM319.0 545.5h0.9v0.9h-0.9zM321.6 538.9h0.9v0.9h-0.9zM290.1 552.9h0.9v0.9h-0.9zM278.3 540.6h0.9v0.9h-0.9zM313.6 552.3h0.9v0.9h-0.9zM306.3 551.7h0.9v0.9h-0.9zM266.2 555.8h0.9v0.9h-0.9zM277.3 553.7h0.9v0.9h-0.9zM293.1 555.2h0.9v0.9h-0.9zM311.7 531.5h0.9v0.9h-0.9zM318.8 547.1h0.9v0.9h-0.9zM265.0 546.4h0.9v0.9h-0.9zM271.6 554.5h0.9v0.9h-0.9zM315.2 549.5h0.9v0.9h-0.9zM316.3 532.3h0.9v0.9h-0.9zM270.9 540.8h0.9v0.9h-0.9zM320.2 531.2h0.9v0.9h-0.9zM270.7 541.3h0.9v0.9h-0.9zM256.6 553.8h0.9v0.9h-0.9zM259.8 555.2h0.9v0.9h-0.9zM322.6 544.1h0.9v0.9h-0.9zM319.0 529.9h0.9v0.9h-0.9zM259.2 555.5h0.9v0.9h-0.9zM300.9 533.4h0.9v0.9h-0.9zM308.5 552.3h0.9v0.9h-0.9zM313.7 532.1h0.9v0.9h-0.9zM323.0 538.4h0.9v0.9h-0.9zM318.7 547.6h0.9v0.9h-0.9zM299.1 552.1h0.9v0.9h-0.9zM315.9 549.2h0.9v0.9h-0.9zM295.6 535.1h0.9v0.9h-0.9zM305.7 529.6h0.9v0.9h-0.9zM280.9 553.4h0.9v0.9h-0.9zM300.0 553.7h0.9v0.9h-0.9zM321.6 536.4h0.9v0.9h-0.9zM282.3 553.6h0.9v0.9h-0.9zM269.3 554.0h0.9v0.9h-0.9zM314.1 549.5h0.9v0.9h-0.9zM320.7 543.3h0.9v0.9h-0.9zM275.4 541.6h0.9v0.9h-0.9zM265.6 544.8h0.9v0.9h-0.9zM269.1 553.6h0.9v0.9h-0.9zM316.6 552.0h0.9v0.9h-0.9zM294.0 555.3h0.9v0.9h-0.9zM263.1 545.9h0.9v0.9h-0.9zM267.8 543.2h0.9v0.9h-0.9zM314.7 529.7h0.9v0.9h-0.9zM257.6 552.8h0.9v0.9h-0.9zM316.3 529.8h0.9v0.9h-0.9zM290.6 534.8h0.9v0.9h-0.9zM275.5 553.3h0.9v0.9h-0.9zM262.8 547.0h0.9v0.9h-0.9zM260.3 555.7h0.9v0.9h-0.9zM275.4 540.1h0.9v0.9h-0.9zM298.0 556.4h0.9v0.9h-0.9zM318.7 542.3h0.9v0.9h-0.9zM284.5 539.0h0.9v0.9h-0.9zM322.6 529.5h0.9v0.9h-0.9zM257.6 556.7h0.9v0.9h-0.9zM276.9 553.5h0.9v0.9h-0.9zM319.1 545.1h0.9v0.9h-0.9zM256.8 553.4h0.9v0.9h-0.9zM325.3 536.4h0.9v0.9h-0.9zM324.2 534.5h0.9v0.9h-0.9zM321.6 540.1h0.9v0.9h-0.9zM308.4 550.5h0.9v0.9h-0.9zM260.5 553.2h0.9v0.9h-0.9zM302.8 553.1h0.9v0.9h-0.9zM322.0 534.2h0.9v0.9h-0.9zM323.5 536.9h0.9v0.9h-0.9zM305.3 532.0h0.9v0.9h-0.9zM263.9 547.2h0.9v0.9h-0.9zM258.1 555.8h0.9v0.9h-0.9zM290.4 554.7h0.9v0.9h-0.9zM307.3 531.1h0.9v0.9h-0.9zM259.8 553.6h0.9v0.9h-0.9zM262.5 545.6h0.9v0.9h-0.9zM264.6 553.0h0.9v0.9h-0.9zM322.1 531.6h0.9v0.9h-0.9zM271.5 543.6h0.9v0.9h-0.9zM264.8 552.9h0.9v0.9h-0.9zM268.5 555.7h0.9v0.9h-0.9zM295.6 551.4h0.9v0.9h-0.9zM323.2 538.4h0.9v0.9h-0.9zM308.2 552.4h0.9v0.9h-0.9zM292.8 554.3h0.9v0.9h-0.9zM260.7 552.6h0.9v0.9h-0.9zM306.8 533.0h0.9v0.9h-0.9zM310.1 528.9h0.9v0.9h-0.9zM299.4 553.8h0.9v0.9h-0.9zM293.8 536.5h0.9v0.9h-0.9zM256.3 552.5h0.9v0.9h-0.9zM265.0 554.7h0.9v0.9h-0.9zM304.2 553.3h0.9v0.9h-0.9zM259.4 548.7h0.9v0.9h-0.9zM321.5 538.7h0.9v0.9h-0.9zM314.0 549.3h0.9v0.9h-0.9zM302.6 552.1h0.9v0.9h-0.9zM312.4 529.2h0.9v0.9h-0.9zM269.2 543.2h0.9v0.9h-0.9zM295.8 536.1h0.9v0.9h-0.9zM262.0 545.8h0.9v0.9h-0.9zM258.2 556.8h0.9v0.9h-0.9zM315.8 531.6h0.9v0.9h-0.9zM263.3 547.6h0.9v0.9h-0.9zM316.2 529.3h0.9v0.9h-0.9zM304.0 553.8h0.9v0.9h-0.9zM264.5 543.7h0.9v0.9h-0.9zM315.0 529.9h0.9v0.9h-0.9zM258.8 553.2h0.9v0.9h-0.9zM283.9 537.1h0.9v0.9h-0.9zM283.7 554.2h0.9v0.9h-0.9zM265.3 544.2h0.9v0.9h-0.9zM280.2 555.2h0.9v0.9h-0.9zM262.6 548.6h0.9v0.9h-0.9zM321.7 533.6h0.9v0.9h-0.9zM268.3 541.6h0.9v0.9h-0.9zM320.7 530.3h0.9v0.9h-0.9zM261.7 545.7h0.9v0.9h-0.9zM317.4 529.0h0.9v0.9h-0.9zM264.0 554.3h0.9v0.9h-0.9zM305.2 532.1h0.9v0.9h-0.9zM263.8 546.9h0.9v0.9h-0.9zM268.4 553.3h0.9v0.9h-0.9zM262.2 547.9h0.9v0.9h-0.9zM293.9 553.9h0.9v0.9h-0.9zM272.5 540.7h0.9v0.9h-0.9zM321.2 538.7h0.9v0.9h-0.9zM263.8 554.0h0.9v0.9h-0.9zM257.1 553.5h0.9v0.9h-0.9zM300.3 532.2h0.9v0.9h-0.9zM320.7 531.6h0.9v0.9h-0.9zM314.6 547.1h0.9v0.9h-0.9zM276.2 553.1h0.9v0.9h-0.9zM270.5 555.8h0.9v0.9h-0.9zM262.7 555.5h0.9v0.9h-0.9zM323.4 536.6h0.9v0.9h-0.9zM294.5 535.7h0.9v0.9h-0.9zM263.6 554.0h0.9v0.9h-0.9zM269.3 545.3h0.9v0.9h-0.9zM282.5 538.5h0.9v0.9h-0.9zM287.4 555.2h0.9v0.9h-0.9zM316.2 548.9h0.9v0.9h-0.9zM314.8 530.3h0.9v0.9h-0.9zM322.7 540.4h0.9v0.9h-0.9zM262.4 553.6h0.9v0.9h-0.9zM258.6 552.8h0.9v0.9h-0.9zM274.7 541.6h0.9v0.9h-0.9zM316.6 550.0h0.9v0.9h-0.9zM303.7 533.4h0.9v0.9h-0.9zM312.5 531.9h0.9v0.9h-0.9zM314.5 549.1h0.9v0.9h-0.9zM261.3 549.9h0.9v0.9h-0.9zM315.8 548.4h0.9v0.9h-0.9zM307.2 531.1h0.9v0.9h-0.9zM324.6 536.8h0.9v0.9h-0.9zM281.4 554.5h0.9v0.9h-0.9zM289.7 553.1h0.9v0.9h-0.9zM303.3 555.0h0.9v0.9h-0.9zM268.9 557.3h0.9v0.9h-0.9zM293.1 537.3h0.9v0.9h-0.9zM321.1 542.7h0.9v0.9h-0.9zM321.5 539.1h0.9v0.9h-0.9zM309.1 551.2h0.9v0.9h-0.9zM284.9 537.8h0.9v0.9h-0.9zM316.4 550.5h0.9v0.9h-0.9zM304.7 554.4h0.9v0.9h-0.9zM318.9 531.7h0.9v0.9h-0.9zM318.1 530.6h0.9v0.9h-0.9zM257.5 552.7h0.9v0.9h-0.9zM318.6 548.3h0.9v0.9h-0.9zM309.4 552.3h0.9v0.9h-0.9zM294.1 533.4h0.9v0.9h-0.9zM281.4 556.7h0.9v0.9h-0.9zM260.3 553.9h0.9v0.9h-0.9zM303.6 551.5h0.9v0.9h-0.9zM258.9 550.3h0.9v0.9h-0.9zM265.7 544.8h0.9v0.9h-0.9zM278.6 553.5h0.9v0.9h-0.9zM307.6 532.7h0.9v0.9h-0.9zM270.2 544.2h0.9v0.9h-0.9zM323.3 531.3h0.9v0.9h-0.9zM269.6 541.8h0.9v0.9h-0.9zM321.6 541.1h0.9v0.9h-0.9zM314.5 548.7h0.9v0.9h-0.9zM262.7 551.6h0.9v0.9h-0.9zM258.6 554.0h0.9v0.9h-0.9zM318.2 529.7h0.9v0.9h-0.9zM264.4 555.4h0.9v0.9h-0.9zM297.3 534.4h0.9v0.9h-0.9zM264.0 545.1h0.9v0.9h-0.9zM316.5 551.0h0.9v0.9h-0.9zM321.3 543.1h0.9v0.9h-0.9zM312.0 552.0h0.9v0.9h-0.9zM257.6 553.7h0.9v0.9h-0.9zM298.7 553.0h0.9v0.9h-0.9zM316.5 530.5h0.9v0.9h-0.9zM291.0 555.4h0.9v0.9h-0.9zM273.1 554.5h0.9v0.9h-0.9zM308.1 530.5h0.9v0.9h-0.9zM322.3 542.2h0.9v0.9h-0.9zM259.5 553.0h0.9v0.9h-0.9zM256.2 552.9h0.9v0.9h-0.9zM314.7 530.7h0.9v0.9h-0.9zM307.0 550.5h0.9v0.9h-0.9zM263.1 544.5h0.9v0.9h-0.9zM296.4 551.2h0.9v0.9h-0.9zM306.3 550.7h0.9v0.9h-0.9zM305.4 532.2h0.9v0.9h-0.9zM322.6 535.2h0.9v0.9h-0.9zM263.0 553.7h0.9v0.9h-0.9zM313.9 529.9h0.9v0.9h-0.9zM272.5 554.6h0.9v0.9h-0.9zM268.3 542.0h0.9v0.9h-0.9zM321.8 531.2h0.9v0.9h-0.9zM299.5 533.7h0.9v0.9h-0.9zM261.4 546.0h0.9v0.9h-0.9zM260.8 548.8h0.9v0.9h-0.9zM264.5 547.3h0.9v0.9h-0.9zM257.9 554.9h0.9v0.9h-0.9zM260.4 557.1h0.9v0.9h-0.9zM282.8 536.8h0.9v0.9h-0.9zM256.1 550.9h0.9v0.9h-0.9zM263.4 543.8h0.9v0.9h-0.9zM312.5 530.7h0.9v0.9h-0.9zM265.5 555.6h0.9v0.9h-0.9zM314.3 549.8h0.9v0.9h-0.9zM313.0 548.0h0.9v0.9h-0.9zM319.4 531.9h0.9v0.9h-0.9zM300.4 533.2h0.9v0.9h-0.9zM257.9 552.9h0.9v0.9h-0.9zM279.6 539.6h0.9v0.9h-0.9zM289.6 538.2h0.9v0.9h-0.9zM273.1 542.1h0.9v0.9h-0.9zM320.2 538.5h0.9v0.9h-0.9zM321.7 541.8h0.9v0.9h-0.9zM319.2 547.3h0.9v0.9h-0.9zM257.9 554.9h0.9v0.9h-0.9zM321.1 530.5h0.9v0.9h-0.9zM304.7 554.4h0.9v0.9h-0.9zM284.1 554.8h0.9v0.9h-0.9zM321.7 530.9h0.9v0.9h-0.9zM260.3 549.9h0.9v0.9h-0.9zM297.9 534.0h0.9v0.9h-0.9zM280.4 537.9h0.9v0.9h-0.9zM302.8 552.1h0.9v0.9h-0.9zM320.1 540.9h0.9v0.9h-0.9zM259.8 548.7h0.9v0.9h-0.9zM301.8 532.0h0.9v0.9h-0.9zM317.7 548.0h0.9v0.9h-0.9zM308.4 550.4h0.9v0.9h-0.9zM314.9 530.9h0.9v0.9h-0.9zM320.8 533.7h0.9v0.9h-0.9zM322.4 535.8h0.9v0.9h-0.9zM320.1 531.8h0.9v0.9h-0.9zM276.8 553.1h0.9v0.9h-0.9zM268.9 554.7h0.9v0.9h-0.9zM257.5 555.6h0.9v0.9h-0.9zM319.7 544.9h0.9v0.9h-0.9zM259.4 554.1h0.9v0.9h-0.9zM318.7 546.7h0.9v0.9h-0.9zM289.0 554.6h0.9v0.9h-0.9zM309.7 553.1h0.9v0.9h-0.9zM265.4 554.0h0.9v0.9h-0.9zM319.5 532.1h0.9v0.9h-0.9zM320.3 541.7h0.9v0.9h-0.9zM259.6 552.3h0.9v0.9h-0.9zM309.6 549.4h0.9v0.9h-0.9zM322.3 544.6h0.9v0.9h-0.9zM289.9 554.3h0.9v0.9h-0.9zM270.8 554.2h0.9v0.9h-0.9zM324.4 529.2h0.9v0.9h-0.9zM261.1 553.1h0.9v0.9h-0.9zM263.7 552.5h0.9v0.9h-0.9zM288.6 554.7h0.9v0.9h-0.9zM320.4 532.3h0.9v0.9h-0.9zM318.0 529.5h0.9v0.9h-0.9zM315.1 538.2h0.9v0.9h-0.9zM325.6 548.8h0.9v0.9h-0.9zM316.9 548.9h0.9v0.9h-0.9zM315.4 529.4h0.9v0.9h-0.9zM314.2 537.9h0.9v0.9h-0.9zM324.1 547.3h0.9v0.9h-0.9zM316.3 532.0h0.9v0.9h-0.9zM316.0 536.1h0.9v0.9h-0.9zM318.3 540.6h0.9v0.9h-0.9zM319.0 546.7h0.9v0.9h-0.9zM319.2 540.3h0.9v0.9h-0.9zM326.8 542.3h0.9v0.9h-0.9zM314.2 543.3h0.9v0.9h-0.9zM316.2 532.3h0.9v0.9h-0.9zM318.7 547.3h0.9v0.9h-0.9zM318.6 541.7h0.9v0.9h-0.9zM317.5 544.9h0.9v0.9h-0.9zM318.3 546.3h0.9v0.9h-0.9zM321.2 541.5h0.9v0.9h-0.9zM321.4 529.6h0.9v0.9h-0.9zM321.0 549.4h0.9v0.9h-0.9zM317.5 548.9h0.9v0.9h-0.9zM318.3 539.6h0.9v0.9h-0.9zM323.8 546.0h0.9v0.9h-0.9zM317.2 539.2h0.9v0.9h-0.9zM326.6 545.5h0.9v0.9h-0.9zM324.0 548.8h0.9v0.9h-0.9zM319.2 533.3h0.9v0.9h-0.9zM326.1 534.1h0.9v0.9h-0.9zM323.9 544.5h0.9v0.9h-0.9zM321.8 545.4h0.9v0.9h-0.9zM317.9 546.0h0.9v0.9h-0.9zM315.8 543.6h0.9v0.9h-0.9zM316.7 547.3h0.9v0.9h-0.9zM324.4 543.2h0.9v0.9h-0.9zM325.4 539.9h0.9v0.9h-0.9zM317.4 545.9h0.9v0.9h-0.9zM314.5 547.2h0.9v0.9h-0.9zM326.2 532.2h0.9v0.9h-0.9zM317.4 550.8h0.9v0.9h-0.9zM319.1 543.9h0.9v0.9h-0.9zM315.4 545.9h0.9v0.9h-0.9zM314.7 549.9h0.9v0.9h-0.9zM314.5 538.5h0.9v0.9h-0.9zM317.9 531.7h0.9v0.9h-0.9zM323.1 548.5h0.9v0.9h-0.9zM318.1 532.3h0.9v0.9h-0.9zM314.2 532.1h0.9v0.9h-0.9zM315.3 546.2h0.9v0.9h-0.9zM316.7 537.8h0.9v0.9h-0.9zM315.4 542.8h0.9v0.9h-0.9zM323.0 542.8h0.9v0.9h-0.9zM318.7 543.6h0.9v0.9h-0.9zM317.1 547.9h0.9v0.9h-0.9zM325.2 536.0h0.9v0.9h-0.9zM316.6 531.9h0.9v0.9h-0.9zM319.3 546.6h0.9v0.9h-0.9zM319.5 531.4h0.9v0.9h-0.9zM321.9 545.0h0.9v0.9h-0.9zM324.1 534.5h0.9v0.9h-0.9zM319.8 546.2h0.9v0.9h-0.9zM319.9 533.8h0.9v0.9h-0.9zM314.7 529.6h0.9v0.9h-0.9zM317.5 539.7h0.9v0.9h-0.9zM324.2 532.4h0.9v0.9h-0.9zM326.4 536.5h0.9v0.9h-0.9zM326.5 540.0h0.9v0.9h-0.9zM314.3 540.6h0.9v0.9h-0.9zM322.2 538.8h0.9v0.9h-0.9zM326.5 540.0h0.9v0.9h-0.9zM317.3 530.1h0.9v0.9h-0.9zM322.4 541.3h0.9v0.9h-0.9zM319.1 539.6h0.9v0.9h-0.9zM325.2 530.9h0.9v0.9h-0.9zM320.2 534.6h0.9v0.9h-0.9zM324.7 539.9h0.9v0.9h-0.9zM317.5 549.2h0.9v0.9h-0.9zM314.5 529.7h0.9v0.9h-0.9zM319.8 530.1h0.9v0.9h-0.9zM325.8 542.4h0.9v0.9h-0.9zM317.2 550.2h0.9v0.9h-0.9zM324.8 535.4h0.9v0.9h-0.9zM314.2 534.1h0.9v0.9h-0.9zM322.4 536.3h0.9v0.9h-0.9zM319.4 529.9h0.9v0.9h-0.9zM325.9 550.0h0.9v0.9h-0.9zM323.4 549.9h0.9v0.9h-0.9zM315.8 547.4h0.9v0.9h-0.9zM324.0 534.1h0.9v0.9h-0.9zM316.7 545.4h0.9v0.9h-0.9zM321.2 532.9h0.9v0.9h-0.9zM320.4 548.7h0.9v0.9h-0.9zM319.4 534.0h0.9v0.9h-0.9zM326.1 547.8h0.9v0.9h-0.9zM320.9 543.4h0.9v0.9h-0.9zM316.2 546.0h0.9v0.9h-0.9zM325.2 532.2h0.9v0.9h-0.9zM322.2 549.8h0.9v0.9h-0.9zM325.3 536.6h0.9v0.9h-0.9zM326.3 544.5h0.9v0.9h-0.9zM326.2 542.3h0.9v0.9h-0.9zM320.9 536.5h0.9v0.9h-0.9zM314.6 533.7h0.9v0.9h-0.9zM325.9 539.5h0.9v0.9h-0.9zM317.2 542.0h0.9v0.9h-0.9zM316.2 531.3h0.9v0.9h-0.9zM322.0 548.1h0.9v0.9h-0.9zM320.8 530.9h0.9v0.9h-0.9zM321.9 538.7h0.9v0.9h-0.9zM324.6 530.2h0.9v0.9h-0.9zM317.1 550.2h0.9v0.9h-0.9zM314.4 551.4h0.9v0.9h-0.9zM324.1 549.8h0.9v0.9h-0.9zM315.2 540.7h0.9v0.9h-0.9zM318.2 534.6h0.9v0.9h-0.9zM321.6 539.1h0.9v0.9h-0.9zM314.1 547.9h0.9v0.9h-0.9zM326.0 538.0h0.9v0.9h-0.9zM320.3 534.6h0.9v0.9h-0.9zM318.0 537.2h0.9v0.9h-0.9zM320.1 538.8h0.9v0.9h-0.9zM316.9 531.8h0.9v0.9h-0.9zM316.2 543.4h0.9v0.9h-0.9zM315.8 541.1h0.9v0.9h-0.9zM324.2 530.6h0.9v0.9h-0.9zM325.7 541.2h0.9v0.9h-0.9zM319.3 533.5h0.9v0.9h-0.9zM314.4 543.5h0.9v0.9h-0.9zM319.7 545.8h0.9v0.9h-0.9zM318.0 534.1h0.9v0.9h-0.9zM319.2 536.2h0.9v0.9h-0.9zM317.6 532.1h0.9v0.9h-0.9zM314.6 542.3h0.9v0.9h-0.9zM314.2 529.6h0.9v0.9h-0.9zM318.7 539.9h0.9v0.9h-0.9zM324.2 532.1h0.9v0.9h-0.9zM319.1 537.9h0.9v0.9h-0.9zM323.2 532.7h0.9v0.9h-0.9zM318.2 547.0h0.9v0.9h-0.9z" fill="#2a2aff" fill-opacity="0.8"/>
<rect x="246.8" y="466.3" width="168.2" height="94.90000000000003" fill="none" stroke="#555" stroke-width="1.0"/>
<line x1="327.1" y1="466.3" x2="327.1" y2="561.2" stroke="#666" stroke-width="1.0"/>
<line x1="246.8" y1="528.3" x2="415.0" y2="528.3" stroke="#666" stroke-width="1.0"/>
<path d="M242.3 475.50530000000003h4.5M244.3 477.7h2.5M244.3 479.9h2.5M244.3 482.1h2.5M244.3 484.3h2.5M244.3 486.5h2.5M244.3 488.7h2.5M244.3 490.9h2.5M242.3 496.668h4.5M244.3 498.9h2.5M244.3 501.1h2.5M244.3 503.3h2.5M244.3 505.5h2.5M244.3 507.7h2.5M244.3 509.9h2.5M244.3 512.1h2.5M242.3 517.8307h4.5M244.3 520.0h2.5M244.3 522.2h2.5M244.3 524.4h2.5M244.3 526.6h2.5M244.3 528.8h2.5M244.3 531.0h2.5M244.3 533.2h2.5M242.3 539.0883h4.5M244.3 541.3h2.5M244.3 543.5h2.5M244.3 545.7h2.5M244.3 547.9h2.5M244.3 550.1h2.5M244.3 552.3h2.5M244.3 554.5h2.5M242.3 552.7h4.5M244.3 554.9h2.5M244.3 557.1h2.5M244.3 559.3h2.5M242.3 561.2h4.5" stroke="#555" stroke-width="0.75" fill="none"/>
<path d="M248.8 561.2v4.5M251.4 561.2v2.5M254.0 561.2v2.5M256.6 561.2v2.5M259.2 561.2v2.5M261.8 561.2v2.5M264.4 561.2v2.5M267.0 561.2v2.5M258.8 561.2v4.5M261.4 561.2v2.5M264.0 561.2v2.5M266.6 561.2v2.5M269.2 561.2v2.5M271.8 561.2v2.5M274.4 561.2v2.5M277.0 561.2v2.5M282.8 561.2v4.5M285.4 561.2v2.5M288.0 561.2v2.5M290.6 561.2v2.5M293.2 561.2v2.5M295.8 561.2v2.5M298.4 561.2v2.5M301.0 561.2v2.5M324.1 561.2v4.5M326.7 561.2v2.5M329.3 561.2v2.5M331.9 561.2v2.5M334.5 561.2v2.5M337.1 561.2v2.5M339.7 561.2v2.5M342.3 561.2v2.5M360.1 561.2v4.5M362.7 561.2v2.5M365.3 561.2v2.5M367.9 561.2v2.5M370.5 561.2v2.5M373.1 561.2v2.5M375.7 561.2v2.5M378.3 561.2v2.5M398.0 561.2v4.5M400.6 561.2v2.5M403.2 561.2v2.5M405.8 561.2v2.5M408.4 561.2v2.5M411.0 561.2v2.5M413.6 561.2v2.5" stroke="#555" stroke-width="0.75" fill="none"/>
<text x="258.8" y="571.7" font-size="4.8" text-anchor="middle" font-weight="normal" fill="#333" stroke="#333" stroke-width="0">0</text>
<text x="282.8" y="571.7" font-size="4.8" text-anchor="middle" font-weight="normal" fill="#333" stroke="#333" stroke-width="0">10²</text>
<text x="324.1" y="571.7" font-size="4.8" text-anchor="middle" font-weight="normal" fill="#333" stroke="#333" stroke-width="0">10³</text>
<text x="360.1" y="571.7" font-size="4.8" text-anchor="middle" font-weight="normal" fill="#333" stroke="#333" stroke-width="0">10⁴</text>
<text x="398.0" y="571.7" font-size="4.8" text-anchor="middle" font-weight="normal" fill="#333" stroke="#333" stroke-width="0">10⁵</text>
<text x="245.8" y="573.2" font-size="4.4" text-anchor="middle" font-weight="normal" fill="#333" stroke="#333" stroke-width="0">-48</text>
<text x="239.3" y="475.50530000000003" font-size="4.8" text-anchor="middle" font-weight="normal" fill="#333" stroke="#333" stroke-width="0" transform="rotate(-90 239.3 475.50530000000003)">10⁵</text>
<text x="239.3" y="496.668" font-size="4.8" text-anchor="middle" font-weight="normal" fill="#333" stroke="#333" stroke-width="0" transform="rotate(-90 239.3 496.668)">10⁴</text>
<text x="239.3" y="517.8307" font-size="4.8" text-anchor="middle" font-weight="normal" fill="#333" stroke="#333" stroke-width="0" transform="rotate(-90 239.3 517.8307)">10³</text>
<text x="239.3" y="539.0883" font-size="4.8" text-anchor="middle" font-weight="normal" fill="#333" stroke="#333" stroke-width="0" transform="rotate(-90 239.3 539.0883)">10²</text>
<text x="239.3" y="552.7" font-size="4.8" text-anchor="middle" font-weight="normal" fill="#333" stroke="#333" stroke-width="0" transform="rotate(-90 239.3 552.7)">0</text>
<text x="239.3" y="561.2" font-size="4.8" text-anchor="middle" font-weight="normal" fill="#333" stroke="#333" stroke-width="0" transform="rotate(-90 239.3 561.2)">-62</text>
<text x="249.4" y="475.90000000000003" font-size="9.5" text-anchor="start" font-weight="bold" fill="#222" stroke="#222" stroke-width="0.28">dead</text>
<text x="249.4" y="488.7" font-size="9.5" text-anchor="start" font-weight="bold" fill="#222" stroke="#222" stroke-width="0.28">0.6%</text>
<text x="412.6" y="475.90000000000003" font-size="9.5" text-anchor="end" font-weight="bold" fill="#222" stroke="#222" stroke-width="0.28">late apoptotic</text>
<text x="409.0" y="488.7" font-size="9.5" text-anchor="end" font-weight="bold" fill="#222" stroke="#222" stroke-width="0.28">2.7%</text>
<text x="249.4" y="539.0999999999999" font-size="9.5" text-anchor="start" font-weight="bold" fill="#222" stroke="#222" stroke-width="0.28">94.6%</text>
<text x="409.0" y="539.0999999999999" font-size="9.5" text-anchor="end" font-weight="bold" fill="#222" stroke="#222" stroke-width="0.28">2.3%</text>
<text x="249.4" y="560.0" font-size="9.5" text-anchor="start" font-weight="bold" fill="#222" stroke="#222" stroke-width="0.28">live</text>
<text x="412.6" y="557.6" font-size="9.5" text-anchor="end" font-weight="bold" fill="#222" stroke="#222" stroke-width="0.28">early apoptotic</text>
<text x="328.5" y="580.4000000000001" font-size="9.8" text-anchor="middle" font-weight="bold" fill="#222" stroke="#222" stroke-width="0.28">FITC</text>
<path d="M340.4 635.6h0.9v0.9h-0.9zM335.2 637.9h0.9v0.9h-0.9zM349.7 629.8h0.9v0.9h-0.9zM356.4 616.5h0.9v0.9h-0.9zM340.7 627.0h0.9v0.9h-0.9zM331.8 636.0h0.9v0.9h-0.9zM342.3 634.2h0.9v0.9h-0.9zM345.3 645.5h0.9v0.9h-0.9zM349.1 615.7h0.9v0.9h-0.9zM342.1 626.7h0.9v0.9h-0.9zM334.6 645.1h0.9v0.9h-0.9zM337.7 619.8h0.9v0.9h-0.9zM343.3 628.5h0.9v0.9h-0.9zM327.7 633.1h0.9v0.9h-0.9zM333.4 636.2h0.9v0.9h-0.9zM335.5 635.7h0.9v0.9h-0.9zM359.3 615.4h0.9v0.9h-0.9zM331.5 635.7h0.9v0.9h-0.9zM351.5 620.6h0.9v0.9h-0.9zM355.1 614.2h0.9v0.9h-0.9zM329.2 638.5h0.9v0.9h-0.9zM330.9 633.4h0.9v0.9h-0.9zM344.7 634.9h0.9v0.9h-0.9zM341.2 629.8h0.9v0.9h-0.9zM354.1 627.1h0.9v0.9h-0.9zM337.5 642.7h0.9v0.9h-0.9zM330.5 639.3h0.9v0.9h-0.9zM346.9 628.3h0.9v0.9h-0.9zM334.0 638.6h0.9v0.9h-0.9zM334.3 631.5h0.9v0.9h-0.9zM334.2 644.2h0.9v0.9h-0.9zM344.0 628.3h0.9v0.9h-0.9zM347.0 630.3h0.9v0.9h-0.9zM341.4 621.8h0.9v0.9h-0.9zM340.7 638.5h0.9v0.9h-0.9zM345.1 636.7h0.9v0.9h-0.9zM355.6 626.3h0.9v0.9h-0.9zM360.7 609.4h0.9v0.9h-0.9zM337.5 615.8h0.9v0.9h-0.9zM348.6 628.1h0.9v0.9h-0.9zM357.7 619.4h0.9v0.9h-0.9zM338.2 638.1h0.9v0.9h-0.9zM334.7 637.0h0.9v0.9h-0.9zM339.3 633.8h0.9v0.9h-0.9zM346.1 630.1h0.9v0.9h-0.9zM342.1 624.6h0.9v0.9h-0.9zM338.8 636.4h0.9v0.9h-0.9zM351.0 625.2h0.9v0.9h-0.9zM341.0 634.4h0.9v0.9h-0.9zM346.0 630.5h0.9v0.9h-0.9zM337.3 630.4h0.9v0.9h-0.9zM351.8 627.7h0.9v0.9h-0.9zM349.3 633.2h0.9v0.9h-0.9zM341.6 624.2h0.9v0.9h-0.9zM351.9 624.8h0.9v0.9h-0.9zM340.6 639.6h0.9v0.9h-0.9zM350.7 627.9h0.9v0.9h-0.9zM346.0 621.6h0.9v0.9h-0.9zM347.9 629.0h0.9v0.9h-0.9zM340.3 637.2h0.9v0.9h-0.9zM342.5 645.5h0.9v0.9h-0.9zM342.1 633.1h0.9v0.9h-0.9zM352.2 621.3h0.9v0.9h-0.9zM350.6 625.8h0.9v0.9h-0.9zM352.4 619.1h0.9v0.9h-0.9zM344.4 618.4h0.9v0.9h-0.9zM335.4 635.3h0.9v0.9h-0.9zM345.2 643.7h0.9v0.9h-0.9zM359.3 611.5h0.9v0.9h-0.9zM332.1 646.2h0.9v0.9h-0.9zM344.6 619.9h0.9v0.9h-0.9zM345.1 621.4h0.9v0.9h-0.9zM331.0 628.7h0.9v0.9h-0.9zM344.0 629.4h0.9v0.9h-0.9zM366.4 613.6h0.9v0.9h-0.9zM338.4 631.5h0.9v0.9h-0.9zM344.4 627.7h0.9v0.9h-0.9zM355.3 621.4h0.9v0.9h-0.9zM345.9 630.7h0.9v0.9h-0.9zM331.0 630.8h0.9v0.9h-0.9zM339.5 616.3h0.9v0.9h-0.9zM340.2 633.0h0.9v0.9h-0.9zM341.5 631.1h0.9v0.9h-0.9zM343.7 627.8h0.9v0.9h-0.9zM346.7 616.8h0.9v0.9h-0.9zM349.6 620.5h0.9v0.9h-0.9zM345.1 626.2h0.9v0.9h-0.9zM335.5 629.4h0.9v0.9h-0.9zM354.1 616.4h0.9v0.9h-0.9zM327.4 641.5h0.9v0.9h-0.9zM342.7 631.2h0.9v0.9h-0.9zM329.9 633.8h0.9v0.9h-0.9zM349.5 619.5h0.9v0.9h-0.9zM346.4 634.0h0.9v0.9h-0.9zM341.4 622.9h0.9v0.9h-0.9zM360.0 621.7h0.9v0.9h-0.9zM342.1 628.6h0.9v0.9h-0.9zM330.1 636.4h0.9v0.9h-0.9zM342.1 625.2h0.9v0.9h-0.9zM341.2 640.1h0.9v0.9h-0.9zM344.6 629.1h0.9v0.9h-0.9zM351.0 632.7h0.9v0.9h-0.9zM349.5 621.2h0.9v0.9h-0.9zM340.6 629.5h0.9v0.9h-0.9zM345.1 626.3h0.9v0.9h-0.9zM350.6 639.0h0.9v0.9h-0.9zM342.7 634.6h0.9v0.9h-0.9zM330.5 638.3h0.9v0.9h-0.9zM339.7 631.9h0.9v0.9h-0.9zM335.0 643.8h0.9v0.9h-0.9zM335.9 635.2h0.9v0.9h-0.9zM340.6 646.2h0.9v0.9h-0.9zM354.7 623.0h0.9v0.9h-0.9zM333.6 627.4h0.9v0.9h-0.9zM343.3 620.9h0.9v0.9h-0.9zM334.6 637.1h0.9v0.9h-0.9zM341.3 624.9h0.9v0.9h-0.9zM337.1 630.9h0.9v0.9h-0.9zM345.1 631.5h0.9v0.9h-0.9zM342.4 626.9h0.9v0.9h-0.9zM348.3 623.6h0.9v0.9h-0.9zM331.3 634.5h0.9v0.9h-0.9zM336.6 632.3h0.9v0.9h-0.9zM346.5 638.2h0.9v0.9h-0.9zM335.9 640.3h0.9v0.9h-0.9zM342.1 631.5h0.9v0.9h-0.9zM358.8 617.2h0.9v0.9h-0.9zM346.0 616.5h0.9v0.9h-0.9zM345.9 627.8h0.9v0.9h-0.9zM329.4 634.5h0.9v0.9h-0.9zM341.8 612.5h0.9v0.9h-0.9zM351.3 632.9h0.9v0.9h-0.9zM332.2 626.5h0.9v0.9h-0.9zM328.2 644.9h0.9v0.9h-0.9zM353.1 618.0h0.9v0.9h-0.9zM337.2 639.0h0.9v0.9h-0.9zM333.2 645.5h0.9v0.9h-0.9zM362.5 618.9h0.9v0.9h-0.9zM331.4 641.8h0.9v0.9h-0.9zM343.5 625.0h0.9v0.9h-0.9zM338.5 634.0h0.9v0.9h-0.9zM345.3 637.6h0.9v0.9h-0.9zM334.9 626.1h0.9v0.9h-0.9zM335.6 632.1h0.9v0.9h-0.9zM365.8 625.4h0.9v0.9h-0.9zM363.5 617.4h0.9v0.9h-0.9zM332.8 633.0h0.9v0.9h-0.9zM346.8 631.5h0.9v0.9h-0.9zM344.2 646.4h0.9v0.9h-0.9zM354.2 616.3h0.9v0.9h-0.9zM344.6 634.1h0.9v0.9h-0.9zM349.6 637.8h0.9v0.9h-0.9zM334.4 627.5h0.9v0.9h-0.9zM347.9 626.4h0.9v0.9h-0.9zM333.9 635.4h0.9v0.9h-0.9zM342.2 632.3h0.9v0.9h-0.9zM337.8 637.1h0.9v0.9h-0.9zM370.5 623.1h0.9v0.9h-0.9zM334.9 624.3h0.9v0.9h-0.9zM352.1 617.4h0.9v0.9h-0.9zM337.8 624.8h0.9v0.9h-0.9zM333.9 636.0h0.9v0.9h-0.9zM346.7 621.6h0.9v0.9h-0.9zM345.8 630.9h0.9v0.9h-0.9zM345.7 625.2h0.9v0.9h-0.9zM327.7 646.6h0.9v0.9h-0.9zM346.0 624.0h0.9v0.9h-0.9zM331.7 642.3h0.9v0.9h-0.9zM361.1 622.7h0.9v0.9h-0.9zM366.5 619.1h0.9v0.9h-0.9zM343.5 633.9h0.9v0.9h-0.9zM351.4 614.9h0.9v0.9h-0.9zM341.5 640.7h0.9v0.9h-0.9zM347.8 640.3h0.9v0.9h-0.9zM356.4 622.6h0.9v0.9h-0.9zM361.7 611.7h0.9v0.9h-0.9zM347.0 620.1h0.9v0.9h-0.9zM351.4 632.0h0.9v0.9h-0.9zM347.6 624.8h0.9v0.9h-0.9zM337.7 632.7h0.9v0.9h-0.9zM334.5 631.6h0.9v0.9h-0.9zM349.7 618.5h0.9v0.9h-0.9z" fill="#48cc48" fill-opacity="0.85"/>
<path d="M328.7 642.6h0.9v0.9h-0.9zM334.7 639.0h0.9v0.9h-0.9zM336.7 640.6h0.9v0.9h-0.9zM328.0 640.6h0.9v0.9h-0.9zM327.6 642.3h0.9v0.9h-0.9zM334.3 644.3h0.9v0.9h-0.9zM335.8 646.8h0.9v0.9h-0.9zM328.8 643.2h0.9v0.9h-0.9zM331.4 645.6h0.9v0.9h-0.9zM332.5 638.1h0.9v0.9h-0.9zM330.4 643.1h0.9v0.9h-0.9zM337.5 643.7h0.9v0.9h-0.9zM330.9 644.5h0.9v0.9h-0.9zM333.7 641.0h0.9v0.9h-0.9zM330.5 644.1h0.9v0.9h-0.9zM330.9 643.7h0.9v0.9h-0.9zM329.1 644.7h0.9v0.9h-0.9zM330.9 639.0h0.9v0.9h-0.9zM330.0 647.3h0.9v0.9h-0.9zM330.3 644.0h0.9v0.9h-0.9zM331.2 638.5h0.9v0.9h-0.9zM332.3 640.0h0.9v0.9h-0.9zM329.0 645.2h0.9v0.9h-0.9zM338.3 645.2h0.9v0.9h-0.9zM333.6 643.5h0.9v0.9h-0.9zM331.1 641.4h0.9v0.9h-0.9zM333.7 644.9h0.9v0.9h-0.9zM331.8 645.6h0.9v0.9h-0.9zM327.4 639.0h0.9v0.9h-0.9zM329.3 644.5h0.9v0.9h-0.9zM328.9 647.3h0.9v0.9h-0.9zM333.1 644.4h0.9v0.9h-0.9zM337.0 647.2h0.9v0.9h-0.9zM336.9 645.4h0.9v0.9h-0.9zM332.0 646.4h0.9v0.9h-0.9zM334.0 645.1h0.9v0.9h-0.9zM328.4 642.7h0.9v0.9h-0.9zM333.1 644.4h0.9v0.9h-0.9zM336.1 643.1h0.9v0.9h-0.9zM332.2 644.4h0.9v0.9h-0.9zM335.5 641.8h0.9v0.9h-0.9zM327.7 639.5h0.9v0.9h-0.9zM332.9 645.7h0.9v0.9h-0.9zM333.6 647.1h0.9v0.9h-0.9zM334.1 640.2h0.9v0.9h-0.9zM333.0 644.9h0.9v0.9h-0.9zM331.5 646.7h0.9v0.9h-0.9zM328.9 643.6h0.9v0.9h-0.9zM328.7 642.6h0.9v0.9h-0.9z" fill="#40c840" fill-opacity="0.9"/>
<path d="M329.8 671.1h0.9v0.9h-0.9zM338.9 663.7h0.9v0.9h-0.9zM335.8 666.0h0.9v0.9h-0.9zM339.2 676.4h0.9v0.9h-0.9zM334.0 649.2h0.9v0.9h-0.9zM333.9 664.2h0.9v0.9h-0.9zM332.5 673.6h0.9v0.9h-0.9zM333.1 666.3h0.9v0.9h-0.9zM331.1 668.8h0.9v0.9h-0.9zM331.8 669.3h0.9v0.9h-0.9zM336.4 665.9h0.9v0.9h-0.9zM337.4 654.6h0.9v0.9h-0.9zM333.1 665.6h0.9v0.9h-0.9zM333.5 672.0h0.9v0.9h-0.9zM340.5 660.9h0.9v0.9h-0.9zM342.1 664.4h0.9v0.9h-0.9zM338.7 673.1h0.9v0.9h-0.9zM329.5 658.3h0.9v0.9h-0.9zM335.3 663.1h0.9v0.9h-0.9zM336.5 666.1h0.9v0.9h-0.9zM337.3 669.6h0.9v0.9h-0.9zM331.1 665.9h0.9v0.9h-0.9zM333.3 661.2h0.9v0.9h-0.9zM330.8 671.6h0.9v0.9h-0.9zM339.4 663.3h0.9v0.9h-0.9zM332.0 670.8h0.9v0.9h-0.9zM330.5 661.9h0.9v0.9h-0.9zM337.9 661.7h0.9v0.9h-0.9zM332.8 664.6h0.9v0.9h-0.9zM341.0 659.7h0.9v0.9h-0.9zM338.5 664.8h0.9v0.9h-0.9zM333.7 655.8h0.9v0.9h-0.9zM345.2 670.0h0.9v0.9h-0.9zM337.1 662.9h0.9v0.9h-0.9zM344.5 662.1h0.9v0.9h-0.9zM330.0 658.6h0.9v0.9h-0.9zM335.3 666.7h0.9v0.9h-0.9zM337.1 671.8h0.9v0.9h-0.9zM333.8 673.8h0.9v0.9h-0.9zM346.6 663.1h0.9v0.9h-0.9zM334.2 670.7h0.9v0.9h-0.9zM342.3 665.8h0.9v0.9h-0.9zM341.9 655.8h0.9v0.9h-0.9zM340.8 668.4h0.9v0.9h-0.9zM340.6 668.7h0.9v0.9h-0.9zM339.3 662.4h0.9v0.9h-0.9zM343.3 652.7h0.9v0.9h-0.9zM337.0 660.8h0.9v0.9h-0.9zM346.3 659.3h0.9v0.9h-0.9zM336.3 664.6h0.9v0.9h-0.9zM340.1 665.4h0.9v0.9h-0.9zM329.8 662.7h0.9v0.9h-0.9zM342.1 670.7h0.9v0.9h-0.9zM331.7 655.9h0.9v0.9h-0.9zM328.6 662.7h0.9v0.9h-0.9zM334.8 662.2h0.9v0.9h-0.9zM332.8 665.4h0.9v0.9h-0.9zM342.9 672.4h0.9v0.9h-0.9zM333.2 669.3h0.9v0.9h-0.9zM334.3 672.7h0.9v0.9h-0.9zM341.3 671.8h0.9v0.9h-0.9zM347.9 673.6h0.9v0.9h-0.9zM340.7 674.6h0.9v0.9h-0.9zM329.9 661.6h0.9v0.9h-0.9zM333.8 669.9h0.9v0.9h-0.9zM335.9 656.7h0.9v0.9h-0.9zM331.5 662.7h0.9v0.9h-0.9zM333.1 661.3h0.9v0.9h-0.9zM327.6 664.1h0.9v0.9h-0.9zM328.5 660.9h0.9v0.9h-0.9zM332.2 662.1h0.9v0.9h-0.9zM343.6 663.4h0.9v0.9h-0.9zM333.4 648.3h0.9v0.9h-0.9zM330.8 665.4h0.9v0.9h-0.9zM333.9 669.5h0.9v0.9h-0.9zM334.0 669.6h0.9v0.9h-0.9zM337.1 671.9h0.9v0.9h-0.9zM334.1 670.2h0.9v0.9h-0.9zM333.0 659.3h0.9v0.9h-0.9zM341.9 656.9h0.9v0.9h-0.9zM330.6 674.4h0.9v0.9h-0.9zM336.6 667.3h0.9v0.9h-0.9zM336.9 664.7h0.9v0.9h-0.9zM346.5 666.9h0.9v0.9h-0.9zM343.5 666.1h0.9v0.9h-0.9zM331.8 662.3h0.9v0.9h-0.9zM332.3 666.9h0.9v0.9h-0.9zM327.2 666.8h0.9v0.9h-0.9zM334.9 667.1h0.9v0.9h-0.9zM336.1 661.8h0.9v0.9h-0.9zM336.0 664.8h0.9v0.9h-0.9zM341.4 665.3h0.9v0.9h-0.9zM334.9 656.2h0.9v0.9h-0.9zM340.5 664.5h0.9v0.9h-0.9zM330.6 671.5h0.9v0.9h-0.9zM340.7 665.4h0.9v0.9h-0.9zM335.9 656.2h0.9v0.9h-0.9zM327.4 667.3h0.9v0.9h-0.9zM333.7 665.9h0.9v0.9h-0.9zM332.6 666.9h0.9v0.9h-0.9zM339.9 666.2h0.9v0.9h-0.9zM339.8 670.3h0.9v0.9h-0.9zM334.8 653.6h0.9v0.9h-0.9zM339.1 661.4h0.9v0.9h-0.9zM329.9 651.7h0.9v0.9h-0.9zM345.4 675.0h0.9v0.9h-0.9zM346.8 654.3h0.9v0.9h-0.9zM339.7 656.4h0.9v0.9h-0.9zM327.5 667.1h0.9v0.9h-0.9zM340.7 659.6h0.9v0.9h-0.9zM334.4 670.0h0.9v0.9h-0.9zM346.5 669.4h0.9v0.9h-0.9zM329.9 656.5h0.9v0.9h-0.9zM335.8 668.6h0.9v0.9h-0.9zM332.0 669.2h0.9v0.9h-0.9zM343.3 674.9h0.9v0.9h-0.9zM344.0 666.7h0.9v0.9h-0.9zM336.0 657.4h0.9v0.9h-0.9zM335.3 659.3h0.9v0.9h-0.9zM338.8 669.8h0.9v0.9h-0.9zM334.7 674.5h0.9v0.9h-0.9zM328.1 659.5h0.9v0.9h-0.9zM344.9 664.5h0.9v0.9h-0.9zM339.3 648.7h0.9v0.9h-0.9zM343.7 661.4h0.9v0.9h-0.9zM331.7 670.1h0.9v0.9h-0.9zM335.8 653.3h0.9v0.9h-0.9zM342.8 659.6h0.9v0.9h-0.9zM333.4 659.8h0.9v0.9h-0.9zM332.9 661.2h0.9v0.9h-0.9zM333.4 660.9h0.9v0.9h-0.9zM349.1 668.7h0.9v0.9h-0.9zM338.7 661.1h0.9v0.9h-0.9zM345.3 669.5h0.9v0.9h-0.9zM335.9 660.9h0.9v0.9h-0.9zM339.8 654.1h0.9v0.9h-0.9zM331.6 661.5h0.9v0.9h-0.9zM337.4 665.6h0.9v0.9h-0.9zM327.3 666.8h0.9v0.9h-0.9zM333.0 660.5h0.9v0.9h-0.9zM336.1 662.4h0.9v0.9h-0.9zM332.9 661.4h0.9v0.9h-0.9zM339.1 665.3h0.9v0.9h-0.9zM336.6 660.4h0.9v0.9h-0.9zM341.8 666.3h0.9v0.9h-0.9zM331.3 670.6h0.9v0.9h-0.9zM327.9 658.4h0.9v0.9h-0.9zM339.8 662.3h0.9v0.9h-0.9zM333.7 661.8h0.9v0.9h-0.9zM335.5 667.4h0.9v0.9h-0.9zM338.7 660.6h0.9v0.9h-0.9zM332.7 651.2h0.9v0.9h-0.9zM332.7 666.9h0.9v0.9h-0.9zM335.6 672.0h0.9v0.9h-0.9zM333.9 665.8h0.9v0.9h-0.9zM340.1 657.9h0.9v0.9h-0.9zM342.9 656.9h0.9v0.9h-0.9zM333.9 652.4h0.9v0.9h-0.9zM333.8 657.7h0.9v0.9h-0.9zM340.6 652.4h0.9v0.9h-0.9zM337.9 667.2h0.9v0.9h-0.9zM338.4 671.2h0.9v0.9h-0.9zM339.9 659.4h0.9v0.9h-0.9zM338.7 660.2h0.9v0.9h-0.9zM331.7 661.9h0.9v0.9h-0.9zM332.7 660.1h0.9v0.9h-0.9zM341.0 665.8h0.9v0.9h-0.9zM336.7 661.2h0.9v0.9h-0.9zM337.8 650.1h0.9v0.9h-0.9zM343.7 663.6h0.9v0.9h-0.9zM330.2 668.7h0.9v0.9h-0.9zM331.1 656.5h0.9v0.9h-0.9zM339.8 677.6h0.9v0.9h-0.9zM333.5 663.5h0.9v0.9h-0.9zM334.7 666.8h0.9v0.9h-0.9zM333.1 664.8h0.9v0.9h-0.9zM331.1 662.8h0.9v0.9h-0.9zM339.9 655.5h0.9v0.9h-0.9zM339.3 676.0h0.9v0.9h-0.9zM331.7 661.3h0.9v0.9h-0.9zM336.0 664.2h0.9v0.9h-0.9zM329.5 668.6h0.9v0.9h-0.9zM338.8 671.5h0.9v0.9h-0.9zM339.3 661.2h0.9v0.9h-0.9zM334.6 660.3h0.9v0.9h-0.9zM349.5 664.4h0.9v0.9h-0.9zM340.3 674.8h0.9v0.9h-0.9zM334.8 665.8h0.9v0.9h-0.9zM337.7 675.0h0.9v0.9h-0.9zM328.9 665.0h0.9v0.9h-0.9zM337.8 667.8h0.9v0.9h-0.9zM331.1 669.5h0.9v0.9h-0.9zM338.1 658.6h0.9v0.9h-0.9zM329.8 676.0h0.9v0.9h-0.9zM332.1 653.9h0.9v0.9h-0.9zM337.7 657.9h0.9v0.9h-0.9zM335.3 667.6h0.9v0.9h-0.9zM330.5 654.7h0.9v0.9h-0.9zM345.6 658.0h0.9v0.9h-0.9zM329.1 663.2h0.9v0.9h-0.9zM337.8 664.3h0.9v0.9h-0.9zM330.6 669.4h0.9v0.9h-0.9zM329.4 658.2h0.9v0.9h-0.9zM339.1 671.6h0.9v0.9h-0.9zM337.9 670.6h0.9v0.9h-0.9zM337.6 670.0h0.9v0.9h-0.9zM331.6 659.2h0.9v0.9h-0.9zM338.5 671.3h0.9v0.9h-0.9zM333.3 659.3h0.9v0.9h-0.9zM334.7 671.2h0.9v0.9h-0.9zM335.0 662.8h0.9v0.9h-0.9zM334.6 662.4h0.9v0.9h-0.9zM338.3 662.3h0.9v0.9h-0.9zM336.2 663.1h0.9v0.9h-0.9zM331.3 664.0h0.9v0.9h-0.9zM337.0 653.9h0.9v0.9h-0.9zM336.8 666.2h0.9v0.9h-0.9zM334.8 657.7h0.9v0.9h-0.9zM332.0 668.1h0.9v0.9h-0.9zM330.7 669.9h0.9v0.9h-0.9zM333.3 666.3h0.9v0.9h-0.9zM336.4 654.5h0.9v0.9h-0.9zM340.9 662.4h0.9v0.9h-0.9zM329.2 672.1h0.9v0.9h-0.9zM343.0 672.4h0.9v0.9h-0.9zM340.1 672.5h0.9v0.9h-0.9zM343.1 669.5h0.9v0.9h-0.9zM336.2 663.0h0.9v0.9h-0.9zM333.7 659.4h0.9v0.9h-0.9zM341.1 665.6h0.9v0.9h-0.9zM336.7 664.0h0.9v0.9h-0.9zM339.2 670.1h0.9v0.9h-0.9zM338.7 654.4h0.9v0.9h-0.9zM340.3 653.4h0.9v0.9h-0.9zM332.7 660.3h0.9v0.9h-0.9zM334.6 654.2h0.9v0.9h-0.9zM338.5 663.3h0.9v0.9h-0.9zM340.5 666.2h0.9v0.9h-0.9zM335.3 670.8h0.9v0.9h-0.9zM342.5 669.0h0.9v0.9h-0.9zM331.6 666.0h0.9v0.9h-0.9zM341.3 670.5h0.9v0.9h-0.9zM344.4 673.5h0.9v0.9h-0.9zM333.5 677.7h0.9v0.9h-0.9zM339.4 669.7h0.9v0.9h-0.9zM336.7 657.0h0.9v0.9h-0.9zM341.0 676.2h0.9v0.9h-0.9zM331.0 663.2h0.9v0.9h-0.9zM332.9 668.2h0.9v0.9h-0.9zM331.5 658.7h0.9v0.9h-0.9zM327.6 662.0h0.9v0.9h-0.9zM340.9 657.8h0.9v0.9h-0.9zM333.2 673.2h0.9v0.9h-0.9zM331.2 650.6h0.9v0.9h-0.9zM330.4 668.8h0.9v0.9h-0.9zM335.7 658.7h0.9v0.9h-0.9zM332.0 671.8h0.9v0.9h-0.9zM328.0 672.1h0.9v0.9h-0.9zM333.3 667.8h0.9v0.9h-0.9zM329.8 658.0h0.9v0.9h-0.9zM348.6 665.9h0.9v0.9h-0.9zM330.2 666.9h0.9v0.9h-0.9zM331.7 657.6h0.9v0.9h-0.9zM330.8 660.3h0.9v0.9h-0.9zM342.9 655.4h0.9v0.9h-0.9zM337.8 654.6h0.9v0.9h-0.9zM338.7 661.9h0.9v0.9h-0.9zM338.9 663.6h0.9v0.9h-0.9zM340.7 669.9h0.9v0.9h-0.9zM337.8 669.0h0.9v0.9h-0.9zM333.0 661.8h0.9v0.9h-0.9zM331.3 667.4h0.9v0.9h-0.9zM337.6 664.0h0.9v0.9h-0.9zM329.3 663.0h0.9v0.9h-0.9zM338.2 670.0h0.9v0.9h-0.9zM332.1 668.5h0.9v0.9h-0.9zM328.9 660.5h0.9v0.9h-0.9zM329.7 664.9h0.9v0.9h-0.9zM330.6 658.9h0.9v0.9h-0.9zM341.2 672.2h0.9v0.9h-0.9zM340.2 671.3h0.9v0.9h-0.9zM333.1 672.7h0.9v0.9h-0.9zM338.8 656.6h0.9v0.9h-0.9zM328.3 666.6h0.9v0.9h-0.9zM336.4 665.8h0.9v0.9h-0.9zM339.2 671.9h0.9v0.9h-0.9zM336.1 676.0h0.9v0.9h-0.9zM340.1 673.1h0.9v0.9h-0.9zM342.3 659.9h0.9v0.9h-0.9zM344.6 660.5h0.9v0.9h-0.9zM336.5 663.2h0.9v0.9h-0.9zM330.9 663.3h0.9v0.9h-0.9zM327.3 666.9h0.9v0.9h-0.9zM335.1 660.1h0.9v0.9h-0.9zM336.5 666.8h0.9v0.9h-0.9zM334.8 652.5h0.9v0.9h-0.9zM338.0 666.8h0.9v0.9h-0.9zM342.0 669.3h0.9v0.9h-0.9zM337.9 662.2h0.9v0.9h-0.9zM333.5 658.8h0.9v0.9h-0.9z" fill="#e03ad8" fill-opacity="0.9"/>
<path d="M314.3 639.9h0.9v0.9h-0.9zM303.3 640.1h0.9v0.9h-0.9zM318.4 641.6h0.9v0.9h-0.9zM312.9 637.3h0.9v0.9h-0.9zM324.0 637.8h0.9v0.9h-0.9zM316.8 636.9h0.9v0.9h-0.9zM320.7 640.7h0.9v0.9h-0.9zM311.8 647.3h0.9v0.9h-0.9zM305.4 643.1h0.9v0.9h-0.9zM309.7 645.4h0.9v0.9h-0.9zM308.1 644.7h0.9v0.9h-0.9zM313.0 642.1h0.9v0.9h-0.9zM321.8 646.7h0.9v0.9h-0.9zM319.3 639.1h0.9v0.9h-0.9zM315.2 644.6h0.9v0.9h-0.9zM312.3 637.4h0.9v0.9h-0.9zM326.4 645.6h0.9v0.9h-0.9zM320.7 645.6h0.9v0.9h-0.9zM315.6 642.6h0.9v0.9h-0.9zM321.3 639.5h0.9v0.9h-0.9zM319.4 646.5h0.9v0.9h-0.9zM322.1 636.2h0.9v0.9h-0.9zM326.0 632.4h0.9v0.9h-0.9zM323.3 641.2h0.9v0.9h-0.9zM313.1 647.4h0.9v0.9h-0.9zM310.3 639.1h0.9v0.9h-0.9zM317.8 647.2h0.9v0.9h-0.9zM321.8 644.8h0.9v0.9h-0.9zM307.1 646.4h0.9v0.9h-0.9zM323.3 646.6h0.9v0.9h-0.9zM305.5 646.5h0.9v0.9h-0.9zM324.5 641.8h0.9v0.9h-0.9zM313.5 639.9h0.9v0.9h-0.9zM309.0 644.2h0.9v0.9h-0.9zM318.5 639.0h0.9v0.9h-0.9zM321.0 633.7h0.9v0.9h-0.9zM322.9 641.7h0.9v0.9h-0.9zM315.7 644.8h0.9v0.9h-0.9zM324.5 645.9h0.9v0.9h-0.9zM320.7 640.0h0.9v0.9h-0.9zM324.3 632.9h0.9v0.9h-0.9zM314.3 642.3h0.9v0.9h-0.9zM321.8 638.1h0.9v0.9h-0.9zM316.6 644.8h0.9v0.9h-0.9zM321.9 639.6h0.9v0.9h-0.9zM320.5 645.9h0.9v0.9h-0.9zM322.4 645.7h0.9v0.9h-0.9zM325.6 642.5h0.9v0.9h-0.9zM319.7 636.0h0.9v0.9h-0.9zM306.1 640.2h0.9v0.9h-0.9zM326.4 641.6h0.9v0.9h-0.9zM315.0 640.5h0.9v0.9h-0.9zM325.6 640.6h0.9v0.9h-0.9z" fill="#d26a3a" fill-opacity="0.85"/>
<path d="M255.7 670.4C256.9 668.9 261.5 664.9 266.0 662.9C270.4 660.8 277.0 659.5 282.5 657.9C288.1 656.2 294.4 654.3 299.1 653.1C303.8 651.9 307.3 651.1 310.7 650.6C314.1 650.0 317.5 649.1 319.5 649.8C321.5 650.5 322.5 652.4 322.6 654.7C322.7 657.0 321.5 661.1 320.0 663.3C318.5 665.6 317.3 666.8 313.8 668.1C310.4 669.5 304.6 670.7 299.4 671.3C294.3 672.0 288.4 672.0 283.0 672.1C277.5 672.1 270.5 671.8 266.5 671.7C262.5 671.6 260.6 671.5 258.8 671.3C257.0 671.1 254.5 671.8 255.7 670.4Z" fill="#0000f2"/>
<path d="M277.5 672.6h0.9v0.9h-0.9zM285.2 671.2h0.9v0.9h-0.9zM282.5 671.1h0.9v0.9h-0.9zM292.4 655.9h0.9v0.9h-0.9zM316.8 666.1h0.9v0.9h-0.9zM310.3 669.3h0.9v0.9h-0.9zM292.5 671.5h0.9v0.9h-0.9zM312.5 668.1h0.9v0.9h-0.9zM265.0 672.0h0.9v0.9h-0.9zM267.4 671.1h0.9v0.9h-0.9zM320.3 663.5h0.9v0.9h-0.9zM287.6 671.7h0.9v0.9h-0.9zM262.7 664.4h0.9v0.9h-0.9zM297.0 675.6h0.9v0.9h-0.9zM262.5 671.8h0.9v0.9h-0.9zM321.2 663.4h0.9v0.9h-0.9zM314.9 666.2h0.9v0.9h-0.9zM291.0 654.7h0.9v0.9h-0.9zM294.8 654.2h0.9v0.9h-0.9zM317.8 648.9h0.9v0.9h-0.9zM266.7 671.3h0.9v0.9h-0.9zM286.8 672.4h0.9v0.9h-0.9zM295.5 652.0h0.9v0.9h-0.9zM307.0 672.4h0.9v0.9h-0.9zM255.3 670.1h0.9v0.9h-0.9zM261.6 670.7h0.9v0.9h-0.9zM269.8 660.6h0.9v0.9h-0.9zM259.7 663.6h0.9v0.9h-0.9zM259.6 674.4h0.9v0.9h-0.9zM286.4 673.4h0.9v0.9h-0.9zM297.0 670.5h0.9v0.9h-0.9zM275.6 660.2h0.9v0.9h-0.9zM316.8 666.8h0.9v0.9h-0.9zM309.0 676.3h0.9v0.9h-0.9zM286.2 655.3h0.9v0.9h-0.9zM271.0 662.1h0.9v0.9h-0.9zM259.9 663.0h0.9v0.9h-0.9zM263.0 665.8h0.9v0.9h-0.9zM262.6 665.3h0.9v0.9h-0.9zM279.5 672.5h0.9v0.9h-0.9zM316.8 650.1h0.9v0.9h-0.9zM311.3 668.2h0.9v0.9h-0.9zM287.1 672.3h0.9v0.9h-0.9zM256.9 671.5h0.9v0.9h-0.9zM264.5 673.0h0.9v0.9h-0.9zM322.4 663.3h0.9v0.9h-0.9zM271.9 671.9h0.9v0.9h-0.9zM281.3 673.2h0.9v0.9h-0.9zM279.6 660.1h0.9v0.9h-0.9zM301.1 651.0h0.9v0.9h-0.9zM314.7 667.3h0.9v0.9h-0.9zM282.0 672.9h0.9v0.9h-0.9zM313.1 649.2h0.9v0.9h-0.9zM306.9 669.2h0.9v0.9h-0.9zM290.4 656.3h0.9v0.9h-0.9zM318.0 663.9h0.9v0.9h-0.9zM270.2 658.5h0.9v0.9h-0.9zM263.4 670.7h0.9v0.9h-0.9zM304.0 650.7h0.9v0.9h-0.9zM294.5 671.7h0.9v0.9h-0.9zM285.4 670.6h0.9v0.9h-0.9zM322.5 655.5h0.9v0.9h-0.9zM299.2 654.0h0.9v0.9h-0.9zM310.2 672.2h0.9v0.9h-0.9zM257.7 670.9h0.9v0.9h-0.9zM320.3 664.9h0.9v0.9h-0.9zM291.2 671.9h0.9v0.9h-0.9zM292.7 670.4h0.9v0.9h-0.9zM322.2 659.2h0.9v0.9h-0.9zM306.9 670.3h0.9v0.9h-0.9zM287.5 655.8h0.9v0.9h-0.9zM279.8 659.0h0.9v0.9h-0.9zM311.0 648.1h0.9v0.9h-0.9zM321.0 652.2h0.9v0.9h-0.9zM278.3 672.4h0.9v0.9h-0.9zM259.7 672.4h0.9v0.9h-0.9zM306.1 650.6h0.9v0.9h-0.9zM255.9 669.4h0.9v0.9h-0.9zM299.4 675.1h0.9v0.9h-0.9zM321.5 651.3h0.9v0.9h-0.9zM284.4 657.5h0.9v0.9h-0.9zM287.1 655.3h0.9v0.9h-0.9zM293.8 655.9h0.9v0.9h-0.9zM301.7 671.1h0.9v0.9h-0.9zM264.9 675.0h0.9v0.9h-0.9zM257.9 668.5h0.9v0.9h-0.9zM278.9 671.6h0.9v0.9h-0.9zM292.2 654.8h0.9v0.9h-0.9zM264.0 663.9h0.9v0.9h-0.9zM320.0 668.4h0.9v0.9h-0.9zM258.2 670.7h0.9v0.9h-0.9zM320.7 650.9h0.9v0.9h-0.9zM279.4 657.5h0.9v0.9h-0.9zM314.9 650.3h0.9v0.9h-0.9zM263.4 673.0h0.9v0.9h-0.9zM278.1 672.2h0.9v0.9h-0.9zM320.1 649.0h0.9v0.9h-0.9zM317.6 665.1h0.9v0.9h-0.9zM263.8 663.0h0.9v0.9h-0.9zM255.1 668.0h0.9v0.9h-0.9zM321.7 651.6h0.9v0.9h-0.9zM256.4 672.3h0.9v0.9h-0.9zM256.7 670.7h0.9v0.9h-0.9zM291.7 655.3h0.9v0.9h-0.9zM316.2 651.3h0.9v0.9h-0.9zM317.4 666.6h0.9v0.9h-0.9zM278.6 658.1h0.9v0.9h-0.9zM323.5 652.7h0.9v0.9h-0.9zM297.5 652.5h0.9v0.9h-0.9zM264.0 664.8h0.9v0.9h-0.9zM286.8 671.9h0.9v0.9h-0.9zM283.3 674.7h0.9v0.9h-0.9zM256.0 670.7h0.9v0.9h-0.9zM281.2 673.9h0.9v0.9h-0.9zM313.6 669.3h0.9v0.9h-0.9zM291.2 672.9h0.9v0.9h-0.9zM266.2 671.8h0.9v0.9h-0.9zM304.9 652.1h0.9v0.9h-0.9zM322.2 660.5h0.9v0.9h-0.9zM295.2 655.8h0.9v0.9h-0.9zM304.5 672.3h0.9v0.9h-0.9zM300.5 672.1h0.9v0.9h-0.9zM316.0 668.1h0.9v0.9h-0.9zM258.4 672.0h0.9v0.9h-0.9zM299.1 675.1h0.9v0.9h-0.9zM320.2 649.3h0.9v0.9h-0.9zM261.2 666.2h0.9v0.9h-0.9zM292.4 653.8h0.9v0.9h-0.9zM293.6 671.4h0.9v0.9h-0.9zM275.9 656.7h0.9v0.9h-0.9zM276.9 657.2h0.9v0.9h-0.9zM273.5 658.2h0.9v0.9h-0.9zM265.5 671.2h0.9v0.9h-0.9zM322.3 650.6h0.9v0.9h-0.9zM322.8 653.1h0.9v0.9h-0.9zM288.7 653.9h0.9v0.9h-0.9zM311.4 669.0h0.9v0.9h-0.9zM267.1 662.6h0.9v0.9h-0.9zM319.1 649.7h0.9v0.9h-0.9zM321.5 653.6h0.9v0.9h-0.9zM255.7 669.8h0.9v0.9h-0.9zM303.5 670.1h0.9v0.9h-0.9zM283.4 674.1h0.9v0.9h-0.9zM257.0 670.8h0.9v0.9h-0.9zM271.2 671.4h0.9v0.9h-0.9zM316.2 665.3h0.9v0.9h-0.9zM304.1 669.8h0.9v0.9h-0.9zM320.2 650.3h0.9v0.9h-0.9zM322.7 659.7h0.9v0.9h-0.9zM323.5 662.0h0.9v0.9h-0.9zM311.9 649.3h0.9v0.9h-0.9zM255.7 669.9h0.9v0.9h-0.9zM319.1 664.0h0.9v0.9h-0.9zM268.3 671.7h0.9v0.9h-0.9zM264.3 671.1h0.9v0.9h-0.9zM255.8 667.2h0.9v0.9h-0.9zM263.8 662.9h0.9v0.9h-0.9zM320.3 650.0h0.9v0.9h-0.9zM258.0 672.3h0.9v0.9h-0.9zM262.7 665.2h0.9v0.9h-0.9zM259.9 671.1h0.9v0.9h-0.9zM315.2 668.2h0.9v0.9h-0.9zM255.3 673.4h0.9v0.9h-0.9zM313.2 649.5h0.9v0.9h-0.9zM308.9 670.5h0.9v0.9h-0.9zM320.5 650.2h0.9v0.9h-0.9zM256.3 668.9h0.9v0.9h-0.9zM309.7 648.9h0.9v0.9h-0.9zM274.8 661.0h0.9v0.9h-0.9zM302.3 649.3h0.9v0.9h-0.9zM261.9 671.3h0.9v0.9h-0.9zM308.4 648.4h0.9v0.9h-0.9zM271.7 672.1h0.9v0.9h-0.9zM318.3 650.1h0.9v0.9h-0.9zM264.4 664.4h0.9v0.9h-0.9zM291.4 655.4h0.9v0.9h-0.9zM264.6 671.5h0.9v0.9h-0.9zM258.7 664.3h0.9v0.9h-0.9zM259.8 667.5h0.9v0.9h-0.9zM323.2 659.8h0.9v0.9h-0.9zM324.0 653.9h0.9v0.9h-0.9zM299.8 670.7h0.9v0.9h-0.9zM258.9 671.0h0.9v0.9h-0.9zM318.6 665.7h0.9v0.9h-0.9zM316.5 665.6h0.9v0.9h-0.9zM319.7 663.6h0.9v0.9h-0.9zM318.8 666.6h0.9v0.9h-0.9zM299.9 653.7h0.9v0.9h-0.9zM323.2 651.3h0.9v0.9h-0.9zM260.8 668.4h0.9v0.9h-0.9zM322.7 653.7h0.9v0.9h-0.9zM268.6 659.0h0.9v0.9h-0.9zM302.8 651.3h0.9v0.9h-0.9zM317.3 665.9h0.9v0.9h-0.9zM304.4 650.9h0.9v0.9h-0.9zM319.1 648.8h0.9v0.9h-0.9zM321.8 657.7h0.9v0.9h-0.9zM256.0 670.9h0.9v0.9h-0.9zM260.2 664.8h0.9v0.9h-0.9zM260.4 671.7h0.9v0.9h-0.9zM322.9 653.3h0.9v0.9h-0.9zM320.7 661.8h0.9v0.9h-0.9zM285.7 672.8h0.9v0.9h-0.9zM296.1 672.7h0.9v0.9h-0.9zM309.8 670.1h0.9v0.9h-0.9zM266.0 671.8h0.9v0.9h-0.9zM299.1 671.6h0.9v0.9h-0.9zM299.5 671.4h0.9v0.9h-0.9zM258.9 667.9h0.9v0.9h-0.9zM308.4 669.9h0.9v0.9h-0.9zM314.2 667.5h0.9v0.9h-0.9zM307.0 652.0h0.9v0.9h-0.9zM303.2 652.1h0.9v0.9h-0.9zM321.8 651.8h0.9v0.9h-0.9zM294.4 672.7h0.9v0.9h-0.9zM307.4 674.4h0.9v0.9h-0.9zM289.7 655.2h0.9v0.9h-0.9zM266.3 673.3h0.9v0.9h-0.9zM314.5 650.1h0.9v0.9h-0.9zM306.5 672.7h0.9v0.9h-0.9zM262.9 667.1h0.9v0.9h-0.9zM278.9 672.2h0.9v0.9h-0.9zM316.0 668.2h0.9v0.9h-0.9zM266.2 674.4h0.9v0.9h-0.9zM269.4 659.9h0.9v0.9h-0.9zM317.6 666.3h0.9v0.9h-0.9zM268.6 661.2h0.9v0.9h-0.9zM263.5 662.7h0.9v0.9h-0.9zM321.1 650.3h0.9v0.9h-0.9zM316.2 649.1h0.9v0.9h-0.9zM291.3 655.7h0.9v0.9h-0.9zM280.0 659.0h0.9v0.9h-0.9zM295.4 674.0h0.9v0.9h-0.9zM319.7 664.4h0.9v0.9h-0.9zM322.3 663.8h0.9v0.9h-0.9zM259.4 667.4h0.9v0.9h-0.9zM312.4 650.0h0.9v0.9h-0.9zM320.9 650.2h0.9v0.9h-0.9zM321.1 659.4h0.9v0.9h-0.9zM266.8 672.7h0.9v0.9h-0.9zM319.2 662.3h0.9v0.9h-0.9zM309.4 650.6h0.9v0.9h-0.9zM314.7 649.1h0.9v0.9h-0.9zM273.9 673.5h0.9v0.9h-0.9zM309.5 669.5h0.9v0.9h-0.9zM260.3 674.6h0.9v0.9h-0.9zM322.0 663.0h0.9v0.9h-0.9zM322.7 659.1h0.9v0.9h-0.9zM314.9 667.4h0.9v0.9h-0.9zM266.0 670.7h0.9v0.9h-0.9zM284.3 658.0h0.9v0.9h-0.9zM291.7 670.2h0.9v0.9h-0.9zM282.9 673.8h0.9v0.9h-0.9zM257.4 667.7h0.9v0.9h-0.9zM277.2 655.6h0.9v0.9h-0.9zM321.3 651.8h0.9v0.9h-0.9zM321.4 649.9h0.9v0.9h-0.9zM312.8 651.3h0.9v0.9h-0.9zM297.7 653.5h0.9v0.9h-0.9zM261.3 667.5h0.9v0.9h-0.9zM265.0 673.1h0.9v0.9h-0.9zM312.8 651.0h0.9v0.9h-0.9zM299.3 651.3h0.9v0.9h-0.9zM286.9 657.3h0.9v0.9h-0.9zM301.2 653.5h0.9v0.9h-0.9zM286.2 654.5h0.9v0.9h-0.9zM278.9 671.9h0.9v0.9h-0.9zM270.1 663.6h0.9v0.9h-0.9zM309.7 650.6h0.9v0.9h-0.9zM277.0 661.1h0.9v0.9h-0.9zM265.8 671.9h0.9v0.9h-0.9zM324.0 657.7h0.9v0.9h-0.9zM297.9 671.9h0.9v0.9h-0.9zM324.5 652.7h0.9v0.9h-0.9zM306.2 673.5h0.9v0.9h-0.9zM323.6 652.9h0.9v0.9h-0.9zM259.1 667.6h0.9v0.9h-0.9zM322.6 650.9h0.9v0.9h-0.9zM321.2 649.7h0.9v0.9h-0.9zM303.2 653.5h0.9v0.9h-0.9zM263.2 672.0h0.9v0.9h-0.9zM309.0 669.1h0.9v0.9h-0.9zM314.6 666.4h0.9v0.9h-0.9zM256.3 672.8h0.9v0.9h-0.9zM308.1 651.4h0.9v0.9h-0.9zM258.6 671.3h0.9v0.9h-0.9zM258.8 672.0h0.9v0.9h-0.9zM267.1 672.2h0.9v0.9h-0.9zM315.8 665.2h0.9v0.9h-0.9zM298.2 671.6h0.9v0.9h-0.9zM283.2 672.2h0.9v0.9h-0.9zM256.0 674.6h0.9v0.9h-0.9zM280.2 671.8h0.9v0.9h-0.9zM256.5 670.4h0.9v0.9h-0.9zM284.9 673.0h0.9v0.9h-0.9zM301.7 670.8h0.9v0.9h-0.9zM291.2 653.6h0.9v0.9h-0.9zM293.3 654.7h0.9v0.9h-0.9zM321.0 653.6h0.9v0.9h-0.9zM282.4 671.6h0.9v0.9h-0.9zM262.0 667.0h0.9v0.9h-0.9zM301.3 670.4h0.9v0.9h-0.9zM297.5 653.9h0.9v0.9h-0.9zM288.7 671.6h0.9v0.9h-0.9zM317.7 649.0h0.9v0.9h-0.9zM317.7 664.3h0.9v0.9h-0.9zM258.1 670.6h0.9v0.9h-0.9zM265.8 671.6h0.9v0.9h-0.9zM317.7 665.5h0.9v0.9h-0.9zM263.1 664.6h0.9v0.9h-0.9zM274.1 671.4h0.9v0.9h-0.9zM280.7 656.5h0.9v0.9h-0.9zM321.1 654.1h0.9v0.9h-0.9zM319.3 663.2h0.9v0.9h-0.9zM260.4 673.0h0.9v0.9h-0.9zM312.9 669.8h0.9v0.9h-0.9zM289.9 675.3h0.9v0.9h-0.9zM270.2 662.0h0.9v0.9h-0.9zM256.8 669.3h0.9v0.9h-0.9zM288.8 654.5h0.9v0.9h-0.9zM296.3 651.9h0.9v0.9h-0.9zM321.0 649.8h0.9v0.9h-0.9zM263.4 663.3h0.9v0.9h-0.9zM319.5 650.9h0.9v0.9h-0.9zM273.6 660.9h0.9v0.9h-0.9zM306.8 670.3h0.9v0.9h-0.9zM320.1 666.4h0.9v0.9h-0.9zM311.5 669.8h0.9v0.9h-0.9zM275.1 672.4h0.9v0.9h-0.9zM304.0 653.0h0.9v0.9h-0.9zM297.5 671.2h0.9v0.9h-0.9zM257.4 670.3h0.9v0.9h-0.9zM284.7 655.5h0.9v0.9h-0.9zM261.7 672.9h0.9v0.9h-0.9zM316.4 669.1h0.9v0.9h-0.9zM263.5 662.9h0.9v0.9h-0.9zM319.5 664.5h0.9v0.9h-0.9zM293.8 672.5h0.9v0.9h-0.9zM279.7 657.0h0.9v0.9h-0.9zM258.6 670.8h0.9v0.9h-0.9zM301.4 651.6h0.9v0.9h-0.9zM282.7 656.8h0.9v0.9h-0.9zM324.0 653.4h0.9v0.9h-0.9zM275.4 657.8h0.9v0.9h-0.9zM321.5 651.2h0.9v0.9h-0.9zM308.2 651.8h0.9v0.9h-0.9zM272.2 659.8h0.9v0.9h-0.9zM318.2 649.3h0.9v0.9h-0.9zM297.9 674.4h0.9v0.9h-0.9zM261.4 673.2h0.9v0.9h-0.9zM272.7 674.6h0.9v0.9h-0.9zM263.0 671.5h0.9v0.9h-0.9zM299.8 671.3h0.9v0.9h-0.9zM315.3 668.2h0.9v0.9h-0.9zM320.1 661.2h0.9v0.9h-0.9zM263.6 666.0h0.9v0.9h-0.9zM297.3 674.8h0.9v0.9h-0.9zM320.1 651.2h0.9v0.9h-0.9zM318.1 650.7h0.9v0.9h-0.9zM297.6 653.3h0.9v0.9h-0.9zM319.7 650.6h0.9v0.9h-0.9zM276.3 675.5h0.9v0.9h-0.9zM321.1 650.7h0.9v0.9h-0.9zM262.0 672.8h0.9v0.9h-0.9zM312.9 649.7h0.9v0.9h-0.9zM256.2 670.8h0.9v0.9h-0.9zM266.7 672.8h0.9v0.9h-0.9zM319.2 648.5h0.9v0.9h-0.9zM266.7 671.7h0.9v0.9h-0.9zM302.7 671.1h0.9v0.9h-0.9zM264.7 664.4h0.9v0.9h-0.9zM322.2 654.2h0.9v0.9h-0.9zM256.5 672.3h0.9v0.9h-0.9zM255.6 667.4h0.9v0.9h-0.9zM319.6 650.4h0.9v0.9h-0.9zM315.4 667.0h0.9v0.9h-0.9zM261.3 667.2h0.9v0.9h-0.9zM255.7 671.1h0.9v0.9h-0.9zM275.5 672.8h0.9v0.9h-0.9zM320.3 650.7h0.9v0.9h-0.9zM276.9 658.0h0.9v0.9h-0.9zM299.5 650.5h0.9v0.9h-0.9zM257.1 675.0h0.9v0.9h-0.9zM284.9 658.0h0.9v0.9h-0.9zM280.3 658.2h0.9v0.9h-0.9zM263.8 673.0h0.9v0.9h-0.9zM289.8 672.6h0.9v0.9h-0.9zM316.6 648.8h0.9v0.9h-0.9zM298.7 672.6h0.9v0.9h-0.9zM287.6 655.9h0.9v0.9h-0.9zM297.2 652.0h0.9v0.9h-0.9zM270.0 674.3h0.9v0.9h-0.9zM268.6 672.1h0.9v0.9h-0.9zM266.5 660.8h0.9v0.9h-0.9zM296.3 671.2h0.9v0.9h-0.9zM287.5 654.7h0.9v0.9h-0.9zM264.0 671.7h0.9v0.9h-0.9zM297.2 672.6h0.9v0.9h-0.9zM311.5 649.0h0.9v0.9h-0.9zM309.9 648.5h0.9v0.9h-0.9zM318.4 650.6h0.9v0.9h-0.9zM258.4 668.9h0.9v0.9h-0.9zM323.9 661.5h0.9v0.9h-0.9zM298.6 651.1h0.9v0.9h-0.9zM256.6 667.1h0.9v0.9h-0.9zM321.9 661.2h0.9v0.9h-0.9zM298.6 672.6h0.9v0.9h-0.9zM317.3 666.4h0.9v0.9h-0.9zM290.0 671.7h0.9v0.9h-0.9zM262.4 664.6h0.9v0.9h-0.9zM306.0 650.4h0.9v0.9h-0.9zM311.3 651.2h0.9v0.9h-0.9zM282.9 654.7h0.9v0.9h-0.9zM256.8 671.1h0.9v0.9h-0.9zM257.7 671.2h0.9v0.9h-0.9zM322.7 653.1h0.9v0.9h-0.9zM263.5 672.5h0.9v0.9h-0.9zM303.9 670.3h0.9v0.9h-0.9zM304.0 652.7h0.9v0.9h-0.9zM322.4 654.9h0.9v0.9h-0.9zM311.7 668.8h0.9v0.9h-0.9zM280.6 658.3h0.9v0.9h-0.9zM317.2 649.1h0.9v0.9h-0.9zM260.4 663.5h0.9v0.9h-0.9zM292.6 655.4h0.9v0.9h-0.9zM290.5 670.1h0.9v0.9h-0.9zM320.6 657.0h0.9v0.9h-0.9zM317.2 666.0h0.9v0.9h-0.9zM323.9 648.7h0.9v0.9h-0.9zM293.4 671.8h0.9v0.9h-0.9zM321.3 660.1h0.9v0.9h-0.9zM268.7 661.7h0.9v0.9h-0.9zM315.9 651.4h0.9v0.9h-0.9zM260.6 673.0h0.9v0.9h-0.9zM300.9 651.2h0.9v0.9h-0.9zM317.5 650.7h0.9v0.9h-0.9zM295.1 672.1h0.9v0.9h-0.9zM261.5 671.7h0.9v0.9h-0.9zM322.9 653.5h0.9v0.9h-0.9zM271.2 670.0h0.9v0.9h-0.9zM255.7 671.8h0.9v0.9h-0.9zM313.2 650.5h0.9v0.9h-0.9zM322.9 653.9h0.9v0.9h-0.9zM259.8 674.1h0.9v0.9h-0.9zM294.6 653.3h0.9v0.9h-0.9zM313.0 650.9h0.9v0.9h-0.9zM322.3 655.2h0.9v0.9h-0.9zM261.9 671.4h0.9v0.9h-0.9zM306.0 670.9h0.9v0.9h-0.9zM256.6 671.1h0.9v0.9h-0.9zM271.2 660.1h0.9v0.9h-0.9zM321.3 658.5h0.9v0.9h-0.9zM258.4 671.9h0.9v0.9h-0.9zM304.8 651.2h0.9v0.9h-0.9zM320.9 666.6h0.9v0.9h-0.9zM317.4 648.8h0.9v0.9h-0.9zM294.8 671.7h0.9v0.9h-0.9zM257.2 668.3h0.9v0.9h-0.9zM303.7 650.2h0.9v0.9h-0.9zM269.8 660.3h0.9v0.9h-0.9zM321.6 659.0h0.9v0.9h-0.9zM287.9 657.5h0.9v0.9h-0.9zM267.0 661.4h0.9v0.9h-0.9zM318.6 648.7h0.9v0.9h-0.9zM261.9 666.6h0.9v0.9h-0.9zM322.1 653.4h0.9v0.9h-0.9zM264.8 673.2h0.9v0.9h-0.9zM274.1 660.0h0.9v0.9h-0.9zM318.5 650.8h0.9v0.9h-0.9zM260.9 671.1h0.9v0.9h-0.9zM265.5 672.1h0.9v0.9h-0.9zM257.3 671.6h0.9v0.9h-0.9zM262.5 672.0h0.9v0.9h-0.9zM299.3 652.0h0.9v0.9h-0.9zM313.0 667.4h0.9v0.9h-0.9zM257.1 672.4h0.9v0.9h-0.9zM256.2 671.8h0.9v0.9h-0.9zM256.4 671.3h0.9v0.9h-0.9zM273.2 673.9h0.9v0.9h-0.9zM323.0 654.0h0.9v0.9h-0.9zM302.7 650.9h0.9v0.9h-0.9zM266.4 670.3h0.9v0.9h-0.9zM278.4 672.2h0.9v0.9h-0.9zM262.9 674.0h0.9v0.9h-0.9zM277.0 659.2h0.9v0.9h-0.9zM319.6 663.6h0.9v0.9h-0.9zM275.9 660.7h0.9v0.9h-0.9zM298.1 651.1h0.9v0.9h-0.9zM260.3 670.6h0.9v0.9h-0.9zM311.2 650.8h0.9v0.9h-0.9zM255.2 671.9h0.9v0.9h-0.9zM258.7 671.1h0.9v0.9h-0.9zM257.6 668.7h0.9v0.9h-0.9zM300.4 652.7h0.9v0.9h-0.9zM318.2 651.3h0.9v0.9h-0.9zM258.4 671.2h0.9v0.9h-0.9zM319.9 652.0h0.9v0.9h-0.9zM299.7 650.0h0.9v0.9h-0.9zM316.3 667.0h0.9v0.9h-0.9zM299.9 671.4h0.9v0.9h-0.9zM306.0 669.8h0.9v0.9h-0.9zM321.5 652.1h0.9v0.9h-0.9zM264.4 674.3h0.9v0.9h-0.9zM319.7 652.0h0.9v0.9h-0.9zM272.8 674.0h0.9v0.9h-0.9zM256.0 670.1h0.9v0.9h-0.9zM317.6 667.8h0.9v0.9h-0.9zM280.4 671.8h0.9v0.9h-0.9zM293.3 653.6h0.9v0.9h-0.9zM282.5 659.5h0.9v0.9h-0.9zM317.0 666.6h0.9v0.9h-0.9zM266.9 661.7h0.9v0.9h-0.9zM258.8 669.9h0.9v0.9h-0.9zM267.5 671.9h0.9v0.9h-0.9zM294.5 671.8h0.9v0.9h-0.9zM255.1 670.4h0.9v0.9h-0.9zM320.9 659.7h0.9v0.9h-0.9zM307.6 668.6h0.9v0.9h-0.9zM308.2 669.3h0.9v0.9h-0.9zM321.2 658.8h0.9v0.9h-0.9zM291.4 654.3h0.9v0.9h-0.9zM282.2 671.5h0.9v0.9h-0.9zM273.2 670.6h0.9v0.9h-0.9zM319.8 649.7h0.9v0.9h-0.9zM302.0 670.3h0.9v0.9h-0.9zM272.6 658.8h0.9v0.9h-0.9zM291.7 671.6h0.9v0.9h-0.9zM321.2 651.9h0.9v0.9h-0.9zM255.0 669.0h0.9v0.9h-0.9zM274.8 660.7h0.9v0.9h-0.9zM286.8 673.9h0.9v0.9h-0.9zM267.7 662.0h0.9v0.9h-0.9zM321.7 663.3h0.9v0.9h-0.9zM260.3 666.0h0.9v0.9h-0.9zM313.6 668.2h0.9v0.9h-0.9zM262.8 663.1h0.9v0.9h-0.9zM298.5 652.2h0.9v0.9h-0.9zM313.4 650.0h0.9v0.9h-0.9zM295.6 653.3h0.9v0.9h-0.9zM316.7 665.3h0.9v0.9h-0.9zM303.0 652.2h0.9v0.9h-0.9zM319.3 663.1h0.9v0.9h-0.9zM323.8 650.3h0.9v0.9h-0.9zM290.5 671.2h0.9v0.9h-0.9zM319.9 650.7h0.9v0.9h-0.9zM275.5 672.1h0.9v0.9h-0.9zM299.2 672.0h0.9v0.9h-0.9zM317.5 650.2h0.9v0.9h-0.9zM321.4 662.2h0.9v0.9h-0.9zM288.5 655.7h0.9v0.9h-0.9zM319.4 649.3h0.9v0.9h-0.9zM279.8 673.6h0.9v0.9h-0.9zM259.7 671.6h0.9v0.9h-0.9zM283.7 671.2h0.9v0.9h-0.9zM310.2 671.9h0.9v0.9h-0.9zM295.6 675.3h0.9v0.9h-0.9zM322.0 656.7h0.9v0.9h-0.9zM266.8 659.2h0.9v0.9h-0.9zM314.7 648.9h0.9v0.9h-0.9zM262.0 673.2h0.9v0.9h-0.9zM286.1 672.1h0.9v0.9h-0.9zM308.6 669.2h0.9v0.9h-0.9zM279.3 659.7h0.9v0.9h-0.9zM288.3 657.1h0.9v0.9h-0.9zM285.2 674.0h0.9v0.9h-0.9zM323.9 659.4h0.9v0.9h-0.9zM322.7 658.6h0.9v0.9h-0.9zM315.3 667.4h0.9v0.9h-0.9zM304.6 651.4h0.9v0.9h-0.9zM321.1 648.9h0.9v0.9h-0.9zM282.1 672.1h0.9v0.9h-0.9zM265.4 672.5h0.9v0.9h-0.9zM272.5 672.4h0.9v0.9h-0.9zM321.7 651.2h0.9v0.9h-0.9zM256.6 671.3h0.9v0.9h-0.9zM284.6 656.3h0.9v0.9h-0.9zM256.7 672.1h0.9v0.9h-0.9zM254.7 670.3h0.9v0.9h-0.9zM256.3 670.6h0.9v0.9h-0.9zM275.4 658.5h0.9v0.9h-0.9zM321.7 654.8h0.9v0.9h-0.9zM305.8 670.9h0.9v0.9h-0.9zM271.4 673.7h0.9v0.9h-0.9zM258.9 671.2h0.9v0.9h-0.9zM322.7 654.4h0.9v0.9h-0.9zM316.0 669.2h0.9v0.9h-0.9zM276.9 658.2h0.9v0.9h-0.9zM320.7 651.0h0.9v0.9h-0.9zM268.7 674.2h0.9v0.9h-0.9zM291.0 655.3h0.9v0.9h-0.9zM289.9 673.0h0.9v0.9h-0.9zM256.6 670.3h0.9v0.9h-0.9zM300.3 672.5h0.9v0.9h-0.9zM301.7 651.7h0.9v0.9h-0.9zM286.9 671.1h0.9v0.9h-0.9zM262.9 665.8h0.9v0.9h-0.9zM292.2 652.5h0.9v0.9h-0.9zM309.4 667.9h0.9v0.9h-0.9zM267.9 661.2h0.9v0.9h-0.9zM323.8 652.6h0.9v0.9h-0.9zM305.1 650.4h0.9v0.9h-0.9zM314.4 667.1h0.9v0.9h-0.9zM265.6 670.8h0.9v0.9h-0.9zM320.5 666.7h0.9v0.9h-0.9zM318.0 666.0h0.9v0.9h-0.9zM298.9 653.2h0.9v0.9h-0.9zM320.9 660.6h0.9v0.9h-0.9zM271.4 660.1h0.9v0.9h-0.9zM318.0 665.5h0.9v0.9h-0.9zM301.5 651.7h0.9v0.9h-0.9zM263.3 675.2h0.9v0.9h-0.9zM302.9 651.7h0.9v0.9h-0.9zM318.7 650.5h0.9v0.9h-0.9zM322.5 652.0h0.9v0.9h-0.9zM271.0 671.3h0.9v0.9h-0.9zM318.1 648.7h0.9v0.9h-0.9zM263.7 670.2h0.9v0.9h-0.9zM270.4 674.2h0.9v0.9h-0.9zM320.7 662.8h0.9v0.9h-0.9zM317.6 650.0h0.9v0.9h-0.9zM320.8 660.9h0.9v0.9h-0.9zM316.3 665.8h0.9v0.9h-0.9zM260.7 671.5h0.9v0.9h-0.9zM256.3 669.1h0.9v0.9h-0.9zM320.7 661.4h0.9v0.9h-0.9zM264.2 673.2h0.9v0.9h-0.9zM287.6 655.3h0.9v0.9h-0.9zM257.1 671.0h0.9v0.9h-0.9zM315.2 665.6h0.9v0.9h-0.9zM286.1 672.3h0.9v0.9h-0.9zM257.5 670.7h0.9v0.9h-0.9zM270.7 672.6h0.9v0.9h-0.9zM264.5 671.0h0.9v0.9h-0.9zM321.9 662.2h0.9v0.9h-0.9zM267.8 662.5h0.9v0.9h-0.9zM315.7 648.2h0.9v0.9h-0.9zM322.7 652.2h0.9v0.9h-0.9zM320.3 651.2h0.9v0.9h-0.9zM262.7 671.7h0.9v0.9h-0.9zM314.1 666.4h0.9v0.9h-0.9zM305.8 651.3h0.9v0.9h-0.9zM300.7 650.9h0.9v0.9h-0.9zM298.2 673.7h0.9v0.9h-0.9zM254.5 669.1h0.9v0.9h-0.9zM320.8 651.8h0.9v0.9h-0.9zM321.4 664.4h0.9v0.9h-0.9zM321.5 653.5h0.9v0.9h-0.9zM258.9 673.2h0.9v0.9h-0.9zM274.2 660.1h0.9v0.9h-0.9zM320.1 649.3h0.9v0.9h-0.9zM270.7 672.6h0.9v0.9h-0.9zM316.4 664.2h0.9v0.9h-0.9zM321.7 656.3h0.9v0.9h-0.9zM272.1 671.6h0.9v0.9h-0.9zM256.9 671.2h0.9v0.9h-0.9zM286.0 675.2h0.9v0.9h-0.9zM256.4 670.4h0.9v0.9h-0.9zM307.9 650.8h0.9v0.9h-0.9zM261.7 665.9h0.9v0.9h-0.9zM291.7 655.3h0.9v0.9h-0.9zM256.9 673.3h0.9v0.9h-0.9zM301.3 653.5h0.9v0.9h-0.9zM302.9 649.7h0.9v0.9h-0.9zM266.1 671.7h0.9v0.9h-0.9zM262.5 672.2h0.9v0.9h-0.9zM278.4 671.3h0.9v0.9h-0.9zM272.1 672.1h0.9v0.9h-0.9zM301.1 669.5h0.9v0.9h-0.9zM322.8 660.5h0.9v0.9h-0.9zM322.0 657.3h0.9v0.9h-0.9zM321.0 662.0h0.9v0.9h-0.9zM323.8 659.4h0.9v0.9h-0.9zM257.9 664.1h0.9v0.9h-0.9zM319.8 648.9h0.9v0.9h-0.9zM273.7 657.0h0.9v0.9h-0.9zM278.4 657.7h0.9v0.9h-0.9zM273.3 659.4h0.9v0.9h-0.9zM317.9 650.3h0.9v0.9h-0.9zM262.6 671.4h0.9v0.9h-0.9zM286.0 674.3h0.9v0.9h-0.9zM279.3 658.0h0.9v0.9h-0.9zM317.2 666.9h0.9v0.9h-0.9zM321.1 661.9h0.9v0.9h-0.9zM321.2 650.9h0.9v0.9h-0.9zM264.2 670.9h0.9v0.9h-0.9zM269.6 671.4h0.9v0.9h-0.9zM256.4 671.2h0.9v0.9h-0.9zM288.4 671.5h0.9v0.9h-0.9zM287.3 655.7h0.9v0.9h-0.9zM262.1 671.2h0.9v0.9h-0.9zM287.7 657.5h0.9v0.9h-0.9zM310.5 672.2h0.9v0.9h-0.9zM262.5 673.0h0.9v0.9h-0.9zM306.5 651.8h0.9v0.9h-0.9zM322.9 658.1h0.9v0.9h-0.9zM257.1 671.9h0.9v0.9h-0.9zM324.4 652.1h0.9v0.9h-0.9zM258.3 671.1h0.9v0.9h-0.9zM320.5 662.5h0.9v0.9h-0.9zM295.6 653.0h0.9v0.9h-0.9zM274.5 672.7h0.9v0.9h-0.9zM264.8 663.2h0.9v0.9h-0.9zM313.3 650.7h0.9v0.9h-0.9zM290.4 656.3h0.9v0.9h-0.9zM294.2 655.8h0.9v0.9h-0.9zM318.2 648.3h0.9v0.9h-0.9zM320.5 663.7h0.9v0.9h-0.9zM265.7 673.9h0.9v0.9h-0.9zM270.5 670.9h0.9v0.9h-0.9zM256.1 667.3h0.9v0.9h-0.9zM302.1 651.8h0.9v0.9h-0.9zM304.6 669.7h0.9v0.9h-0.9zM317.8 664.9h0.9v0.9h-0.9zM320.1 650.3h0.9v0.9h-0.9zM309.0 670.9h0.9v0.9h-0.9zM322.6 656.3h0.9v0.9h-0.9zM320.7 663.0h0.9v0.9h-0.9zM320.5 660.3h0.9v0.9h-0.9zM287.0 672.8h0.9v0.9h-0.9zM321.9 665.8h0.9v0.9h-0.9zM324.7 661.1h0.9v0.9h-0.9zM316.1 667.3h0.9v0.9h-0.9zM260.0 666.6h0.9v0.9h-0.9zM318.1 667.9h0.9v0.9h-0.9zM262.0 672.9h0.9v0.9h-0.9zM295.0 653.6h0.9v0.9h-0.9zM287.0 656.5h0.9v0.9h-0.9zM258.8 671.1h0.9v0.9h-0.9zM300.8 650.8h0.9v0.9h-0.9zM260.8 666.4h0.9v0.9h-0.9zM316.9 664.8h0.9v0.9h-0.9zM269.9 673.4h0.9v0.9h-0.9zM257.5 671.0h0.9v0.9h-0.9zM263.2 672.6h0.9v0.9h-0.9zM285.9 654.4h0.9v0.9h-0.9zM309.9 649.8h0.9v0.9h-0.9zM301.6 672.4h0.9v0.9h-0.9zM304.4 650.5h0.9v0.9h-0.9zM312.0 651.1h0.9v0.9h-0.9zM289.9 656.4h0.9v0.9h-0.9zM314.5 667.9h0.9v0.9h-0.9zM304.2 652.3h0.9v0.9h-0.9zM301.6 672.3h0.9v0.9h-0.9zM293.4 672.7h0.9v0.9h-0.9zM269.0 672.8h0.9v0.9h-0.9zM320.4 660.9h0.9v0.9h-0.9zM262.6 671.2h0.9v0.9h-0.9zM277.5 672.4h0.9v0.9h-0.9zM260.6 668.9h0.9v0.9h-0.9zM321.6 654.0h0.9v0.9h-0.9zM268.4 671.8h0.9v0.9h-0.9zM262.9 665.0h0.9v0.9h-0.9zM291.2 655.6h0.9v0.9h-0.9zM290.2 674.3h0.9v0.9h-0.9zM318.0 663.1h0.9v0.9h-0.9zM287.3 673.2h0.9v0.9h-0.9zM322.8 656.6h0.9v0.9h-0.9zM262.7 663.7h0.9v0.9h-0.9zM315.1 667.4h0.9v0.9h-0.9zM257.7 672.4h0.9v0.9h-0.9zM316.9 667.3h0.9v0.9h-0.9zM275.1 671.5h0.9v0.9h-0.9zM308.7 669.0h0.9v0.9h-0.9zM279.8 673.0h0.9v0.9h-0.9zM274.8 659.2h0.9v0.9h-0.9zM303.9 651.7h0.9v0.9h-0.9zM263.4 672.9h0.9v0.9h-0.9zM319.1 665.3h0.9v0.9h-0.9zM289.5 672.4h0.9v0.9h-0.9zM271.3 672.2h0.9v0.9h-0.9zM323.1 658.3h0.9v0.9h-0.9zM319.3 664.6h0.9v0.9h-0.9zM290.7 656.1h0.9v0.9h-0.9zM308.1 650.3h0.9v0.9h-0.9zM255.0 671.9h0.9v0.9h-0.9zM323.7 651.3h0.9v0.9h-0.9zM256.7 669.2h0.9v0.9h-0.9zM266.3 671.4h0.9v0.9h-0.9zM316.4 667.5h0.9v0.9h-0.9zM317.1 650.6h0.9v0.9h-0.9zM323.0 657.3h0.9v0.9h-0.9zM265.9 673.0h0.9v0.9h-0.9zM262.0 663.0h0.9v0.9h-0.9zM276.6 661.1h0.9v0.9h-0.9zM266.5 661.6h0.9v0.9h-0.9zM298.3 675.0h0.9v0.9h-0.9zM321.6 658.1h0.9v0.9h-0.9zM322.6 652.7h0.9v0.9h-0.9zM295.0 675.1h0.9v0.9h-0.9zM318.6 663.9h0.9v0.9h-0.9zM320.0 649.2h0.9v0.9h-0.9zM324.5 651.8h0.9v0.9h-0.9zM311.7 670.2h0.9v0.9h-0.9zM321.7 657.4h0.9v0.9h-0.9zM321.0 658.6h0.9v0.9h-0.9zM258.2 673.8h0.9v0.9h-0.9zM256.5 671.2h0.9v0.9h-0.9zM324.6 653.6h0.9v0.9h-0.9zM303.6 650.5h0.9v0.9h-0.9zM319.7 663.9h0.9v0.9h-0.9zM295.0 673.4h0.9v0.9h-0.9zM289.0 673.2h0.9v0.9h-0.9zM260.3 666.7h0.9v0.9h-0.9zM268.3 662.4h0.9v0.9h-0.9zM290.6 655.3h0.9v0.9h-0.9zM288.5 671.8h0.9v0.9h-0.9zM287.3 671.8h0.9v0.9h-0.9zM302.9 652.8h0.9v0.9h-0.9zM257.1 670.0h0.9v0.9h-0.9zM254.9 673.3h0.9v0.9h-0.9zM319.6 664.7h0.9v0.9h-0.9zM315.5 667.3h0.9v0.9h-0.9zM315.9 667.4h0.9v0.9h-0.9zM288.2 656.4h0.9v0.9h-0.9zM322.3 653.3h0.9v0.9h-0.9zM320.0 665.8h0.9v0.9h-0.9zM314.5 649.0h0.9v0.9h-0.9zM271.2 672.4h0.9v0.9h-0.9zM279.2 658.8h0.9v0.9h-0.9zM259.6 667.9h0.9v0.9h-0.9zM318.2 663.6h0.9v0.9h-0.9zM322.6 662.4h0.9v0.9h-0.9zM276.4 674.0h0.9v0.9h-0.9zM271.9 662.1h0.9v0.9h-0.9zM267.5 671.6h0.9v0.9h-0.9zM296.8 654.9h0.9v0.9h-0.9zM274.1 671.0h0.9v0.9h-0.9zM262.1 665.5h0.9v0.9h-0.9zM322.0 649.9h0.9v0.9h-0.9zM261.7 666.1h0.9v0.9h-0.9zM293.6 652.2h0.9v0.9h-0.9zM276.4 658.4h0.9v0.9h-0.9zM318.7 649.4h0.9v0.9h-0.9zM267.8 671.5h0.9v0.9h-0.9zM301.4 649.8h0.9v0.9h-0.9zM321.8 651.7h0.9v0.9h-0.9zM282.1 672.2h0.9v0.9h-0.9zM260.5 664.1h0.9v0.9h-0.9zM320.7 659.7h0.9v0.9h-0.9zM301.1 671.0h0.9v0.9h-0.9zM280.9 676.1h0.9v0.9h-0.9zM260.4 674.2h0.9v0.9h-0.9zM268.8 671.9h0.9v0.9h-0.9zM274.7 671.9h0.9v0.9h-0.9zM324.1 662.7h0.9v0.9h-0.9zM265.0 674.2h0.9v0.9h-0.9zM265.2 675.6h0.9v0.9h-0.9zM284.2 670.9h0.9v0.9h-0.9zM288.9 656.4h0.9v0.9h-0.9zM321.6 658.7h0.9v0.9h-0.9zM255.0 668.6h0.9v0.9h-0.9zM311.8 670.5h0.9v0.9h-0.9zM281.3 672.6h0.9v0.9h-0.9zM287.2 674.1h0.9v0.9h-0.9zM312.7 671.1h0.9v0.9h-0.9zM297.7 670.3h0.9v0.9h-0.9zM304.5 652.0h0.9v0.9h-0.9zM322.9 658.8h0.9v0.9h-0.9zM282.1 657.8h0.9v0.9h-0.9zM320.8 665.6h0.9v0.9h-0.9zM312.4 650.9h0.9v0.9h-0.9zM310.3 668.9h0.9v0.9h-0.9zM315.6 648.5h0.9v0.9h-0.9zM321.9 650.7h0.9v0.9h-0.9zM260.2 667.0h0.9v0.9h-0.9zM300.5 670.0h0.9v0.9h-0.9zM292.3 655.0h0.9v0.9h-0.9zM320.1 659.0h0.9v0.9h-0.9zM288.7 655.0h0.9v0.9h-0.9zM315.7 650.0h0.9v0.9h-0.9zM271.1 674.0h0.9v0.9h-0.9zM297.7 652.3h0.9v0.9h-0.9zM293.7 653.1h0.9v0.9h-0.9zM289.9 654.9h0.9v0.9h-0.9zM322.1 659.9h0.9v0.9h-0.9zM274.9 658.9h0.9v0.9h-0.9zM321.8 657.1h0.9v0.9h-0.9zM303.8 650.2h0.9v0.9h-0.9zM317.9 665.1h0.9v0.9h-0.9zM276.0 674.4h0.9v0.9h-0.9zM314.0 650.3h0.9v0.9h-0.9zM266.0 663.3h0.9v0.9h-0.9zM320.4 650.4h0.9v0.9h-0.9zM259.8 669.8h0.9v0.9h-0.9zM305.3 651.2h0.9v0.9h-0.9zM260.5 674.4h0.9v0.9h-0.9zM323.2 666.8h0.9v0.9h-0.9zM314.4 664.3h0.9v0.9h-0.9zM322.0 667.1h0.9v0.9h-0.9zM315.1 663.8h0.9v0.9h-0.9zM321.1 665.0h0.9v0.9h-0.9zM321.5 650.3h0.9v0.9h-0.9zM320.1 650.6h0.9v0.9h-0.9zM316.2 668.3h0.9v0.9h-0.9zM315.2 661.9h0.9v0.9h-0.9zM318.9 661.1h0.9v0.9h-0.9zM323.8 669.3h0.9v0.9h-0.9zM324.5 663.6h0.9v0.9h-0.9zM324.8 666.2h0.9v0.9h-0.9zM319.1 649.8h0.9v0.9h-0.9zM324.9 652.6h0.9v0.9h-0.9zM316.0 657.0h0.9v0.9h-0.9zM318.8 659.6h0.9v0.9h-0.9zM320.6 656.2h0.9v0.9h-0.9zM320.7 651.7h0.9v0.9h-0.9zM325.8 666.0h0.9v0.9h-0.9zM316.4 664.1h0.9v0.9h-0.9zM325.6 664.6h0.9v0.9h-0.9zM315.6 665.3h0.9v0.9h-0.9zM325.9 659.5h0.9v0.9h-0.9zM315.3 666.9h0.9v0.9h-0.9zM318.8 660.7h0.9v0.9h-0.9zM320.6 667.2h0.9v0.9h-0.9zM318.1 655.7h0.9v0.9h-0.9zM326.2 663.9h0.9v0.9h-0.9zM320.3 660.4h0.9v0.9h-0.9zM316.0 651.2h0.9v0.9h-0.9zM321.3 665.7h0.9v0.9h-0.9zM319.8 657.5h0.9v0.9h-0.9zM318.9 649.7h0.9v0.9h-0.9zM319.0 666.3h0.9v0.9h-0.9zM323.0 661.6h0.9v0.9h-0.9zM314.8 659.9h0.9v0.9h-0.9zM319.5 667.7h0.9v0.9h-0.9zM319.7 662.2h0.9v0.9h-0.9zM326.7 655.5h0.9v0.9h-0.9zM315.7 653.4h0.9v0.9h-0.9zM315.6 659.2h0.9v0.9h-0.9zM319.6 663.2h0.9v0.9h-0.9zM317.6 650.7h0.9v0.9h-0.9zM325.8 663.8h0.9v0.9h-0.9zM326.7 667.0h0.9v0.9h-0.9zM319.2 661.0h0.9v0.9h-0.9zM316.9 656.1h0.9v0.9h-0.9zM319.4 662.8h0.9v0.9h-0.9zM317.5 656.0h0.9v0.9h-0.9zM323.6 662.9h0.9v0.9h-0.9zM326.6 660.5h0.9v0.9h-0.9zM315.2 666.6h0.9v0.9h-0.9zM326.4 653.7h0.9v0.9h-0.9zM325.5 666.5h0.9v0.9h-0.9zM326.0 663.7h0.9v0.9h-0.9zM314.1 650.4h0.9v0.9h-0.9zM323.2 661.5h0.9v0.9h-0.9zM314.5 663.0h0.9v0.9h-0.9zM321.9 651.4h0.9v0.9h-0.9zM322.9 650.7h0.9v0.9h-0.9zM323.1 656.0h0.9v0.9h-0.9zM319.8 659.0h0.9v0.9h-0.9zM314.6 655.9h0.9v0.9h-0.9zM319.7 655.0h0.9v0.9h-0.9zM322.4 652.0h0.9v0.9h-0.9zM324.4 665.4h0.9v0.9h-0.9zM316.1 661.2h0.9v0.9h-0.9zM325.0 654.5h0.9v0.9h-0.9zM317.7 665.3h0.9v0.9h-0.9zM315.3 653.0h0.9v0.9h-0.9zM314.5 649.0h0.9v0.9h-0.9zM317.1 651.0h0.9v0.9h-0.9zM320.2 663.2h0.9v0.9h-0.9zM314.4 662.4h0.9v0.9h-0.9zM316.1 667.9h0.9v0.9h-0.9zM318.5 669.6h0.9v0.9h-0.9zM318.6 655.4h0.9v0.9h-0.9zM326.4 658.8h0.9v0.9h-0.9zM322.9 665.6h0.9v0.9h-0.9zM320.9 651.4h0.9v0.9h-0.9zM325.9 658.8h0.9v0.9h-0.9zM318.6 654.3h0.9v0.9h-0.9zM319.5 656.8h0.9v0.9h-0.9zM320.3 658.3h0.9v0.9h-0.9zM314.9 668.4h0.9v0.9h-0.9zM321.5 652.3h0.9v0.9h-0.9zM325.4 659.8h0.9v0.9h-0.9zM325.7 668.4h0.9v0.9h-0.9zM325.8 661.9h0.9v0.9h-0.9zM318.7 654.1h0.9v0.9h-0.9zM322.6 663.8h0.9v0.9h-0.9zM316.0 666.8h0.9v0.9h-0.9zM319.5 655.8h0.9v0.9h-0.9zM321.5 657.8h0.9v0.9h-0.9zM314.7 663.8h0.9v0.9h-0.9zM325.4 657.9h0.9v0.9h-0.9zM326.4 662.2h0.9v0.9h-0.9zM325.0 669.5h0.9v0.9h-0.9zM318.6 665.7h0.9v0.9h-0.9zM324.3 657.6h0.9v0.9h-0.9zM326.2 654.1h0.9v0.9h-0.9zM319.7 666.4h0.9v0.9h-0.9zM322.9 661.2h0.9v0.9h-0.9zM325.9 664.5h0.9v0.9h-0.9zM314.9 654.8h0.9v0.9h-0.9zM314.7 663.1h0.9v0.9h-0.9zM315.0 655.2h0.9v0.9h-0.9zM317.0 654.6h0.9v0.9h-0.9zM326.2 651.1h0.9v0.9h-0.9zM323.9 667.2h0.9v0.9h-0.9zM319.9 665.2h0.9v0.9h-0.9zM313.8 664.2h0.9v0.9h-0.9zM314.8 654.5h0.9v0.9h-0.9zM314.4 663.8h0.9v0.9h-0.9zM320.5 660.7h0.9v0.9h-0.9zM325.1 651.8h0.9v0.9h-0.9zM315.4 661.7h0.9v0.9h-0.9zM321.9 661.7h0.9v0.9h-0.9zM314.9 667.4h0.9v0.9h-0.9zM322.8 650.5h0.9v0.9h-0.9zM325.4 665.9h0.9v0.9h-0.9zM317.9 650.0h0.9v0.9h-0.9zM319.0 653.7h0.9v0.9h-0.9zM318.5 650.7h0.9v0.9h-0.9zM316.1 667.4h0.9v0.9h-0.9zM315.7 667.7h0.9v0.9h-0.9zM324.2 665.5h0.9v0.9h-0.9zM324.9 658.4h0.9v0.9h-0.9zM314.5 648.7h0.9v0.9h-0.9zM315.4 661.0h0.9v0.9h-0.9zM320.6 658.4h0.9v0.9h-0.9zM322.3 658.4h0.9v0.9h-0.9zM320.1 660.6h0.9v0.9h-0.9zM317.9 659.5h0.9v0.9h-0.9zM323.4 662.4h0.9v0.9h-0.9zM321.6 657.9h0.9v0.9h-0.9zM317.4 662.5h0.9v0.9h-0.9zM321.7 649.3h0.9v0.9h-0.9zM318.8 649.3h0.9v0.9h-0.9z" fill="#2a2aff" fill-opacity="0.8"/>
<rect x="245.9" y="587.1" width="170.1" height="91.79999999999995" fill="none" stroke="#555" stroke-width="1.0"/>
<line x1="327.0" y1="587.1" x2="327.0" y2="678.9" stroke="#666" stroke-width="1.0"/>
<line x1="245.9" y1="647.5" x2="416.0" y2="647.5" stroke="#666" stroke-width="1.0"/>
<path d="M241.4 596.0046h4.5M243.4 598.2h2.5M243.4 600.4h2.5M243.4 602.6h2.5M243.4 604.8h2.5M243.4 607.0h2.5M243.4 609.2h2.5M243.4 611.4h2.5M241.4 616.476h4.5M243.4 618.7h2.5M243.4 620.9h2.5M243.4 623.1h2.5M243.4 625.3h2.5M243.4 627.5h2.5M243.4 629.7h2.5M243.4 631.9h2.5M241.4 636.9474h4.5M243.4 639.1h2.5M243.4 641.3h2.5M243.4 643.5h2.5M243.4 645.7h2.5M243.4 647.9h2.5M243.4 650.1h2.5M243.4 652.3h2.5M241.4 657.5106h4.5M243.4 659.7h2.5M243.4 661.9h2.5M243.4 664.1h2.5M243.4 666.3h2.5M243.4 668.5h2.5M243.4 670.7h2.5M243.4 672.9h2.5M241.4 670.4h4.5M243.4 672.6h2.5M243.4 674.8h2.5M243.4 677.0h2.5M241.4 678.9h4.5" stroke="#555" stroke-width="0.75" fill="none"/>
<path d="M247.9 678.9v4.5M250.5 678.9v2.5M253.1 678.9v2.5M255.7 678.9v2.5M258.3 678.9v2.5M260.9 678.9v2.5M263.5 678.9v2.5M266.1 678.9v2.5M257.9 678.9v4.5M260.5 678.9v2.5M263.1 678.9v2.5M265.7 678.9v2.5M268.3 678.9v2.5M270.9 678.9v2.5M273.5 678.9v2.5M276.1 678.9v2.5M281.9 678.9v4.5M284.5 678.9v2.5M287.1 678.9v2.5M289.7 678.9v2.5M292.3 678.9v2.5M294.9 678.9v2.5M297.5 678.9v2.5M300.1 678.9v2.5M324.0 678.9v4.5M326.6 678.9v2.5M329.2 678.9v2.5M331.8 678.9v2.5M334.4 678.9v2.5M337.0 678.9v2.5M339.6 678.9v2.5M342.2 678.9v2.5M360.0 678.9v4.5M362.6 678.9v2.5M365.2 678.9v2.5M367.8 678.9v2.5M370.4 678.9v2.5M373.0 678.9v2.5M375.6 678.9v2.5M378.2 678.9v2.5M399.0 678.9v4.5M401.6 678.9v2.5M404.2 678.9v2.5M406.8 678.9v2.5M409.4 678.9v2.5M412.0 678.9v2.5M414.6 678.9v2.5" stroke="#555" stroke-width="0.75" fill="none"/>
<text x="257.9" y="689.4" font-size="4.8" text-anchor="middle" font-weight="normal" fill="#333" stroke="#333" stroke-width="0">0</text>
<text x="281.9" y="689.4" font-size="4.8" text-anchor="middle" font-weight="normal" fill="#333" stroke="#333" stroke-width="0">10²</text>
<text x="324.0" y="689.4" font-size="4.8" text-anchor="middle" font-weight="normal" fill="#333" stroke="#333" stroke-width="0">10³</text>
<text x="360.0" y="689.4" font-size="4.8" text-anchor="middle" font-weight="normal" fill="#333" stroke="#333" stroke-width="0">10⁴</text>
<text x="399.0" y="689.4" font-size="4.8" text-anchor="middle" font-weight="normal" fill="#333" stroke="#333" stroke-width="0">10⁵</text>
<text x="244.9" y="690.9" font-size="4.4" text-anchor="middle" font-weight="normal" fill="#333" stroke="#333" stroke-width="0">-48</text>
<text x="238.4" y="596.0046" font-size="4.8" text-anchor="middle" font-weight="normal" fill="#333" stroke="#333" stroke-width="0" transform="rotate(-90 238.4 596.0046)">10⁵</text>
<text x="238.4" y="616.476" font-size="4.8" text-anchor="middle" font-weight="normal" fill="#333" stroke="#333" stroke-width="0" transform="rotate(-90 238.4 616.476)">10⁴</text>
<text x="238.4" y="636.9474" font-size="4.8" text-anchor="middle" font-weight="normal" fill="#333" stroke="#333" stroke-width="0" transform="rotate(-90 238.4 636.9474)">10³</text>
<text x="238.4" y="657.5106" font-size="4.8" text-anchor="middle" font-weight="normal" fill="#333" stroke="#333" stroke-width="0" transform="rotate(-90 238.4 657.5106)">10²</text>
<text x="238.4" y="670.4" font-size="4.8" text-anchor="middle" font-weight="normal" fill="#333" stroke="#333" stroke-width="0" transform="rotate(-90 238.4 670.4)">0</text>
<text x="238.4" y="678.9" font-size="4.8" text-anchor="middle" font-weight="normal" fill="#333" stroke="#333" stroke-width="0" transform="rotate(-90 238.4 678.9)">-62</text>
<text x="248.5" y="596.7" font-size="9.5" text-anchor="start" font-weight="bold" fill="#222" stroke="#222" stroke-width="0.28">dead</text>
<text x="248.5" y="609.5" font-size="9.5" text-anchor="start" font-weight="bold" fill="#222" stroke="#222" stroke-width="0.28">0.4%</text>
<text x="413.6" y="596.7" font-size="9.5" text-anchor="end" font-weight="bold" fill="#222" stroke="#222" stroke-width="0.28">late apoptotic</text>
<text x="410.0" y="609.5" font-size="9.5" text-anchor="end" font-weight="bold" fill="#222" stroke="#222" stroke-width="0.28">2.1%</text>
<text x="248.5" y="658.3" font-size="9.5" text-anchor="start" font-weight="bold" fill="#222" stroke="#222" stroke-width="0.28">94.7%</text>
<text x="410.0" y="658.3" font-size="9.5" text-anchor="end" font-weight="bold" fill="#222" stroke="#222" stroke-width="0.28">2.8%</text>
<text x="248.5" y="677.6999999999999" font-size="9.5" text-anchor="start" font-weight="bold" fill="#222" stroke="#222" stroke-width="0.28">live</text>
<text x="413.6" y="675.3" font-size="9.5" text-anchor="end" font-weight="bold" fill="#222" stroke="#222" stroke-width="0.28">early apoptotic</text>
<text x="328.4" y="699.6999999999999" font-size="9.8" text-anchor="middle" font-weight="bold" fill="#222" stroke="#222" stroke-width="0.28">FITC</text>
<text x="30.2" y="516.0" font-size="9.8" text-anchor="middle" font-weight="bold" fill="#222" stroke="#222" stroke-width="0.28" transform="rotate(-90 30.2 516.0)">PI</text>
<text x="30.4" y="634.6" font-size="9.8" text-anchor="middle" font-weight="bold" fill="#222" stroke="#222" stroke-width="0.28" transform="rotate(-90 30.4 634.6)">PI</text>
<text x="230.2" y="508.6" font-size="9.8" text-anchor="middle" font-weight="bold" fill="#222" stroke="#222" stroke-width="0.28" transform="rotate(-90 230.2 508.6)">PI</text>
<polyline points="21.7,476.6 15.7,476.6 15.7,558.2 21.7,558.2" fill="none" stroke="#666" stroke-width="1.0"/>
<polyline points="21.5,594.9 15.9,594.9 15.9,677.1 21.5,677.1" fill="none" stroke="#666" stroke-width="1.0"/>
<text x="12.0" y="517.5" font-size="9.8" text-anchor="middle" font-weight="bold" fill="#222" stroke="#222" stroke-width="0.28" transform="rotate(-90 12.0 517.5)">Ctr</text>
<text x="13.6" y="636.6" font-size="9.6" text-anchor="middle" font-weight="bold" fill="#222" stroke="#222" stroke-width="0.28" transform="rotate(-90 13.6 636.6)">USP10 KO</text>
<polyline points="56.2,697.5 56.2,703.6 210.4,703.6 210.4,697.5" fill="none" stroke="#666" stroke-width="1.0"/>
<polyline points="253.7,697.6 253.7,703.4 407.9,703.4 407.9,697.6" fill="none" stroke="#666" stroke-width="1.0"/>
<text x="133.1" y="715.2" font-size="9.8" text-anchor="middle" font-weight="bold" fill="#222" stroke="#222" stroke-width="0.28">Untreated</text>
<text x="331.2" y="714.8" font-size="9.6" text-anchor="middle" font-weight="normal" fill="#222" stroke="#222" stroke-width="0.45">EGF</text>
<text x="458.0" y="451.4" font-size="13.8" text-anchor="start" font-weight="bold" fill="#222" stroke="#222" stroke-width="0.28">F</text>
<line x1="506.7" y1="510.8" x2="506.7" y2="647.0" stroke="#666" stroke-width="1.0"/>
<line x1="506.2" y1="647.0" x2="654.4" y2="647.0" stroke="#555" stroke-width="1.2"/>
<text x="494.6" y="650.1" font-size="8.8" text-anchor="middle" font-weight="bold" fill="#222" stroke="#222" stroke-width="0.28">0</text>
<text x="494.6" y="630.44" font-size="8.8" text-anchor="middle" font-weight="bold" fill="#222" stroke="#222" stroke-width="0.28">0.2</text>
<text x="494.6" y="610.7800000000001" font-size="8.8" text-anchor="middle" font-weight="bold" fill="#222" stroke="#222" stroke-width="0.28">0.4</text>
<text x="494.6" y="591.12" font-size="8.8" text-anchor="middle" font-weight="bold" fill="#222" stroke="#222" stroke-width="0.28">0.6</text>
<text x="494.6" y="571.46" font-size="8.8" text-anchor="middle" font-weight="bold" fill="#222" stroke="#222" stroke-width="0.28">0.8</text>
<text x="494.6" y="551.8000000000001" font-size="8.8" text-anchor="middle" font-weight="bold" fill="#222" stroke="#222" stroke-width="0.28">1</text>
<text x="494.6" y="532.1400000000001" font-size="8.8" text-anchor="middle" font-weight="bold" fill="#222" stroke="#222" stroke-width="0.28">1.2</text>
<text x="494.6" y="512.48" font-size="8.8" text-anchor="middle" font-weight="bold" fill="#222" stroke="#222" stroke-width="0.28">1.4</text>
<text x="465.6" y="582.7" font-size="9.4" text-anchor="middle" font-weight="bold" fill="#222" stroke="#222" stroke-width="0.28" transform="rotate(-90 465.6 582.7)">rate of apoptosis</text>
<text x="476.6" y="582.2" font-size="9.4" text-anchor="middle" font-weight="bold" fill="#222" stroke="#222" stroke-width="0.28" transform="rotate(-90 476.6 582.2)">[fold change]</text>
<rect x="517.5" y="548.6" width="13.0" height="98.39999999999998" fill="#333333" stroke="#222" stroke-width="0.5"/>
<rect x="531.8" y="557.447" width="13.0" height="89.553" fill="#595959" stroke="#222" stroke-width="0.5"/>
<rect x="546.3" y="574.6495" width="13.0" height="72.35050000000001" fill="#ff1c0c" stroke="#222" stroke-width="0.5"/>
<rect x="560.9" y="559.9045" width="13.0" height="87.09550000000002" fill="#d2475a" stroke="#222" stroke-width="0.5"/>
<rect x="598.4" y="549.0915" width="13.0" height="97.9085" fill="#333333" stroke="#222" stroke-width="0.5"/>
<rect x="612.2" y="537.787" width="13.0" height="109.21299999999997" fill="#595959" stroke="#222" stroke-width="0.5"/>
<rect x="626.9" y="575.141" width="13.0" height="71.85900000000004" fill="#ff1c0c" stroke="#222" stroke-width="0.5"/>
<rect x="641.3" y="563.345" width="13.0" height="83.65499999999997" fill="#d2475a" stroke="#222" stroke-width="0.5"/>
<line x1="538.4" y1="550.2" x2="538.4" y2="557.447" stroke="#9a9a9a" stroke-width="0.9"/>
<line x1="536.8" y1="550.2" x2="540.0" y2="550.2" stroke="#9a9a9a" stroke-width="0.9"/>
<line x1="552.7" y1="560.0" x2="552.7" y2="574.6495" stroke="#9a9a9a" stroke-width="0.9"/>
<line x1="551.1" y1="560.0" x2="554.3000000000001" y2="560.0" stroke="#9a9a9a" stroke-width="0.9"/>
<line x1="567.6" y1="528.3" x2="567.6" y2="559.9045" stroke="#9a9a9a" stroke-width="0.9"/>
<line x1="566.0" y1="528.3" x2="569.2" y2="528.3" stroke="#9a9a9a" stroke-width="0.9"/>
<line x1="618.9" y1="523.1" x2="618.9" y2="537.787" stroke="#9a9a9a" stroke-width="0.9"/>
<line x1="617.3" y1="523.1" x2="620.5" y2="523.1" stroke="#9a9a9a" stroke-width="0.9"/>
<line x1="633.0" y1="543.7" x2="633.0" y2="575.141" stroke="#9a9a9a" stroke-width="0.9"/>
<line x1="631.4" y1="543.7" x2="634.6" y2="543.7" stroke="#9a9a9a" stroke-width="0.9"/>
<line x1="647.6" y1="556.6" x2="647.6" y2="563.345" stroke="#9a9a9a" stroke-width="0.9"/>
<line x1="646.0" y1="556.6" x2="649.2" y2="556.6" stroke="#9a9a9a" stroke-width="0.9"/>
<line x1="586.4" y1="507.4" x2="586.4" y2="647.0" stroke="#555" stroke-width="1.0" stroke-dasharray="2.6 2.4"/>
<text x="546.4" y="498.0" font-size="9.4" text-anchor="middle" font-weight="bold" fill="#222" stroke="#222" stroke-width="0.28">early</text>
<text x="546.2" y="507.4" font-size="9.4" text-anchor="middle" font-weight="bold" fill="#222" stroke="#222" stroke-width="0.28">apoptosis</text>
<text x="626.5" y="497.6" font-size="9.4" text-anchor="middle" font-weight="bold" fill="#222" stroke="#222" stroke-width="0.28">late</text>
<text x="626.3" y="507.4" font-size="9.4" text-anchor="middle" font-weight="bold" fill="#222" stroke="#222" stroke-width="0.28">apoptosis</text>
<text x="508.8" y="660.7" font-size="9.4" text-anchor="end" font-weight="normal" fill="#1a1a1a" stroke="#1a1a1a" stroke-width="0.2">EGF</text>
<text x="525.0" y="657.2" font-size="10.4" text-anchor="middle" font-weight="normal" fill="#222" stroke="#222" stroke-width="0.2">-</text>
<text x="535.7" y="657.2" font-size="10.4" text-anchor="middle" font-weight="normal" fill="#222" stroke="#222" stroke-width="0.2">+</text>
<text x="553.6" y="657.2" font-size="10.4" text-anchor="middle" font-weight="normal" fill="#222" stroke="#222" stroke-width="0.2">-</text>
<text x="564.4" y="657.2" font-size="10.4" text-anchor="middle" font-weight="normal" fill="#222" stroke="#222" stroke-width="0.2">+</text>
<text x="605.3" y="657.2" font-size="10.4" text-anchor="middle" font-weight="normal" fill="#222" stroke="#222" stroke-width="0.2">-</text>
<text x="615.9" y="657.2" font-size="10.4" text-anchor="middle" font-weight="normal" fill="#222" stroke="#222" stroke-width="0.2">+</text>
<text x="634.6" y="657.2" font-size="10.4" text-anchor="middle" font-weight="normal" fill="#222" stroke="#222" stroke-width="0.2">-</text>
<text x="645.3" y="657.2" font-size="10.4" text-anchor="middle" font-weight="normal" fill="#222" stroke="#222" stroke-width="0.2">+</text>
<polyline points="519.1,658.2 519.1,664.5 542.4,664.5 542.4,658.2" fill="none" stroke="#666" stroke-width="1.0"/>
<polyline points="548.2,658.2 548.2,664.5 572.2,664.5 572.2,658.2" fill="none" stroke="#666" stroke-width="1.0"/>
<polyline points="598.4,658.8 598.4,664.3 622.9,664.3 622.9,658.8" fill="none" stroke="#666" stroke-width="1.0"/>
<polyline points="629.4,658.8 629.4,664.3 653.6,664.3 653.6,658.8" fill="none" stroke="#666" stroke-width="1.0"/>
<text x="530.8" y="674.2" font-size="9.4" text-anchor="middle" font-weight="bold" fill="#222" stroke="#222" stroke-width="0.28">Ctr</text>
<text x="610.2" y="674.2" font-size="9.4" text-anchor="middle" font-weight="bold" fill="#222" stroke="#222" stroke-width="0.28">Ctr</text>
<text x="559.8" y="674.0" font-size="9.4" text-anchor="middle" font-weight="bold" fill="#222" stroke="#222" stroke-width="0.28">USP10</text>
<text x="559.8" y="685.4" font-size="9.4" text-anchor="middle" font-weight="bold" fill="#222" stroke="#222" stroke-width="0.28">KO</text>
<text x="642.2" y="674.0" font-size="9.4" text-anchor="middle" font-weight="bold" fill="#222" stroke="#222" stroke-width="0.28">USP10</text>
<text x="642.4" y="685.4" font-size="9.4" text-anchor="middle" font-weight="bold" fill="#222" stroke="#222" stroke-width="0.28">KO</text>
</svg></body></html>
